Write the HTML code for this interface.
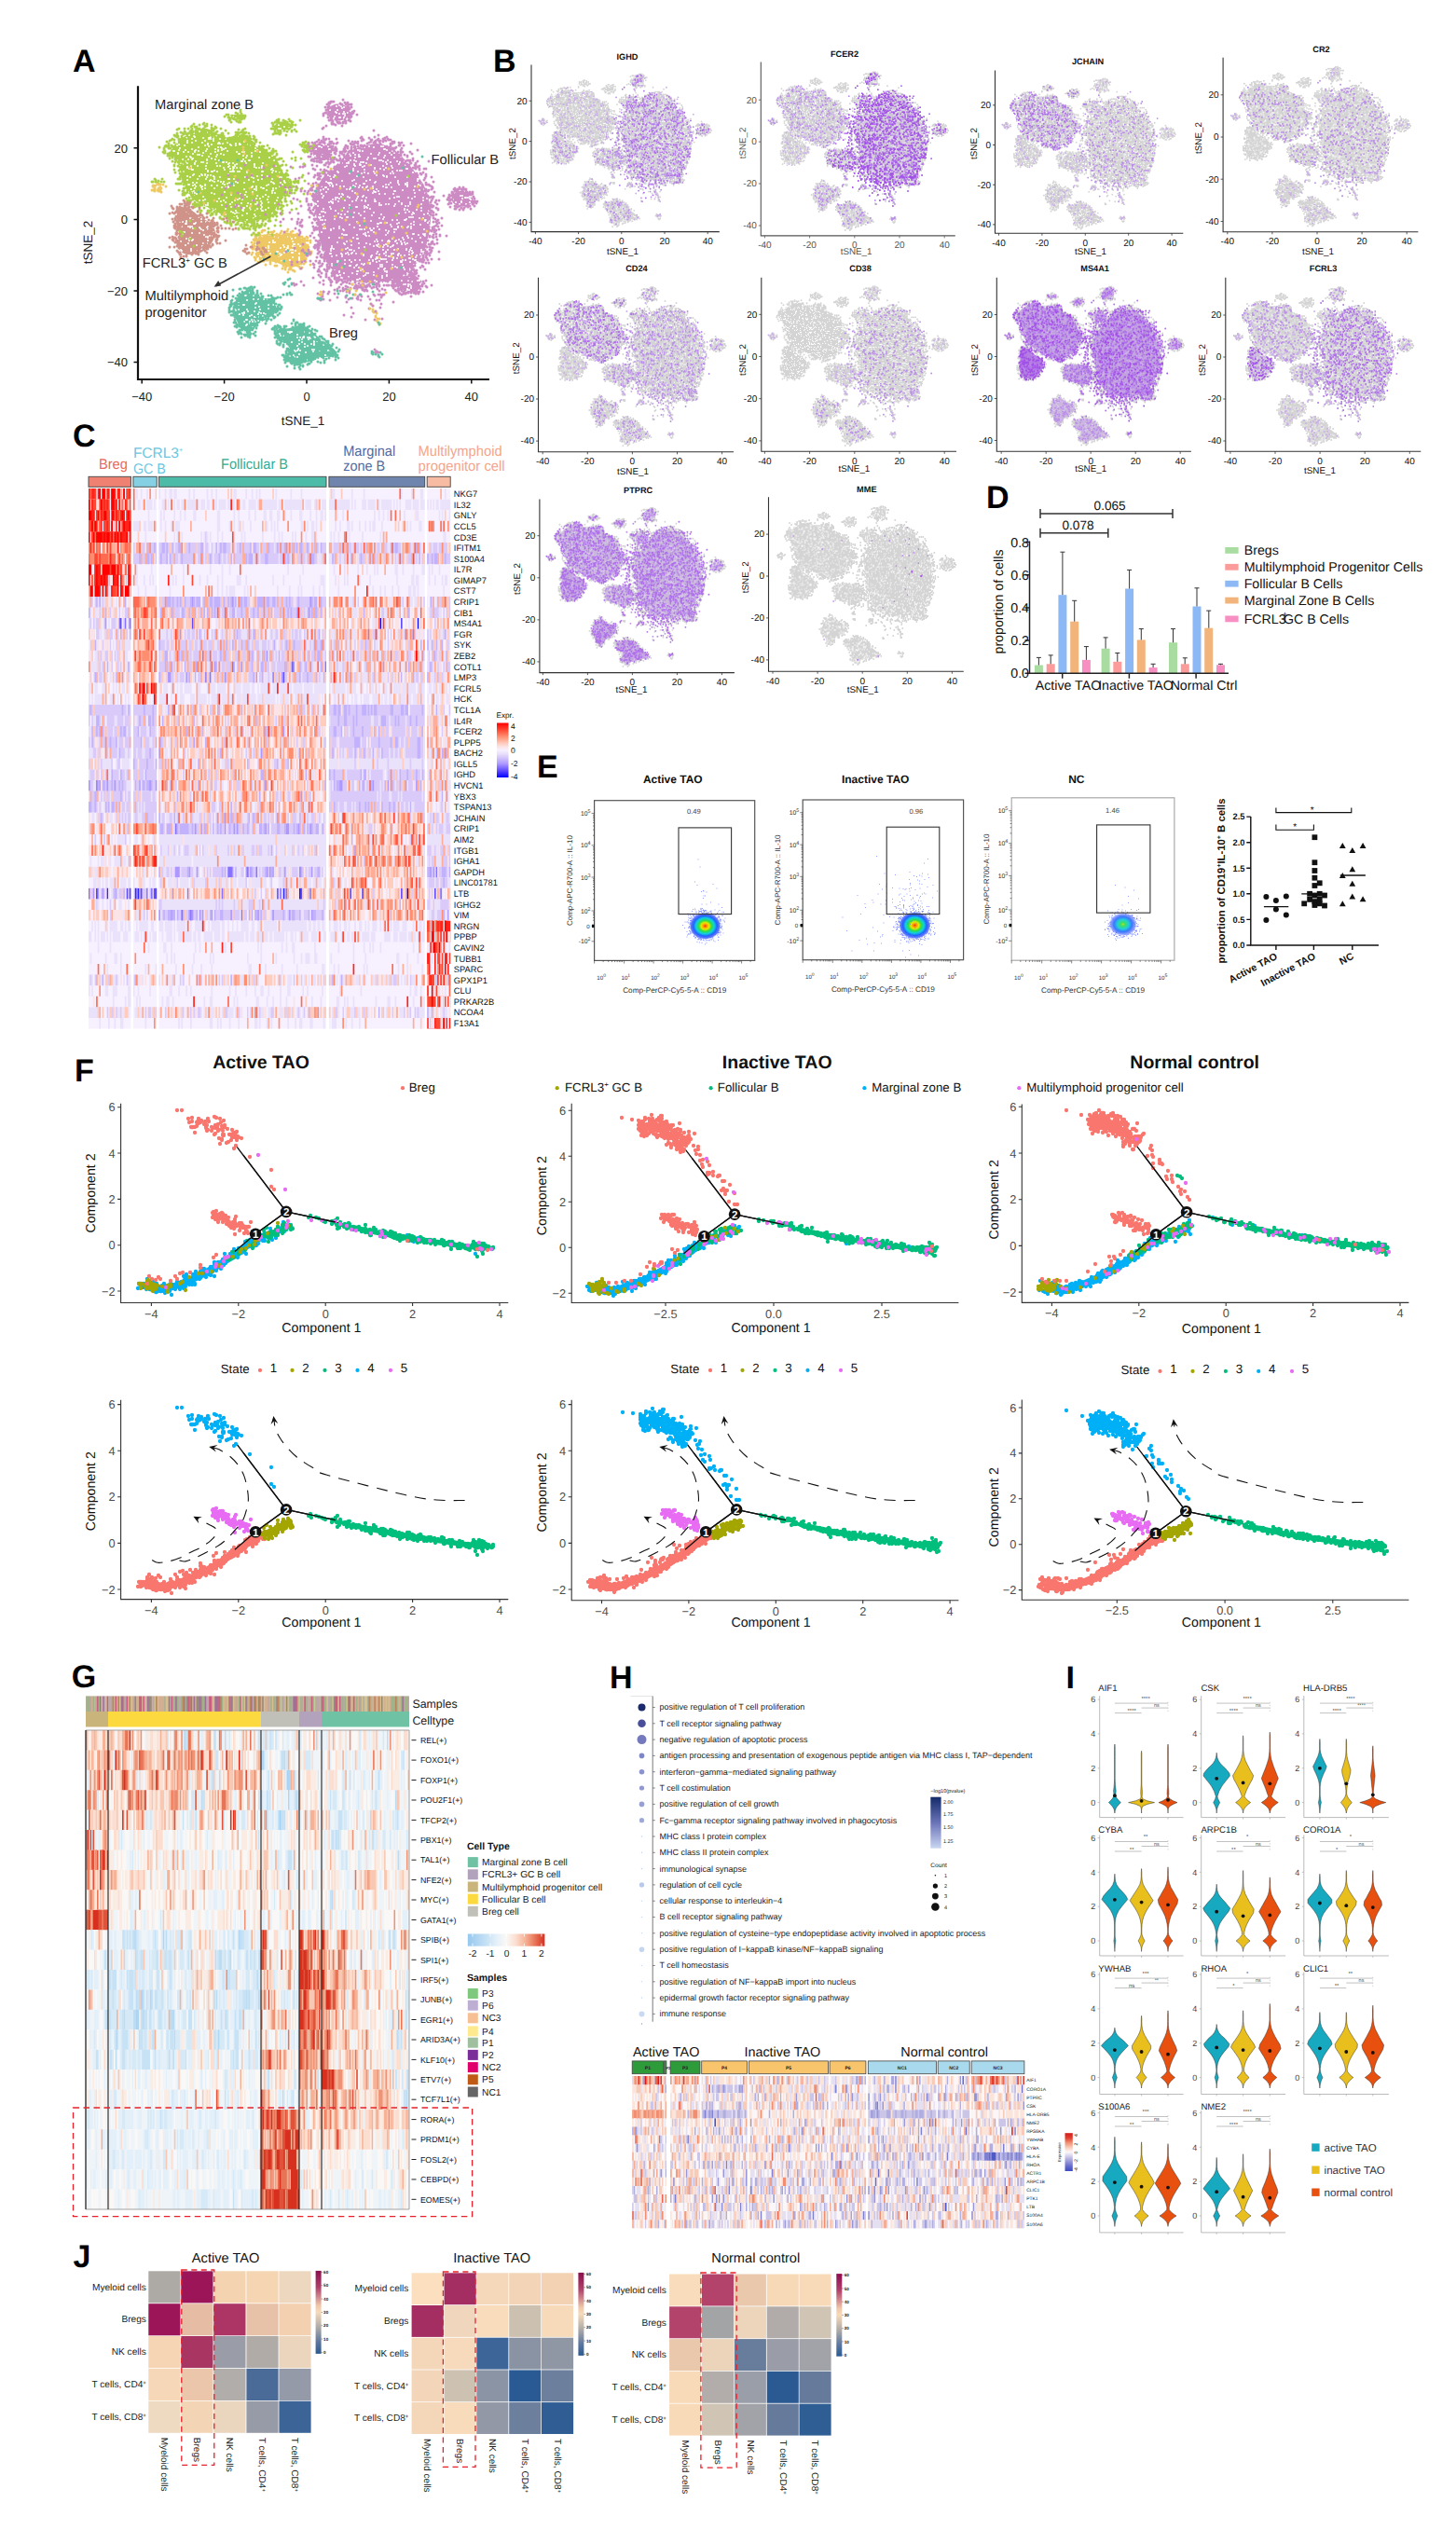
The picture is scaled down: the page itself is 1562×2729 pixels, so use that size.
<!DOCTYPE html>
<html><head><meta charset="utf-8"><title>Figure</title>
<style>html,body{margin:0;padding:0;background:#fff}svg{display:block;font-family:'Liberation Sans',sans-serif;text-rendering:geometricPrecision}</style>
</head><body>
<svg width="1562" height="2729" viewBox="0 0 1562 2729">
<rect width="1562" height="2729" fill="#fff"/>
<g id="panelA">
<path d="M379.8 160Q386.2 157.1 396.4 154.9Q406.6 152.7 415.1 156.6Q423.6 160.5 430.4 167.3Q437.2 174.1 443.1 181.7Q449.1 189.4 453.7 197Q458.3 204.7 460.6 217.4Q463 230.2 461.3 243.8Q459.6 257.3 455.5 267.5Q451.5 277.7 443.5 286.2Q435.5 294.7 421.9 300.2Q408.3 305.6 394.7 303.9Q381.1 302.2 370.9 298.8Q360.7 295.4 354.8 287.4Q348.8 279.4 345.9 268.4Q343.1 257.3 341.2 243.8Q339.3 230.2 337.6 220.8Q335.9 211.5 340.3 201.3Q344.8 191.1 352.7 184.3Q360.7 177.5 367 170.2Q373.3 162.9 379.8 160Z" fill="#cd8bc3"/>
<path d="M374.8 121.9Q375.1 120.5 374.8 119.1Q374.5 117.7 373.6 116.4Q372.8 115.1 371.4 114.1Q370.1 113.1 368.4 112.4Q366.7 111.8 364.9 111.5Q363 111.3 361.2 111.5Q359.3 111.8 357.6 112.4Q356 113.1 354.6 114.1Q353.3 115.1 352.5 116.4Q351.6 117.7 351.3 119.1Q351 120.5 351.3 121.9Q351.6 123.3 352.5 124.6Q353.3 125.9 354.6 126.9Q356 127.9 357.6 128.6Q359.3 129.2 361.2 129.5Q363 129.7 364.9 129.5Q366.7 129.2 368.4 128.6Q370.1 127.9 371.4 126.9Q372.8 125.9 373.6 124.6Q374.5 123.3 374.8 121.9Z" fill="#cd8bc3"/>
<path d="M356.1 164.1Q356.4 162.6 356.1 161.1Q355.9 159.6 355.1 158.2Q354.4 156.9 353.2 155.8Q352 154.7 350.6 154Q349.1 153.3 347.4 153.1Q345.8 152.8 344.2 153.1Q342.5 153.3 341 154Q339.6 154.7 338.4 155.8Q337.2 156.9 336.5 158.2Q335.7 159.6 335.4 161.1Q335.2 162.6 335.4 164.1Q335.7 165.7 336.5 167Q337.2 168.4 338.4 169.5Q339.6 170.6 341 171.3Q342.5 172 344.2 172.2Q345.8 172.4 347.4 172.2Q349.1 172 350.6 171.3Q352 170.6 353.2 169.5Q354.4 168.4 355.1 167Q355.9 165.7 356.1 164.1Z" fill="#cd8bc3"/>
<path d="M507.5 214.5Q507.7 213.2 507.5 211.9Q507.2 210.5 506.3 209.3Q505.5 208.1 504.2 207.2Q502.9 206.2 501.3 205.6Q499.7 205 497.9 204.8Q496.1 204.6 494.3 204.8Q492.5 205 490.8 205.6Q489.2 206.2 487.9 207.2Q486.6 208.1 485.8 209.3Q485 210.5 484.7 211.9Q484.4 213.2 484.7 214.5Q485 215.8 485.8 217Q486.6 218.2 487.9 219.2Q489.2 220.1 490.8 220.7Q492.5 221.3 494.3 221.6Q496.1 221.8 497.9 221.6Q499.7 221.3 501.3 220.7Q502.9 220.1 504.2 219.2Q505.5 218.2 506.3 217Q507.2 215.8 507.5 214.5Z" fill="#cd8bc3"/>
<path d="M452.6 305.8Q452.9 304.3 452.6 302.9Q452.3 301.5 451.3 300.2Q450.4 298.9 448.9 297.9Q447.4 296.9 445.5 296.3Q443.7 295.6 441.6 295.4Q439.5 295.1 437.4 295.4Q435.3 295.6 433.5 296.3Q431.6 296.9 430.1 297.9Q428.6 298.9 427.7 300.2Q426.7 301.5 426.4 302.9Q426.1 304.3 426.4 305.8Q426.7 307.2 427.7 308.5Q428.6 309.7 430.1 310.8Q431.6 311.8 433.5 312.4Q435.3 313.1 437.4 313.3Q439.5 313.5 441.6 313.3Q443.7 313.1 445.5 312.4Q447.4 311.8 448.9 310.8Q450.4 309.7 451.3 308.5Q452.3 307.2 452.6 305.8Z" fill="#cd8bc3"/>
<path d="M184.8 167.9Q180.3 163.4 186.1 156.4Q191.8 149.4 198.2 146.2Q204.6 143 211 139.8Q217.4 136.6 223.8 138.5Q230.1 140.4 234 144.3Q237.8 148.1 242.9 147.4Q248 146.8 254.4 144.9Q260.8 143 264.6 145.5Q268.5 148.1 270.4 152.6Q272.3 157 276.8 158.3Q281.2 159.6 287.6 162.8Q294 166 297.2 171.7Q300.4 177.5 302.3 182.6Q304.2 187.7 308.7 192.8Q313.2 197.9 310 203Q306.8 208.1 303.6 212.6Q300.4 217.1 297.2 222.2Q294 227.3 287.6 231.1Q281.2 235 274.8 237.5Q268.5 240.1 262.1 238.8Q255.7 237.5 249.3 235.6Q242.9 233.7 236.5 229.2Q230.1 224.7 223.8 222.8Q217.4 220.9 211 216.4Q204.6 212 200.1 203.7Q195.6 195.4 195 189Q194.4 182.6 191.8 177.5Q189.3 172.4 184.8 167.9Z" fill="#a9d046"/>
<path d="M259.7 126.3Q259.9 125.9 259.7 125.4Q259.5 124.9 258.9 124.5Q258.4 124.1 257.5 123.7Q256.7 123.4 255.6 123.2Q254.5 122.9 253.3 122.9Q252.1 122.8 250.9 122.9Q249.7 122.9 248.6 123.2Q247.5 123.4 246.7 123.7Q245.8 124.1 245.2 124.5Q244.7 124.9 244.5 125.4Q244.3 125.9 244.5 126.3Q244.7 126.8 245.2 127.2Q245.8 127.7 246.7 128Q247.5 128.3 248.6 128.6Q249.7 128.8 250.9 128.9Q252.1 128.9 253.3 128.9Q254.5 128.8 255.6 128.6Q256.7 128.3 257.5 128Q258.4 127.7 258.9 127.2Q259.5 126.8 259.7 126.3Z" fill="#a9d046"/>
<path d="M312.8 136.7Q313 135.8 312.8 135Q312.5 134.1 311.9 133.3Q311.2 132.6 310.2 132Q309.2 131.4 307.9 131Q306.6 130.6 305.2 130.4Q303.8 130.3 302.4 130.4Q301 130.6 299.7 131Q298.4 131.4 297.4 132Q296.4 132.6 295.7 133.3Q295.1 134.1 294.8 135Q294.6 135.8 294.8 136.7Q295.1 137.5 295.7 138.3Q296.4 139.1 297.4 139.7Q298.4 140.3 299.7 140.7Q301 141.1 302.4 141.2Q303.8 141.3 305.2 141.2Q306.6 141.1 307.9 140.7Q309.2 140.3 310.2 139.7Q311.2 139.1 311.9 138.3Q312.5 137.5 312.8 136.7Z" fill="#a9d046"/>
<path d="M333.1 158.1Q333.2 157.7 333.1 157.2Q333 156.7 332.7 156.3Q332.4 155.9 332 155.5Q331.5 155.2 330.9 155Q330.3 154.7 329.7 154.7Q329 154.6 328.3 154.7Q327.7 154.7 327.1 155Q326.5 155.2 326 155.5Q325.6 155.9 325.3 156.3Q325 156.7 324.9 157.2Q324.8 157.7 324.9 158.1Q325 158.6 325.3 159Q325.6 159.5 326 159.8Q326.5 160.1 327.1 160.3Q327.7 160.6 328.3 160.6Q329 160.7 329.7 160.6Q330.3 160.6 330.9 160.3Q331.5 160.1 332 159.8Q332.4 159.5 332.7 159Q333 158.6 333.1 158.1Z" fill="#a9d046"/>
<path d="M191.4 226.3Q192.2 224.1 196.1 222.4Q199.9 220.8 204.3 224.6Q208.7 228.5 213.7 231.8Q218.6 235.1 223.5 237.8Q228.5 240.6 230.1 245.5Q231.8 250.4 230.1 254.8Q228.5 259.2 225.2 263.1Q221.9 266.9 217.5 269.7Q213.1 272.4 208.2 273Q203.2 273.5 198.8 272.4Q194.4 271.3 191.7 266.4Q188.9 261.4 187.8 257.6Q186.7 253.7 188.4 249.3Q190 245 189.5 239.5Q188.9 234 189.8 231.2Q190.6 228.5 191.4 226.3Z" fill="#d09389"/>
<path d="M275.3 259.2Q275.9 253.5 280.4 252.2Q284.9 250.9 291.2 250.9Q297.6 250.9 304 250.3Q310.4 249.6 316.8 250.9Q323.2 252.2 326.4 257.3Q329.6 262.4 328.9 268.8Q328.3 275.2 325.7 279.7Q323.2 284.1 316.8 286.1Q310.4 288 304 284.8Q297.6 281.6 291.2 280.3Q284.9 279 280.4 277.8Q275.9 276.5 275.3 270.7Q274.6 265 275.3 259.2Z" fill="#eec862"/>
<path d="M249.6 332.3Q249.6 328.4 253.4 321.4Q257.2 314.4 263.6 311.8Q270 309.3 272.6 313.1Q275.1 316.9 279.6 318.8Q284.1 320.8 288.5 320.1Q293 319.5 294.9 324Q296.8 328.4 295.6 332.9Q294.3 337.4 289.2 340.6Q284.1 343.8 279.6 345.7Q275.1 347.6 272.6 353.3Q270 359.1 264.9 357.8Q259.8 356.5 257.2 350.8Q254.7 345 252.1 340.6Q249.6 336.1 249.6 332.3Z" fill="#62c2a3"/>
<path d="M297.4 359.2Q296.7 351.5 302.5 352.2Q308.2 352.8 312.1 351.5Q315.9 350.3 321 349.6Q326.1 349 329.9 351.5Q333.8 354.1 338.2 358.6Q342.7 363 347.2 366.2Q351.7 369.4 356.8 373.3Q361.9 377.1 360 380.3Q358 383.5 352.9 382.8Q347.8 382.2 342.1 384.8Q336.3 387.3 331.2 388Q326.1 388.6 322.3 390.8Q318.4 393.1 314.6 390.2Q310.8 387.3 308.2 385.4Q305.7 383.5 308.9 379Q312.1 374.5 310.1 372Q308.2 369.4 303.1 368.1Q298 366.9 297.4 359.2Z" fill="#62c2a3"/>
<path d="M364 113h0m5 2h0m-2 1h0m-1-2h0m-4 4h0m-1-4h0m-7 4h0m-107 7h0m3 0h0m102-2h0m7 2h0m1-5h0m1 1h0m3 1h0m4 0h0m1-2h0m1 2h0m0 2h0m3-3h0m-4 6h0m0-1h0m-4 0h0m-1 0h0m-6 1h0m-99 0h0m-6 0h0m-4 1h0m50 5h0m0 1h0m2-2h0m4 4h0m5 1h0m-2 3h0m-1 0h0m-4 0h0m-2-2h0m-2 0h0m-39 5h0m-31-2h0m-5 0h0m-1 1h0m-9-1h0m-6 2h0m-8 5h0m3-3h0m3 4h0m2-3h0m1 1h0m9 1h0m6 0h0m0 1h0m1-1h0m1-4h0m0 3h0m0 2h0m3 0h0m1-2h0m2-1h0m4 3h0m6 0h0m14-3h0m1-1h0m94 10h0m-1 0h0m-3 0h0m-2-1h0m-79 1h0m-3-4h0m-1 1h0m-4 3h0m-1 0h0m0-1h0m-4 0h0m-6 1h0m-3-2h0m-5 1h0m-3 0h0m-1-1h0m-1 1h0m-5-3h0m-2 4h0m-4 0h0m0-1h0m-3-3h0m-3 2h0m-7-2h0m-4 2h0m-5 0h0m0-2h0m-9 4h0m-2-2h0m-6 6h0m6-3h0m2 5h0m1-2h0m5-3h0m1 5h0m7-1h0m4 1h0m3-3h0m7-2h0m2 4h0m2-3h0m7 3h0m3-2h0m0 3h0m3-3h0m1 1h0m0 2h0m2-1h0m2-1h0m6-3h0m5 0h0m15 0h0m6 3h0m2 2h0m2-2h0m48-2h0m1 3h0m9 0h0m1 0h0m2 0h0m3-3h0m1 0h0m2 1h0m3-2h0m4 1h0m1 3h0m2 0h0m29 1h0m2-1h0m2-2h0m3 0h0m5-1h0m5 1h0m8-1h0m2 0h0m1 3h0m1 0h0m2 1h0m1-3h0m7 6h0m-2-2h0m-1 4h0m-2-2h0m-5 3h0m-6-3h0m-1 2h0m-8-1h0m-9-3h0m-3 0h0m-1 4h0m-4 0h0m-2-2h0m-3 3h0m-1-2h0m-20 0h0m-9 1h0m-8 1h0m-3-4h0m-43 4h0m-13-4h0m-5-1h0m-4 5h0m0-3h0m-5 3h0m-3-4h0m-1 4h0m-1-4h0m-3 2h0m-1 0h0m-2-2h0m-10-1h0m-4 4h0m-3-1h0m-3-3h0m-1 4h0m-2-3h0m-5 2h0m-5-3h0m-3 2h0m-1 3h0m-3-1h0m-1-4h0m-1 4h0m-3-3h0m0-1h0m-2 3h0m-5-2h0m-5 0h0m-6 2h0m0-1h0m-4-2h0m-1 5h0m0-5h0m0 7h0m4 3h0m6-1h0m3 2h0m1-5h0m2 3h0m2-3h0m1 1h0m1 2h0m1-1h0m3 3h0m12-2h0m0 1h0m2-4h0m3 2h0m4 1h0m1-3h0m3 4h0m24 1h0m1 0h0m1-2h0m2 2h0m1-4h0m3 3h0m1 0h0m2-4h0m8 1h0m11 0h0m5 3h0m45-3h0m6-1h0m25 3h0m6 1h0m4 0h0m1-3h0m1 4h0m3-5h0m1 0h0m8 3h0m1-2h0m6 1h0m2 0h0m4 2h0m2 0h0m2 1h0m1-4h0m4 3h0m7-3h0m3 4h0m4-5h0m4 5h0m4 4h0m-2-2h0m-1 2h0m-6-3h0m-1 2h0m-8 2h0m-1-4h0m-4 2h0m-1-2h0m-3 4h0m-13-1h0m-5-2h0m-2 3h0m-1-4h0m-1 5h0m0-5h0m-2 3h0m0-3h0m-1 3h0m0-1h0m-5 2h0m-1-1h0m0-1h0m-6-1h0m0-1h0m-2 4h0m0-3h0m-2 4h0m-3-4h0m-3 0h0m0-1h0m-68 4h0m-2 0h0m-12-3h0m-1 4h0m0-1h0m-8 1h0m0-2h0m0-1h0m-9-1h0m-10 1h0m-2 2h0m0-1h0m-2 2h0m0-4h0m-4 3h0m0-3h0m-1 4h0m0-3h0m-2-2h0m-3 0h0m-1 0h0m-3 4h0m-3 0h0m-1-3h0m-10 0h0m-1 3h0m-3-4h0m-2 0h0m-4 4h0m-3-2h0m0-1h0m-4 4h0m0-1h0m-4 1h0m0-4h0m-2-1h0m-3 2h0m-2-1h0m-1 3h0m4 6h0m4-4h0m2 1h0m2 0h0m1 1h0m1 0h0m14-1h0m2 2h0m0 1h0m4 0h0m1 0h0m2-1h0m3 1h0m7-4h0m1 2h0m6-1h0m0 3h0m2 0h0m1-3h0m0 2h0m1-3h0m0 4h0m3-4h0m1 4h0m2 0h0m1-4h0m1 1h0m6 3h0m0 1h0m10-5h0m3 0h0m3 0h0m0 4h0m1 0h0m9-2h0m1-1h0m0 4h0m1-2h0m3 1h0m4 1h0m57-3h0m5 2h0m1 1h0m16-4h0m0 2h0m5 1h0m7-2h0m0 3h0m10-1h0m1-4h0m0 1h0m2 3h0m4-3h0m4 1h0m2-2h0m7 0h0m0 4h0m5-1h0m3 0h0m2 0h0m5-2h0m1 0h0m6 4h0m-6 5h0m-13 0h0m-2-4h0m-3 0h0m-4 4h0m0-1h0m-3 0h0m-1-1h0m-7 0h0m-2-2h0m-7 0h0m-5 4h0m-2-4h0m-5 3h0m-8-3h0m-15 3h0m-1-1h0m-1 2h0m-4-1h0m-2-1h0m-50 2h0m-2 0h0m-13-1h0m-6-1h0m-5 1h0m-4 2h0m-2-1h0m-7 0h0m-18-3h0m-9 3h0m-6 0h0m-1-1h0m-3-1h0m-3 0h0m-1 2h0m-2-2h0m0-1h0m-3 1h0m-1-1h0m-2 2h0m-6-2h0m-1 1h0m-3 2h0m-3-1h0m-3 2h0m3 2h0m6 3h0m4 0h0m1-4h0m9 0h0m4 2h0m1-1h0m2 1h0m2-2h0m0 3h0m4-1h0m3 1h0m2 2h0m1-2h0m4 2h0m1-5h0m1 0h0m0 4h0m4 1h0m1-5h0m2 3h0m2 1h0m7 0h0m5-3h0m5 2h0m5-2h0m4-1h0m10 3h0m1-3h0m1 4h0m1 1h0m7-1h0m4-2h0m0 1h0m1 1h0m2 1h0m42-2h0m2 1h0m1 1h0m1-1h0m1-4h0m0 4h0m1 1h0m11-3h0m11 0h0m2-1h0m2 4h0m8 0h0m1 0h0m2-3h0m4-1h0m5 3h0m1-1h0m16 1h0m8-2h0m0 2h0m8 1h0m2-1h0m11-4h0m0 2h0m1-2h0m3 5h0m3 6h0m-4-4h0m-2-1h0m-4 2h0m-8 0h0m0-1h0m0-1h0m-2 0h0m-7 0h0m-8 3h0m-3-3h0m-2 3h0m-1 0h0m0-3h0m-3 2h0m-7 3h0m-4-1h0m0-2h0m-6 0h0m-1 1h0m-2 2h0m-2-2h0m-3-2h0m-1 2h0m-4-1h0m-2-1h0m-3 3h0m0-1h0m-1 2h0m-3 0h0m-3-3h0m-4 0h0m-4-2h0m-4 2h0m0-1h0m-3 0h0m-2 4h0m-2-2h0m-1 0h0m-2 2h0m-2-3h0m-37 3h0m-2-1h0m-3-4h0m-3 2h0m-4 2h0m-3 0h0m-5-4h0m-2 1h0m-3 3h0m-1 0h0m-2-1h0m-5 1h0m0-2h0m-2 3h0m-2-3h0m-1 1h0m-8 2h0m-11-4h0m-6 2h0m0-1h0m-3 1h0m-1-3h0m-3 3h0m-5-2h0m-3 3h0m-3-3h0m-7 3h0m0-3h0m0-1h0m-3 5h0m0-3h0m-1 1h0m-1-2h0m-5 1h0m-1 2h0m0-4h0m-2 1h0m-2 4h0m-2-5h0m-1 0h0m-4 1h0m4 7h0m1 3h0m3-3h0m0 1h0m2-2h0m1 2h0m2 1h0m16-1h0m3 1h0m11-2h0m7 3h0m10-1h0m5 1h0m1-3h0m7 0h0m4-2h0m10 5h0m1-5h0m6 1h0m0 2h0m1-3h0m2 3h0m13-3h0m32 4h0m1-3h0m2 0h0m1-1h0m1 4h0m5-2h0m14 2h0m3 0h0m1 1h0m10-4h0m3 2h0m2 1h0m12-4h0m5 3h0m1-2h0m1 1h0m1 0h0m3-1h0m1 3h0m6 0h0m9 0h0m1-3h0m1 0h0m8-1h0m12 0h0m1 3h0m5-3h0m6 3h0m43-2h0m7 6h0m-1 3h0m-1-1h0m0-2h0m-2 1h0m-2 0h0m-1 0h0m-3 1h0m0-3h0m-2 0h0m-8 4h0m-28-1h0m-4 2h0m0-3h0m-9-1h0m-3 2h0m-4-1h0m-10-1h0m-2 0h0m-3 1h0m-5 1h0m-16 1h0m-9-2h0m-1 3h0m-2-5h0m-1 1h0m-1 4h0m-4-4h0m-1 2h0m-1 2h0m-7-3h0m-2-1h0m-3 4h0m-2-2h0m-2-2h0m-2 2h0m-2-1h0m-2 2h0m0-2h0m-3 2h0m-10-4h0m-1 2h0m-7 0h0m-35-2h0m-6 2h0m-1 3h0m-9-4h0m-1 3h0m-5-3h0m-3 2h0m-3-3h0m-1 3h0m-4 2h0m-6-4h0m-5 3h0m0-1h0m-3 0h0m-2 1h0m-3 1h0m-9-3h0m-3 3h0m-5-2h0m-5 2h0m-10-1h0m-2 1h0m0-4h0m-4 4h0m-6-5h0m10 10h0m3 0h0m2-2h0m0 2h0m10-4h0m4 0h0m1 4h0m4-3h0m5 2h0m2-2h0m4 3h0m3 1h0m3-3h0m6 3h0m1-3h0m3 1h0m5 0h0m2-2h0m0 2h0m4-3h0m0 4h0m1-2h0m7-1h0m7 1h0m43 0h0m1 1h0m2-3h0m0 5h0m12-4h0m2-1h0m1 1h0m1 0h0m0 1h0m6-2h0m12 4h0m3-4h0m13 5h0m1-5h0m3 4h0m7-4h0m1 0h0m4 2h0m0 2h0m2 0h0m5-1h0m3 0h0m6 2h0m1-2h0m4-3h0m3 2h0m0 1h0m4 2h0m3 0h0m2-4h0m0 2h0m12 0h0m8 1h0m29-3h0m4 2h0m2-3h0m0 1h0m5 2h0m4-2h0m-44 9h0m-2-4h0m-6 4h0m0-3h0m-5 2h0m-8 2h0m-2-2h0m-3 0h0m0-1h0m-37 0h0m-3-1h0m-1-1h0m-2 5h0m0-4h0m-8-1h0m-1 0h0m-7 1h0m-2 4h0m-4-4h0m-2 3h0m-7 0h0m-5-2h0m-1-2h0m-7 5h0m0-3h0m-2 3h0m-48-4h0m-9 0h0m-3 2h0m-3 1h0m-1 0h0m0-4h0m-1 2h0m-4 3h0m0-3h0m-2 2h0m-5-1h0m-1-2h0m-6 0h0m-1 3h0m0-2h0m0-1h0m-1 2h0m-7 1h0m-5 1h0m0-5h0m-6 2h0m-11 0h0m-3 0h0m-28 3h0m-2-3h0m-1 0h0m6 6h0m2 0h0m0 3h0m2-4h0m6 4h0m29-3h0m8-2h0m1 5h0m1-4h0m2-1h0m0 4h0m2-3h0m4 2h0m5-2h0m8 1h0m1 2h0m5 0h0m7-2h0m56 3h0m1-3h0m1 3h0m3-1h0m2-4h0m10 4h0m4-3h0m2 4h0m1-3h0m4 0h0m2 3h0m1 0h0m6 0h0m1-5h0m5 1h0m2 2h0m12 0h0m2-3h0m8 2h0m3 3h0m16-4h0m7-1h0m4 5h0m2 0h0m1-3h0m1-2h0m0 5h0m1-4h0m11 1h0m4-1h0m2 2h0m1-3h0m-2 9h0m-1 2h0m-2-3h0m-1 1h0m0-1h0m-2-2h0m-4 0h0m-6 4h0m-8-3h0m-1 1h0m-1 0h0m-6 3h0m-2-3h0m-5 0h0m-6 3h0m-4-4h0m-2 4h0m-1 0h0m-1-5h0m-9 3h0m-7-3h0m-7 5h0m-1-1h0m-16-4h0m-8 1h0m-10 1h0m-3 0h0m-2 0h0m-1-2h0m-68 3h0m-3-3h0m-7 2h0m-2 3h0m0-1h0m-3-2h0m-1 0h0m-4-2h0m-11 0h0m-23 4h0m-5 0h0m0-3h0m-6 4h0m-3-4h0m-3-1h0m-4 4h0m0-1h0m-4 1h0m0-3h0m-3 3h0m-2 0h0m0 2h0m4 3h0m4-3h0m1 0h0m2 3h0m2 0h0m0 1h0m2-1h0m1 2h0m1-5h0m1 0h0m5 4h0m1 1h0m7-1h0m1-1h0m3 0h0m3 1h0m112-2h0m5-1h0m1 4h0m1-5h0m0 3h0m1 2h0m9 0h0m6-2h0m0 2h0m11-4h0m5 3h0m6-2h0m11 3h0m4 0h0m4-5h0m0 3h0m1-3h0m13 1h0m1 2h0m6-3h0m1 3h0m0 1h0m4-1h0m6 1h0m1-1h0m3-3h0m0 3h0m0 2h0m3-4h0m7 0h0m10 1h0m-2 5h0m-3 4h0m-1-5h0m-1 5h0m-10 0h0m-1 0h0m-18-5h0m-2 3h0m0-3h0m-6 2h0m-1 2h0m-2-3h0m-7-1h0m-6 3h0m-2-2h0m-1 0h0m-3 2h0m-3 1h0m-1-4h0m-1 5h0m-2-5h0m-2 0h0m-17 1h0m-1-1h0m-1 5h0m-12-4h0m0-1h0m-10 3h0m-43 2h0m-1 0h0m-72-2h0m-6-3h0m-5 1h0m-2-1h0m-2 4h0m-8 0h0m-8-1h0m-2 2h0m0-2h0m-3-1h0m-2 1h0m-3 4h0m2 1h0m1-2h0m0 4h0m9 0h0m3 0h0m1-1h0m3 2h0m12-5h0m2 2h0m2 0h0m0 1h0m1 0h0m1-2h0m3 0h0m53 1h0m7-1h0m3 0h0m2 2h0m1-1h0m5 1h0m7 1h0m3-2h0m2 0h0m2 2h0m4-1h0m6 0h0m30 0h0m11 0h0m5-3h0m2 0h0m1 0h0m7 3h0m4-3h0m0 4h0m1 0h0m8-4h0m1 1h0m3 0h0m8 4h0m10-5h0m7 4h0m7 1h0m4-2h0m1 2h0m4-4h0m1 2h0m4 1h0m7-4h0m2 3h0m4-3h0m1 1h0m3 4h0m-6 3h0m-7-1h0m-9 2h0m-2 1h0m-1-2h0m-3 2h0m0-1h0m-1-2h0m-4 2h0m-1-3h0m-1 1h0m-2 4h0m-4-4h0m-1 2h0m0-3h0m-1 1h0m-1 3h0m-1 0h0m-2 1h0m-2-5h0m-4 4h0m-1-3h0m-1 4h0m-2-4h0m-5 3h0m-4-1h0m-8 0h0m-8 2h0m0-4h0m-5 0h0m-2 3h0m-1-1h0m-7-1h0m-42 2h0m-4 0h0m-1 0h0m-1-3h0m-10 4h0m-9-3h0m-2 0h0m0-2h0m-4 2h0m-12-1h0m-54 2h0m0-3h0m-5 3h0m-7 2h0m-5-5h0m-3 0h0m-1 3h0m-3 2h0m-5-4h0m0 9h0m1 1h0m10-2h0m0 2h0m7 0h0m3-2h0m1 0h0m1-3h0m60 3h0m0 2h0m2-2h0m4-1h0m2 0h0m3-2h0m0 1h0m0 1h0m0 3h0m13-3h0m4-1h0m2 3h0m1-2h0m1-2h0m0 2h0m1 3h0m2-1h0m2-4h0m0 4h0m2-3h0m1 4h0m5-5h0m2 5h0m24 0h0m7-2h0m0 2h0m1-5h0m0 2h0m2 1h0m13 0h0m2-1h0m2 2h0m2 0h0m3 1h0m5-3h0m6-1h0m10-1h0m4 0h0m2 1h0m4 0h0m0 3h0m5-4h0m0 4h0m3-3h0m2-1h0m2 4h0m4-1h0m9 0h0m0 1h0m4 0h0m1-2h0m1 3h0m10-1h0m2 2h0m-2 0h0m-1 3h0m-4 1h0m-4-3h0m-1 1h0m-3 1h0m0-3h0m-5 4h0m-4 0h0m-2-2h0m-1 2h0m0-1h0m-5-1h0m-2 1h0m0-1h0m-1 3h0m-2 0h0m-3-1h0m0-3h0m0-1h0m-2 2h0m-5 1h0m-2-3h0m-1 2h0m-5 2h0m-1 1h0m-8-1h0m0-1h0m-8-1h0m-4-1h0m-1 1h0m-3 1h0m-1-2h0m-2 1h0m-4 3h0m0-2h0m-1-1h0m-5 2h0m-5 1h0m-1-3h0m-1 0h0m-7-1h0m-21 0h0m-4 2h0m-1-1h0m-7-1h0m-1 0h0m-4-1h0m-4 1h0m-3 2h0m-1 1h0m-1-2h0m-2-2h0m-1 0h0m-7 2h0m-4 3h0m-4-2h0m0-1h0m-2 3h0m-1-1h0m-3 1h0m-67-2h0m73 5h0m15-2h0m2 0h0m3 4h0m5 0h0m4-1h0m3-3h0m7 0h0m0 1h0m0 1h0m0 1h0m4 2h0m37-1h0m0 1h0m2-1h0m6-1h0m5 0h0m2 2h0m4-2h0m5 0h0m10 0h0m2-3h0m2 3h0m0 1h0m3-2h0m1-2h0m0 1h0m0 4h0m1-5h0m0 1h0m2 3h0m1-3h0m1 1h0m1 0h0m2 0h0m2 0h0m1 3h0m6-2h0m1-3h0m0 1h0m4 0h0m4 3h0m0 1h0m1 0h0m1-2h0m3 0h0m4-2h0m1 0h0m0 4h0m3-3h0m2 1h0m1-3h0m0 3h0m1 2h0m-3 4h0m0-1h0m-1 2h0m-10 1h0m-1-3h0m-6 3h0m-2-1h0m-3 1h0m0-3h0m-11 2h0m0-2h0m-2 2h0m0-2h0m-11-1h0m0-1h0m-6 1h0m-1 1h0m-2-1h0m-3 4h0m-2-3h0m-1 1h0m-2 2h0m-4-2h0m-1 0h0m-5-2h0m-14 2h0m0-2h0m-2 3h0m-41 1h0m-5-5h0m50 9h0m1-1h0m5 1h0m0 1h0m5 1h0m9 0h0m5-2h0m1 0h0m3-1h0m2-1h0m4 4h0m2 0h0m6-1h0m5-4h0m6 1h0m1-1h0m0 3h0m2 0h0m0 1h0m19-3h0m2 4h0m4-5h0m0 1h0m-1 9h0m-24-2h0m0-1h0m-5 3h0m0-2h0m-9-1h0m-9 0h0m-2 1h0m-4 3h0m-3-5h0m-9 3h0m-9-2h0m-1 1h0m-2 0h0m21 4h0m1 0h0m11 4h0m7-3h0m0 3h0m2-2h0m3 2h0m2-1h0m3 0h0m9-3h0m10 1h0m2 4h0m2 0h0m3-4h0m0 4h0m2 0h0m2-3h0m6-1h0m2-1h0m0 1h0m1 4h0m1-1h0m-11 5h0m0-2h0m-2 4h0m-1-4h0m0-1h0m-1 5h0m0-1h0m-8-2h0m-168 7h0m2 2h0m1 0h0m4-3h0m4 3h0m1-2h0m159-3h0m4 1h0m-142 10h0m-7 0h0m0-1h0m-4-1h0m-6 0h0m-5 0h0m-7 1h0m-9 3h0m0 2h0m5 0h0m1 0h0m12-1h0m1-1h0m3 4h0m10-2h0m5 0h0m3 0h0m-8 4h0m-9 1h0m-1 3h0m-4-5h0m-1 4h0m-7 0h0m-1-2h0m-3 3h0m-6-3h0m-3 1h0m-1-1h0m0 7h0m4-2h0m1 0h0m3-1h0m1 2h0m1-2h0m6 3h0m2-1h0m3 2h0m1 1h0m3-4h0m1 3h0m2-4h0m2 3h0m0 1h0m0 1h0m1-5h0m0 5h0m2-4h0m1 4h0m-6 4h0m-3-1h0m-3 1h0m-1-2h0m-2 2h0m-1-2h0m-2 4h0m0-2h0m-3-2h0m-1 0h0m-2 2h0m2 4h0m1-1h0m6 2h0m63 6h0m-2 1h0m-5-1h0m-8 3h0m-6-3h0m-1 0h0m-1 1h0m0-1h0m-2 0h0m-9 2h0m-2-3h0m0-1h0m-28 2h0m-7 0h0m-1-1h0m39 5h0m1 4h0m1 1h0m1-5h0m15 2h0m2 3h0m1-3h0m2 2h0m1-2h0m1-1h0m0 1h0m4 0h0m1 2h0m1-2h0m1 1h0m4-2h0m1 1h0m0 1h0m7 2h0m9 6h0m-7-1h0m-7-3h0m-3 3h0m0-1h0m0-2h0m0-1h0m-3 3h0m-4 2h0m-3-2h0m-3-2h0m-3 2h0m-2 2h0m-6-4h0m-7 2h0m-3-1h0m-2-2h0m12 6h0m3 4h0m1 1h0m2-1h0m1-2h0m0 1h0m2 1h0m5-4h0m8 3h0m1 2h0m1-2h0m6 2h0m2 0h0m7-1h0m2 1h0m5 3h0m-10 1h0m-8 1h0m0-1h0m-13-3h0m-7 2h0m-2 3h0m-3 0h0m0-5h0m-1 3h0m-4 1h0m-2-2h0m-1 1h0m6 4h0m13 3h0m3-2h0m4-2h0m6 1h0m3-1h0" stroke="#fff" stroke-width="2" stroke-linecap="round" fill="none"/>
<path d="M368 107h0m9 5h0m-1 0h0m-2 0h0m-1-1h0m0-1h0m-2 2h0m-1-2h0m-3 2h0m-2-1h0m-7-2h0m-2 0h0m-1 0h0m-1 2h0m-1 0h0m0-1h0m-2 2h0m-2 3h0m1 3h0m1 0h0m1-3h0m0 1h0m0 1h0m1-3h0m20 0h0m0 2h0m1-1h0m0 2h0m1 0h0m2-2h0m3 4h0m3 4h0m-4-2h0m-1 1h0m0-2h0m-1 5h0m0-3h0m-1 2h0m-1-3h0m-1 4h0m0-2h0m-22 0h0m-2-2h0m-1 0h0m-2 3h0m0-2h0m5 4h0m1 3h0m2-2h0m0 1h0m0 1h0m1 0h0m1 1h0m4-1h0m1 2h0m2 0h0m4 0h0m2-3h0m0 2h0m1 0h0m3-4h0m0 3h0m1 0h0m1-3h0m0 4h0m-5 2h0m-3 0h0m-1 3h0m-2-3h0m-2 0h0m-3 2h0m-2-1h0m-2 0h0m0-1h0m-9 17h0m3 0h0m37-1h0m1-1h0m1 2h0m7-1h0m10 1h0m5 0h0m2-1h0m10 5h0m0-1h0m-1 1h0m-1 1h0m0-2h0m-2 3h0m0-1h0m-2-4h0m-3 1h0m-2-1h0m-1 2h0m0-1h0m-3 3h0m0-3h0m-1 1h0m-2-2h0m-2 3h0m0-2h0m-1 1h0m-1 1h0m-2-3h0m-1 2h0m0-2h0m-2 3h0m-2 1h0m-4-4h0m-2 1h0m-4 3h0m0-2h0m-1 1h0m-1 0h0m-1-1h0m-1 2h0m-1 1h0m-1-3h0m-1 3h0m-1-1h0m-18 0h0m-2-2h0m-1 2h0m-1-1h0m-1 2h0m-1 0h0m-3-5h0m-2 2h0m-2 0h0m-1 1h0m-1 0h0m-1-3h0m-2 2h0m-2 3h0m0-2h0m-1 2h0m-2-2h0m-4 6h0m0 2h0m1-4h0m0 3h0m0 1h0m1-4h0m1 0h0m1 0h0m0 2h0m1-2h0m0 2h0m0 1h0m1-1h0m1-3h0m18 2h0m0 2h0m1-3h0m1 3h0m1 1h0m1-2h0m1 1h0m8 0h0m0 1h0m1-3h0m0 2h0m1-4h0m1 1h0m1 0h0m0 1h0m0 1h0m4-1h0m0 1h0m0 2h0m3-3h0m1-1h0m0 2h0m3-2h0m2 2h0m1-3h0m1 0h0m0 1h0m2 0h0m1-1h0m24 1h0m1 1h0m2 0h0m1-1h0m2 2h0m0 1h0m1-1h0m1 0h0m1 0h0m1-1h0m3-2h0m1 0h0m1 5h0m1-2h0m2-3h0m7 7h0m-3 4h0m-3-1h0m-2-3h0m-2 4h0m0-1h0m0-1h0m0-2h0m-1 3h0m-2-3h0m-4-1h0m-48 1h0m0-1h0m-1 1h0m-1 2h0m-2-3h0m-1 1h0m0-1h0m-1 5h0m0-1h0m0-4h0m-2 3h0m0-2h0m-2 1h0m0-1h0m-1 4h0m-3-5h0m-1 3h0m-1-1h0m-4 2h0m-20-4h0m-1 3h0m0-3h0m-1 0h0m-4 0h0m2 6h0m2 0h0m1 4h0m1 0h0m1-1h0m2-1h0m1 0h0m1 0h0m0 3h0m2 0h0m1-1h0m1 0h0m8-1h0m2-3h0m1 2h0m0 1h0m1 1h0m0 1h0m1 0h0m1-2h0m1-2h0m2 2h0m1 1h0m2 0h0m1-2h0m0 1h0m6-1h0m64 3h0m2-5h0m0 4h0m1 0h0m2 0h0m3-2h0m0 2h0m5 1h0m2 5h0m-2 1h0m-2-1h0m0-2h0m0-1h0m-1 2h0m-4-2h0m-1-1h0m-1 3h0m-1 0h0m-2-1h0m-70-1h0m-4 4h0m-3 0h0m-1-5h0m-3 0h0m-1 1h0m-1 1h0m0-1h0m-1 4h0m0-5h0m-2 1h0m-1 2h0m-1 0h0m-3-3h0m-2 0h0m1 8h0m2 3h0m1-1h0m1-2h0m0 3h0m1-2h0m1 0h0m2 1h0m3-1h0m1 1h0m3-2h0m84-2h0m1 0h0m2 1h0m4 0h0m0 1h0m4 3h0m1-4h0m2 8h0m0-2h0m-1 4h0m-4-4h0m-1-1h0m-3 2h0m-1-2h0m-93 1h0m-5 4h0m0-2h0m0-2h0m-1-1h0m-2 0h0m-2 3h0m-1-3h0m-1 5h0m0-3h0m-1 0h0m0-1h0m0-1h0m-3 2h0m-1 2h0m-1 7h0m3-1h0m2-4h0m2 0h0m3 1h0m1-1h0m104 4h0m4-3h0m2 3h0m43 7h0m-1 0h0m-2 0h0m0-2h0m-2 2h0m-2-2h0m-1 2h0m-1 0h0m-3-1h0m-1 1h0m-23-1h0m0-1h0m-1 2h0m0-3h0m-2-1h0m-1-1h0m-2 0h0m-1 5h0m0-5h0m-1 5h0m-3-5h0m-108 0h0m-1 1h0m-1-1h0m-1 0h0m-1 1h0m0-1h0m-1 4h0m-4-2h0m-1 1h0m-1 1h0m-1 1h0m-3 4h0m0 1h0m1-3h0m3-1h0m1 0h0m1 4h0m2-3h0m0 4h0m1-4h0m0 4h0m1-2h0m2-2h0m114 0h0m1-1h0m0 4h0m2-3h0m1-1h0m6 2h0m16 3h0m3-3h0m0 1h0m1 0h0m0 1h0m0 1h0m2-5h0m0 1h0m1-1h0m1 2h0m1-2h0m0 2h0m5-2h0m4 1h0m1 1h0m3 0h0m1 2h0m2-2h0m0 2h0m2 5h0m-1-2h0m-23 3h0m-1 0h0m0-4h0m-1 5h0m-1 0h0m0-2h0m0-2h0m0-1h0m-1 3h0m0-1h0m-1 2h0m-12 1h0m-3-4h0m-1 2h0m-1 2h0m0-4h0m-2 1h0m-2-1h0m0-1h0m-120 3h0m0-1h0m-2 3h0m0-3h0m0-2h0m-1 4h0m0-3h0m-1-1h0m-6 4h0m0-1h0m0 3h0m2 3h0m0 1h0m3-1h0m0 1h0m4-4h0m120 2h0m2 2h0m0 1h0m1-1h0m0 1h0m1-4h0m1 3h0m2 1h0m2-4h0m2 2h0m12 0h0m1-1h0m2 0h0m4 3h0m1 0h0m4 0h0m7 0h0m2-1h0m2 1h0m3-5h0m0 2h0m0 1h0m1-3h0m0 2h0m1-2h0m0 5h0m1-5h0m1 2h0m1-2h0m-7 8h0m-3-2h0m-4 1h0m-1 2h0m-2-2h0m-2 2h0m-2-3h0m-2 2h0m-1 0h0m-5-2h0m-13 3h0m0-1h0m-2-1h0m-4 4h0m0-5h0m-1 4h0m-1-4h0m-1 3h0m0-2h0m-2-1h0m-1 0h0m-119 5h0m-1-5h0m-1 1h0m-1 2h0m-3 2h0m0-1h0m-1-3h0m-1 2h0m1 8h0m1-5h0m1 0h0m1 1h0m2 2h0m1-2h0m123 4h0m1-5h0m0 2h0m2 1h0m1-3h0m0 3h0m3-1h0m2 6h0m-1 1h0m-1 1h0m-1-3h0m-2 3h0m0-4h0m-6 2h0m-119 3h0m-1-4h0m-1 1h0m0-1h0m-1 0h0m-2 4h0m1 4h0m1 2h0m2-1h0m2-3h0m0 4h0m3-5h0m0 5h0m1-2h0m114-1h0m1 1h0m4 1h0m2-1h0m2-1h0m1-2h0m2 6h0m-3 5h0m0-4h0m-1 1h0m-1 1h0m0-1h0m0-2h0m-2 0h0m-1 2h0m-2-1h0m-2 2h0m0-1h0m0-2h0m-116 1h0m-3-1h0m-2 0h0m-1 1h0m0-1h0m-2 4h0m-2 3h0m4 2h0m5-3h0m1 0h0m0 1h0m1 1h0m0 1h0m1-1h0m112 1h0m4-2h0m0 1h0m3 0h0m1-2h0m0 3h0m3-1h0m1 7h0m-3 1h0m-2-1h0m0-2h0m-1 1h0m-1 2h0m-2 0h0m-1-4h0m-113 0h0m-3 5h0m0-2h0m0-3h0m-2 4h0m0-3h0m-2 4h0m0-5h0m-1 5h0m-1 2h0m1 1h0m2-2h0m1 2h0m0 2h0m1-3h0m0 1h0m4 1h0m2 1h0m1 0h0m106-3h0m1-1h0m0 4h0m1-4h0m1 1h0m3 0h0m0 3h0m2-2h0m0 3h0m1-3h0m-2 5h0m-2 1h0m-1 0h0m-1 1h0m0-3h0m-1 5h0m0-4h0m0-1h0m-1 2h0m0-1h0m-2 3h0m-104-3h0m-1 1h0m-1 2h0m-3-1h0m-1 2h0m0-1h0m-1-4h0m-1 1h0m-1 1h0m-2 8h0m1-4h0m3 4h0m2-4h0m2 0h0m1 0h0m0 2h0m0 2h0m2-3h0m1 3h0m1 0h0m0 1h0m97-3h0m1 2h0m1-2h0m0 1h0m1 1h0m1-2h0m0 3h0m1-5h0m0 1h0m0 1h0m0 3h0m1-2h0m2-3h0m1 1h0m1 2h0m-2 3h0m-3 4h0m-1-1h0m-2 2h0m-6-2h0m0-3h0m-2 4h0m0-1h0m-1 2h0m-1 0h0m-87-1h0m-2 0h0m-1 0h0m0-2h0m-5-1h0m-1 2h0m-2 1h0m0-4h0m-1 0h0m0 7h0m6 0h0m2 2h0m1-2h0m0 2h0m1-3h0m1 0h0m3 5h0m1-2h0m0 1h0m1 1h0m1-2h0m0 1h0m1 1h0m75 0h0m3-2h0m1 1h0m1 0h0m1-1h0m1-2h0m0 4h0m2-4h0m0 1h0m1 2h0m1-1h0m1-1h0m0 3h0m2 3h0m-3-2h0m-2 2h0m0-1h0m-1 1h0m0-1h0m0-1h0m-2 5h0m0-3h0m0-1h0m0-1h0m-2 5h0m0-4h0m-1 4h0m-1-1h0m-1 0h0m-1-1h0m0-3h0m-2 4h0m-2 0h0m0-1h0m0-1h0m-1 2h0m-1 1h0m0-3h0m0-2h0m-1 5h0m0-1h0m0-4h0m-1 3h0m-1 2h0m0-1h0m-2 0h0m0-1h0m-1 2h0m-1-2h0m-48 2h0m-2-1h0m-1 1h0m-2 0h0m-5-2h0m-1 2h0m0-1h0m-2 0h0m-2 1h0m0-2h0m0-2h0m-2 0h0m-1 1h0m-6-2h0m4 6h0m1 1h0m1 1h0m5-1h0m0 2h0m1-1h0m1-1h0m2-1h0m1 0h0m0 5h0m1-4h0m1 2h0m2-1h0m2 1h0m1-2h0m2 3h0m1-3h0m2 4h0m3-3h0m0 1h0m4 1h0m4 1h0m1 0h0m6 0h0m5-1h0m1 1h0m2 0h0m2-1h0m10-2h0m5-1h0m0 2h0m1-2h0m0 4h0m1-2h0m1-1h0m1-1h0m1 1h0m0 1h0m0 1h0m0 1h0m1-4h0m4 3h0m2-4h0m8 0h0m12 5h0m1-3h0m1 2h0m2-3h0m6 5h0m-5 2h0m-1-1h0m-4 0h0m0-1h0m-2 4h0m-21 0h0m-2 1h0m0-1h0m-1 0h0m0-3h0m-2-1h0m-1 5h0m0-4h0m-1-1h0m-1 3h0m0-2h0m-1 0h0m-1-1h0m-3 0h0m-2 0h0m-2 5h0m-1-5h0m-2 4h0m-3-3h0m0-1h0m-2 4h0m-1-2h0m0-2h0m-3 2h0m-2 1h0m-2-2h0m-3 0h0m0-1h0m-1 5h0m0-3h0m0-1h0m-1 1h0m0-1h0m-1 4h0m-2 0h0m0-2h0m0-1h0m0-1h0m-1 2h0m0-2h0m-1-1h0m-1 2h0m-2 0h0m0-1h0m-1 3h0m-1-1h0m0-1h0m0-2h0m-1 1h0m-1 2h0m-4 0h0m-3-1h0m-2-1h0m20 5h0m3 0h0m13 0h0m18 0h0m2 0h0m1 2h0m1 1h0m2-3h0m0 4h0m2-3h0m0 1h0m0 1h0m2 0h0m1-1h0m2 0h0m3-1h0m0 1h0m3 0h0m1-1h0m1 2h0m1-3h0m1 1h0m1 1h0m0 1h0m1-2h0m4 0h0m-13 5h0" stroke="#cd8bc3" stroke-width="3" stroke-linecap="round" fill="none"/>
<path d="M258 118h0m5 7h0m0-1h0m-1 1h0m-1-1h0m-2 1h0m0-3h0m-1-2h0m-1 4h0m-1 1h0m-1 0h0m0-3h0m-2-1h0m-4 3h0m-4-1h0m-2 0h0m-2 2h0m4 1h0m1 0h0m0 3h0m1-1h0m1 3h0m2-4h0m2 1h0m1 0h0m1 2h0m2-3h0m0 4h0m1-4h0m0 3h0m1 1h0m1-4h0m0 1h0m1-1h0m2 0h0m33 4h0m2-2h0m0 2h0m1 0h0m1-3h0m0 2h0m5-1h0m2 1h0m0 1h0m2 0h0m2-3h0m1 2h0m1 0h0m1 1h0m1 0h0m8-2h0m-5 5h0m-3 0h0m-1 2h0m0-2h0m0-2h0m-11 0h0m-2 0h0m-1 0h0m-3 5h0m-1-1h0m-2-1h0m0-2h0m-1-1h0m-60 5h0m-1-1h0m-4 1h0m0-3h0m-5 1h0m0-2h0m-2 3h0m0-1h0m-1-3h0m-1 1h0m-4 1h0m-3 2h0m-1 1h0m-1-1h0m-1-3h0m-2 2h0m-1 1h0m-15 3h0m0 4h0m2-5h0m2 4h0m2 1h0m2-5h0m0 3h0m1 1h0m3-4h0m0 5h0m2-2h0m0 1h0m1-2h0m0 1h0m0 1h0m1-4h0m0 2h0m0 1h0m0 1h0m1-1h0m0 1h0m3-2h0m2-2h0m2 0h0m4 0h0m1 1h0m5 2h0m0 1h0m2 0h0m0 1h0m1-4h0m0 1h0m0 1h0m1-3h0m0 1h0m1 1h0m1-2h0m2 4h0m1-1h0m4-3h0m1 5h0m1 0h0m3-3h0m3 3h0m8-1h0m2 0h0m1-3h0m0 4h0m2-1h0m2-2h0m0 2h0m1-3h0m1 3h0m1-4h0m0 5h0m1-1h0m3 1h0m24-5h0m1 0h0m2 0h0m1 1h0m0 2h0m0 1h0m0 1h0m2 0h0m1-3h0m1 1h0m0 2h0m2-2h0m0 2h0m4-3h0m3 1h0m2-3h0m3 2h0m0 1h0m3-2h0m2 2h0m-11 4h0m-7-1h0m-7 0h0m-20 3h0m-1 2h0m0-3h0m-3 3h0m-1-2h0m0-1h0m-2 2h0m-1-2h0m-3 3h0m-1-5h0m-4 2h0m-2-2h0m-1 4h0m0-3h0m-1 0h0m-1 2h0m-1 0h0m-4 2h0m-1-1h0m-5 0h0m-1-2h0m-1-2h0m-1 3h0m-1-2h0m-2 0h0m-2 3h0m-1 1h0m-1-2h0m-3-1h0m0-2h0m-1 1h0m0-1h0m-21 1h0m-5-1h0m-1 0h0m-1 5h0m-2 0h0m0-5h0m-2 4h0m0-2h0m-3 3h0m-1-3h0m-1 1h0m0-3h0m-2 2h0m-1-1h0m-2 4h0m-6 3h0m2 2h0m0 1h0m1-4h0m2-1h0m3 3h0m5-3h0m1 1h0m0 1h0m1-2h0m44 2h0m7-1h0m22 1h0m0 3h0m3-3h0m0 1h0m1 0h0m2 1h0m0 1h0m1-5h0m0 1h0m1-1h0m0 2h0m4 1h0m43 2h0m3-2h0m0 1h0m2-1h0m1-1h0m2 3h0m1-2h0m0 1h0m6 2h0m-1 0h0m-2 3h0m-3 1h0m-1 0h0m0-4h0m-3 2h0m0-1h0m0-1h0m-1 5h0m-1 0h0m-1-4h0m0-1h0m-31 4h0m-4-1h0m-2-3h0m-1 5h0m-2 0h0m-1-4h0m-1 3h0m0-3h0m-1 0h0m-1 2h0m-2 0h0m0-2h0m-11-1h0m-82 1h0m-1-1h0m-1 3h0m-2 0h0m0-2h0m-2 0h0m-1-1h0m-1 1h0m-1 3h0m0-1h0m-5-1h0m4 5h0m1 1h0m1-2h0m0 1h0m0 1h0m3 1h0m0 2h0m1-2h0m0 1h0m1-2h0m0 3h0m1-3h0m0 3h0m1-4h0m0 4h0m2 0h0m99-5h0m0 2h0m1 0h0m4 0h0m0 2h0m2-4h0m0 1h0m0 2h0m1-2h0m0 1h0m1-2h0m2 0h0m1 3h0m0 1h0m29-4h0m1 1h0m1-1h0m2 1h0m-26 10h0m-2-3h0m-2 0h0m-1 1h0m-2 0h0m-2-3h0m-2 2h0m-1 0h0m-98 3h0m-1-2h0m-1 2h0m-3-1h0m-1-1h0m-3 2h0m0-4h0m-3 1h0m5 7h0m0 1h0m1-4h0m3 4h0m2 1h0m2-2h0m1 2h0m100-3h0m1-1h0m4 3h0m2-1h0m4 0h0m1 6h0m-6 2h0m0-2h0m-4-1h0m-101 0h0m-4 0h0m-1 1h0m-4 2h0m-1-3h0m6 4h0m0 4h0m1-3h0m0 1h0m0 1h0m1-1h0m0 1h0m1-3h0m0 3h0m0 2h0m1-1h0m0 1h0m1-5h0m1 5h0m102-5h0m2 2h0m1 0h0m2-1h0m0 1h0m0 1h0m0 2h0m1-5h0m1 1h0m0 1h0m1 0h0m9 7h0m-2 1h0m-1-1h0m-3 2h0m-1-3h0m0-1h0m-2-1h0m-1 5h0m-111-3h0m-1 1h0m0-3h0m-2 5h0m-1 0h0m0-5h0m-2 5h0m0-5h0m-2 5h0m8 1h0m0 4h0m1 0h0m2-3h0m108 0h0m2 1h0m1-1h0m0 2h0m1-3h0m1 3h0m1-1h0m1 0h0m3 0h0m0 4h0m-1 0h0m-1 3h0m-3 0h0m0-3h0m-2 1h0m-3 4h0m0-1h0m0-2h0m-1 0h0m-102 2h0m0-1h0m-4-1h0m0-1h0m-1 2h0m-2 2h0m0-2h0m-1-2h0m-1 4h0m0-1h0m0-3h0m-4-1h0m8 9h0m1 2h0m2-3h0m0 3h0m2 0h0m1-4h0m1-1h0m0 4h0m1-3h0m0 1h0m94-1h0m4-1h0m0 3h0m0 2h0m4-5h0m-3 6h0m-1 0h0m-2 5h0m-2-1h0m0-3h0m-1-1h0m-1 4h0m-3-2h0m-71 3h0m-9-1h0m-2 0h0m0-2h0m-2 2h0m-1-1h0m-1 2h0m0-2h0m-1 1h0m-1 0h0m0-3h0m-2 2h0m-3-3h0m-1 2h0m-2-1h0m8 5h0m5 0h0m0 3h0m2 1h0m3-3h0m4 3h0m0 1h0m1-1h0m1-4h0m1 1h0m0 3h0m1-1h0m3-2h0m0 4h0m3 0h0m3 0h0m2 0h0m52 0h0m3-5h0m1 4h0m0 1h0m1 0h0m3-5h0m0 2h0m3 0h0m1-1h0m1 3h0m0 3h0m-1 1h0m0-2h0m-5 4h0m0-4h0m-1 1h0m0-1h0m-1 2h0m-1-1h0m-2 2h0m-2 1h0m0-2h0m-1 1h0m-1-2h0m-1 4h0m-1-2h0m-2 1h0m-2 0h0m-1 1h0m0-1h0m-2 1h0m-30 0h0m-3 0h0m0-1h0m-1 1h0m-4-1h0m-2-2h0m-1 0h0m-2 3h0m-4-3h0m0-1h0m-4 1h0m0-1h0m-1 0h0m-1 2h0m-2-3h0m-1 0h0m-8 0h0m13 8h0m8-2h0m2 1h0m1 0h0m2 3h0m2 1h0m1-5h0m0 5h0m2-4h0m1 1h0m0 2h0m0 1h0m4-5h0m0 4h0m4 1h0m1-2h0m2-2h0m2 1h0m1 1h0m4 1h0m2-1h0m2 0h0m1 2h0m1 0h0m2 0h0m3-4h0m0 1h0m0 1h0m4-3h0m1 0h0m1 1h0m2 0h0m1 0h0m3 2h0m1-3h0m1 3h0m6-1h0m-11 4h0m-1 2h0m-3-1h0m-1 2h0m0-1h0m-1 1h0m-1-1h0m-2 0h0m0-1h0m-1 2h0m-1 1h0m-1 1h0m0-1h0m0-3h0m-1 4h0m0-3h0m0-2h0m-1 2h0m-1 0h0m-1 1h0m-2 2h0m-2-4h0m0-1h0m-1 1h0m-1 4h0m-1-2h0m0-2h0m-1 4h0m-1-1h0m-1-3h0m-1 1h0m-3-2h0m-2 1h0m-5 1h0m0-1h0m0-1h0m-1 0h0m21 6h0" stroke="#a9d046" stroke-width="3" stroke-linecap="round" fill="none"/>
<path d="M195 219h0m3-1h0m0 3h0m1-2h0m0 2h0m1-1h0m1-3h0m0 1h0m0 2h0m2-1h0m11 4h0m-2 4h0m-5-4h0m0-1h0m-1 0h0m-2 3h0m-1-3h0m-1 5h0m0-4h0m-1 1h0m-1 2h0m-1 0h0m0-4h0m-1 3h0m0-2h0m-1 4h0m-1-3h0m-1-1h0m-1 2h0m-1 1h0m0-4h0m-1 4h0m0-2h0m-1 3h0m-1-2h0m0-2h0m0-1h0m-5 1h0m-3 6h0m5 0h0m1-1h0m1 4h0m2-4h0m0 1h0m1-1h0m0 2h0m3 1h0m1-2h0m8 1h0m1 0h0m1-2h0m2 1h0m0 3h0m1-1h0m3 1h0m2-1h0m1-1h0m0 1h0m2 0h0m1 2h0m4-4h0m0 4h0m11 6h0m-3 0h0m-2-2h0m-1 1h0m0-1h0m-1 2h0m-2-3h0m-5-2h0m-6 4h0m-1-2h0m-1-2h0m-4 0h0m-11 1h0m-2 2h0m0-3h0m-1 0h0m-1 2h0m-1 2h0m0-2h0m0-2h0m-1 4h0m-2-2h0m0-2h0m-2 4h0m-1-3h0m2 7h0m0 2h0m1-4h0m0 2h0m0 3h0m1-2h0m2-3h0m1 4h0m2-2h0m22-2h0m2 0h0m0 2h0m7 0h0m0 2h0m1-4h0m0 3h0m1-3h0m0 1h0m2-1h0m0 2h0m0 1h0m1-1h0m2-1h0m1 0h0m0 4h0m1-1h0m0 1h0m0 4h0m0-1h0m-1 0h0m-3 2h0m-1 0h0m-2-1h0m0-2h0m-3 0h0m-29 3h0m-1-4h0m-1 0h0m-3 5h0m0-1h0m0-3h0m-1 4h0m0-1h0m-7 5h0m3-1h0m0 3h0m1-1h0m0 1h0m1-2h0m1 0h0m4 0h0m1-1h0m1 1h0m31 0h0m4-3h0m0 1h0m1 1h0m2-2h0m0 1h0m0 4h0m1-4h0m0 1h0m0 1h0m0 2h0m1-3h0m1-1h0m1 8h0m-3 0h0m-1-2h0m-4 4h0m-4-2h0m-4 0h0m-28-1h0m-1 3h0m-1-5h0m-2 2h0m-2-2h0m-4 7h0m5 0h0m3-1h0m0 5h0m1-5h0m1 2h0m2-1h0m2 0h0m4 4h0m1 0h0m8-1h0m4 0h0m0 1h0m1-1h0m1-2h0m3-1h0m1 0h0m1 4h0m2-2h0m1-3h0m0 2h0m0 1h0m2-3h0m1 1h0m-4 6h0m-8-1h0m-1 3h0m0-3h0m-1 2h0m0-1h0m-2 1h0m0-2h0m-1 1h0m-3 2h0m-5-2h0m-1 4h0m0-1h0m-1-4h0m-2 5h0m-3-2h0m-1 0h0m0-2h0m-1 0h0m-1-1h0m3 6h0" stroke="#d09389" stroke-width="3" stroke-linecap="round" fill="none"/>
<path d="M273 251h0m4-1h0m4-2h0m0 1h0m1-2h0m2 0h0m4 3h0m3-1h0m1 1h0m1-1h0m1-1h0m3 3h0m4-1h0m1-2h0m4 1h0m2-1h0m1-2h0m0 5h0m3-2h0m2-1h0m5 3h0m11 4h0m-1-1h0m-2 2h0m-1 0h0m-1 1h0m-1-3h0m-2 0h0m-1 2h0m0-1h0m-2 1h0m0-1h0m0-3h0m-2 0h0m-2 1h0m-3-1h0m-1 0h0m-1 3h0m0-1h0m-4 2h0m-2-2h0m0-1h0m-1 0h0m-3 2h0m0-3h0m-7 3h0m0-2h0m-2 1h0m-1 0h0m-2 1h0m0-1h0m-1-2h0m-2 5h0m0-2h0m-1 0h0m-1-1h0m0-1h0m-3 2h0m-1-1h0m0-1h0m0-1h0m-4 5h0m0-2h0m0-2h0m-1 2h0m0-2h0m0-1h0m-2 5h0m-2 3h0m1 3h0m2-5h0m0 3h0m1-3h0m2 1h0m2 3h0m0 1h0m1-5h0m42 0h0m3 0h0m1 5h0m1-3h0m0 2h0m1 0h0m1-4h0m1 5h0m1-5h0m0 5h0m3-5h0m0 2h0m-2 5h0m-1 2h0m0-3h0m-1 5h0m0-4h0m-1 4h0m0-3h0m-1 2h0m0-3h0m0-1h0m-1 1h0m-46 3h0m0-3h0m0-1h0m-2 2h0m-1 0h0m0-1h0m-1 2h0m0-3h0m-3 0h0m-1 3h0m0-2h0m-1 2h0m0-1h0m-4 5h0m3 2h0m1-2h0m4 1h0m0 1h0m1 2h0m2-3h0m2 1h0m1-3h0m1 3h0m41 0h0m0 1h0m1-4h0m1 1h0m0 1h0m0 2h0m1-2h0m0 2h0m4-3h0m0 3h0m2-4h0m1 1h0m0 2h0m1-3h0m0 1h0m-6 10h0m0-3h0m0-1h0m-2 2h0m0-1h0m-1 0h0m-3 3h0m-7 0h0m-7 0h0m0-1h0m-5 1h0m-4-4h0m-2 3h0m0-4h0m-1 5h0m0-3h0m-3 1h0m-3 2h0m0-1h0m0-4h0m-3 3h0m-1 0h0m0-3h0m-3 4h0m-2 0h0m-2 1h0m0-3h0m-2 3h0m-3-2h0m0-2h0m-1-1h0m12 8h0m5-1h0m5 2h0m2 0h0m7 0h0m2 2h0m1-5h0m0 4h0m1-4h0m0 1h0m1 1h0m2 1h0m1 2h0m1-2h0m1 0h0m2-2h0m1-1h0m2 0h0m0 3h0m2 1h0m2-3h0m1 4h0m2-4h0m7 1h0m-11 4h0m-6 3h0m-1-1h0m-1 0h0m-2-2h0m-1 1h0m0-1h0m-1 1h0m-1 3h0m-3-3h0m-3-1h0" stroke="#eec862" stroke-width="3" stroke-linecap="round" fill="none"/>
<path d="M250 311h0m7-1h0m1 0h0m4-1h0m1 0h0m2 1h0m2-1h0m1 1h0m0 1h0m1-3h0m1 0h0m1 2h0m2-2h0m18 9h0m-3 0h0m-8-2h0m-3 2h0m-1-2h0m0-1h0m0-2h0m-4 3h0m-1-3h0m-1 3h0m0-3h0m-1 2h0m0-2h0m-3 5h0m-1-3h0m0-2h0m-1 2h0m-3 2h0m0-1h0m-1 1h0m0-3h0m-1 4h0m-2-2h0m-2 2h0m-7 6h0m1-1h0m1-4h0m3 2h0m2 2h0m1-2h0m1 1h0m1-2h0m0 4h0m1-5h0m1 0h0m15 2h0m2-2h0m2 4h0m0 1h0m1-3h0m1-2h0m0 2h0m0 1h0m1-3h0m5 5h0m1-1h0m3-1h0m1-2h0m0 3h0m2-2h0m0 1h0m0 2h0m2-3h0m2-1h0m3 0h0m1 10h0m-2-2h0m-1 0h0m-1 2h0m-2-3h0m-4 3h0m0-4h0m-1 3h0m0-2h0m0-2h0m-2 0h0m-2 1h0m-6 0h0m0-1h0m-25 2h0m-3 3h0m-1 0h0m0-4h0m-2 1h0m-2 2h0m0-2h0m0-1h0m-1 4h0m0-1h0m0-1h0m-1 3h0m0 1h0m0 2h0m0 2h0m1-1h0m2 0h0m2-4h0m0 3h0m3 2h0m1-5h0m0 4h0m0 1h0m33-1h0m0 1h0m1-1h0m2-3h0m0 2h0m0 2h0m2 0h0m2-4h0m0 2h0m1 2h0m1-4h0m0 3h0m1-2h0m0 1h0m2-2h0m1 1h0m1-2h0m-2 6h0m-2 2h0m-3 2h0m-1 1h0m-1-2h0m0-3h0m-1 2h0m-1-2h0m-2 0h0m-1 2h0m-1-1h0m-2 3h0m0-1h0m-1 0h0m-2 2h0m-3-1h0m-24-1h0m0-3h0m-1 3h0m-2 1h0m0-3h0m-1-1h0m-1 2h0m-1 0h0m-1 0h0m3 8h0m1-3h0m0 2h0m1 1h0m4 1h0m3-2h0m1 2h0m8 0h0m5-5h0m1 1h0m1 3h0m9 1h0m1-4h0m0 1h0m1-2h0m1 0h0m3 1h0m27 3h0m8 1h0m9 6h0m-3-3h0m-2 1h0m-1 1h0m-2 1h0m-1-2h0m0-2h0m0-1h0m-1 2h0m0-1h0m0-1h0m-1 5h0m-1-3h0m0-2h0m-1 1h0m0-1h0m-1 1h0m0-1h0m-2 3h0m-2 2h0m0-4h0m-2 4h0m-1-2h0m-7-1h0m-2 3h0m0-1h0m0-2h0m-3 3h0m-1 0h0m0-2h0m-1 0h0m0-1h0m-1 1h0m0-1h0m-1-1h0m-1 4h0m-1-2h0m-1-1h0m-1 3h0m0-1h0m-1 0h0m-1 1h0m-16-4h0m-1 3h0m0-3h0m-1 0h0m-3 0h0m-3 4h0m-10-3h0m0-2h0m-1 2h0m0-1h0m-1 0h0m-1 0h0m-1 2h0m0-1h0m0-2h0m-2 2h0m3 6h0m1 2h0m1-4h0m0 3h0m1 0h0m1-3h0m0 4h0m3 1h0m1-5h0m0 5h0m2 0h0m1-3h0m0 2h0m1 0h0m2 0h0m3 0h0m2-2h0m21-1h0m0 1h0m0 2h0m1-1h0m0 1h0m0 1h0m1-2h0m1-2h0m5 4h0m16-5h0m2 0h0m3 0h0m4 2h0m1 1h0m1-1h0m4-1h0m0 1h0m2 3h0m1 0h0m1-5h0m0 4h0m2-3h0m8 9h0m-2-1h0m-1-2h0m-2 0h0m-2 2h0m-3 1h0m-3 0h0m0-2h0m0-1h0m-29 2h0m-3 1h0m-2 0h0m0-1h0m-1 2h0m0-1h0m0-1h0m0-1h0m-1 1h0m0-1h0m-1 1h0m0-1h0m0-1h0m-1 0h0m0-1h0m-2 2h0m-21-2h0m-6 2h0m0-2h0m-2 1h0m-3-1h0m-4 2h0m38 4h0m0 2h0m1 1h0m1 0h0m1 1h0m1-2h0m1-2h0m2 4h0m0 1h0m7 0h0m5-1h0m24-2h0m2 2h0m1-2h0m1-1h0m0 2h0m1 1h0m3-2h0m2-2h0m1 1h0m1-1h0m0 1h0m0 2h0m0 2h0m1-1h0m2 1h0m1 0h0m1-2h0m7 6h0m-1 2h0m-2-4h0m-6 3h0m-7-3h0m-3 4h0m-32-5h0m-1 0h0m-1 4h0m-1 1h0m0-2h0m-1 0h0m0-1h0m-1 1h0m0-1h0m-1 3h0m-3-5h0m-1 9h0m1 0h0m1 2h0m1-1h0m1-3h0m0 3h0m0 1h0m1-1h0m1-2h0m0 2h0m3-2h0m1 3h0m2-5h0m1 1h0m13 4h0m8 0h0m2 0h0m1-2h0m1 2h0m1-4h0m0 2h0m1-3h0m0 2h0m0 1h0m1-1h0m2 3h0m5-4h0m2-1h0m2 3h0m1-3h0m1 0h0m0 4h0m1-3h0m0 1h0m1 0h0m1-2h0m0 1h0m0 1h0m0 1h0m0 2h0m1-1h0m1-1h0m1 3h0m-3 2h0m-7-2h0m-3 1h0m-2 4h0m0-2h0m-1-3h0m-3 5h0m-3-1h0m-6-4h0m-1 4h0m-1-4h0m-2 2h0m-4 2h0m-2-4h0m-2 5h0m-1-2h0m-1 2h0m-1-1h0m0-1h0m0-1h0m-1 1h0m-1 1h0m-3 1h0m0-5h0m-1 4h0m0-2h0m-2 3h0m0-2h0m0-1h0m0-1h0m-2 2h0m0-3h0m-1 3h0m0-3h0m-1 2h0m0-1h0m-1 2h0m0-3h0m-1 5h0m-1-3h0m3 7h0m5-3h0m3 1h0m0 1h0m0 3h0m2-5h0m1 1h0m1-1h0m1 4h0m1-2h0m3 0h0m0 1h0m5-2h0m1-1h0m1 0h0m-10 6h0" stroke="#62c2a3" stroke-width="3" stroke-linecap="round" fill="none"/>
<path d="M347 137h0m3-2h0m51 5h0m-55-2h0m1 9h0m6 2h0m8 0h0m41-2h0m4-2h0m9 2h0m1 2h0m25 5h0m-10-1h0m-2 2h0m0-1h0m-1-1h0m-9-3h0m-45 1h0m-12 2h0m-1 1h0m-7-2h0m-6 1h0m-3-2h0m-14 3h0m18 3h0m6 0h0m2 4h0m3-3h0m88 3h0m-6 4h0m-89-1h0m0-1h0m-3 1h0m-2 3h0m0-1h0m-2 1h0m-9-3h0m-2 7h0m1 1h0m1 1h0m3 0h0m1-4h0m119 4h0m-120 5h0m-5-1h0m-8 1h0m0-1h0m-1-1h0m-1 3h0m-3 0h0m-10 0h0m24 2h0m2 1h0m119-1h0m6 9h0m-132-4h0m-10 5h0m-4 1h0m14 5h0m134-2h0m-142 8h0m-5-2h0m-7 0h0m-5 0h0m0 5h0m5 1h0m12-2h0m4 0h0m149 5h0m-5 5h0m-152-1h0m4 7h0m-3 8h0m-9-1h0m-10 1h0m0 9h0m3-3h0m9 0h0m6 3h0m1-3h0m2 4h0m1-1h0m1-2h0m147 3h0m3-5h0m0 8h0m-4 1h0m-146 0h0m0-1h0m-2 0h0m-3-2h0m-2 5h0m-12 4h0m16-2h0m1 2h0m0 1h0m157 3h0m-7 0h0m0-1h0m-3 5h0m-148-5h0m4 10h0m6 7h0m0-1h0m-6 1h0m0-1h0m-1 1h0m-8-3h0m-9 4h0m20 1h0m2 3h0m1 0h0m1-2h0m2-1h0m0 1h0m128 2h0m10-4h0m0 8h0m-8 0h0m-130 2h0m-6 0h0m-3 1h0m-5 0h0m-6 0h0m0 3h0m23-1h0m1 1h0m0 3h0m123-5h0m-4 7h0m-111 4h0m-2-2h0m-2 0h0m-18-3h0m13 10h0m6-3h0m2 2h0m6-1h0m0 1h0m3 1h0m0 1h0m92-2h0m-5 6h0m-85 0h0m-1-3h0m-7 5h0m0-4h0m-4 2h0m-20-1h0m3 4h0m29 0h0m4 5h0m3-1h0m2-2h0m4 1h0m0 1h0m1 1h0m2-1h0m59-2h0m-18 8h0m-1 0h0m-1 1h0m-2-1h0m-2 0h0m-4 1h0m-1-1h0m-15 0h0m-5 0h0m-6-2h0m0-2h0m-3 1h0m-4-1h0m-3 0h0m-6 3h0m-6-2h0m-1 2h0m-5-2h0m7 9h0m8-3h0m9-1h0m0 1h0m3 2h0m4-1h0m5 0h0m1-2h0m0 1h0m0 2h0m3 1h0m1-4h0m7 0h0m2 3h0m7 1h0m3 0h0m2-3h0m13 5h0m-13 2h0m-37-2h0m5 6h0m19 1h0m12-1h0m-29 6h0m-2 4h0m-8-2h0m23 5h0m10 0h0m8-1h0" stroke="#cd8bc3" stroke-width="3" stroke-linecap="round" fill="none"/>
<path d="M270 226h0m5 1h0m1 0h0m20 1h0m-3 4h0m-9-2h0m-6 0h0m-16 0h0m-6 0h0m-3 6h0m6-1h0m3 4h0m6-1h0m1-1h0m4-2h0m4 1h0m5 1h0m3-3h0m4 1h0m12 7h0m-6 0h0m-7 3h0m-7-5h0m-3 4h0m-2-4h0m-2 5h0m-1-1h0m-7-2h0m-1 3h0m-9 0h0m-1-5h0m1 6h0m16 4h0m2-3h0m4 3h0m10-1h0m4 3h0m-15 0h0m-2 0h0m-5 0h0" stroke="#a9d046" stroke-width="3" stroke-linecap="round" fill="none"/>
<path d="M314 163h0m9 7h0m-6 2h0m0-3h0m-4 1h0m13 6h0m-12 4h0m-9 8h0m19 2h0m1-2h0m2 6h0m-7 2h0m0-2h0m-3 0h0m-5 1h0m7 7h0m5 0h0m2 6h0m-15-4h0m-7 5h0m4 11h0m4-4h0m1 2h0m9-2h0m-4 8h0m-5 1h0" stroke="#a9d046" stroke-width="3" stroke-linecap="round" fill="none"/>
<path d="M187 150h0m9 17h0m-12-2h0m15 6h0m8 7h0m-4-1h0m0-3h0m-5 0h0m-2 0h0m5 11h0" stroke="#a9d046" stroke-width="3" stroke-linecap="round" fill="none"/>
<path d="M222 239h0m6-2h0m1-3h0m11 1h0m3-1h0m1 3h0m6 1h0m3 7h0m-7 0h0m-4 0h0m-4 0h0m-1-3h0m-3 2h0m-1-4h0m-5 1h0m-5-1h0m-6 4h0m5 5h0m6-3h0m22 0h0m-8 12h0m-14 4h0" stroke="#d09389" stroke-width="3" stroke-linecap="round" fill="none"/>
<path d="M264 263h0m12-2h0m1-1h0m1 0h0m7 8h0m-2-1h0m0-1h0m-1 0h0m-4 1h0m-1 0h0m-1-2h0m-1 3h0m0-1h0m-5-2h0m-1 0h0m-4 2h0m-2 0h0m-2 2h0m2 1h0m2 2h0m2-1h0m13-1h0m1 2h0m1 1h0m2-3h0m2 0h0" stroke="#d09389" stroke-width="3" stroke-linecap="round" fill="none"/>
<path d="M197 215h0m7 2h0m-6-1h0m-5 3h0m-9 2h0m2 3h0m3 3h0m16 5h0m-3-1h0m-4 1h0m-5 0h0m-8-4h0" stroke="#d09389" stroke-width="3" stroke-linecap="round" fill="none"/>
<path d="M396 177h0m21 4h0m-13 4h0m-49-4h0m-21 18h0m6 0h0m25 3h0m26 1h0m7-1h0m50-2h0m-65 8h0m-50 0h0m116 12h0m-1 2h0m-88 10h0m93 3h0m-40 4h0m-22-2h0m-7 2h0m-13-3h0m-23 7h0m45 1h0m39 0h0m26 4h0m-22 2h0m-33 0h0m-36 5h0m55 0h0m-6 6h0m-40-3h0m-9 10h0m41-4h0m18 4h0m16 7h0m-22 0h0m-32-3h0m19 4h0m24 0h0m-36 6h0m-28 5h0m20 1h0m3 3h0m30-3h0m-16 8h0m-16 6h0" stroke="#eec862" stroke-width="3" stroke-linecap="round" fill="none"/>
<path d="M376 184h0m56-4h0m-47 8h0m-6 13h0m-40 4h0m37 18h0m0 7h0m15 10h0m-26 40h0m-5 4h0m9 2h0m61 1h0" stroke="#62c2a3" stroke-width="3" stroke-linecap="round" fill="none"/>
<path d="M357 169h0m-11 16h0m15 5h0m77-1h0m-70 24h0m-2 12h0m59 6h0m-33 37h0" stroke="#a9d046" stroke-width="3" stroke-linecap="round" fill="none"/>
<path d="M263 151h0m-2 10h0m0-3h0m1 7h0m14-3h0m10 15h0m-82 3h0m62 3h0m32 6h0m-28-2h0m-18 2h0m16 13h0m3 6h0m-23-1h0m-33 0h0m15 8h0m23-2h0m16 8h0m-50-3h0m21 12h0m1-2h0m0 1h0" stroke="#eec862" stroke-width="3" stroke-linecap="round" fill="none"/>
<path d="M263 177h0m31 1h0m-11 2h0m-38 8h0m20 2h0m5-2h0m13 2h0m6-1h0m12 4h0m-46 0h0m-13 9h0m5-3h0m54 0h0m-42 10h0m-4-2h0m-17 2h0m22 3h0m12 3h0m43-2h0m-16 6h0m-22 1h0m-23 0h0m-11 1h0m9 1h0m7 1h0m26 7h0" stroke="#cd8bc3" stroke-width="3" stroke-linecap="round" fill="none"/>
<path d="M237 172h0m18 0h0m-6 25h0m-36 9h0" stroke="#62c2a3" stroke-width="3" stroke-linecap="round" fill="none"/>
<path d="M204 237h0m5 8h0m-16 3h0m2 1h0m1 1h0m8 6h0m-9-3h0m13 11h0" stroke="#a9d046" stroke-width="3" stroke-linecap="round" fill="none"/>
<path d="M309 269h0m20 3h0m-33 0h0m-13 6h0m22 2h0" stroke="#62c2a3" stroke-width="3" stroke-linecap="round" fill="none"/>
<path d="M163 195h0m1 0h0m2-3h0m1 1h0m0 2h0m2 1h0m1-2h0m0 3h0m3-2h0m1-3h0m2 3h0" stroke="#a9d046" stroke-width="3" stroke-linecap="round" fill="none"/>
<path d="M169 197h0m9 3h0m-3-2h0m-2 4h0m-1-1h0m0-3h0m-2 4h0m0-4h0m-3 1h0m-1 4h0m0-1h0m-1-3h0m-1 1h0m0-1h0m-1 5h0m1 0h0m2 1h0m3-1h0m1 1h0m1-1h0m1 0h0m0 1h0m1 1h0" stroke="#eec862" stroke-width="3" stroke-linecap="round" fill="none"/>
<path d="M311 299h0m2 6h0m0-1h0m-4-4h0m-3 3h0m-1 2h0m-1-1h0m6 3h0" stroke="#62c2a3" stroke-width="3" stroke-linecap="round" fill="none"/>
<path d="M315 304h0m3 1h0m-2 1h0" stroke="#cd8bc3" stroke-width="3" stroke-linecap="round" fill="none"/>
<path d="M304 316h0m4-1h0m0 1h0m3-2h0m1 2h0m1 0h0" stroke="#62c2a3" stroke-width="3" stroke-linecap="round" fill="none"/>
<path d="M341 315h0m4 1h0m0 1h0m1-1h0m1-3h0m0 8h0m-1-3h0m-2 4h0m0-2h0m-1 1h0m-2-1h0" stroke="#cd8bc3" stroke-width="3" stroke-linecap="round" fill="none"/>
<path d="M341 320h0m2 0h0m2 1h0" stroke="#62c2a3" stroke-width="3" stroke-linecap="round" fill="none"/>
<path d="M343 316h0m1-3h0m1 3h0" stroke="#eec862" stroke-width="3" stroke-linecap="round" fill="none"/>
<path d="M398 326h0m2 2h0m3 6h0m-2 1h0m-1-1h0m0-2h0m-3-1h0m6 8h0m0 1h0m1-4h0m4 11h0m-1-5h0m-1 4h0m-1-4h0m-1 2h0m3 4h0" stroke="#eec862" stroke-width="3" stroke-linecap="round" fill="none"/>
<path d="M398 326h0m2 2h0m3 6h0" stroke="#cd8bc3" stroke-width="3" stroke-linecap="round" fill="none"/>
<path d="M406 346h0m1 2h0" stroke="#62c2a3" stroke-width="3" stroke-linecap="round" fill="none"/>
<path d="M399 377h0m5 0h0m6 3h0m-2-2h0m-1 5h0m-1-1h0m0-1h0m-1-3h0m-2 2h0m0-2h0m-3 2h0m0-2h0m-1 1h0" stroke="#62c2a3" stroke-width="3" stroke-linecap="round" fill="none"/>
<path d="M402 375h0m2 2h0m2 1h0m-3 0h0" stroke="#cd8bc3" stroke-width="3" stroke-linecap="round" fill="none"/>
<path d="M313 347h0m2-4h0m0 1h0m2 3h0m2-1h0" stroke="#62c2a3" stroke-width="3" stroke-linecap="round" fill="none"/>
<path d="M400 305h0m-27 6h0m-11 1h0m1 3h0m9 2h0m7-1h0m8 0h0m13-3h0m-24 7h0" stroke="#62c2a3" stroke-width="3" stroke-linecap="round" fill="none"/>
<path d="M378 305h0m19-3h0m-8 4h0m-13 4h0m-3 2h0m8 4h0m1-4h0m32 2h0" stroke="#eec862" stroke-width="3" stroke-linecap="round" fill="none"/>
<path d="M453 168h0" stroke="#62c2a3" stroke-width="3" stroke-linecap="round" fill="none"/>
<path d="M148 92.3V407H525" stroke="#111" stroke-width="2.2" fill="none"/>
<path d="M152.2 407v4.5M240.6 407v4.5M329 407v4.5M417.4 407v4.5M505.8 407v4.5M148 388.6h-4.5M148 312h-4.5M148 235.4h-4.5M148 158.8h-4.5" stroke="#111" stroke-width="1.5" fill="none"/>
<text x="152.2" y="430" font-size="13" text-anchor="middle" fill="#222">−40</text>
<text x="240.6" y="430" font-size="13" text-anchor="middle" fill="#222">−20</text>
<text x="329" y="430" font-size="13" text-anchor="middle" fill="#222">0</text>
<text x="417.4" y="430" font-size="13" text-anchor="middle" fill="#222">20</text>
<text x="505.8" y="430" font-size="13" text-anchor="middle" fill="#222">40</text>
<text x="137" y="393.4" font-size="13" text-anchor="end" fill="#222">−40</text>
<text x="137" y="316.8" font-size="13" text-anchor="end" fill="#222">−20</text>
<text x="137" y="240.2" font-size="13" text-anchor="end" fill="#222">0</text>
<text x="137" y="163.6" font-size="13" text-anchor="end" fill="#222">20</text>
<text x="325" y="455.5" font-size="13.5" text-anchor="middle" fill="#222">tSNE_1</text>
<text x="99" y="260" font-size="13.5" text-anchor="middle" fill="#222" transform="rotate(-90 99 260)">tSNE_2</text>
<text x="78" y="77" font-size="34" font-weight="bold">A</text>
<text x="166" y="116.5" font-size="14.7" fill="#222">Marginal zone B</text>
<text x="462.5" y="175.5" font-size="14.7" fill="#222">Follicular B</text>
<text x="152.7" y="286.5" font-size="14.7" fill="#222">FCRL3<tspan font-size="8" dy="-5">+</tspan><tspan dy="5"> GC B</tspan></text>
<text x="155.4" y="322.3" font-size="14.7" fill="#222">Multilymphoid</text>
<text x="155.4" y="340.4" font-size="14.7" fill="#222">progenitor</text>
<text x="353" y="361.5" font-size="14.7" fill="#222">Breg</text>
<path d="M290.4 275L231.5 306.7" stroke="#333" stroke-width="1.6" fill="none"/><path d="M229.6 307.7l7.6 -1.2l-3 -5.6z" fill="#333"/>
</g>
<g id="panelB">
<defs>
<g id="gFO"><path d="M26.9 -46.8Q30.6 -48.6 36.5 -49.9Q42.4 -51.3 47.3 -48.9Q52.2 -46.4 56.2 -42.2Q60.1 -37.9 63.5 -33.2Q67 -28.4 69.6 -23.6Q72.3 -18.8 73.6 -10.9Q75 -2.9 74 5.6Q73 14.1 70.7 20.5Q68.3 26.8 63.7 32.1Q59.1 37.5 51.3 40.8Q43.4 44.2 35.6 43.2Q27.7 42.1 21.8 40Q15.9 37.9 12.5 32.9Q9.1 27.9 7.4 21Q5.7 14.1 4.6 5.6Q3.6 -2.9 2.6 -8.7Q1.6 -14.6 4.1 -21Q6.7 -27.3 11.3 -31.6Q15.9 -35.8 19.6 -40.4Q23.2 -45 26.9 -46.8Z"/></g>
<g id="gFOs"><path d="M25 -66.6Q25.2 -67.5 25 -68.4Q24.8 -69.2 24.4 -70Q23.9 -70.8 23.2 -71.4Q22.4 -72 21.5 -72.4Q20.5 -72.8 19.5 -72.9Q18.5 -73 17.4 -72.9Q16.4 -72.8 15.5 -72.4Q14.5 -72 13.8 -71.4Q13.1 -70.8 12.6 -70Q12.1 -69.2 12 -68.4Q11.8 -67.5 12 -66.6Q12.1 -65.8 12.6 -65Q13.1 -64.2 13.8 -63.6Q14.5 -63 15.5 -62.6Q16.4 -62.2 17.4 -62.1Q18.5 -62 19.5 -62.1Q20.5 -62.2 21.5 -62.6Q22.4 -63 23.2 -63.6Q23.9 -64.2 24.4 -65Q24.8 -65.8 25 -66.6Z"/><path d="M14.9 -41.8Q15 -42.8 14.9 -43.7Q14.7 -44.6 14.3 -45.4Q13.9 -46.2 13.2 -46.9Q12.6 -47.5 11.8 -47.9Q10.9 -48.4 10 -48.5Q9.1 -48.7 8.2 -48.5Q7.3 -48.4 6.5 -47.9Q5.6 -47.5 5 -46.9Q4.3 -46.2 3.9 -45.4Q3.5 -44.6 3.4 -43.7Q3.2 -42.8 3.4 -41.8Q3.5 -40.9 3.9 -40.1Q4.3 -39.3 5 -38.6Q5.6 -38 6.5 -37.6Q7.3 -37.1 8.2 -37Q9.1 -36.8 10 -37Q10.9 -37.1 11.8 -37.6Q12.6 -38 13.2 -38.6Q13.9 -39.3 14.3 -40.1Q14.7 -40.9 14.9 -41.8Z"/><path d="M97.1 -12.3Q97.2 -13 97.1 -13.8Q96.9 -14.6 96.4 -15.4Q96 -16.1 95.3 -16.7Q94.5 -17.2 93.6 -17.6Q92.7 -18 91.7 -18.1Q90.7 -18.2 89.7 -18.1Q88.7 -18 87.8 -17.6Q86.9 -17.2 86.2 -16.7Q85.5 -16.1 85 -15.4Q84.5 -14.6 84.4 -13.8Q84.2 -13 84.4 -12.3Q84.5 -11.5 85 -10.7Q85.5 -10 86.2 -9.4Q86.9 -8.9 87.8 -8.5Q88.7 -8.1 89.7 -8Q90.7 -7.9 91.7 -8Q92.7 -8.1 93.6 -8.5Q94.5 -8.9 95.3 -9.4Q96 -10 96.4 -10.7Q96.9 -11.5 97.1 -12.3Z"/><path d="M67.3 41.4Q67.5 40.5 67.3 39.6Q67.1 38.8 66.6 38Q66.1 37.2 65.2 36.6Q64.4 36 63.4 35.6Q62.3 35.2 61.2 35.1Q60 35 58.8 35.1Q57.7 35.2 56.6 35.6Q55.6 36 54.8 36.6Q53.9 37.2 53.4 38Q52.9 38.8 52.7 39.6Q52.5 40.5 52.7 41.4Q52.9 42.2 53.4 43Q53.9 43.8 54.8 44.4Q55.6 45 56.6 45.4Q57.7 45.8 58.8 45.9Q60 46 61.2 45.9Q62.3 45.8 63.4 45.4Q64.4 45 65.2 44.4Q66.1 43.8 66.6 43Q67.1 42.2 67.3 41.4Z"/></g>
<g id="gMZ"><path d="M-78.7 -39.8Q-81.1 -42.4 -78 -46.6Q-74.8 -50.8 -71.3 -52.7Q-67.8 -54.6 -64.3 -56.5Q-60.8 -58.4 -57.3 -57.2Q-53.8 -56.1 -51.7 -53.8Q-49.6 -51.5 -46.8 -51.9Q-44 -52.3 -40.5 -53.4Q-37 -54.6 -34.9 -53Q-32.8 -51.5 -31.7 -48.9Q-30.7 -46.2 -28.2 -45.5Q-25.7 -44.7 -22.2 -42.8Q-18.7 -40.9 -17 -37.5Q-15.2 -34.1 -14.2 -31Q-13.1 -28 -10.7 -25Q-8.2 -21.9 -10 -18.9Q-11.7 -15.9 -13.5 -13.2Q-15.2 -10.6 -17 -7.5Q-18.7 -4.5 -22.2 -2.2Q-25.7 0.1 -29.3 1.6Q-32.8 3.1 -36.3 2.3Q-39.8 1.6 -43.3 0.4Q-46.8 -0.7 -50.3 -3.4Q-53.8 -6 -57.3 -7.2Q-60.8 -8.3 -64.3 -10.9Q-67.8 -13.6 -70.3 -18.5Q-72.7 -23.5 -73.1 -27.3Q-73.4 -31 -74.8 -34.1Q-76.2 -37.1 -78.7 -39.8Z"/></g>
<g id="gMZs"><path d="M-37.5 -64.1Q-37.4 -64.4 -37.5 -64.6Q-37.6 -64.9 -37.9 -65.2Q-38.3 -65.4 -38.7 -65.6Q-39.2 -65.8 -39.8 -66Q-40.4 -66.1 -41.1 -66.1Q-41.8 -66.2 -42.4 -66.1Q-43.1 -66.1 -43.7 -66Q-44.3 -65.8 -44.8 -65.6Q-45.3 -65.4 -45.6 -65.2Q-45.9 -64.9 -46 -64.6Q-46.1 -64.4 -46 -64.1Q-45.9 -63.8 -45.6 -63.5Q-45.3 -63.3 -44.8 -63.1Q-44.3 -62.9 -43.7 -62.7Q-43.1 -62.6 -42.4 -62.6Q-41.8 -62.5 -41.1 -62.6Q-40.4 -62.6 -39.8 -62.7Q-39.2 -62.9 -38.7 -63.1Q-38.3 -63.3 -37.9 -63.5Q-37.6 -63.8 -37.5 -64.1Z"/><path d="M-8.7 -58Q-8.6 -58.5 -8.7 -59Q-8.8 -59.5 -9.2 -60Q-9.5 -60.5 -10.1 -60.8Q-10.7 -61.2 -11.4 -61.4Q-12.1 -61.7 -12.9 -61.7Q-13.7 -61.8 -14.5 -61.7Q-15.3 -61.7 -16 -61.4Q-16.7 -61.2 -17.3 -60.8Q-17.8 -60.5 -18.2 -60Q-18.5 -59.5 -18.7 -59Q-18.8 -58.5 -18.7 -58Q-18.5 -57.5 -18.2 -57Q-17.8 -56.5 -17.3 -56.2Q-16.7 -55.8 -16 -55.6Q-15.3 -55.3 -14.5 -55.3Q-13.7 -55.2 -12.9 -55.3Q-12.1 -55.3 -11.4 -55.6Q-10.7 -55.8 -10.1 -56.2Q-9.5 -56.5 -9.2 -57Q-8.8 -57.5 -8.7 -58Z"/><path d="M2.3 -45.4Q2.4 -45.7 2.3 -46Q2.2 -46.2 2.1 -46.5Q1.9 -46.8 1.6 -47Q1.4 -47.2 1.1 -47.3Q0.7 -47.4 0.4 -47.5Q0 -47.5 -0.4 -47.5Q-0.7 -47.4 -1.1 -47.3Q-1.4 -47.2 -1.6 -47Q-1.9 -46.8 -2.1 -46.5Q-2.2 -46.2 -2.3 -46Q-2.4 -45.7 -2.3 -45.4Q-2.2 -45.1 -2.1 -44.8Q-1.9 -44.6 -1.6 -44.4Q-1.4 -44.2 -1.1 -44.1Q-0.7 -43.9 -0.4 -43.9Q0 -43.8 0.4 -43.9Q0.7 -43.9 1.1 -44.1Q1.4 -44.2 1.6 -44.4Q1.9 -44.6 2.1 -44.8Q2.2 -45.1 2.3 -45.4Z"/></g>
<g id="gFC"><path d="M-74.7 -6.5Q-74.2 -7.9 -71.9 -9Q-69.6 -10.1 -67 -7.6Q-64.4 -5.1 -61.5 -3Q-58.6 -0.9 -55.6 0.9Q-52.7 2.6 -51.7 5.8Q-50.7 9 -51.7 11.8Q-52.7 14.6 -54.6 17.1Q-56.6 19.6 -59.2 21.3Q-61.8 23.1 -64.8 23.4Q-67.7 23.8 -70.3 23.1Q-72.9 22.4 -74.5 19.2Q-76.2 16 -76.8 13.6Q-77.5 11.1 -76.5 8.3Q-75.5 5.5 -75.8 1.9Q-76.2 -1.6 -75.7 -3.4Q-75.2 -5.1 -74.7 -6.5Z"/></g>
<g id="gMLP"><path d="M-29.3 13.9Q-29 10.5 -26.5 9.8Q-24.1 9 -20.6 9Q-17.1 9 -13.5 8.6Q-10 8.3 -6.5 9Q-3 9.8 -1.3 12.8Q0.5 15.8 0.1 19.6Q-0.2 23.4 -1.6 26.1Q-3 28.7 -6.5 29.9Q-10 31 -13.5 29.1Q-17.1 27.2 -20.6 26.5Q-24.1 25.7 -26.5 24.9Q-29 24.2 -29.3 20.8Q-29.7 17.4 -29.3 13.9Z"/></g>
<g id="gBR"><path d="M-43.3 56.9Q-43.3 54.6 -41.2 50.4Q-39.1 46.3 -35.5 44.8Q-32 43.2 -30.6 45.5Q-29.2 47.8 -26.8 48.9Q-24.3 50.1 -21.9 49.7Q-19.4 49.3 -18.4 52Q-17.3 54.6 -18 57.3Q-18.7 59.9 -21.5 61.8Q-24.3 63.7 -26.8 64.9Q-29.2 66 -30.6 69.4Q-32 72.8 -34.8 72.1Q-37.7 71.3 -39.1 67.9Q-40.5 64.5 -41.9 61.8Q-43.3 59.2 -43.3 56.9Z"/><path d="M-17.3 72.7Q-17.7 68.1 -14.5 68.5Q-11.4 68.9 -9.3 68.1Q-7.2 67.3 -4.4 67Q-1.6 66.6 0.5 68.1Q2.6 69.6 5.1 72.3Q7.5 74.9 10 76.8Q12.5 78.7 15.3 81Q18.1 83.3 17 85.2Q16 87.1 13.2 86.7Q10.4 86.3 7.2 87.8Q4 89.3 1.2 89.7Q-1.6 90.1 -3.7 91.4Q-5.8 92.8 -7.9 91.1Q-10 89.3 -11.4 88.2Q-12.8 87.1 -11 84.4Q-9.3 81.8 -10.3 80.2Q-11.4 78.7 -14.2 78Q-17 77.2 -17.3 72.7Z"/></g>
<g id="tb"><g fill="#d4d4d4"><use href="#gFO"/><use href="#gFOs"/><use href="#gMZ"/><use href="#gMZs"/><use href="#gFC"/><use href="#gMLP"/><use href="#gBR"/></g><path d="M12 -73h0m1 0h0m2 0h0m1 0h0m2 0h0m1-1h0m0 1h0m1-2h0m0 1h0m2-1h0m0 1h0m2 0h0m1 1h0m3 2h0m-1 3h0m0-3h0m-2 0h0m-2-1h0m-11 5h0m-1-1h0m0-1h0m-1 2h0m0-5h0m-49 5h0m-2-1h0m-1 1h0m0-1h0m-1 1h0m-5 6h0m1-5h0m0 2h0m1-1h0m0 1h0m0 1h0m1-3h0m0 2h0m0 1h0m2 0h0m0 1h0m1 0h0m1 1h0m1-3h0m1-2h0m0 3h0m1 1h0m1-4h0m0 2h0m0 1h0m1-1h0m1 0h0m18 2h0m1 1h0m1-2h0m0 2h0m1-2h0m2 1h0m1 0h0m1-1h0m0 2h0m1-2h0m0 2h0m2 0h0m13-2h0m2-1h0m2-2h0m0 3h0m2-3h0m0 1h0m1 0h0m0 2h0m0 1h0m1 0h0m1 0h0m0 1h0m1-2h0m0 1h0m1 0h0m2 0h0m2-1h0m1 2h0m1 0h0m1-3h0m0 1h0m1 1h0m1 0h0m0 1h0m21 3h0m-2 3h0m-3 0h0m-1 0h0m-1 0h0m-2 0h0m-3-5h0m-14 0h0m-4 0h0m-1 1h0m0-1h0m-1 3h0m-22 0h0m0-1h0m-1 2h0m-1 1h0m-1-2h0m0-3h0m-1 5h0m-1 0h0m-3-1h0m-2 1h0m-1 0h0m0-4h0m0-1h0m-1 4h0m0-3h0m-1 1h0m0-1h0m-1 1h0m-1 0h0m-11 3h0m-3 0h0m0-2h0m-1 2h0m-1 0h0m0-1h0m-1 0h0m-1 1h0m-2-1h0m0-1h0m-1 2h0m-1 0h0m-4-5h0m-3 3h0m-4 2h0m0-2h0m-1 0h0m-1 2h0m0-5h0m-3 1h0m-1 2h0m0-1h0m-1-1h0m-2 0h0m0-1h0m-1 5h0m0-1h0m-1 1h0m0-2h0m0-2h0m-1 4h0m0-2h0m0-1h0m-1-1h0m-2 3h0m0-1h0m0-1h0m-1 3h0m-1-1h0m-4 1h0m-2-2h0m-1 7h0m1-2h0m1 2h0m2 1h0m2-3h0m4-2h0m14 1h0m1 1h0m0 1h0m1-1h0m0 1h0m1-3h0m2 0h0m0 1h0m0 1h0m1 0h0m1-2h0m0 3h0m0 1h0m1-2h0m1-2h0m0 3h0m0 1h0m1-1h0m1-3h0m0 2h0m1-1h0m1 2h0m1-2h0m0 2h0m2-3h0m0 1h0m1 2h0m2-3h0m0 3h0m1 1h0m1-2h0m0 1h0m1-2h0m0 1h0m0 2h0m1-4h0m0 2h0m1-1h0m0 1h0m0 1h0m13-3h0m3 1h0m1-1h0m1 1h0m4-1h0m9 5h0m2 0h0m2-2h0m1-1h0m0 2h0m0 1h0m2 0h0m2-1h0m0 1h0m1-1h0m1 1h0m1 0h0m1-3h0m0 2h0m1 1h0m1 0h0m1-5h0m2 2h0m0 1h0m1 2h0m4 0h0m3-2h0m0 1h0m2-1h0m1-1h0m0 3h0m1 0h0m1-3h0m1 0h0m1 3h0m1-3h0m0 1h0m2-3h0m0 3h0m1-3h0m1 5h0m1-1h0m1-2h0m0 1h0m0 1h0m1-3h0m0 3h0m1-4h0m0 1h0m0 1h0m0 1h0m1-1h0m1-2h0m2 2h0m0 1h0m0 1h0m0 1h0m1-3h0m0 2h0m2-2h0m1 1h0m0 1h0m2 0h0m1 1h0m2 0h0m4 2h0m-1 2h0m-2 2h0m0-2h0m0-1h0m-1 3h0m0-3h0m-1 3h0m0-2h0m0-1h0m0-2h0m-1 1h0m-2 1h0m0-2h0m-21 1h0m-2 0h0m0-1h0m-1 1h0m0-1h0m-1 3h0m0-3h0m-1 3h0m0-2h0m-1 4h0m0-1h0m0-1h0m0-2h0m0-1h0m-1 3h0m0-1h0m0-2h0m-1 2h0m-1 3h0m0-1h0m0-4h0m-1 1h0m-1 4h0m-2-1h0m-1 1h0m0-1h0m-1-1h0m-1 0h0m0-1h0m-1 0h0m-8-1h0m0-1h0m-1 2h0m-1 2h0m0-2h0m-1 3h0m0-1h0m-1-1h0m0-2h0m-1 4h0m0-2h0m0-2h0m-1 4h0m-1 0h0m0-2h0m0-1h0m0-1h0m-1 3h0m-14 0h0m-2 1h0m0-1h0m-2 0h0m-3-1h0m-1 2h0m0-3h0m-1 3h0m0-2h0m-1 2h0m0-3h0m-1 3h0m0-4h0m-2 0h0m0-1h0m-1 5h0m0-4h0m0-1h0m-2 0h0m-44 0h0m-1 4h0m0-4h0m-1 3h0m0-1h0m0-2h0m-1 4h0m0-2h0m0-2h0m-1 4h0m0-2h0m0-1h0m0-1h0m-1 4h0m-1 1h0m0 1h0m1 2h0m1 2h0m1-4h0m1 0h0m0 3h0m1-3h0m0 2h0m0 1h0m1 0h0m1 2h0m2-1h0m53-4h0m0 3h0m1-1h0m0 1h0m0 1h0m1-3h0m0 2h0m0 1h0m1-3h0m0 1h0m0 1h0m0 2h0m1-3h0m1-1h0m0 4h0m1-5h0m0 3h0m0 1h0m0 1h0m10-4h0m5-1h0m1 0h0m0 2h0m1-2h0m0 1h0m0 2h0m0 1h0m1 1h0m1-2h0m0 2h0m2-1h0m1-2h0m0 3h0m2-1h0m1-3h0m1 0h0m0 1h0m0 3h0m1-1h0m1-2h0m0 2h0m0 1h0m1-1h0m0 1h0m1-2h0m0 1h0m1-4h0m0 2h0m0 1h0m0 1h0m1-4h0m0 1h0m0 1h0m0 1h0m1-2h0m0 3h0m1-4h0m0 1h0m0 2h0m0 1h0m1-2h0m1-2h0m0 1h0m0 1h0m1-2h0m33 0h0m0 1h0m1 1h0m2 2h0m1-2h0m0 1h0m0 1h0m0 1h0m1-2h0m0 2h0m1-5h0m2 0h0m2 0h0m0 5h0m2-3h0m1 2h0m1 7h0m-1-1h0m-1-1h0m0-1h0m0-1h0m-1 4h0m0-3h0m0-1h0m-1 4h0m0-1h0m0-4h0m-2 3h0m0-1h0m-1 2h0m0-1h0m0-1h0m-1-1h0m-44-1h0m-1 1h0m0-1h0m-1 2h0m0-1h0m-1-1h0m-1 5h0m0-3h0m-1 0h0m0-1h0m-1 4h0m0-1h0m0-3h0m-1 4h0m0-1h0m0-1h0m0-1h0m0-1h0m-2 4h0m0-4h0m-1 4h0m0-4h0m-1 2h0m-1-2h0m-2 2h0m-5 0h0m0-3h0m-6 3h0m0-1h0m-2 0h0m-1 3h0m-1-2h0m0-2h0m-2 4h0m0-2h0m0-2h0m0-1h0m-1 5h0m0-3h0m0-1h0m0-1h0m-1 5h0m0-5h0m-1 2h0m0-2h0m-1 1h0m-55 3h0m0-1h0m0-1h0m0-2h0m-1 3h0m0-1h0m-1 1h0m0-1h0m-1-2h0m-1 5h0m-10 6h0m11-4h0m0 2h0m1-2h0m1-1h0m0 1h0m0 1h0m59 1h0m1 0h0m2-1h0m0 1h0m0 1h0m0 1h0m1-1h0m1-1h0m0 1h0m1-4h0m0 3h0m0 2h0m2-5h0m2 1h0m4 1h0m0 1h0m3-3h0m1 0h0m0 1h0m0 4h0m1-2h0m0 2h0m1-4h0m0 2h0m0 2h0m1-5h0m0 1h0m0 2h0m1-2h0m0 3h0m1-2h0m0 1h0m0 1h0m3-3h0m1-1h0m52 0h0m1 2h0m3 0h0m0 2h0m0 1h0m1-1h0m1-3h0m0 2h0m1 0h0m6 2h0m18 6h0m-3 0h0m-2 0h0m0-1h0m-1-2h0m-3 3h0m-1 0h0m-10-2h0m0-1h0m-1 2h0m0-2h0m0-2h0m-1 2h0m-1 3h0m0-4h0m-1 3h0m0-2h0m-2 2h0m0-2h0m0-2h0m-62 1h0m-1 1h0m0-2h0m-2 5h0m-2-1h0m0-2h0m0-1h0m-1 1h0m0-1h0m0-1h0m-1 2h0m-1 1h0m-4 1h0m-1-1h0m0-3h0m-1 5h0m0-1h0m0-1h0m0-2h0m-1 3h0m0-1h0m0-1h0m0-2h0m-1 5h0m0-1h0m0-4h0m-1 5h0m0-1h0m0-2h0m0-1h0m-1 2h0m0-2h0m0-1h0m-8 5h0m-49 0h0m-1-1h0m0-1h0m-1 2h0m0-4h0m-1 3h0m0-1h0m0-2h0m0-1h0m-1 0h0m-1 1h0m0-1h0m-2 4h0m0-2h0m-8-1h0m-1 1h0m-2 3h0m0-1h0m0-1h0m0-2h0m0-1h0m-1 4h0m0-4h0m-1 3h0m0-3h0m-1 4h0m0-3h0m-1 3h0m0-1h0m0-1h0m0-1h0m-1 1h0m4 4h0m13 0h0m1 0h0m1 2h0m0 1h0m1-1h0m0 1h0m0 1h0m2-4h0m0 3h0m1-2h0m0 2h0m0 2h0m1-1h0m1 1h0m53-4h0m1 0h0m0 1h0m0 1h0m0 2h0m1-3h0m0 2h0m0 1h0m1-1h0m1-2h0m0 2h0m2-1h0m1 0h0m0 2h0m4-2h0m0 2h0m1-5h0m0 2h0m0 2h0m0 1h0m1-2h0m1-1h0m1-2h0m0 2h0m0 2h0m1-4h0m0 5h0m1-4h0m67 1h0m1-1h0m0 2h0m0 1h0m2 0h0m1-3h0m0 3h0m1-4h0m0 3h0m0 1h0m1-1h0m6-2h0m0 4h0m1-5h0m1 1h0m1-1h0m0 1h0m7-1h0m1 0h0m1 0h0m1 2h0m1-2h0m0 1h0m1 0h0m0 3h0m0 1h0m1-1h0m0 1h0m1 1h0m-1 2h0m-1 0h0m-1 1h0m0-1h0m0-1h0m-1 2h0m-1 2h0m-1 0h0m-3-1h0m-3 0h0m-1 1h0m-1-1h0m-1-1h0m0-1h0m0-1h0m-1 1h0m0-1h0m-1 3h0m-3-1h0m0-2h0m-3 0h0m0-1h0m-1 4h0m0-3h0m0-1h0m-1 0h0m-1 2h0m-1 0h0m0-2h0m-1 3h0m-68 0h0m-1 1h0m0-2h0m0-2h0m-3 1h0m-1 0h0m-2 4h0m0-4h0m0-1h0m-1 5h0m0-3h0m-8 1h0m0-2h0m-1 0h0m-1-1h0m-1 5h0m0-2h0m-1 2h0m0-4h0m-2 4h0m-37 0h0m-2-1h0m-1 1h0m-1 0h0m0-2h0m-1 2h0m0-1h0m-1-1h0m0-1h0m-1-1h0m-1 4h0m0-2h0m0-2h0m-1 4h0m0-2h0m0-3h0m-1 1h0m-1 3h0m0-2h0m-1-2h0m-1 5h0m0-2h0m0-2h0m0-1h0m-1 4h0m0-1h0m0-1h0m0-2h0m-1 4h0m0-2h0m-1 2h0m0-2h0m-1 3h0m0-2h0m0-2h0m-1 4h0m0-1h0m0-1h0m0-1h0m-1 3h0m0-1h0m0-1h0m0-1h0m-1 2h0m0-1h0m0-1h0m-1 3h0m-1 0h0m0 1h0m0 3h0m1-3h0m0 1h0m0 1h0m1-1h0m0 1h0m0 1h0m0 1h0m0 1h0m1-3h0m0 1h0m1-2h0m0 3h0m0 1h0m6-4h0m0 1h0m1 0h0m1-1h0m0 2h0m2-3h0m3 0h0m0 1h0m0 1h0m1-2h0m1 0h0m0 1h0m0 1h0m0 2h0m1-3h0m0 1h0m2-1h0m1 3h0m2-3h0m2-1h0m1 5h0m1-3h0m1 1h0m1 0h0m0 2h0m1-1h0m18 1h0m1 0h0m1-2h0m0 1h0m0 1h0m2-2h0m0 2h0m1-1h0m1-3h0m0 3h0m1-3h0m0 1h0m0 2h0m1-4h0m0 1h0m1-1h0m1 2h0m0 1h0m1-1h0m2 0h0m4 1h0m4 2h0m1-4h0m1 4h0m1-4h0m3 1h0m0 1h0m0 2h0m1-5h0m0 4h0m1-3h0m0 4h0m1-3h0m0 1h0m1 1h0m1-2h0m68-2h0m1 2h0m0 3h0m1-4h0m0 3h0m1-3h0m1-1h0m0 1h0m1-1h0m11 0h0m1 0h0m3 0h0m-12 7h0m-3 2h0m0-1h0m0-2h0m-1 5h0m-1-3h0m0-1h0m-1 4h0m0-1h0m-1-3h0m-1 3h0m-1 1h0m-67-2h0m0-3h0m-2 5h0m0-4h0m-4 2h0m-2 0h0m-2 2h0m-1-3h0m-15-1h0m-1 1h0m0-2h0m-1 2h0m-3 1h0m0-3h0m-1 3h0m-1 1h0m-1 0h0m0-1h0m0-2h0m-1 3h0m-1 1h0m0-1h0m0-3h0m-2 4h0m0-2h0m-1 1h0m-1-3h0m-1 1h0m-1 1h0m-3-1h0m0-1h0m0-1h0m-1 2h0m-1 1h0m0-2h0m-1 0h0m0-1h0m-1 3h0m-1-1h0m-1 1h0m-2-2h0m-4 0h0m-1 2h0m-1 1h0m-1 1h0m-1-1h0m0-4h0m-1 2h0m-2-1h0m-13 3h0m0-1h0m0-3h0m-1 3h0m0-1h0m-1 3h0m0-3h0m0-1h0m0-1h0m-2 5h0m-1-3h0m-1 0h0m0-1h0m-1 9h0m2-4h0m0 3h0m1 1h0m2-3h0m0 4h0m1-5h0m0 1h0m0 1h0m18 0h0m2 2h0m1-4h0m0 3h0m0 1h0m0 1h0m1-1h0m1-3h0m0 1h0m0 1h0m0 1h0m1-4h0m0 5h0m1-3h0m13-2h0m5 5h0m1-3h0m1 2h0m0 1h0m1-1h0m1-2h0m2 1h0m2-1h0m1-1h0m0 2h0m0 2h0m1-1h0m1-2h0m2 0h0m0 1h0m0 1h0m0 1h0m1-2h0m0 2h0m2-3h0m3 2h0m0 1h0m1-2h0m0 1h0m2-2h0m0 2h0m1-2h0m0 2h0m1-1h0m0 1h0m1-2h0m1 0h0m0 1h0m0 2h0m1-1h0m0 1h0m1 0h0m1 0h0m1-1h0m1-4h0m0 3h0m0 1h0m3-4h0m0 2h0m0 3h0m1-5h0m1 1h0m0 1h0m0 3h0m1-5h0m66 4h0m0 1h0m1-5h0m0 3h0m1 2h0m1-4h0m1-1h0m0 5h0m-1 2h0m0-1h0m-1 4h0m0-4h0m-1 5h0m-1-2h0m0-3h0m-1 3h0m0-1h0m-1 1h0m-63-2h0m-1-1h0m-1 3h0m0-1h0m0-1h0m-1 4h0m0-3h0m-1 2h0m0-4h0m-2 3h0m-1 1h0m0-1h0m0-2h0m-1 4h0m0-1h0m0-3h0m-1 4h0m0-1h0m0-2h0m-1 3h0m0-4h0m-1-1h0m-1 2h0m0-1h0m-9-1h0m-1 0h0m-2 0h0m-1 0h0m-2 0h0m-5 0h0m-2 1h0m-1 4h0m0-2h0m0-3h0m-1 5h0m0-5h0m-1 5h0m0-3h0m0-1h0m-2 3h0m0-2h0m0-1h0m0-1h0m-1 4h0m0-3h0m-17-1h0m-2 1h0m0-1h0m-1 1h0m0-1h0m-1 5h0m0-2h0m0-1h0m-1 2h0m0-1h0m-1 1h0m0-3h0m-1 4h0m0-1h0m-1-1h0m-1 2h0m-15 0h0m-1-1h0m0-3h0m0-1h0m-1 3h0m-1 0h0m0-1h0m0-2h0m-1 0h0m-1 3h0m0-1h0m0-2h0m-1 2h0m0-2h0m1 6h0m1 1h0m1-1h0m0 1h0m1-1h0m0 3h0m0 2h0m1-5h0m0 1h0m0 2h0m2-2h0m0 2h0m0 2h0m1-2h0m1 2h0m1 0h0m2-1h0m0 1h0m1-2h0m0 2h0m1-2h0m1 1h0m2 0h0m0 1h0m1-2h0m0 1h0m1-3h0m0 4h0m1-5h0m0 3h0m0 2h0m1-3h0m0 1h0m1 0h0m1-3h0m1 3h0m1-1h0m24-2h0m0 3h0m2-2h0m0 2h0m1-3h0m0 3h0m0 2h0m1-4h0m0 2h0m0 2h0m1-1h0m18-4h0m0 4h0m1-2h0m1-2h0m0 2h0m2-2h0m1 1h0m0 3h0m0 1h0m1-5h0m1 1h0m1-1h0m0 1h0m1-1h0m0 1h0m0 1h0m0 2h0m1-3h0m0 1h0m1 0h0m0 1h0m1-3h0m1 3h0m0 2h0m1-4h0m2 4h0m61-5h0m0 2h0m0 1h0m1-3h0m1 1h0m0 1h0m0 1h0m0 1h0m0 1h0m1-5h0m0 4h0m1-2h0m1 0h0m1-2h0m-2 6h0m-1 1h0m-1 4h0m0-2h0m-1 2h0m0-1h0m-1-1h0m0-3h0m-1 4h0m-1 1h0m0-1h0m0-1h0m-1 1h0m-56 0h0m-1-3h0m-1 4h0m0-5h0m-1 5h0m0-3h0m-1 1h0m-1 2h0m0-1h0m0-1h0m0-3h0m-2 2h0m0-2h0m-1 2h0m-1-1h0m0-1h0m-1 0h0m-1 0h0m-1 2h0m0-2h0m-1 2h0m0-1h0m-1 4h0m0-1h0m-1 0h0m0-4h0m-1 2h0m0-1h0m-1 3h0m0-1h0m-1 1h0m-1 0h0m-1 1h0m0-1h0m-1-1h0m0-2h0m-1 4h0m0-1h0m-2-1h0m-1 2h0m0-3h0m-1 2h0m0-1h0m0-1h0m-1 0h0m-1 1h0m0-2h0m-2 4h0m0-2h0m0-1h0m0-1h0m-1 1h0m-1 1h0m0-1h0m0-1h0m-2 1h0m-1 0h0m0-2h0m-2 0h0m-1 0h0m-1 0h0m-1 2h0m0-2h0m-30 0h0m-5 1h0m0-1h0m-2 0h0m-6 1h0m-5-1h0m62 6h0m1 1h0m2-1h0m0 5h0m1-5h0m0 4h0m2-4h0m0 3h0m1-3h0m0 2h0m0 3h0m1-4h0m2 1h0m1-1h0m1 0h0m2 2h0m2-3h0m0 2h0m5-1h0m0 2h0m1 1h0m0 1h0m2-2h0m0 2h0m1-5h0m0 2h0m0 2h0m1-2h0m0 3h0m2-3h0m1 1h0m0 1h0m39 0h0m1 1h0m1-1h0m1-1h0m0 2h0m2-1h0m3-3h0m0 2h0m0 1h0m1-1h0m0 1h0m0 1h0m1-3h0m0 1h0m0 2h0m1-2h0m0 1h0m0 1h0m1-4h0m0 4h0m1-5h0m0 2h0m0 2h0m1-2h0m0 3h0m1 0h0m1-4h0m0 1h0m2-2h0m0 1h0m-2 6h0m-1 2h0m0-3h0m-1 1h0m-2 0h0m-1 1h0m0-2h0m-1 2h0m0-2h0m-1 5h0m0-3h0m0-2h0m-2 0h0m-1 4h0m0-2h0m0-2h0m-1 3h0m0-1h0m-2-2h0m-1 3h0m-1 0h0m0-3h0m-1 5h0m0-3h0m0-1h0m-1 3h0m-1 1h0m0-2h0m0-3h0m-1 5h0m0-1h0m-1-4h0m-1 5h0m-23 0h0m-3-1h0m-3 1h0m0-3h0m-2 3h0m0-4h0m-1 4h0m-1-4h0m-1 3h0m0-1h0m0-2h0m0-1h0m-1 2h0m0-1h0m0-1h0m-1 1h0m0-1h0m-1 5h0m0-4h0m0-1h0m-1 2h0m0-1h0m-1-1h0m-1 0h0m-2 0h0m-14 5h0m-1-1h0m0-1h0m0-1h0m-1 3h0m0-1h0m0-1h0m-1 1h0m-24 1h0m-6 4h0m1 1h0m1-1h0m0 1h0m1 0h0m1 1h0m1-4h0m1-1h0m0 3h0m0 1h0m1-1h0m0 1h0m0 1h0m1-5h0m0 3h0m0 1h0m0 1h0m1-4h0m0 1h0m0 1h0m0 1h0m3-1h0m1 2h0m6 0h0m12-1h0m1 0h0m0 1h0m1-1h0m0 1h0m15 0h0m1-1h0m0 1h0m1-1h0m1 1h0m1-1h0m0 1h0m1-5h0m0 1h0m5 4h0m2-5h0m0 1h0m2 1h0m1-1h0m0 1h0m0 1h0m1-2h0m1-1h0m0 1h0m2 4h0m1-2h0m0 2h0m1-5h0m1 1h0m1 4h0m1-1h0m1-4h0m0 1h0m0 4h0m1-4h0m1-1h0m3 5h0m1-1h0m0 1h0m1-3h0m3 0h0m0 1h0m1-2h0m1 1h0m0 1h0m0 1h0m1-3h0m1 2h0m0 2h0m2-5h0m0 1h0m0 1h0m1 2h0m0 1h0m2-1h0m1-4h0m0 2h0m1-2h0m1 0h0m0 1h0m0 1h0m0 2h0m1-4h0m0 2h0m0 1h0m0 1h0m1-4h0m0 4h0m0 1h0m1-4h0m0 4h0m1-5h0m0 1h0m0 4h0m1 0h0m3-1h0m1-1h0m1 2h0m1-1h0m1-2h0m0 1h0m0 1h0m1-4h0m0 1h0m1-1h0m0 3h0m1-2h0m0 1h0m1-1h0m-12 6h0m-11 0h0m0-1h0m-2 0h0m-2 0h0m-1 4h0m0-2h0m-2-1h0m-1-1h0m-1 0h0m-2 0h0m-1 0h0m-4 3h0m-1-2h0m-7 4h0m-2-3h0m-1-1h0m-5 1h0m-1 0h0m-3 0h0m0-1h0m-1 2h0m0-3h0m-1 3h0m0-3h0m-1 1h0m-1 0h0m-3 4h0m-19 0h0m-1 0h0m0-2h0m-1 0h0m-1 2h0m0-1h0m0-1h0m0-1h0m-1 3h0m0-4h0m-1 1h0m0-1h0m-1 3h0m0-1h0m-2 2h0m0-1h0m0-4h0m-2 2h0m0-1h0m-1 4h0m-1-1h0m0-2h0m0-2h0m-1 2h0m-1 1h0m0-1h0m-1 1h0m0-1h0m0-2h0m-7 2h0m-1-1h0m0-1h0m-1 4h0m0-1h0m0-3h0m-1 3h0m-1 1h0m-1-2h0m0-2h0m-1 3h0m-1 0h0m-2 6h0m2-1h0m0 2h0m2 0h0m0 1h0m1-4h0m1-1h0m0 2h0m19 1h0m1-3h0m0 2h0m0 1h0m0 2h0m1-5h0m0 2h0m0 2h0m1-2h0m0 3h0m1-2h0m0 2h0m1-5h0m1 2h0m39-2h0m0 4h0m1-1h0m5-1h0m4 2h0m2-3h0m2-1h0m0 1h0m0 2h0m1 0h0m0 1h0m1 0h0m3-2h0m0 6h0m-1 0h0m-1 2h0m0-1h0m0-1h0m0-2h0m-1 0h0m-2 2h0m-5 2h0m-6-1h0m-29 2h0m-3 0h0m0-1h0m-1 1h0m-1-1h0m-1 1h0m-1 0h0m-1-1h0m-6-4h0m-3 3h0m-1-2h0m0-1h0m-1 3h0m0-3h0m-1 4h0m-1-3h0m-1 1h0m-1 2h0m0-3h0m-1 4h0m0-2h0m0-2h0m-1 2h0m-1-1h0m-1 3h0m0-1h0m0-2h0m-1 0h0m-3 3h0m-4-1h0m-1 1h0m0-1h0m0-2h0m-2 0h0m0-2h0m-1 4h0m0-3h0m-1 4h0m0-1h0m-1-2h0m0-1h0m0-1h0m-1 1h0m0-1h0m6 7h0m0 2h0m0 1h0m1 0h0m0 1h0m2-3h0m0 1h0m0 1h0m0 1h0m1-2h0m1 2h0m1-4h0m0 1h0m0 1h0m0 1h0m0 1h0m1-3h0m0 1h0m1 0h0m0 1h0m0 1h0m4-5h0m1 0h0m5 4h0m1-1h0m0 2h0m1-3h0m0 2h0m0 1h0m1-3h0m0 1h0m0 1h0m2-2h0m0 3h0m2-2h0m0 1h0m0 1h0m1-4h0m1 0h0m1 1h0m0 1h0m0 2h0m1-4h0m1 1h0m0 2h0m1-3h0m0 1h0m0 1h0m1-3h0m1 0h0m0 1h0m0 1h0m0 2h0m1-4h0m0 1h0m0 2h0m1-2h0m0 3h0m1-2h0m0 1h0m1-2h0m0 1h0m0 1h0m1 0h0m1-3h0m0 1h0m0 1h0m0 1h0m0 2h0m1-1h0m1-2h0m2 1h0m0 1h0m0 1h0m1 0h0m1 0h0m15-5h0m0 1h0m1 0h0m18-1h0m1 0h0m-28 11h0m-3-1h0m0-1h0m-2 2h0m0-1h0m-1 0h0m0-1h0m0-2h0m-1 0h0m-1 2h0m0-2h0m-1 3h0m0-3h0m0-1h0m-1 1h0m-1 0h0m-3-1h0m-8 5h0m-3-1h0m-3-1h0m0-3h0m-1 4h0m0-1h0m0-2h0m0-1h0m-1 5h0m0-1h0m0-2h0m-2 1h0m0-1h0m0-2h0m-2 1h0m-12 0h0m-1 0h0m-1 1h0m-1-2h0m-1 1h0m-1 0h0m-1 2h0m-1-3h0m24 7h0m1 3h0m1-2h0m1 0h0m1-2h0m0 2h0m0 2h0m0 1h0m2-4h0m0 1h0m0 3h0m1-3h0m16-2h0m0 1h0m3 3h0m3 0h0m0 1h0m1-1h0m0 1h0m1 0h0m1-1h0m0 1h0m21 0h0m1-2h0m0 1h0m0 1h0m1-1h0m0 1h0m1 0h0m2-1h0m0 1h0m1 0h0m-1 3h0m0-2h0m-1 3h0m-1-1h0m-21 0h0m-1-2h0m-1 1h0m-1 2h0m0-3h0m-1 2h0m0-1h0m-1 2h0m0-1h0m0-2h0m-1 1h0m-2 4h0m0-3h0m0-2h0m-1 1h0m-1 3h0m0-1h0m-1 1h0m-1 1h0m-1 0h0m0-2h0m0-1h0m0-1h0m-3 4h0m-11-5h0m-2 1h0m-1 3h0m0-3h0m0-1h0m-1 3h0m0-2h0m0-1h0m-1 2h0m-1 3h0m0-4h0m0 5h0m2 0h0m0 1h0m1 4h0m1-5h0m0 1h0m1 2h0m1-2h0m0 1h0m0 1h0m1-1h0m0 1h0m1-2h0m0 4h0m1-5h0m0 3h0m0 1h0m1-3h0m0 2h0m4-1h0m1-1h0m2-1h0m0 1h0m3-1h0" stroke="#d4d4d4" stroke-width="1.9" stroke-linecap="round" fill="none"/><path d="M18 -73h0m4 6h0m-1-1h0m0-2h0m-3 1h0m0-1h0m-1 3h0m-1 0h0m-1-3h0m-1 3h0m0-1h0m0-2h0m-60 6h0m2-1h0m1 1h0m2-1h0m3 1h0m23 3h0m1-1h0m3 1h0m24-5h0m0 1h0m3 0h0m1-1h0m1 1h0m2 0h0m0 2h0m1-1h0m1 1h0m1-1h0m-34 8h0m-2 0h0m0-4h0m-1 0h0m-1 5h0m-2-1h0m0-3h0m-1-1h0m-35 5h0m-2 0h0m-1 0h0m-4-3h0m-1 1h0m-14 8h0m1 0h0m1-3h0m4-1h0m1 2h0m0 1h0m2 0h0m1-1h0m1-1h0m0 2h0m2 1h0m1-3h0m1-1h0m1 1h0m1 3h0m2-4h0m0 2h0m1-3h0m0 2h0m0 1h0m2 2h0m1-3h0m0 2h0m5-2h0m0 1h0m1 1h0m1 0h0m0 1h0m2-3h0m0 2h0m1-2h0m0 1h0m0 2h0m1-2h0m5-2h0m0 1h0m0 1h0m4 2h0m64 0h0m12-1h0m2 1h0m3 6h0m0-4h0m-1 2h0m-2 1h0m0-4h0m-2 2h0m0-1h0m-3 3h0m0-1h0m-1-1h0m0-1h0m-1 1h0m-1 3h0m0-4h0m0-1h0m-3 3h0m0-1h0m-1-1h0m0-1h0m-1 5h0m-1 0h0m0-1h0m-1-2h0m-1-2h0m-1 3h0m0-2h0m-1 4h0m0-3h0m-1 2h0m0-2h0m-14 1h0m-1 0h0m-2 0h0m-1-3h0m-1 0h0m-1 5h0m0-1h0m0-2h0m-1-1h0m-1 4h0m-4-3h0m-2 0h0m-28 0h0m-5 0h0m-2 2h0m-1 1h0m0-2h0m0-2h0m-1-1h0m-1 0h0m-1 5h0m-1-5h0m-1 5h0m0-2h0m-1 1h0m0-3h0m-1 1h0m-2 3h0m-1-4h0m-1-1h0m-3 4h0m0-1h0m-1 1h0m0-2h0m-3 1h0m0-2h0m-1 2h0m-1 1h0m0-4h0m-1 2h0m-1 3h0m-3-5h0m-1 2h0m0-1h0m0-1h0m-1 3h0m-1 1h0m-2-2h0m-2 3h0m-2 0h0m0-1h0m-2-1h0m-1 2h0m0-3h0m-1 3h0m0-1h0m-1-4h0m-3 4h0m0 2h0m1 2h0m2 0h0m1 0h0m1-1h0m0 1h0m1 1h0m0 2h0m1-2h0m1-2h0m0 3h0m1 1h0m1 0h0m1-3h0m0 2h0m3 0h0m0 1h0m1-3h0m2 2h0m1 0h0m1-1h0m1-3h0m0 1h0m0 3h0m3-3h0m1 0h0m0 1h0m0 2h0m3-3h0m0 1h0m1 0h0m0 1h0m1-2h0m0 1h0m1 3h0m3-3h0m0 3h0m1-3h0m0 2h0m1-4h0m0 1h0m1 4h0m1-5h0m0 1h0m1 0h0m2 3h0m1 1h0m1-5h0m0 5h0m3 0h0m1-4h0m2 0h0m2-1h0m0 5h0m2-3h0m0 2h0m3-2h0m1 3h0m1-1h0m0 1h0m1-2h0m2 0h0m1 2h0m23-5h0m0 1h0m0 2h0m1 0h0m2-2h0m0 1h0m1 1h0m1 0h0m1-2h0m0 1h0m3-2h0m4 3h0m1 0h0m3-2h0m1-1h0m1 2h0m0 1h0m1-3h0m0 2h0m2 0h0m1-2h0m3 4h0m1-3h0m1 1h0m0 1h0m1-1h0m0 2h0m2-3h0m1 0h0m0 3h0m1-3h0m0 2h0m0 2h0m5-2h0m1-1h0m1 2h0m1-3h0m0 3h0m1-2h0m0 3h0m1-1h0m1-2h0m1 2h0m1-4h0m1 5h0m2-3h0m1 3h0m4 0h0m5 6h0m-1 0h0m0-1h0m0-1h0m-1 2h0m-1-5h0m-2 2h0m0-2h0m-1 1h0m-1 1h0m-1 0h0m0-1h0m-1 3h0m-2-1h0m-1 0h0m0-2h0m-2 2h0m0-2h0m0-1h0m-1 0h0m-2 3h0m-1-2h0m-1 4h0m0-1h0m-1-3h0m-2 4h0m0-2h0m0-1h0m-1 0h0m-1 0h0m-1-1h0m-2 4h0m0-1h0m0-2h0m-2 1h0m0-3h0m-1 0h0m-2 5h0m0-2h0m-2 2h0m0-4h0m-1 0h0m-1-1h0m-2 2h0m0-2h0m-4 4h0m0-4h0m-2 4h0m0-2h0m0-2h0m-1 5h0m-1-1h0m-1-4h0m-2 5h0m0-2h0m0-1h0m-1 3h0m-2 0h0m-27-1h0m-1 0h0m-1 0h0m-1 0h0m0-4h0m-1 4h0m-1 1h0m-1 0h0m-1-5h0m-1 3h0m-3 2h0m-5-1h0m0-2h0m0-1h0m-1 2h0m0-3h0m-2 5h0m0-1h0m-1-1h0m-1-2h0m0-1h0m-1 1h0m-1 4h0m-2-3h0m-1 3h0m-1-1h0m0-4h0m-1 5h0m0-5h0m-1 3h0m0-1h0m0-2h0m-2 5h0m-1 0h0m0-4h0m0-1h0m-1 5h0m-1-1h0m-1-2h0m-1 3h0m0-2h0m-2 2h0m-1-3h0m0-2h0m-1 4h0m0-3h0m-1 3h0m-1-2h0m-1-1h0m-3-1h0m-1 5h0m0-2h0m0-3h0m-2 4h0m0-1h0m-1 1h0m0-1h0m0-3h0m-2 1h0m0-1h0m-1 3h0m-1 1h0m0-4h0m-2 5h0m-1 0h0m-1-1h0m-1-1h0m1 4h0m1 1h0m1 0h0m1-2h0m0 3h0m0 2h0m4-5h0m2 2h0m2 0h0m1-1h0m1 4h0m2-5h0m0 2h0m0 2h0m1 0h0m3-2h0m1-1h0m1 3h0m1-4h0m1 2h0m1 3h0m1-4h0m0 3h0m1-4h0m0 4h0m0 1h0m1-4h0m0 3h0m1-3h0m1-1h0m1 4h0m1-1h0m0 2h0m4-4h0m2 1h0m0 1h0m1-2h0m0 4h0m2-4h0m0 1h0m2-2h0m0 3h0m1 2h0m1-2h0m0 2h0m1-2h0m1 0h0m4 2h0m1-4h0m0 2h0m1-2h0m1 4h0m1-4h0m1-1h0m1 2h0m3-2h0m0 4h0m1-1h0m23 1h0m2 0h0m1-4h0m0 4h0m1-1h0m1-2h0m1 2h0m0 1h0m2-1h0m2 0h0m0 1h0m1-4h0m1 1h0m1-1h0m1 1h0m2 0h0m0 2h0m1-2h0m1-1h0m0 5h0m2-3h0m0 1h0m4-1h0m0 2h0m2 1h0m6-3h0m1-1h0m2 1h0m2 3h0m1-5h0m0 3h0m0 2h0m3-2h0m3-2h0m1 4h0m1-3h0m0 1h0m2-2h0m5-1h0m0 3h0m3-3h0m0 4h0m1 1h0m4 4h0m-1-1h0m-3 3h0m0-3h0m-1-2h0m-1 0h0m-3 1h0m-1 3h0m-1-1h0m-1-2h0m0-1h0m-2 3h0m-2-3h0m-1 2h0m-1 2h0m-1-2h0m0-2h0m-1 4h0m0-4h0m-3 2h0m0-1h0m-1 1h0m0-1h0m-2 1h0m-2 2h0m0-2h0m0-1h0m0-1h0m-1 5h0m0-5h0m-2 4h0m-5-1h0m0-3h0m-1 3h0m0-2h0m-2 4h0m-1-2h0m-1 2h0m-1 0h0m-1 0h0m-1-1h0m-2 1h0m0-5h0m-1 2h0m-1 1h0m0-3h0m-1 5h0m-4-1h0m-1 1h0m-1-4h0m0-1h0m-1 3h0m0-2h0m-1 4h0m-1-1h0m0-1h0m0-2h0m-2 0h0m0-1h0m-1 3h0m0-3h0m-2 5h0m0-5h0m-2 3h0m0-1h0m-18 3h0m-2-1h0m-1-3h0m-1 4h0m-1 0h0m-1-1h0m0-1h0m-1 1h0m-1 0h0m-3 1h0m0-3h0m-1 3h0m-2-5h0m-1 4h0m0-1h0m-4 1h0m-1-2h0m0-1h0m-2 2h0m0-2h0m-2 3h0m-1 1h0m-1-4h0m-1 1h0m0-2h0m-1 3h0m-1 2h0m-1 0h0m0-3h0m-3 3h0m0-2h0m-3 0h0m-1 2h0m0-4h0m-1-1h0m-1 5h0m0-3h0m-1-1h0m-2 2h0m-3-1h0m0-2h0m-2 0h0m-3 1h0m0-1h0m-1 5h0m-1-1h0m-4-4h0m-1 2h0m0 6h0m1-2h0m0 1h0m0 1h0m2-1h0m1 0h0m0 3h0m2-3h0m1 4h0m2-1h0m0 1h0m2 0h0m1-3h0m1-1h0m1-1h0m0 1h0m0 3h0m4 0h0m2-4h0m0 2h0m1 1h0m0 1h0m0 1h0m1-5h0m1 4h0m0 1h0m1-4h0m0 4h0m1-3h0m0 3h0m1-1h0m1-2h0m0 3h0m1-4h0m1 0h0m1-1h0m0 4h0m1 0h0m1-4h0m0 5h0m1-5h0m2 4h0m2-2h0m1 2h0m2-3h0m1 4h0m2-5h0m1 2h0m0 2h0m3-4h0m2 0h0m0 5h0m1-1h0m2-3h0m0 1h0m0 1h0m0 2h0m1-4h0m0 1h0m1-1h0m3-1h0m15 5h0m2-3h0m1-1h0m1 2h0m2-3h0m0 2h0m1 3h0m4-3h0m1-1h0m1 1h0m2 2h0m0 1h0m1-5h0m0 2h0m1 2h0m0 1h0m1-5h0m3 0h0m1 2h0m2 3h0m1 0h0m1-4h0m0 4h0m3-5h0m0 4h0m2-1h0m1-2h0m2-1h0m0 1h0m1 2h0m2 1h0m1-4h0m2 0h0m0 2h0m2-2h0m1 0h0m2 2h0m0 3h0m3-1h0m1-4h0m0 5h0m1-1h0m2-2h0m2-1h0m3 2h0m3-1h0m0 2h0m1 0h0m2-3h0m0 3h0m1-1h0m2-2h0m1 0h0m0 1h0m1 0h0m1-1h0m0 2h0m13 2h0m1-3h0m0 1h0m0 1h0m1-3h0m0 4h0m3-3h0m0 1h0m1-2h0m0 1h0m1-2h0m1 2h0m0 2h0m1 0h0m3 1h0m-2 1h0m-1 1h0m-3 0h0m-1 2h0m-1-1h0m-3 0h0m-12 0h0m-1 2h0m-1 1h0m0-3h0m-2 1h0m0-1h0m-1 1h0m0-3h0m-1 0h0m-1 5h0m0-1h0m-1 1h0m0-3h0m-1 1h0m-2-1h0m0-1h0m0-1h0m-1 2h0m-1 3h0m0-4h0m0-1h0m-1 5h0m-2-5h0m-1 2h0m-1 3h0m0-3h0m-1 2h0m-1-1h0m-2 0h0m-1-2h0m-1-1h0m-1 4h0m0-2h0m-1 2h0m-3 1h0m-3-1h0m-1-4h0m-1 1h0m-1 3h0m0-4h0m-1 5h0m0-2h0m-2-2h0m-1 3h0m0-4h0m-3 3h0m0-3h0m-1 3h0m0-2h0m-1 2h0m0-2h0m0-1h0m-1 5h0m0-1h0m0-3h0m-1 1h0m-2 0h0m-3 0h0m-2 2h0m0-2h0m-1 0h0m-2 2h0m0-2h0m-1 0h0m0-2h0m-1 2h0m-1 3h0m0-2h0m-1 2h0m-2-3h0m0-1h0m0-1h0m-1 1h0m-1 2h0m-1 0h0m0-3h0m-1 4h0m-1 0h0m-1-2h0m-3-2h0m-20 1h0m-1 4h0m0-1h0m0-1h0m-1 0h0m-1 2h0m-1-2h0m0-1h0m-1 2h0m-1-3h0m-1 3h0m0-2h0m-1 3h0m0-5h0m-2 5h0m0-5h0m-3 4h0m-1 1h0m-1-1h0m-1 1h0m-3-3h0m0-1h0m-1 3h0m-2-2h0m0-1h0m-2 4h0m0-2h0m-2 2h0m0-3h0m-1 2h0m-2 1h0m0-3h0m-2 0h0m-1 2h0m0-3h0m-1 3h0m0-4h0m-1 1h0m-2 1h0m0-1h0m-2 2h0m-1 0h0m-1-3h0m-1 2h0m-1 2h0m-1 0h0m-2-2h0m-1 0h0m-1-2h0m-8 4h0m-1 1h0m-1-1h0m-1 5h0m0 2h0m1 0h0m1-4h0m4-1h0m1 0h0m3 1h0m0 1h0m1 2h0m1 0h0m0 1h0m1-1h0m0 1h0m2-1h0m9-2h0m2 1h0m1 0h0m1 0h0m2-1h0m2 0h0m1 1h0m1 1h0m1-2h0m0 2h0m1-4h0m0 2h0m0 3h0m1-3h0m1 0h0m0 2h0m1 1h0m2-5h0m1 1h0m0 3h0m2-2h0m1-2h0m2 5h0m2-1h0m1 0h0m1-4h0m1 1h0m1 3h0m4-4h0m22 1h0m0 1h0m1 0h0m1-1h0m0 1h0m1 2h0m3-3h0m0 2h0m0 1h0m2-3h0m2 0h0m0 2h0m4-2h0m1 2h0m0 2h0m3-3h0m3 3h0m1-4h0m0 2h0m2-1h0m0 1h0m0 2h0m3-4h0m0 1h0m1-2h0m1 1h0m0 1h0m1-1h0m0 2h0m2 1h0m1-1h0m1-1h0m0 1h0m1-3h0m0 2h0m1-2h0m0 1h0m0 2h0m0 2h0m1-5h0m1 3h0m1-1h0m0 1h0m1-3h0m2 3h0m1 2h0m2 0h0m1-4h0m1-1h0m1 5h0m2-1h0m2-2h0m1 0h0m0 1h0m0 2h0m3-2h0m1-3h0m1 1h0m0 4h0m1-5h0m1 1h0m1 0h0m0 3h0m1 0h0m2-1h0m0 2h0m2-5h0m1 0h0m1 1h0m0 1h0m0 1h0m0 1h0m2-1h0m0 1h0m0 5h0m-3 2h0m0-1h0m-2-4h0m-2 4h0m-1-2h0m-3 3h0m-2-1h0m0-3h0m0-1h0m-1 0h0m-1 4h0m-4 1h0m0-2h0m-1 1h0m0-3h0m-1 1h0m0-1h0m-1 1h0m-1-1h0m-3 0h0m-2 0h0m0-1h0m-1 3h0m0-2h0m0-1h0m-1 5h0m0-1h0m-2 1h0m0-1h0m-1 1h0m-1-2h0m0-2h0m-1 3h0m0-2h0m-1 0h0m-2-2h0m-1 2h0m0-2h0m-5 4h0m-4-2h0m0-1h0m-1 4h0m0-3h0m0-2h0m-1 5h0m-1 0h0m0-3h0m-2 3h0m0-2h0m0-2h0m0-1h0m-1 5h0m0-1h0m-1-2h0m-3 2h0m0-2h0m-1 1h0m0-1h0m-3 1h0m0-1h0m-2-2h0m-1 2h0m-1-2h0m-2 5h0m0-2h0m0-1h0m-40-2h0m-1 2h0m0-1h0m-2-1h0m-1 0h0m-15 3h0m-3 0h0m-1-2h0m-1 2h0m0-1h0m-2 2h0m0-3h0m-1 4h0m-3 0h0m0-3h0m-2 1h0m-1 2h0m0-3h0m0-1h0m0-1h0m-1 1h0m-3 3h0m-1-2h0m-2 0h0m-1 0h0m-1 6h0m1 3h0m1-4h0m0 1h0m1-2h0m0 2h0m0 2h0m1-2h0m2 1h0m1-3h0m1 5h0m1-3h0m1 2h0m1-2h0m1-1h0m0 2h0m0 1h0m2-1h0m3-3h0m0 2h0m0 3h0m1-4h0m1 2h0m1 0h0m0 1h0m1-2h0m0 1h0m0 1h0m3 0h0m26 1h0m3-2h0m0 2h0m1 0h0m1-1h0m0 1h0m2-2h0m5 1h0m2-1h0m0 1h0m1 1h0m3-1h0m2 0h0m0 1h0m1-1h0m11-3h0m0 3h0m3-2h0m0 2h0m2-1h0m3 1h0m2-4h0m2 1h0m1 0h0m0 2h0m1 0h0m0 2h0m1-1h0m1-4h0m1 2h0m0 3h0m1-3h0m3-1h0m0 1h0m3-1h0m0 2h0m0 1h0m1-3h0m3 2h0m1-2h0m1-1h0m1 3h0m2 0h0m2-2h0m0 2h0m2-3h0m0 5h0m1-2h0m0 2h0m1-5h0m0 5h0m1-5h0m0 2h0m2 0h0m0 1h0m0 2h0m1-5h0m1 5h0m1-4h0m1 0h0m0 2h0m1-2h0m1 0h0m0 3h0m1-2h0m1 0h0m1 0h0m1-1h0m0 3h0m2 0h0m0 1h0m1 0h0m3-4h0m0 4h0m1-2h0m3-1h0m1 3h0m1 0h0m1-2h0m1 1h0m2-2h0m-2 5h0m-1 4h0m-1-5h0m-1 1h0m-3 3h0m-3 0h0m0-3h0m0-1h0m-1 2h0m-1 1h0m0-3h0m-2 3h0m0-3h0m-1 4h0m0-3h0m-3 3h0m-1 0h0m-1-3h0m-2 3h0m0-3h0m0-1h0m-1 0h0m-1 5h0m0-1h0m-1-4h0m-1 4h0m-1-3h0m-2 1h0m-1 1h0m0-2h0m-1 3h0m-2 1h0m0-1h0m-3 1h0m-2-3h0m0-2h0m-4 5h0m0-3h0m-1-1h0m-1 2h0m0-3h0m-1 5h0m-1-4h0m-3 2h0m-1 2h0m-1-4h0m-2 3h0m-1-4h0m-2 4h0m-1 1h0m-1-2h0m-1-1h0m-1 3h0m0-1h0m0-4h0m-2 0h0m-1 5h0m0-2h0m-1 2h0m0-4h0m-2 0h0m-1-1h0m-8 0h0m-1 0h0m-5 0h0m-3 1h0m-1 3h0m-1-3h0m-1 4h0m0-4h0m-1 2h0m-2-2h0m0-1h0m-5 5h0m-1-5h0m-1 3h0m0-2h0m0-1h0m-1 3h0m0-1h0m0-1h0m-1 4h0m0-1h0m0-4h0m-2 0h0m-1 3h0m-23-1h0m-3 0h0m-1 3h0m0-2h0m-1 2h0m-1-2h0m-1 1h0m-1 1h0m0-1h0m0-3h0m-1 3h0m-1-2h0m-3 0h0m-2 3h0m0-2h0m-1-1h0m-1-2h0m-2 2h0m-1-1h0m0-1h0m-1 2h0m-2-1h0m0 5h0m4 3h0m2-3h0m0 3h0m0 2h0m1-2h0m1-3h0m1 0h0m0 2h0m1-2h0m1 4h0m1-2h0m0 2h0m2-4h0m1 4h0m1-3h0m30-1h0m0 1h0m0 1h0m3-2h0m3 2h0m0 1h0m0 1h0m4-4h0m0 1h0m1-1h0m0 4h0m1-3h0m0 2h0m1-2h0m0 4h0m3-5h0m0 5h0m2-4h0m0 3h0m2-4h0m0 5h0m1-5h0m1 3h0m1-3h0m1 0h0m0 1h0m2 2h0m1-3h0m0 3h0m10-3h0m0 1h0m2 0h0m0 4h0m1-5h0m1 0h0m0 3h0m1-3h0m0 1h0m0 1h0m1-1h0m1-1h0m1 1h0m0 4h0m1-4h0m0 1h0m0 1h0m1-1h0m1 1h0m0 1h0m1-2h0m1 1h0m1-2h0m1 2h0m0 1h0m1-1h0m0 2h0m1-3h0m0 1h0m2 0h0m2 0h0m6-3h0m0 4h0m4 0h0m0 1h0m1-1h0m1-2h0m1 0h0m1-1h0m1 3h0m1-2h0m2 0h0m1-1h0m1 0h0m1 1h0m1-2h0m0 2h0m2-1h0m0 2h0m0 2h0m1-5h0m0 2h0m0 3h0m2-3h0m1-2h0m1 5h0m1-2h0m2 0h0m1 2h0m2-3h0m0 3h0m1-4h0m0 2h0m1-2h0m2-1h0m1 1h0m0 4h0m0 1h0m-1 3h0m-2 2h0m-1-2h0m0-3h0m-2 5h0m0-4h0m-2 4h0m-1-4h0m-1 4h0m-3 0h0m0-1h0m-2-2h0m0-1h0m-1 1h0m-1 3h0m-1-4h0m0-1h0m-1 5h0m0-2h0m-1-2h0m0-1h0m-1 3h0m-1-3h0m-1 0h0m-1 3h0m-3 0h0m-5 2h0m0-1h0m-2 1h0m-1-3h0m-1 0h0m-1-1h0m-1 0h0m-1 3h0m-1 1h0m-1-1h0m0-2h0m0-1h0m-1 4h0m0-3h0m-1 1h0m0-3h0m-3 0h0m-1 5h0m0-2h0m0-2h0m0-1h0m-1 1h0m-2 3h0m0-3h0m-3 2h0m-1 0h0m-2 0h0m0-2h0m-2 4h0m0-4h0m-1 2h0m-2-3h0m-10 1h0m-1 3h0m0-3h0m-1-1h0m-1 0h0m-1 2h0m-2 0h0m-1-1h0m-3-1h0m-1 4h0m0-2h0m-3 1h0m0-1h0m-1 1h0m-2-2h0m-1 0h0m-1 0h0m-1-1h0m35 7h0m2 3h0m0 1h0m1-2h0m1-1h0m1-1h0m0 4h0m1-4h0m1 0h0m0 1h0m0 3h0m2-2h0m2-2h0m1-1h0m0 1h0m1 4h0m1-5h0m0 1h0m0 4h0m1-4h0m0 2h0m2-3h0m1 1h0m1 0h0m1 3h0m1-3h0m0 2h0m1-1h0m0 1h0m2-2h0m1 3h0m1 0h0m1 0h0m1-4h0m2 0h0m0 3h0m0 2h0m1-4h0m2 4h0m2-4h0m3-1h0m0 3h0m2 1h0m2 1h0m1-4h0m1-1h0m0 3h0m0 1h0m1-4h0m0 1h0m3 4h0m1-3h0m0 1h0m1-3h0m0 2h0m4 9h0m-1-1h0m0-2h0m-2-2h0m-1 1h0m0-1h0m-1 0h0m-2 5h0m0-1h0m-1-1h0m-1-3h0m-1 2h0m0-2h0m-2 4h0m0-1h0m0-2h0m-1 1h0m-1 2h0m0-3h0m-1-1h0m-2 3h0m-1 1h0m-1 0h0m-2-2h0m0-1h0m-1 3h0m0-3h0m-1 3h0m0-3h0m0-1h0m-3 2h0m-5 2h0m-1-4h0m-1 2h0m-1 0h0m-1-1h0m-1 3h0m0-2h0m0-2h0m-1 5h0m0-5h0m-1 4h0m-3-3h0m-2 2h0m0-1h0m-1 2h0m0-2h0m-1 0h0m0-2h0m-1 2h0m-3 0h0m-2 0h0m0-2h0m-54 10h0m3-1h0m3-2h0m68 0h0m2 0h0m2-1h0m1 0h0m0 1h0m12-1h0m1 0h0m2 1h0m2-1h0m0 1h0m2 0h0m1 1h0m1 0h0m1-2h0m0 1h0m-83 10h0m0-1h0m0-1h0m0-1h0m-1 1h0m-1-1h0m-5 0h0m-3-2h0m-1 5h0m0-4h0m-1 4h0m0-5h0m-2 1h0m-1 4h0m0-4h0m-1 3h0m0-3h0m-1 2h0m0-3h0m-2 5h0m0-2h0m0-1h0m-1-2h0m-1 9h0m1 1h0m1 0h0m1-1h0m2-2h0m0 2h0m1-3h0m1 4h0m2-2h0m2 2h0m1 0h0m1-4h0m1 2h0m1-2h0m1 1h0m1-1h0m0 1h0m0 1h0m1 3h0m2-5h0m1 1h0m0 1h0m1-2h0m-1 7h0m-1-1h0m-2 1h0m-1 2h0m-1-2h0m-3 4h0m-6 0h0m-2-4h0m0-1h0m-1 2h0m0-1h0m-1 2h0m0-2h0m-2 1h0m-2-2h0m4 7h0m0 2h0m1 2h0m1-2h0m2 2h0m1-4h0m1 1h0m1-1h0m3-1h0m14 3h0m10-1h0m1 3h0m1 0h0m1-2h0m0 1h0m2-1h0m1 0h0m7 8h0m0-1h0m-5-1h0m-1 2h0m0-1h0m-1 0h0m0-3h0m-1 4h0m0-2h0m0-2h0m-2 1h0m-2-1h0m-1 0h0m0-1h0m-1 4h0m0-2h0m-1 1h0m0-3h0m-2 2h0m-2 2h0m0-4h0m-1 4h0m-3 1h0m0-4h0m-1 4h0m-1-4h0m-1 1h0m-16-2h0m22 6h0m0 1h0m1-1h0m0 2h0m2 1h0m1-2h0m1 0h0m0 1h0m1 0h0m1-2h0m0 1h0m2-1h0m0 3h0m0 2h0m1 0h0m1-4h0m2 0h0m2 4h0m1-4h0m2 2h0m4 2h0m2 0h0m4 2h0m-2-1h0m-1 0h0m-1 3h0m-6-1h0m-1 2h0m-1-2h0m0-1h0m-1 3h0m0-4h0m-1 2h0m-1 2h0m0-1h0m-1 2h0m0-5h0m-1 1h0m-3-1h0m-1 1h0m-2 2h0m-2 2h0m-1-5h0m-1 2h0m-2 1h0m5 3h0m0 1h0m1 1h0m1 0h0m1-1h0m3-1h0" stroke="#fff" stroke-width="1.2" stroke-linecap="round" fill="none"/></g>
<g id="sFO1"><path d="M13 -62h0m37 2h0m-35 4h0m-10 7h0m12 0h0m9 0h0m10-5h0m1 1h0m6-1h0m1 2h0m1 2h0m2 1h0m16 0h0m-1 2h0m-6 2h0m-1-2h0m-1-1h0m-7 0h0m-5 4h0m-4 0h0m-2 1h0m-3-4h0m-1 2h0m-3 2h0m0-2h0m-3-2h0m-7 4h0m-6-5h0m-1 5h0m-10 3h0m4 3h0m1-1h0m1-3h0m2 1h0m4 3h0m2-1h0m5-3h0m1 0h0m0 2h0m1-1h0m5 0h0m9 3h0m1-3h0m2 0h0m3-1h0m1 3h0m4-3h0m4-1h0m4 4h0m1-4h0m4 4h0m9 6h0m-2-4h0m-4 2h0m-1 2h0m0-2h0m-2 2h0m-5 0h0m-3 1h0m-2-1h0m-3-4h0m-2 2h0m-7-2h0m-3 0h0m-2 4h0m-4 1h0m-2-5h0m-3 1h0m0-1h0m-2 2h0m-5-2h0m-3 3h0m-2 0h0m-2-1h0m-1 2h0m-7 0h0m-3-3h0m1 8h0m1 0h0m0 2h0m2-2h0m8-3h0m1 0h0m4 5h0m6 0h0m4-2h0m0 1h0m1-2h0m1 1h0m0 2h0m2-4h0m2 1h0m0 3h0m2-1h0m1-1h0m1 0h0m12-3h0m3 4h0m2-3h0m0 4h0m5-3h0m3 2h0m3-4h0m3 1h0m2 4h0m2-1h0m8-4h0m-16 9h0m-5-3h0m-4 0h0m-1 5h0m-1-1h0m0-1h0m-4-2h0m-5 0h0m-1 4h0m-1-2h0m-5 0h0m-3 1h0m-5-1h0m-2-2h0m-3 4h0m-6 0h0m-2-2h0m-2 2h0m-1-1h0m-5-4h0m-1 1h0m-2-1h0m-4 4h0m-3 1h0m-2-3h0m-14 0h0m12 7h0m1-2h0m6 4h0m3 0h0m3-4h0m3 2h0m4-3h0m13 1h0m1 1h0m1 1h0m1 0h0m4 1h0m2-3h0m1 2h0m2-1h0m1 3h0m2-1h0m1 0h0m3-2h0m2 3h0m2-2h0m1 1h0m10-4h0m1 5h0m2-2h0m3 2h0m1-5h0m1 0h0m7 1h0m0 3h0m0 1h0m3 3h0m-4-1h0m-1 2h0m-6 1h0m0-2h0m-4 2h0m0-3h0m-7 3h0m-1-2h0m-1-2h0m-15 1h0m-1 4h0m-2-1h0m-4 0h0m-1 0h0m-1-4h0m-9 5h0m0-5h0m-1 3h0m-1 1h0m-1-4h0m-3 1h0m-5 2h0m-2-3h0m-1 1h0m-1 0h0m-6 0h0m-4 3h0m0-4h0m-1 0h0m6 9h0m3-3h0m1 1h0m2 2h0m0 1h0m7-1h0m3-1h0m1 1h0m0 2h0m5-3h0m3-1h0m4 1h0m2-1h0m7 3h0m5-3h0m10 4h0m1-3h0m12 2h0m3-3h0m0 3h0m1-4h0m3 4h0m0 1h0m3 0h0m-1 2h0m-2 0h0m-2 1h0m-6-1h0m-5 4h0m-1-3h0m0-1h0m-2 4h0m-5-2h0m-2 1h0m-2-2h0m-1 0h0m-2-2h0m-6 1h0m-1 1h0m-9-2h0m-5 3h0m-4 0h0m-6-1h0m-1-1h0m-1 1h0m-1-1h0m-2 3h0m-2-3h0m0-1h0m-1 1h0m-3 2h0m0-3h0m-3 0h0m-8 1h0m-2 4h0m-12-3h0m16 7h0m1-2h0m1 0h0m5-1h0m2 1h0m4 4h0m1-5h0m4 2h0m0 1h0m2 1h0m4-1h0m1-1h0m7-2h0m2 5h0m1-5h0m3 0h0m1 4h0m3-3h0m2 1h0m3 0h0m5-1h0m4 0h0m0 2h0m2 0h0m3 1h0m1 0h0m6-1h0m3 1h0m4-3h0m1-1h0m3 3h0m2 0h0m-2 7h0m0-1h0m-1 2h0m0-2h0m-6 2h0m-1-2h0m-3-1h0m-1 3h0m-1-5h0m-2 1h0m-3 0h0m-3 1h0m-1 1h0m-1 2h0m-2-5h0m-3 5h0m-6-2h0m-6-3h0m-3 2h0m-2 2h0m-4 0h0m-1 1h0m0-1h0m-2 0h0m0-3h0m0-1h0m-2 1h0m-3 4h0m-2-2h0m0-2h0m-3 0h0m-2 4h0m0-5h0m-1 3h0m-5-3h0m-8 1h0m-2-1h0m-7 0h0m6 6h0m11 2h0m0 2h0m4-4h0m0 4h0m4 1h0m3-1h0m6-4h0m0 2h0m2 1h0m4-3h0m2 0h0m1 4h0m2-3h0m7 3h0m1-2h0m0 3h0m1-3h0m0 1h0m3-3h0m1 2h0m2-1h0m1 2h0m3 1h0m1 1h0m1-1h0m12-4h0m4 0h0m5 0h0m-2 6h0m-1 0h0m-2 5h0m-2 0h0m-2 0h0m-3-1h0m-3-3h0m-2-1h0m-4 4h0m-1-1h0m-1-1h0m0-2h0m-3 4h0m0-1h0m-3 0h0m0-1h0m0-2h0m-1 5h0m-1-5h0m-3 1h0m-7 3h0m-5-4h0m-2 5h0m-2-5h0m-2 1h0m-2 3h0m0-1h0m0-2h0m-3 0h0m0-1h0m-3 5h0m-4-5h0m-1 4h0m0-2h0m-2 3h0m-1 0h0m-6-1h0m-1 0h0m9 7h0m1-2h0m5-3h0m2 2h0m0 2h0m5 1h0m1-4h0m9-1h0m0 1h0m2 3h0m2 0h0m2-4h0m2 1h0m2 1h0m5-1h0m2 3h0m5 1h0m1-2h0m1-3h0m2 2h0m2 2h0m2-4h0m1 3h0m3 7h0m-4-2h0m-6 2h0m-1-4h0m-1 5h0m-2-4h0m-2 0h0m-10 0h0m-1 2h0m-3 1h0m-4 0h0m-2 1h0m-9-1h0m-3 1h0m-1-1h0m-1 0h0m-4 1h0m-1-4h0m-4 3h0m-4-3h0m8 5h0m6 1h0m3 4h0m2-4h0m0 1h0m2-1h0m0 1h0m1 2h0m6 0h0m1-2h0m1-1h0m1 4h0m2-4h0m1 1h0m0 2h0m2 1h0m5-3h0m1 3h0m1-5h0m4 1h0m12 2h0m-26 6h0m0-1h0m-6 0h0m-5 1h0m-3-3h0m-1 5h0m-5 5h0m21-1h0m1 2h0m-1 5h0" stroke-width="1.9" stroke-linecap="round" fill="none"/></g>
<g id="sFO2"><path d="M14 -58h0m39 9h0m-2-2h0m-15 1h0m-2-4h0m-2 1h0m-1 3h0m0-4h0m-37 5h0m20 6h0m2-2h0m8-3h0m0 1h0m4 2h0m0 1h0m1-4h0m7 0h0m3 0h0m0 4h0m1-1h0m3-1h0m2 3h0m5-4h0m2 3h0m3-4h0m7 6h0m-2 5h0m0-3h0m-1 2h0m0-4h0m-4 4h0m0-2h0m-2-1h0m-2 0h0m-2 4h0m-4-5h0m-2 4h0m-3-2h0m-1 1h0m-3 1h0m-2 1h0m-2-4h0m-2 1h0m-3-1h0m-1 1h0m-1 3h0m-6-1h0m-3-3h0m-1 2h0m-2 2h0m-13-5h0m0 10h0m9-2h0m0 2h0m4-2h0m0 2h0m3 0h0m1-1h0m0 1h0m2 0h0m5 0h0m2-3h0m0 2h0m4 0h0m1-2h0m3 4h0m1-3h0m1 0h0m2 3h0m11-3h0m4-2h0m0 5h0m2-4h0m2 1h0m5 3h0m2-4h0m0 4h0m2-3h0m2 1h0m0 2h0m2 3h0m-5 0h0m-1-1h0m-2 2h0m-1-2h0m-2 3h0m-1-4h0m-1 3h0m0-3h0m-3 1h0m-5 2h0m-3-3h0m-1 2h0m-2 1h0m-1-3h0m-1 4h0m-4 0h0m-1 1h0m-3-3h0m-6-1h0m-3 4h0m-2-1h0m-6 1h0m-5-2h0m-4 1h0m-3 1h0m-1-5h0m-5 2h0m-1 0h0m-13 3h0m9 6h0m3-1h0m1-2h0m5 1h0m1-1h0m0 3h0m2 0h0m2-2h0m1-1h0m4-2h0m2 1h0m0 4h0m4-3h0m2 3h0m1-4h0m3 3h0m1 1h0m7-1h0m1 1h0m3 0h0m1 0h0m2-2h0m3-3h0m0 3h0m0 1h0m8-4h0m0 2h0m1 3h0m1-5h0m0 5h0m3-5h0m0 5h0m4-4h0m2 1h0m0 1h0m1-3h0m18 8h0m-3 0h0m-3 2h0m-7-3h0m-1 4h0m-4-4h0m-1 1h0m-2 1h0m-1 2h0m0-3h0m-2 0h0m-3 1h0m-9 1h0m-4-4h0m-1 1h0m0-1h0m-5 4h0m-6 1h0m-1-1h0m-1 1h0m-7-1h0m-1 0h0m-1-2h0m-15 3h0m-1-3h0m-5 1h0m0 5h0m4 1h0m1 1h0m1 1h0m6-2h0m7 1h0m2-4h0m5 0h0m2 1h0m0 3h0m1-4h0m3 5h0m1-2h0m3 2h0m1-1h0m2-4h0m0 3h0m0 1h0m4-4h0m2 5h0m2 0h0m1-2h0m3-3h0m1 1h0m0 2h0m1 0h0m10 1h0m2-4h0m3 2h0m4 2h0m7-1h0m1 2h0m3 6h0m0-2h0m-1-2h0m-2-1h0m-12 1h0m-2 1h0m-1 1h0m-11 0h0m-1-1h0m0-1h0m-1-1h0m-3 0h0m-2 3h0m-3 2h0m0-1h0m-3 1h0m-1-4h0m-4 0h0m-5 0h0m-4 2h0m0-2h0m-1 2h0m-7 1h0m-2 1h0m0-1h0m-1 1h0m-2 0h0m-2-2h0m-5 2h0m0-5h0m-6 0h0m-1 5h0m0-2h0m-1-1h0m-12-1h0m10 6h0m4 2h0m5 2h0m1 0h0m2-5h0m0 4h0m1 0h0m2 1h0m4 0h0m3-1h0m5 1h0m2-2h0m6 0h0m1 1h0m2-3h0m3 0h0m5 1h0m3 0h0m3 3h0m11-5h0m2 4h0m1 0h0m3 0h0m9 1h0m3-4h0m1 0h0m2 7h0m-3 3h0m0-2h0m-3 1h0m-2-4h0m-3 4h0m-1-2h0m-3 0h0m-13 1h0m0-3h0m-1 5h0m0-3h0m-7-1h0m-2 2h0m0-2h0m-4 0h0m-1 3h0m-10-3h0m-1-1h0m-4 1h0m-1 3h0m-1 0h0m-1 1h0m-1-5h0m-1 2h0m-2-1h0m0-1h0m-6 5h0m0-1h0m-1-2h0m-7-1h0m-1 3h0m0-2h0m-16 6h0m14 2h0m1-3h0m4 4h0m3 0h0m2 0h0m4-3h0m0 3h0m3 0h0m2-2h0m3-1h0m6 0h0m2 1h0m1-2h0m4 4h0m2-4h0m5 0h0m6-1h0m0 2h0m1 1h0m0 1h0m4 1h0m1 0h0m2-4h0m2-1h0m4 4h0m1-3h0m0 2h0m2-3h0m0 1h0m4 0h0m3 1h0m5 1h0m2-1h0m1 0h0m1-1h0m-3 10h0m-3-2h0m-4-2h0m-1 4h0m-1-1h0m-3 1h0m0-1h0m0-4h0m-3 2h0m-3 1h0m-8-1h0m-1 3h0m-3-3h0m-1 1h0m-2-1h0m-11 0h0m-4 1h0m-1 2h0m-2-3h0m-6 3h0m-4-5h0m-4 2h0m-1 2h0m-4 0h0m-2 0h0m-1 0h0m-2-4h0m-3 9h0m11-3h0m2 4h0m5-3h0m0 1h0m4 3h0m1-2h0m1 1h0m1-3h0m1 3h0m1-2h0m1 1h0m4-2h0m3 2h0m4 2h0m2-1h0m4-4h0m1 4h0m7-3h0m0 1h0m11 0h0m3-2h0m1 0h0m0 5h0m3-4h0m1 2h0m2 1h0m-10 3h0m-3 2h0m-2-1h0m0-2h0m-2 5h0m-3-5h0m-3 3h0m0-2h0m-1 2h0m-1 0h0m0-3h0m-9 1h0m-1 4h0m-1 0h0m0-1h0m0-3h0m-4-1h0m-5 3h0m-1 1h0m-2 1h0m-1 0h0m-10-2h0m-11 4h0m7 2h0m5 1h0m5 1h0m3-1h0m1 0h0m0 1h0m1-4h0m0 3h0m2-4h0m1 0h0m2 1h0m4 0h0m4 3h0m1-4h0m3 1h0m2 2h0m1-1h0m2 3h0m2-4h0m2 0h0m2-1h0m0 2h0m0 1h0m1 2h0m4-5h0m0 4h0m9 1h0m1-5h0m4 10h0m-23 1h0m-1 0h0m0-3h0m-1-1h0m-5 4h0m-6-3h0m-6-2h0m-2 3h0m-12 4h0m0 1h0m5-2h0m2 3h0m3-1h0m5 2h0m3-3h0m6 3h0m3-2h0m5 4h0m-12 2h0m-10 7h0m11-1h0m-10 5h0" stroke-width="1.9" stroke-linecap="round" fill="none"/></g>
<g id="sFO3"><path d="M1 -58h0m2-2h0m22 4h0m28 6h0m-14-2h0m-2 1h0m-1 2h0m-2-3h0m-2 3h0m0-3h0m-2 1h0m-3 1h0m-1 0h0m-10 0h0m-1 1h0m-6-2h0m5 7h0m3-2h0m5 3h0m2-3h0m0 2h0m5-4h0m2 1h0m2-1h0m2 3h0m4-1h0m1 0h0m13 3h0m6-2h0m2 7h0m-3 1h0m-1-5h0m-1 1h0m-1 3h0m-3 1h0m-1-1h0m-1 1h0m-1-3h0m-10 1h0m0-2h0m0-1h0m-5 5h0m-5-3h0m-3 1h0m0-1h0m-1-1h0m0-1h0m-1 3h0m-1-1h0m-3 0h0m0-1h0m-1 2h0m-1 0h0m-3 1h0m-4-3h0m-3 4h0m-3 4h0m1-2h0m3 2h0m3-2h0m4 3h0m4 1h0m7-2h0m1 2h0m3-4h0m1 2h0m0 2h0m1-3h0m2 1h0m1 0h0m2-1h0m4 3h0m2-2h0m3-1h0m1-2h0m3 0h0m1 0h0m1 4h0m4-3h0m5 1h0m1 2h0m3 1h0m4-1h0m1 6h0m-3 1h0m-5-2h0m-1 0h0m-3 0h0m-2 2h0m-11-5h0m-1 1h0m-2 4h0m-5-1h0m-8-4h0m-1 2h0m-3 0h0m-1 1h0m0-3h0m-6 3h0m-2-1h0m-5 3h0m-8-3h0m-10 2h0m-2 1h0m7 3h0m1 2h0m9-3h0m3 4h0m1-5h0m2 1h0m4 3h0m1 1h0m2-5h0m2 0h0m0 2h0m0 3h0m4 0h0m3-2h0m4 2h0m3-4h0m2 4h0m1 0h0m1-2h0m6-3h0m8 1h0m2 1h0m2 0h0m2-2h0m0 4h0m1 0h0m1 0h0m2-1h0m2-2h0m0 1h0m5 1h0m0 2h0m4-4h0m-3 7h0m-5-2h0m-2 3h0m-5-3h0m-2 5h0m-1-4h0m-2 4h0m-4-3h0m-1 2h0m-2-3h0m-6 2h0m-1 2h0m-2-5h0m-3 3h0m-2 0h0m-2 0h0m-1 2h0m-6 0h0m0-5h0m-4 2h0m-1 2h0m-8-3h0m-6 2h0m-4-3h0m-5 2h0m-2 2h0m-7 5h0m5 0h0m1 0h0m13 1h0m3-3h0m4 4h0m3 0h0m2-1h0m1 1h0m2-4h0m7 0h0m3 0h0m1-1h0m1 4h0m1-2h0m2-1h0m9 2h0m0 1h0m4 0h0m7-3h0m1 2h0m2 2h0m2-3h0m2 1h0m2 0h0m1 1h0m8-2h0m1 3h0m5 3h0m-11-2h0m-4 3h0m-2 0h0m-3 0h0m-6 1h0m0-4h0m-4 0h0m-3 3h0m-1-2h0m-5 2h0m-1-1h0m-1-1h0m-5 4h0m-5-2h0m-3-1h0m-1 2h0m-3-1h0m0-1h0m0-1h0m-1 1h0m-2 2h0m-5 1h0m0-1h0m-1 0h0m-1 0h0m0-4h0m-10 3h0m-1 0h0m-1 0h0m0-2h0m0-1h0m-2 4h0m-4 0h0m-9 0h0m5 3h0m1 3h0m9-3h0m2 0h0m4 3h0m2-4h0m0 2h0m1-1h0m0 1h0m2-2h0m1 5h0m3-1h0m1-4h0m2 5h0m4 0h0m2-1h0m2-1h0m4 2h0m2-1h0m1-4h0m3 0h0m2 1h0m2 2h0m2 0h0m3-3h0m2 3h0m2 0h0m3 1h0m3 0h0m2 0h0m1 0h0m2-3h0m2 3h0m1-2h0m10 1h0m0 5h0m-3 0h0m-1 1h0m0-3h0m-2 2h0m-6 2h0m-2-3h0m-1-1h0m-1 5h0m-3-4h0m-6-1h0m-1 0h0m-3 3h0m-1-1h0m-3 0h0m-3 3h0m-1-3h0m-2 3h0m-3-3h0m-3-2h0m-4 1h0m-1 2h0m-3 0h0m-2-3h0m-1 2h0m0-1h0m-3 1h0m-1-2h0m-3 3h0m-5 1h0m-1 1h0m-4 0h0m-6-4h0m-2 4h0m-2 1h0m4 2h0m10 2h0m2 0h0m0 1h0m2-4h0m1 3h0m3-2h0m2 3h0m8-2h0m2-3h0m1 4h0m1-3h0m6 4h0m2-5h0m1 1h0m2-1h0m2 5h0m3-5h0m2 1h0m3-1h0m5 3h0m3-1h0m2 1h0m3 0h0m1 2h0m2-3h0m2-2h0m1 5h0m4 0h0m1-5h0m0 4h0m2-2h0m0 3h0m-6 1h0m-1 3h0m-1 0h0m-2 2h0m-3-1h0m-3-2h0m-3 1h0m-7-3h0m-3 1h0m-2 3h0m-1 0h0m-8 0h0m-5-1h0m0-3h0m-1 0h0m-4 1h0m-2-1h0m-14 3h0m-1 1h0m-1-1h0m-7-3h0m-3 5h0m-13-5h0m12 9h0m0 2h0m11-2h0m1 2h0m1-2h0m1 1h0m3-2h0m0 1h0m2-2h0m1 3h0m4 0h0m0 1h0m1-4h0m1 1h0m10-1h0m0 4h0m2-5h0m7 1h0m5 1h0m1-1h0m1 4h0m4-2h0m2-3h0m3 1h0m7 1h0m0 3h0m1-5h0m2 5h0m1-3h0m1 4h0m-3 4h0m0-2h0m0-1h0m-5 1h0m-4 1h0m-18 1h0m-3-2h0m-5 2h0m-5-2h0m-3 1h0m0-2h0m-1 0h0m-3 3h0m-5 1h0m-1-2h0m0-1h0m-6 2h0m-3-2h0m-1 2h0m-6-4h0m9 11h0m6-1h0m5-3h0m0 2h0m4 1h0m1 1h0m1-4h0m0 4h0m1-4h0m3 2h0m1-2h0m3 2h0m6 0h0m0 1h0m1-4h0m1 0h0m0 2h0m1 0h0m10-2h0m4 2h0m1 0h0m1 0h0m2 0h0m3 0h0m2 1h0m1-3h0m7 0h0m-21 8h0m-3 2h0m-1-2h0m-3-1h0m-2 3h0m-1-3h0m-3 3h0m0-1h0m0-2h0m-10 1h0m-2-1h0m-2 2h0m-1-1h0m0-2h0m-7 5h0m-12-5h0m-6 7h0m25-1h0m0 2h0m4 2h0m4-4h0m1 5h0m1-5h0m2 0h0m7 3h0m7-2h0m-12 7h0m-12 1h0m-6-2h0m8 8h0m8-3h0" stroke-width="1.9" stroke-linecap="round" fill="none"/></g>
<g id="sFO4"><path d="M41 -55h0m18 6h0m-6 0h0m-4 0h0m-3 0h0m-5 0h0m-6-2h0m-2 1h0m-4-1h0m-21-1h0m-4 5h0m8 3h0m6-3h0m3 2h0m2 0h0m3-3h0m0 1h0m1-1h0m1 5h0m4-1h0m2 0h0m1-3h0m2-1h0m0 2h0m4 2h0m1-4h0m2 3h0m3 2h0m2 0h0m2-5h0m5 0h0m14 11h0m-16 0h0m-1-2h0m-3-1h0m-2-1h0m-1 2h0m-6 0h0m-3-1h0m0-1h0m-5 2h0m0-3h0m-4 0h0m-2 2h0m-8 2h0m-24 3h0m8-1h0m2 5h0m9-3h0m1-1h0m1 2h0m3-2h0m3 0h0m0 2h0m2 0h0m4-2h0m3 1h0m2 3h0m1-1h0m6 0h0m2 0h0m3-3h0m7 3h0m5-4h0m1 4h0m1-1h0m4-3h0m11 9h0m-2 1h0m-2-2h0m-2-1h0m0-1h0m-3 3h0m0-1h0m-1-2h0m-3 3h0m-4-1h0m-3 1h0m-3 0h0m-4 2h0m-1-1h0m-15-2h0m-3 3h0m-6-2h0m-1 1h0m0-1h0m-3 0h0m-2 1h0m-5 0h0m-4 0h0m0-1h0m-1 0h0m-6 1h0m-2-1h0m-4-2h0m-4 4h0m-4 6h0m9 0h0m4 0h0m4-5h0m2 1h0m2-1h0m5 0h0m1 0h0m4 5h0m1-1h0m0 1h0m1-5h0m1 1h0m1 2h0m1-3h0m0 5h0m2-4h0m3-1h0m1 1h0m1 1h0m1 0h0m3 0h0m1 3h0m3-4h0m1 4h0m2-3h0m1-2h0m2 4h0m1-2h0m5 3h0m5-2h0m3-2h0m0 2h0m3-2h0m2 0h0m3 4h0m2-3h0m1-1h0m0 3h0m2-4h0m4 2h0m0 3h0m-2 4h0m-6-2h0m0-1h0m-7 2h0m-3 3h0m-1-3h0m-3-1h0m-7 1h0m-1 1h0m-1 2h0m0-2h0m-8 1h0m-4-4h0m-3 2h0m-4-2h0m-5 3h0m-1 0h0m-1 2h0m-1-2h0m0-1h0m0-1h0m-1 2h0m-2-1h0m-2-1h0m-4 3h0m-6 1h0m-2-3h0m-4 0h0m-3-1h0m-6 7h0m6 1h0m1-1h0m4-1h0m3-1h0m0 2h0m2 2h0m1-1h0m1 0h0m0 1h0m3-3h0m3 4h0m1 0h0m1-5h0m15 5h0m1 0h0m2-4h0m1 2h0m6 0h0m1 0h0m4-1h0m4-2h0m6 4h0m1-2h0m2-1h0m5 4h0m1-3h0m0 3h0m3-2h0m4 2h0m2 0h0m2-5h0m2 0h0m-3 10h0m-1-2h0m0-2h0m-3 0h0m-4 4h0m-1-1h0m-2 1h0m-5-4h0m-2 1h0m-10 4h0m0-5h0m-1 2h0m-1 3h0m-7-2h0m0-2h0m-3 3h0m-1-2h0m-2 2h0m-4 0h0m-2-1h0m-1-2h0m-1 2h0m0-3h0m-1 2h0m-2 1h0m-1-1h0m-1 1h0m-3 1h0m-1-1h0m-1-2h0m-1 0h0m-4 4h0m-11-1h0m0-3h0m3 7h0m13 3h0m2-3h0m4 0h0m1-1h0m0 1h0m3 0h0m0 1h0m1 1h0m2 0h0m3-3h0m2 0h0m3-1h0m4 4h0m10-3h0m3 1h0m5 2h0m15-3h0m3 3h0m1-3h0m2 0h0m2 1h0m2-2h0m-1 7h0m-1 0h0m-2 1h0m-6-1h0m-3 4h0m-1-3h0m-1 0h0m-3 3h0m-1-2h0m0-2h0m-10 1h0m-1 0h0m-2 0h0m-4 3h0m0-2h0m0-2h0m-4 2h0m-2-2h0m-9 0h0m-4 1h0m-2 0h0m-1 3h0m-2-3h0m-6 2h0m0-4h0m-2 0h0m-13 2h0m-1 3h0m-3-3h0m0 4h0m5 4h0m8 1h0m2 0h0m4-4h0m4 4h0m1-4h0m0 2h0m3-3h0m6 5h0m1-3h0m4-2h0m0 1h0m0 1h0m2-2h0m1 4h0m2-1h0m5-3h0m3 3h0m4-1h0m3 3h0m2-2h0m2 1h0m1-1h0m4 1h0m1 0h0m0 1h0m1-5h0m2 3h0m1 2h0m6-4h0m0 3h0m1-2h0m0 3h0m3-4h0m1 0h0m6 5h0m-12 3h0m-4-2h0m-1-1h0m-1 1h0m-4 0h0m-1 1h0m-9-2h0m-6 4h0m0-2h0m-3-1h0m-1 4h0m-3-1h0m-5-2h0m-2-2h0m-1 1h0m-2 3h0m-2-2h0m0-1h0m-1 4h0m-3 0h0m-4-3h0m-1 0h0m-5 0h0m-4-2h0m-1 1h0m-1 2h0m-1-2h0m-4 4h0m0-1h0m0-3h0m-5 7h0m6-2h0m2 0h0m1 4h0m1-1h0m2-2h0m0 1h0m1 0h0m4 1h0m2 1h0m1-2h0m0 1h0m13-3h0m0 5h0m4 0h0m1-2h0m8-1h0m0 1h0m6-3h0m5 1h0m1 0h0m2 2h0m6 0h0m2-1h0m1-1h0m3 10h0m0-3h0m-3-2h0m-3 5h0m-1-1h0m-2-3h0m-1 3h0m-6-2h0m-7-2h0m-3 5h0m0-1h0m-2 0h0m-1 1h0m0-5h0m-4 0h0m-2 5h0m-2-3h0m-2-1h0m-1 4h0m-4 0h0m-1-5h0m-8 0h0m-4 0h0m-3 3h0m-1-3h0m-2 4h0m-4 0h0m-9-2h0m15 5h0m2 3h0m6-2h0m3 2h0m6-1h0m4-3h0m0 3h0m2-1h0m3 2h0m1-1h0m2 2h0m3-1h0m3 1h0m4-3h0m3 1h0m1-1h0m1-1h0m3 2h0m7-2h0m0 2h0m1-1h0m0 2h0m0 1h0m2-4h0m0 2h0m1-3h0m3 2h0m2 7h0m-13 0h0m-1-1h0m-1-2h0m-3 2h0m-2 1h0m-2-1h0m-5 1h0m-8-1h0m-1 0h0m-1-2h0m-1 4h0m-3-2h0m-1 3h0m-2-2h0m-1-3h0m-3 1h0m-3 0h0m-6 1h0m-7 7h0m23-2h0m5 1h0m5 3h0m3-4h0m16 4h0m-24 3h0m-2 6h0m9 1h0m1 6h0" stroke-width="1.9" stroke-linecap="round" fill="none"/></g>
<g id="sFOs1"><path d="M17 -73h0m9 3h0m-2-2h0m-1 1h0m-3 3h0m0-2h0m-4 3h0m-3-1h0m-1 3h0m2 0h0m0 1h0m7 2h0m-10 13h0m-3 0h0m-1 4h0m1-3h0m0 4h0m2-3h0m5 9h0m0-2h0m-2 0h0m-5 3h0m-3 0h0m85 18h0m2 5h0m-1-4h0m-1 0h0m-3 0h0m-4 5h0m9 2h0m0 2h0m3-3h0m2 1h0m-32 46h0m-2-1h0m-7 1h0m-5 4h0m1-1h0m1 3h0m5 0h0m1-4h0m5 1h0m1 0h0m-6 7h0m-4-3h0m-1 3h0" stroke-width="1.9" stroke-linecap="round" fill="none"/></g>
<g id="sFOs2"><path d="M21 -74h0m1 4h0m-2 3h0m-2-5h0m-1 0h0m-2 3h0m-3 5h0m3 1h0m0 1h0m3-4h0m1 4h0m4 0h0m-8 19h0m-1 0h0m-1-3h0m0-1h0m-3 3h0m-4 1h0m0-1h0m-1 4h0m2 0h0m0 3h0m8-3h0m77 21h0m-3 0h0m3 6h0m2 0h0m-1 5h0m-2-4h0m-1 3h0m-2 1h0m-2-1h0m-2-3h0m-22 47h0m5 2h0m-2 2h0m-1 0h0m-1-3h0m-6 2h0m-1-1h0m2 10h0m1-1h0m2-1h0m0 1h0m3-3h0" stroke-width="1.9" stroke-linecap="round" fill="none"/></g>
<g id="sFOs3"><path d="M18 -73h0m4 0h0m0 6h0m-1-2h0m-3 1h0m0-1h0m-1-3h0m-2 4h0m0-1h0m-2 6h0m3-2h0m2-1h0m-9 17h0m-1 5h0m8-2h0m0 3h0m-4 4h0m-1 2h0m-1-2h0m-1-2h0m-3 2h0m0-3h0m-4 2h0m83 26h0m3-1h0m2-3h0m1 5h0m1-3h0m5 2h0m0 1h0m-2 3h0m-5-2h0m-2 0h0m-4 3h0m-33 47h0m2 0h0m6 0h0m1-1h0m2 2h0m2-2h0m0 1h0m1-1h0m0 8h0m0-2h0m0-1h0m-2 4h0m-2 0h0" stroke-width="1.9" stroke-linecap="round" fill="none"/></g>
<g id="sFOs4"><path d="M21 -73h0m4 3h0m-1 2h0m-3-3h0m-4-1h0m-5 3h0m-1 2h0m3 1h0m2 3h0m2-2h0m1 3h0m2 1h0m-10 11h0m-8 4h0m6 2h0m1-1h0m1-3h0m4 2h0m-1 6h0m0-1h0m-2 4h0m-5-5h0m82 23h0m7 6h0m-1-4h0m-1 3h0m-4-4h0m-5 1h0m-1 4h0m0 1h0m5 3h0m1-2h0m3 3h0m-30 42h0m-8 1h0m-3 4h0m9-3h0m5 1h0m2 0h0m1 2h0m-4 7h0m0-4h0m-2 0h0m-4 4h0m-1 0h0m-3-2h0" stroke-width="1.9" stroke-linecap="round" fill="none"/></g>
<g id="sMZ1"><path d="M-67 -55h0m1-1h0m4-3h0m2-1h0m4 3h0m2 1h0m20 1h0m3 5h0m-5 0h0m-2-3h0m-1 3h0m-3-4h0m-2 1h0m-1 4h0m-7 0h0m-1-2h0m-4-1h0m-1 2h0m0-1h0m-1-3h0m-3 0h0m-4 0h0m-4 5h0m0-1h0m-1-2h0m-1 3h0m-7 0h0m-4 4h0m1-2h0m3-1h0m1 3h0m19-1h0m0 3h0m1-4h0m1 2h0m0 2h0m4-1h0m1-4h0m0 1h0m0 1h0m2-2h0m1 0h0m1 5h0m2-3h0m2 3h0m2-5h0m1 1h0m6 3h0m4-3h0m0 4h0m2-3h0m1-1h0m1 0h0m1 3h0m6 4h0m-1-2h0m-1 3h0m-1-1h0m-7 0h0m-1 0h0m-3 1h0m0-1h0m-2 3h0m0-1h0m-3 1h0m-3-2h0m-3-1h0m-1 3h0m-14 0h0m-1-3h0m0-2h0m-3 1h0m-1 0h0m-3-1h0m-3 0h0m-1 5h0m-2-4h0m-3 0h0m-3 2h0m-2-2h0m6 8h0m0 2h0m5-2h0m2-2h0m6 4h0m3-5h0m1 3h0m12 2h0m3-3h0m4 3h0m5-1h0m1-1h0m3-2h0m3 2h0m1 2h0m2-4h0m6 1h0m3 2h0m2-3h0m4 8h0m-4 0h0m-1 0h0m-1-3h0m-1 0h0m-5 4h0m-1 1h0m-4-4h0m-2-1h0m-1 2h0m-4 2h0m-2-3h0m-3-1h0m-15 4h0m-2 0h0m-1-4h0m-3 5h0m-3-2h0m-1-2h0m-2 2h0m-1-3h0m-2 4h0m1 2h0m1 4h0m1-1h0m5 0h0m0 1h0m2 1h0m3 0h0m2-2h0m13 1h0m2 1h0m1-4h0m2 3h0m2 1h0m3-3h0m0 3h0m4-5h0m10 3h0m2-2h0m0 3h0m1-4h0m1 2h0m3 2h0m4-1h0m-10 5h0m-2 0h0m-1 0h0m-4 3h0m0-3h0m-2 2h0m0-3h0m-1 4h0m-1-2h0m-1-1h0m-8 1h0m-2-3h0m-2 5h0m0-1h0m-1 1h0m0-1h0m-5 1h0m-1-4h0m-1 0h0m-1 2h0m-1-2h0m-2 0h0m-3 2h0m-3-3h0m-1 5h0m-2-3h0m-1 1h0m-2 0h0m-3 2h0m0-5h0m-1 2h0m-1-2h0m6 11h0m7-3h0m7 2h0m7-4h0m6 2h0m2-1h0m2 2h0m8 2h0m2-4h0m1 1h0m1 0h0m3 1h0m0 2h0m1-4h0m1 6h0m-1 2h0m-2 1h0m-6-2h0m-7 2h0m-5-2h0m-2-1h0m-1 4h0m-2-2h0m-3 1h0m-1 1h0m0-5h0m-2 4h0m-1-3h0m-6 0h0m-6-1h0m23 6h0m4 0h0m0 5h0m3-1h0m1-3h0m0 3h0m2-4h0m5 1h0m-11 5h0" stroke-width="1.9" stroke-linecap="round" fill="none"/></g>
<g id="sMZ2"><path d="M-73 -55h0m3-1h0m1 0h0m3-1h0m3 0h0m1-1h0m1 0h0m3-1h0m0 2h0m1-2h0m18 4h0m3 0h0m2 0h0m2 5h0m-3-3h0m-2 4h0m0-5h0m-1 1h0m-6 4h0m-1-2h0m-1-3h0m-1 2h0m-4 0h0m0-1h0m-1 1h0m-3-1h0m-5-1h0m-22 9h0m3-2h0m13 4h0m1 0h0m3-2h0m5-3h0m8 2h0m0 1h0m0 1h0m2-2h0m1 3h0m1-5h0m1 1h0m4-1h0m1 4h0m7 0h0m1-1h0m2 1h0m9 4h0m-1 0h0m-17-2h0m-2 5h0m-5-3h0m-2 0h0m-3 2h0m-1-1h0m-1 0h0m-2-2h0m-4 1h0m0-1h0m-1 0h0m-3 3h0m-5-3h0m-4 2h0m-2 2h0m-1-2h0m-2 1h0m-2 1h0m2 4h0m3-2h0m1 2h0m1 2h0m2-1h0m2-1h0m4-3h0m3 4h0m3 0h0m11 0h0m6-3h0m5 4h0m8-3h0m0 3h0m1 0h0m3-1h0m1-4h0m3 3h0m8 5h0m-1 1h0m0-3h0m-4 5h0m0-5h0m-6 2h0m0-1h0m-2-1h0m-1 0h0m-3 3h0m-1 1h0m-5 0h0m-3 0h0m-6-1h0m-1 0h0m-4 2h0m-1-4h0m-6 4h0m0-1h0m-3 1h0m-1-5h0m-2 4h0m-4-4h0m-1 5h0m0-4h0m-2 0h0m-5 3h0m-1-3h0m-1 3h0m16 5h0m0 1h0m8 1h0m6-5h0m2 2h0m3 0h0m5-2h0m2 4h0m4-4h0m2 0h0m0 4h0m4-3h0m9 2h0m1 1h0m1-2h0m2-1h0m1 3h0m0 1h0m2 0h0m-7 1h0m-3 0h0m-1 4h0m-2-1h0m-4 0h0m-2 2h0m-4 0h0m0-1h0m-2-3h0m-6 1h0m-1 0h0m-3 0h0m-2 2h0m-1-4h0m-1 4h0m-3 0h0m-2 0h0m-3-1h0m-5 0h0m0-1h0m-1 3h0m0-5h0m-6 1h0m-2 2h0m-2 2h0m9 2h0m0 4h0m4 0h0m3-3h0m2 1h0m6 0h0m1-1h0m1-2h0m1 4h0m1 1h0m6-5h0m0 5h0m11-1h0m10-3h0m-2 9h0m-5-4h0m-1 2h0m-1 1h0m0-2h0m-1 2h0m-4-1h0m-1 2h0m-1 0h0m-2-3h0m-3 0h0m-2 1h0m-2 1h0m-1 2h0m-1-2h0m-2 0h0m-1-1h0m-2 3h0m0-5h0m-1 0h0m-2 4h0m0-1h0m-1 0h0m-1 1h0m0-3h0m-1 1h0m-3-2h0m-5 0h0m19 7h0m2 3h0m3 0h0m1-1h0m1-3h0m0 2h0m6-1h0m1-1h0m2 1h0m1 0h0m-6 5h0" stroke-width="1.9" stroke-linecap="round" fill="none"/></g>
<g id="sMZ3"><path d="M-59 -57h0m3 1h0m24 2h0m-3 0h0m-1 4h0m0-3h0m-1 4h0m-3-2h0m-22 0h0m0-2h0m-1 3h0m-2-1h0m-2 1h0m-7-3h0m-8 9h0m1-2h0m1-1h0m3 2h0m4 0h0m6 1h0m0 1h0m2-3h0m2 1h0m0 1h0m4-1h0m0 1h0m0 1h0m1-4h0m2 2h0m4 2h0m2-4h0m1 1h0m4 2h0m2-4h0m1 2h0m2-1h0m5-1h0m4 2h0m6 1h0m2 2h0m1 0h0m5 4h0m-2-3h0m-5 4h0m-1 1h0m0-5h0m-8 5h0m-3 0h0m-3 0h0m-4-5h0m-2 5h0m0-2h0m-6 0h0m0-1h0m-2-1h0m-4 3h0m0-2h0m-4-1h0m-1 3h0m-1 0h0m-4-4h0m-1 2h0m-1 2h0m-4 0h0m-2-1h0m-5 0h0m-3-3h0m4 6h0m1 1h0m3-1h0m0 2h0m1 2h0m3-3h0m5-1h0m0 1h0m5-1h0m1 3h0m1-2h0m1-1h0m0 1h0m6 0h0m2 3h0m2-4h0m1 1h0m2 0h0m1 0h0m2 0h0m1-1h0m0 1h0m3 1h0m5 0h0m0 3h0m2-3h0m2 3h0m6-2h0m1-3h0m2 2h0m3-1h0m4 9h0m-1-1h0m-7-1h0m-1-2h0m-1 4h0m0-1h0m-3-1h0m-4 0h0m0-2h0m-1 5h0m-1-3h0m-5-1h0m-10 1h0m0-1h0m-6 2h0m0-1h0m-1 1h0m-3-2h0m-1-1h0m-3 1h0m-1 1h0m-3 2h0m-3 0h0m-5-4h0m-1 2h0m0 4h0m2 1h0m4-1h0m1 0h0m1 2h0m1 0h0m3 0h0m3 1h0m7-1h0m1 3h0m3-1h0m2-4h0m0 3h0m4 1h0m5 0h0m3-2h0m0 3h0m4-4h0m1 1h0m3 0h0m0 1h0m6 1h0m1-1h0m7 2h0m1-5h0m0 2h0m1 7h0m-1-2h0m-1 4h0m-12-2h0m-1-2h0m-4 4h0m-3 0h0m0-5h0m-5 4h0m-3 1h0m-2-2h0m-6 2h0m-12-3h0m-4 3h0m-1 0h0m-3-4h0m-2 2h0m1 3h0m5 2h0m0 2h0m6 1h0m1-4h0m5 0h0m3 0h0m1 3h0m9-4h0m3 0h0m7 3h0m1-2h0m8 4h0m1-4h0m0 3h0m0 1h0m3-1h0m0 5h0m-3 2h0m-1-2h0m-4 2h0m-5-5h0m-4 1h0m-1 3h0m-2-3h0m-2 4h0m0-4h0m-4 1h0m-1 2h0m-3 1h0m-2-3h0m-4 0h0m-1 0h0m-6-2h0m12 6h0m3 1h0m1-1h0m1 2h0m3-2h0m3 2h0m1 3h0m1-3h0m0 1h0m1-2h0m4 3h0m1-1h0m5-3h0" stroke-width="1.9" stroke-linecap="round" fill="none"/></g>
<g id="sMZ4"><path d="M-71 -56h0m2-1h0m7-2h0m1 4h0m1-4h0m2 4h0m1-1h0m2-1h0m19 2h0m2 0h0m3 6h0m0-1h0m-1-1h0m-6 1h0m-3-3h0m-1 0h0m-2 3h0m0-3h0m-3 2h0m0-2h0m-5 0h0m-4 4h0m-1-1h0m0-4h0m-3 3h0m-7 2h0m-2-1h0m-9-2h0m-2 2h0m-3 5h0m2-2h0m4 1h0m5-1h0m0 2h0m1 0h0m8-2h0m1 4h0m3-3h0m13-1h0m1 3h0m5-1h0m2-3h0m1 1h0m1-1h0m6 5h0m1-1h0m4 0h0m1 0h0m1 0h0m1-1h0m0 1h0m6 5h0m-6-3h0m-11 5h0m-3-2h0m0-1h0m-1-2h0m-4 5h0m-1-1h0m-5-2h0m-1 2h0m-1-4h0m-3 5h0m-2-3h0m-2 1h0m-3-3h0m-3 1h0m-2 0h0m-3 3h0m0-3h0m-1 0h0m-8 3h0m-1-4h0m-2 3h0m-1-1h0m-2-2h0m7 7h0m0 2h0m12 1h0m1 0h0m2-3h0m0 2h0m1-2h0m0 4h0m3-4h0m3 0h0m2 2h0m0 2h0m1-5h0m3 2h0m3-1h0m2 1h0m0 3h0m3-3h0m2 3h0m1-3h0m4 2h0m3-1h0m3 0h0m4-3h0m0 1h0m2 3h0m1-4h0m7 5h0m-1 6h0m-4-2h0m-2-2h0m-1 2h0m-1-2h0m-1 3h0m-3-3h0m-15-1h0m-4 4h0m-6 0h0m-2-2h0m-2 0h0m-2-1h0m-2 1h0m-2 0h0m-3-1h0m-2-1h0m-1 0h0m-7 1h0m-1 1h0m-2-1h0m6 7h0m5 0h0m0 3h0m3-5h0m1 2h0m0 2h0m0 1h0m2-2h0m0 1h0m2-2h0m3 0h0m1 1h0m1 2h0m2 0h0m2-3h0m0 2h0m6-2h0m1 2h0m1-2h0m3 1h0m1-1h0m15 1h0m2 0h0m4-2h0m5-1h0m2 5h0m2-2h0m0 2h0m-3 3h0m-4 0h0m-4 3h0m-3-2h0m-3-3h0m-4 1h0m-4 3h0m-2-2h0m-1 1h0m-2-2h0m-4 1h0m-1 1h0m-3 0h0m-2-2h0m-4 0h0m-1 1h0m-6 3h0m-6-1h0m0-3h0m-6 1h0m-3 0h0m8 7h0m11 1h0m2-1h0m2 2h0m1-4h0m2 1h0m1-1h0m8 3h0m0 1h0m8-4h0m1 2h0m6 1h0m4 1h0m3-3h0m1 3h0m-2 2h0m-2 1h0m0-1h0m-10 2h0m-3 2h0m-4-5h0m-11 4h0m-2 1h0m-1-4h0m-10 0h0m11 6h0m9 0h0m1 2h0m2-1h0m0 2h0m1-1h0m3 0h0m1-1h0m0 2h0m0 1h0m1-1h0m1-4h0" stroke-width="1.9" stroke-linecap="round" fill="none"/></g>
<g id="sMZs1"><path d="M-46 -66h0m8 2h0m25 2h0m5 3h0m-6 0h0m-1 4h0m0-4h0m-3 3h0m16 10h0m2 0h0" stroke-width="1.9" stroke-linecap="round" fill="none"/></g>
<g id="sMZs2"><path d="M-43 -62h0m1-2h0m4-2h0m24 5h0m5 0h0m-2 4h0m-1 1h0m-5-3h0m-2 0h0m17 13h0m1-1h0" stroke-width="1.9" stroke-linecap="round" fill="none"/></g>
<g id="sMZs3"><path d="M-46 -65h0m1 1h0m5-1h0m29 5h0m-1 3h0m-1-1h0m-1-1h0m-1-1h0m-1 2h0m17 13h0m1 0h0" stroke-width="1.9" stroke-linecap="round" fill="none"/></g>
<g id="sMZs4"><path d="M-42 -62h0m2-3h0m1-1h0m22 5h0m8 1h0m-2 2h0m-2 3h0m0-3h0m-6 0h0m18 12h0m2 0h0" stroke-width="1.9" stroke-linecap="round" fill="none"/></g>
<g id="sFC1"><path d="M-74 -10h0m0 1h0m2 1h0m1 1h0m4 0h0m3 1h0m-8 3h0m-1 2h0m-1-5h0m-1 4h0m0-3h0m-1 4h0m4 6h0m1-4h0m0 3h0m4-2h0m0 1h0m5 1h0m5 0h0m7 5h0m-4-1h0m-13 0h0m-1 2h0m-2-4h0m-3 2h0m-3 3h0m0-5h0m2 11h0m1-1h0m4-1h0m2-2h0m1 1h0m1 2h0m1-2h0m0 1h0m1 1h0m6-1h0m1 2h0m5-5h0m-4 7h0m-2 2h0m-13 0h0m-1 2h0m-3-1h0m12 3h0" stroke-width="1.9" stroke-linecap="round" fill="none"/></g>
<g id="sFC2"><path d="M-73 -10h0m5 0h0m0 3h0m5 3h0m-3-2h0m-6 4h0m-1-2h0m-4 4h0m3 0h0m2 1h0m0 1h0m1 1h0m2-3h0m6 0h0m1 5h0m1 0h0m8 0h0m3 6h0m0-3h0m0-2h0m-7 4h0m-1-2h0m0-1h0m-4 4h0m-4 0h0m-1-4h0m-2 0h0m-1-1h0m-4 5h0m0-4h0m-2 3h0m3 7h0m4-5h0m1 0h0m2 0h0m4 5h0m1-1h0m1-1h0m2-2h0m4-1h0m2 0h0m-6 6h0m-2 4h0m0-4h0m-11 1h0m1 5h0m3 1h0" stroke-width="1.9" stroke-linecap="round" fill="none"/></g>
<g id="sFC3"><path d="M-74 -10h0m1 3h0m1 0h0m6-1h0m4 5h0m-3-2h0m-1-1h0m-6 3h0m-4 3h0m2 5h0m5-3h0m3 2h0m8 0h0m2-3h0m0 3h0m3-2h0m0 1h0m1 6h0m-1-2h0m-5 4h0m-4-2h0m0-1h0m-6-2h0m-1 1h0m-2 4h0m0-4h0m-1 2h0m-3 0h0m-2-2h0m3 6h0m1 1h0m4 1h0m4 2h0m2-3h0m1-2h0m5 0h0m4 3h0m1 1h0m1-4h0m-8 9h0m-2-2h0m-1 1h0m-1 0h0m-2 0h0m-3-1h0m-7 2h0m0-1h0m10 4h0" stroke-width="1.9" stroke-linecap="round" fill="none"/></g>
<g id="sFC4"><path d="M-71 -9h0m2 4h0m-1 1h0m-4 2h0m0-1h0m-1 0h0m0-3h0m1 7h0m1 0h0m8 2h0m3-2h0m1 2h0m2 2h0m2-5h0m2 2h0m3 0h0m0 2h0m0 1h0m-3 6h0m-2-2h0m-3 1h0m-3-1h0m-4-3h0m-2 5h0m-2-3h0m-1-2h0m-1 1h0m0 10h0m6 0h0m6-1h0m1-4h0m5 0h0m0 1h0m-1 8h0m-2-3h0m-2 4h0m-1 1h0m-3-3h0m-5 1h0m-2-1h0m-4 0h0m5 5h0m1-1h0m0 1h0m7-1h0" stroke-width="1.9" stroke-linecap="round" fill="none"/></g>
<g id="sMLP1"><path d="M-27 9h0m5 0h0m21 2h0m2 6h0m0-1h0m-1-3h0m-2 2h0m-1 2h0m-1-2h0m-3 1h0m-2-3h0m-1 3h0m-3 1h0m-3-3h0m-4-1h0m-7 2h0m-2 8h0m7-2h0m1-2h0m0 1h0m0 3h0m4-2h0m0 1h0m7-4h0m0 1h0m4 3h0m5-3h0m2 5h0m-3 0h0m-2 5h0m-3-1h0m-1 0h0m-1-3h0m0-1h0m-4 3h0m-1-1h0m-1 0h0m-1 1h0m-1-2h0m-5 0h0m12 6h0" stroke-width="1.9" stroke-linecap="round" fill="none"/></g>
<g id="sMLP2"><path d="M-23 10h0m2 1h0m1-2h0m0 2h0m5 0h0m2 0h0m3-4h0m0 3h0m8 5h0m-1 2h0m-1-3h0m-2 0h0m0-2h0m-1 3h0m-3-1h0m-3-1h0m-3 4h0m-10-5h0m-3 2h0m-1 3h0m3 3h0m1-1h0m0 4h0m2-3h0m3 3h0m2 0h0m3-5h0m0 4h0m0 1h0m1-1h0m2-4h0m11 4h0m2-3h0m-1 6h0m-5-1h0m-4 5h0m0-1h0m0-2h0m-5-1h0m-5 1h0m11 6h0" stroke-width="1.9" stroke-linecap="round" fill="none"/></g>
<g id="sMLP3"><path d="M-25 10h0m12-1h0m1 2h0m4-1h0m2 1h0m6 5h0m-5-4h0m-6 4h0m-4-3h0m-2 1h0m-1 2h0m-3-3h0m-1 2h0m-3 0h0m-3-3h0m-1 8h0m2-1h0m2 2h0m5-2h0m3 3h0m2-3h0m1 3h0m1-3h0m7 3h0m1 0h0m5 0h0m-2 5h0m-3 2h0m0-3h0m-2 0h0m-2-1h0m-3 1h0m-1 3h0m-4-1h0m0-2h0m-4 0h0m-1-1h0m-1 2h0m0-2h0m0-1h0" stroke-width="1.9" stroke-linecap="round" fill="none"/></g>
<g id="sMLP4"><path d="M-21 11h0m7-2h0m6-1h0m7 7h0m0-1h0m-3 3h0m0-2h0m-7 0h0m-1 2h0m-3-4h0m-3-1h0m-1 5h0m0-1h0m-2 0h0m-4 0h0m1 4h0m4-1h0m0 2h0m0 2h0m1-4h0m0 4h0m5-2h0m3-1h0m1 1h0m1-3h0m0 5h0m5 0h0m1 0h0m4-5h0m-5 8h0m-1 2h0m0-3h0m-1-1h0m-6 5h0m0-5h0m-6 3h0m0-1h0m-12-2h0m18 6h0m2 1h0m2 0h0" stroke-width="1.9" stroke-linecap="round" fill="none"/></g>
<g id="sBR1"><path d="M-42 52h0m3-2h0m3-2h0m2 0h0m4 5h0m2-2h0m2 0h0m2 2h0m3-1h0m1-1h0m3 6h0m-6 2h0m0-2h0m0-3h0m-4 5h0m-3-3h0m-5 0h0m-3-1h0m-4 3h0m0-3h0m4 6h0m0 3h0m1-4h0m1 2h0m2 0h0m0 2h0m4-1h0m1-2h0m0 3h0m3-3h0m30 9h0m-3-2h0m-1 2h0m0-1h0m-1 2h0m-1 0h0m-2 0h0m0-3h0m-6 0h0m-1 3h0m0-3h0m-3 0h0m-2 3h0m-1-3h0m-1-1h0m-16 1h0m-1 0h0m-2-1h0m20 8h0m2-3h0m7 2h0m11 3h0m3-4h0m2 3h0m1 0h0m8 6h0m-7-3h0m-3-1h0m-1 1h0m-2 4h0m-2-1h0m-7 1h0m-6-5h0m-1 0h0m-1 0h0m1 10h0m5-3h0m1 3h0m3-2h0m6-1h0m3 2h0m1-3h0m7 3h0" stroke-width="1.9" stroke-linecap="round" fill="none"/></g>
<g id="sBR2"><path d="M-37 45h0m4-3h0m3 5h0m12 2h0m-2 4h0m-8-5h0m-2 0h0m-2 1h0m-5 4h0m-3-4h0m0-1h0m-1 11h0m4-4h0m0 3h0m1 0h0m2-3h0m2 1h0m7-1h0m1 3h0m5-1h0m1-2h0m-5 7h0m-5 3h0m-2-3h0m-3 0h0m-2 3h0m0-4h0m-2-1h0m-4 0h0m3 9h0m1-2h0m2 4h0m3-3h0m2-1h0m13 1h0m2 3h0m5-1h0m3-1h0m2-2h0m1 3h0m0 1h0m1-1h0m1-1h0m0 2h0m1-3h0m9 9h0m-6-2h0m-5-2h0m-6 0h0m-1 2h0m-6 2h0m0-1h0m-18-4h0m-1 1h0m23 5h0m3 2h0m1-1h0m0 4h0m2-2h0m5-2h0m6 1h0m2 3h0m1-3h0m2 3h0m8 2h0m-10 0h0m-1 2h0m-4-3h0m-6 2h0m-1-2h0m-3 4h0m0-3h0m-4 3h0m-1 0h0m0-1h0m1 3h0m5 2h0" stroke-width="1.9" stroke-linecap="round" fill="none"/></g>
<g id="sBR3"><path d="M-40 46h0m0 1h0m3 0h0m3-3h0m14 5h0m-7 1h0m-2 0h0m-11-1h0m-3 8h0m6 1h0m5-4h0m0 1h0m2 4h0m4-5h0m1 0h0m1 2h0m4-2h0m3 5h0m-7 5h0m-1-2h0m-3 0h0m0-2h0m-1 1h0m-9 2h0m-5-3h0m4 6h0m0 2h0m1-1h0m1 2h0m1 0h0m1-2h0m1 0h0m0 1h0m26-1h0m18 10h0m-2-1h0m-5-2h0m-3 0h0m-2 3h0m-1 0h0m0-5h0m-7 4h0m-2-1h0m-2 2h0m-4-2h0m-15-1h0m23 4h0m3 0h0m0 3h0m3 2h0m3-4h0m2 2h0m1-1h0m1 1h0m1-3h0m4 4h0m2-4h0m1 0h0m0 2h0m3 0h0m2 3h0m-6 2h0m-3 2h0m0-1h0m-2 1h0m-6-3h0m-1 0h0m-1 4h0m-2-4h0m-3 4h0m-1 1h0m0-5h0m-4 3h0m8 5h0" stroke-width="1.9" stroke-linecap="round" fill="none"/></g>
<g id="sBR4"><path d="M-34 43h0m1 3h0m0 1h0m15 5h0m0-2h0m-3 2h0m-2-1h0m-4 0h0m-3-3h0m-1 2h0m-3 2h0m-3 0h0m0-3h0m-2-1h0m-5 6h0m4 3h0m0 1h0m5 0h0m2-2h0m1 1h0m11-3h0m1 5h0m-9 4h0m-1 0h0m-4-3h0m-1 5h0m0-1h0m-1-1h0m0-3h0m-2 3h0m-2-2h0m-1 0h0m2 8h0m4 1h0m4-1h0m21 2h0m1-2h0m6 0h0m3 1h0m3-1h0m8 8h0m-2 0h0m-7-3h0m-1-2h0m-2 3h0m-2 2h0m-2-3h0m-4 1h0m0-3h0m-5 5h0m-1-1h0m-1 1h0m8 6h0m2-4h0m1-1h0m1 3h0m1 0h0m1 1h0m3-1h0m1 0h0m2-1h0m2-2h0m2 1h0m6 4h0m1-1h0m1-2h0m-7 8h0m-1-3h0m-1 1h0m-1 1h0m-2-1h0m0-2h0m-4 0h0m-2 5h0m-3 2h0m7-1h0" stroke-width="1.9" stroke-linecap="round" fill="none"/></g>
<g id="sX"><path d="M-88 -25h0m5 4h0m-2 1h0m-1 0h0m-1-1h0m0-2h0m-1-1h0m-1 5h0m0-1h0m-1-2h0m-2-1h0m81 60h0m1 0h0m0 2h0m1 1h0m1 0h0m17 7h0m-21-1h0m-1 1h0m0 1h0m19 2h0m1-2h0m0 1h0m3-1h0m1 2h0m1-2h0m27 11h0m-1-3h0m0-2h0m-47 11h0m4-1h0m45-4h0m1 2h0m1 3h0m1 2h0m-3 15h0m0 1h0m1 0h0m1-1h0m1-1h0m0 1h0m-3 2h0" stroke-width="1.9" stroke-linecap="round" fill="none"/></g>
</defs>
<text x="529" y="77" font-size="34" font-weight="bold">B</text>
<g transform="translate(666.8 151.6) scale(0.963 0.964)"><use href="#tb"/><use href="#sFO1" stroke="#cbb0e8"/><use href="#sFO2" stroke="#bb8fe9"/><use href="#sFO3" stroke="#ae6fe9"/><use href="#sFOs1" stroke="#cbb0e8"/><use href="#sFOs2" stroke="#bb8fe9"/><use href="#sFOs3" stroke="#ae6fe9"/><use href="#sMZ1" stroke="#cbb0e8"/><use href="#sFC1" stroke="#cbb0e8"/><use href="#sFC2" stroke="#bb8fe9"/><use href="#sMLP1" stroke="#cbb0e8"/><use href="#sMLP2" stroke="#bb8fe9"/><use href="#sBR1" stroke="#cbb0e8"/><use href="#sBR2" stroke="#bb8fe9"/><use href="#sX" stroke="#cbb0e8"/></g>
<path d="M570 69.5V248.6H771.8" stroke="#333" stroke-width="1.1" fill="none"/>
<path d="M574.4 248.6v2.5M620.6 248.6v2.5M666.8 248.6v2.5M713 248.6v2.5M759.2 248.6v2.5M570 238.4h-2.5M570 195h-2.5M570 151.6h-2.5M570 108.2h-2.5" stroke="#333" stroke-width="0.8" fill="none"/>
<text x="574.4" y="262.1" font-size="10" text-anchor="middle" fill="#111">-40</text>
<text x="620.6" y="262.1" font-size="10" text-anchor="middle" fill="#111">-20</text>
<text x="666.8" y="262.1" font-size="10" text-anchor="middle" fill="#111">0</text>
<text x="713" y="262.1" font-size="10" text-anchor="middle" fill="#111">20</text>
<text x="759.2" y="262.1" font-size="10" text-anchor="middle" fill="#111">40</text>
<text x="565.5" y="241.7" font-size="10" text-anchor="end" fill="#111">-40</text>
<text x="565.5" y="198.3" font-size="10" text-anchor="end" fill="#111">-20</text>
<text x="565.5" y="154.9" font-size="10" text-anchor="end" fill="#111">0</text>
<text x="565.5" y="111.5" font-size="10" text-anchor="end" fill="#111">20</text>
<text x="673" y="63.8" font-size="9.2" text-anchor="middle" font-weight="bold" fill="#111">IGHD</text>
<text x="668" y="273" font-size="9.8" text-anchor="middle" fill="#111">tSNE_1</text>
<text x="553.2" y="154" font-size="9.8" text-anchor="middle" fill="#111" transform="rotate(-90 553.2 154)">tSNE_2</text>
<g transform="translate(916.8 152.1) scale(1.004 0.999)"><use href="#tb"/><use href="#gFO" fill="#ae6fe9" fill-opacity="0.12"/><use href="#sFO2" stroke="#bb8fe9"/><use href="#sFO1" stroke="#ae6fe9"/><use href="#sFO3" stroke="#a24fe8"/><use href="#sFO4" stroke="#a24fe8"/><use href="#sFOs2" stroke="#bb8fe9"/><use href="#sFOs1" stroke="#ae6fe9"/><use href="#sFOs3" stroke="#a24fe8"/><use href="#sMZ2" stroke="#cbb0e8"/><use href="#sMZ1" stroke="#bb8fe9"/><use href="#sFC2" stroke="#cbb0e8"/><use href="#sMLP2" stroke="#bb8fe9"/><use href="#sMLP1" stroke="#ae6fe9"/><use href="#sMLP3" stroke="#a24fe8"/><use href="#sBR2" stroke="#cbb0e8"/><use href="#sBR1" stroke="#bb8fe9"/><use href="#sX" stroke="#bb8fe9"/></g>
<path d="M816.3 66.4V252.9H1024.8" stroke="#555" stroke-width="1.1" fill="none"/>
<path d="M820.4 252.9v2.5M868.6 252.9v2.5M916.8 252.9v2.5M965 252.9v2.5M1013.2 252.9v2.5M816.3 242h-2.5M816.3 197h-2.5M816.3 152.1h-2.5M816.3 107.2h-2.5" stroke="#555" stroke-width="0.8" fill="none"/>
<text x="820.4" y="266.4" font-size="10" text-anchor="middle" fill="#555">-40</text>
<text x="868.6" y="266.4" font-size="10" text-anchor="middle" fill="#555">-20</text>
<text x="916.8" y="266.4" font-size="10" text-anchor="middle" fill="#555">0</text>
<text x="965" y="266.4" font-size="10" text-anchor="middle" fill="#555">20</text>
<text x="1013.2" y="266.4" font-size="10" text-anchor="middle" fill="#555">40</text>
<text x="811.8" y="245.3" font-size="10" text-anchor="end" fill="#555">-40</text>
<text x="811.8" y="200.3" font-size="10" text-anchor="end" fill="#555">-20</text>
<text x="811.8" y="155.4" font-size="10" text-anchor="end" fill="#555">0</text>
<text x="811.8" y="110.5" font-size="10" text-anchor="end" fill="#555">20</text>
<text x="906" y="61" font-size="9.2" text-anchor="middle" font-weight="bold" fill="#111">FCER2</text>
<text x="918.6" y="272.7" font-size="9.8" text-anchor="middle" fill="#555">tSNE_1</text>
<text x="800.4" y="153.4" font-size="9.8" text-anchor="middle" fill="#555" transform="rotate(-90 800.4 153.4)">tSNE_2</text>
<g transform="translate(1164.3 155.5) scale(0.967 0.949)"><use href="#tb"/><use href="#sFO1" stroke="#bb8fe9"/><use href="#sFOs1" stroke="#cbb0e8"/><use href="#sMZ1" stroke="#cbb0e8"/><use href="#sMZ4" stroke="#bb8fe9"/><use href="#sMZ3" stroke="#ae6fe9"/><use href="#sMZs1" stroke="#bb8fe9"/><use href="#sMZs4" stroke="#ae6fe9"/><use href="#sFC1" stroke="#cbb0e8"/><use href="#sMLP1" stroke="#cbb0e8"/><use href="#sBR1" stroke="#cbb0e8"/><use href="#sX" stroke="#cbb0e8"/></g>
<path d="M1067.5 75.4V250.2H1269.3" stroke="#333" stroke-width="1.1" fill="none"/>
<path d="M1071.5 250.2v2.5M1117.9 250.2v2.5M1164.3 250.2v2.5M1210.7 250.2v2.5M1257.1 250.2v2.5M1067.5 240.9h-2.5M1067.5 198.2h-2.5M1067.5 155.5h-2.5M1067.5 112.8h-2.5" stroke="#333" stroke-width="0.8" fill="none"/>
<text x="1071.5" y="263.7" font-size="10" text-anchor="middle" fill="#111">-40</text>
<text x="1117.9" y="263.7" font-size="10" text-anchor="middle" fill="#111">-20</text>
<text x="1164.3" y="263.7" font-size="10" text-anchor="middle" fill="#111">0</text>
<text x="1210.7" y="263.7" font-size="10" text-anchor="middle" fill="#111">20</text>
<text x="1257.1" y="263.7" font-size="10" text-anchor="middle" fill="#111">40</text>
<text x="1063" y="244.2" font-size="10" text-anchor="end" fill="#111">-40</text>
<text x="1063" y="201.5" font-size="10" text-anchor="end" fill="#111">-20</text>
<text x="1063" y="158.8" font-size="10" text-anchor="end" fill="#111">0</text>
<text x="1063" y="116.1" font-size="10" text-anchor="end" fill="#111">20</text>
<text x="1167" y="68.6" font-size="9.2" text-anchor="middle" font-weight="bold" fill="#111">JCHAIN</text>
<text x="1170" y="273" font-size="9.8" text-anchor="middle" fill="#111">tSNE_1</text>
<text x="1048.4" y="154" font-size="9.8" text-anchor="middle" fill="#111" transform="rotate(-90 1048.4 154)">tSNE_2</text>
<g transform="translate(1413 147) scale(1.002 1.005)"><use href="#tb"/><use href="#sFO3" stroke="#bb8fe9"/><use href="#sFOs3" stroke="#cbb0e8"/><use href="#sMZ3" stroke="#bb8fe9"/><use href="#sMLP3" stroke="#bb8fe9"/><use href="#sBR3" stroke="#cbb0e8"/><use href="#sX" stroke="#cbb0e8"/></g>
<path d="M1312.1 61.8V248.8H1521.4" stroke="#333" stroke-width="1.1" fill="none"/>
<path d="M1316.8 248.8v2.5M1364.9 248.8v2.5M1413 248.8v2.5M1461.1 248.8v2.5M1509.2 248.8v2.5M1312.1 237.5h-2.5M1312.1 192.2h-2.5M1312.1 147h-2.5M1312.1 101.8h-2.5" stroke="#333" stroke-width="0.8" fill="none"/>
<text x="1316.8" y="262.3" font-size="10" text-anchor="middle" fill="#111">-40</text>
<text x="1364.9" y="262.3" font-size="10" text-anchor="middle" fill="#111">-20</text>
<text x="1413" y="262.3" font-size="10" text-anchor="middle" fill="#111">0</text>
<text x="1461.1" y="262.3" font-size="10" text-anchor="middle" fill="#111">20</text>
<text x="1509.2" y="262.3" font-size="10" text-anchor="middle" fill="#111">40</text>
<text x="1307.6" y="240.8" font-size="10" text-anchor="end" fill="#111">-40</text>
<text x="1307.6" y="195.5" font-size="10" text-anchor="end" fill="#111">-20</text>
<text x="1307.6" y="150.3" font-size="10" text-anchor="end" fill="#111">0</text>
<text x="1307.6" y="105.1" font-size="10" text-anchor="end" fill="#111">20</text>
<text x="1417.5" y="55.9" font-size="9.2" text-anchor="middle" font-weight="bold" fill="#111">CR2</text>
<text x="1414" y="272.9" font-size="9.8" text-anchor="middle" fill="#111">tSNE_1</text>
<text x="1289.4" y="148" font-size="9.8" text-anchor="middle" fill="#111" transform="rotate(-90 1289.4 148)">tSNE_2</text>
<g transform="translate(678.4 383) scale(1.003 1.001)"><use href="#tb"/><use href="#sFO2" stroke="#cbb0e8"/><use href="#sFO4" stroke="#bb8fe9"/><use href="#sFOs2" stroke="#cbb0e8"/><use href="#sFOs4" stroke="#bb8fe9"/><use href="#sMZ2" stroke="#cbb0e8"/><use href="#sMZ4" stroke="#bb8fe9"/><use href="#sMZ1" stroke="#ae6fe9"/><use href="#sMZs2" stroke="#bb8fe9"/><use href="#sMZs4" stroke="#ae6fe9"/><use href="#sFC2" stroke="#cbb0e8"/><use href="#sMLP2" stroke="#cbb0e8"/><use href="#sMLP4" stroke="#bb8fe9"/><use href="#sBR2" stroke="#cbb0e8"/><use href="#sBR4" stroke="#bb8fe9"/><use href="#sX" stroke="#cbb0e8"/></g>
<path d="M577.5 297.7V484.8H787" stroke="#333" stroke-width="1.1" fill="none"/>
<path d="M582.2 484.8v2.5M630.3 484.8v2.5M678.4 484.8v2.5M726.5 484.8v2.5M774.6 484.8v2.5M577.5 473.1h-2.5M577.5 428h-2.5M577.5 383h-2.5M577.5 338h-2.5" stroke="#333" stroke-width="0.8" fill="none"/>
<text x="582.2" y="498.3" font-size="10" text-anchor="middle" fill="#111">-40</text>
<text x="630.3" y="498.3" font-size="10" text-anchor="middle" fill="#111">-20</text>
<text x="678.4" y="498.3" font-size="10" text-anchor="middle" fill="#111">0</text>
<text x="726.5" y="498.3" font-size="10" text-anchor="middle" fill="#111">20</text>
<text x="774.6" y="498.3" font-size="10" text-anchor="middle" fill="#111">40</text>
<text x="573" y="476.4" font-size="10" text-anchor="end" fill="#111">-40</text>
<text x="573" y="431.3" font-size="10" text-anchor="end" fill="#111">-20</text>
<text x="573" y="386.3" font-size="10" text-anchor="end" fill="#111">0</text>
<text x="573" y="341.3" font-size="10" text-anchor="end" fill="#111">20</text>
<text x="682.9" y="291.4" font-size="9.2" text-anchor="middle" font-weight="bold" fill="#111">CD24</text>
<text x="679" y="509.3" font-size="9.8" text-anchor="middle" fill="#111">tSNE_1</text>
<text x="557.4" y="384.3" font-size="9.8" text-anchor="middle" fill="#111" transform="rotate(-90 557.4 384.3)">tSNE_2</text>
<g transform="translate(916.8 382.5) scale(1.004 1.004)"><use href="#tb"/><use href="#sFO4" stroke="#bb8fe9"/><use href="#sFOs4" stroke="#cbb0e8"/><use href="#sMLP4" stroke="#cbb0e8"/><use href="#sBR4" stroke="#bb8fe9"/><use href="#sX" stroke="#cbb0e8"/></g>
<path d="M816.8 297.7V484.3H1026" stroke="#333" stroke-width="1.1" fill="none"/>
<path d="M820.4 484.3v2.5M868.6 484.3v2.5M916.8 484.3v2.5M965 484.3v2.5M1013.2 484.3v2.5M816.8 472.9h-2.5M816.8 427.7h-2.5M816.8 382.5h-2.5M816.8 337.3h-2.5" stroke="#333" stroke-width="0.8" fill="none"/>
<text x="820.4" y="497.8" font-size="10" text-anchor="middle" fill="#111">-40</text>
<text x="868.6" y="497.8" font-size="10" text-anchor="middle" fill="#111">-20</text>
<text x="916.8" y="497.8" font-size="10" text-anchor="middle" fill="#111">0</text>
<text x="965" y="497.8" font-size="10" text-anchor="middle" fill="#111">20</text>
<text x="1013.2" y="497.8" font-size="10" text-anchor="middle" fill="#111">40</text>
<text x="812.3" y="476.2" font-size="10" text-anchor="end" fill="#111">-40</text>
<text x="812.3" y="431" font-size="10" text-anchor="end" fill="#111">-20</text>
<text x="812.3" y="385.8" font-size="10" text-anchor="end" fill="#111">0</text>
<text x="812.3" y="340.6" font-size="10" text-anchor="end" fill="#111">20</text>
<text x="923" y="291.4" font-size="9.2" text-anchor="middle" font-weight="bold" fill="#111">CD38</text>
<text x="916.4" y="505.7" font-size="9.8" text-anchor="middle" fill="#111">tSNE_1</text>
<text x="799.7" y="386" font-size="9.8" text-anchor="middle" fill="#111" transform="rotate(-90 799.7 386)">tSNE_2</text>
<g transform="translate(1170.2 382.5) scale(1.000 1.000)"><use href="#tb"/><use href="#gFO" fill="#ae6fe9" fill-opacity="0.5"/><use href="#gFOs" fill="#ae6fe9" fill-opacity="0.4"/><use href="#gMZ" fill="#ae6fe9" fill-opacity="0.5"/><use href="#gMZs" fill="#ae6fe9" fill-opacity="0.4"/><use href="#gFC" fill="#a24fe8" fill-opacity="0.65"/><use href="#gMLP" fill="#ae6fe9" fill-opacity="0.45"/><use href="#gBR" fill="#bb8fe9" fill-opacity="0.4"/><use href="#sFO2" stroke="#bb8fe9"/><use href="#sFO1" stroke="#ae6fe9"/><use href="#sFO3" stroke="#ae6fe9"/><use href="#sFO4" stroke="#a24fe8"/><use href="#sFOs2" stroke="#bb8fe9"/><use href="#sFOs1" stroke="#ae6fe9"/><use href="#sFOs3" stroke="#ae6fe9"/><use href="#sMZ2" stroke="#bb8fe9"/><use href="#sMZ1" stroke="#ae6fe9"/><use href="#sMZ3" stroke="#ae6fe9"/><use href="#sMZ4" stroke="#a24fe8"/><use href="#sMZs2" stroke="#bb8fe9"/><use href="#sMZs1" stroke="#ae6fe9"/><use href="#sMZs3" stroke="#ae6fe9"/><use href="#sFC2" stroke="#ae6fe9"/><use href="#sFC1" stroke="#a24fe8"/><use href="#sFC3" stroke="#a24fe8"/><use href="#sFC4" stroke="#a24fe8"/><use href="#sMLP2" stroke="#bb8fe9"/><use href="#sMLP1" stroke="#ae6fe9"/><use href="#sMLP3" stroke="#ae6fe9"/><use href="#sBR2" stroke="#cbb0e8"/><use href="#sBR1" stroke="#bb8fe9"/><use href="#sBR3" stroke="#bb8fe9"/><use href="#sX" stroke="#ae6fe9"/></g>
<path d="M1069.3 297.7V484.3H1277.9" stroke="#333" stroke-width="1.1" fill="none"/>
<path d="M1074.2 484.3v2.5M1122.2 484.3v2.5M1170.2 484.3v2.5M1218.2 484.3v2.5M1266.2 484.3v2.5M1069.3 472.5h-2.5M1069.3 427.5h-2.5M1069.3 382.5h-2.5M1069.3 337.5h-2.5" stroke="#333" stroke-width="0.8" fill="none"/>
<text x="1074.2" y="497.8" font-size="10" text-anchor="middle" fill="#111">-40</text>
<text x="1122.2" y="497.8" font-size="10" text-anchor="middle" fill="#111">-20</text>
<text x="1170.2" y="497.8" font-size="10" text-anchor="middle" fill="#111">0</text>
<text x="1218.2" y="497.8" font-size="10" text-anchor="middle" fill="#111">20</text>
<text x="1266.2" y="497.8" font-size="10" text-anchor="middle" fill="#111">40</text>
<text x="1064.8" y="475.8" font-size="10" text-anchor="end" fill="#111">-40</text>
<text x="1064.8" y="430.8" font-size="10" text-anchor="end" fill="#111">-20</text>
<text x="1064.8" y="385.8" font-size="10" text-anchor="end" fill="#111">0</text>
<text x="1064.8" y="340.8" font-size="10" text-anchor="end" fill="#111">20</text>
<text x="1174.6" y="291.4" font-size="9.2" text-anchor="middle" font-weight="bold" fill="#111">MS4A1</text>
<text x="1170.2" y="505.7" font-size="9.8" text-anchor="middle" fill="#111">tSNE_1</text>
<text x="1048.6" y="386" font-size="9.8" text-anchor="middle" fill="#111" transform="rotate(-90 1048.6 386)">tSNE_2</text>
<g transform="translate(1416.1 383) scale(1.003 1.000)"><use href="#tb"/><use href="#gFC" fill="#ae6fe9" fill-opacity="0.2"/><use href="#sFO2" stroke="#cbb0e8"/><use href="#sFO4" stroke="#bb8fe9"/><use href="#sFO3" stroke="#ae6fe9"/><use href="#sFOs2" stroke="#cbb0e8"/><use href="#sFOs4" stroke="#bb8fe9"/><use href="#sMZ2" stroke="#cbb0e8"/><use href="#sMZ4" stroke="#bb8fe9"/><use href="#sFC2" stroke="#bb8fe9"/><use href="#sFC4" stroke="#ae6fe9"/><use href="#sFC3" stroke="#a24fe8"/><use href="#sMLP2" stroke="#cbb0e8"/><use href="#sMLP4" stroke="#bb8fe9"/><use href="#sBR2" stroke="#cbb0e8"/><use href="#sX" stroke="#cbb0e8"/></g>
<path d="M1314.8 297.7V484.3H1524.3" stroke="#333" stroke-width="1.1" fill="none"/>
<path d="M1319.9 484.3v2.5M1368 484.3v2.5M1416.1 484.3v2.5M1464.2 484.3v2.5M1512.3 484.3v2.5M1314.8 473h-2.5M1314.8 428h-2.5M1314.8 383h-2.5M1314.8 338h-2.5" stroke="#333" stroke-width="0.8" fill="none"/>
<text x="1319.9" y="497.8" font-size="10" text-anchor="middle" fill="#111">-40</text>
<text x="1368" y="497.8" font-size="10" text-anchor="middle" fill="#111">-20</text>
<text x="1416.1" y="497.8" font-size="10" text-anchor="middle" fill="#111">0</text>
<text x="1464.2" y="497.8" font-size="10" text-anchor="middle" fill="#111">20</text>
<text x="1512.3" y="497.8" font-size="10" text-anchor="middle" fill="#111">40</text>
<text x="1310.3" y="476.3" font-size="10" text-anchor="end" fill="#111">-40</text>
<text x="1310.3" y="431.3" font-size="10" text-anchor="end" fill="#111">-20</text>
<text x="1310.3" y="386.3" font-size="10" text-anchor="end" fill="#111">0</text>
<text x="1310.3" y="341.3" font-size="10" text-anchor="end" fill="#111">20</text>
<text x="1419.6" y="291.4" font-size="9.2" text-anchor="middle" font-weight="bold" fill="#111">FCRL3</text>
<text x="1416" y="508.4" font-size="9.8" text-anchor="middle" fill="#111">tSNE_1</text>
<text x="1293.2" y="386" font-size="9.8" text-anchor="middle" fill="#111" transform="rotate(-90 1293.2 386)">tSNE_2</text>
<g transform="translate(678.4 619.8) scale(1.000 1.001)"><use href="#tb"/><use href="#gFO" fill="#bb8fe9" fill-opacity="0.4"/><use href="#gFOs" fill="#bb8fe9" fill-opacity="0.35"/><use href="#gMZ" fill="#bb8fe9" fill-opacity="0.4"/><use href="#gMZs" fill="#bb8fe9" fill-opacity="0.35"/><use href="#gFC" fill="#ae6fe9" fill-opacity="0.45"/><use href="#gMLP" fill="#bb8fe9" fill-opacity="0.35"/><use href="#gBR" fill="#ae6fe9" fill-opacity="0.45"/><use href="#sFO2" stroke="#bb8fe9"/><use href="#sFO3" stroke="#bb8fe9"/><use href="#sFO4" stroke="#ae6fe9"/><use href="#sFO1" stroke="#ae6fe9"/><use href="#sFOs2" stroke="#bb8fe9"/><use href="#sFOs3" stroke="#bb8fe9"/><use href="#sFOs4" stroke="#ae6fe9"/><use href="#sMZ2" stroke="#bb8fe9"/><use href="#sMZ3" stroke="#bb8fe9"/><use href="#sMZ4" stroke="#ae6fe9"/><use href="#sMZ1" stroke="#ae6fe9"/><use href="#sMZs2" stroke="#bb8fe9"/><use href="#sMZs3" stroke="#ae6fe9"/><use href="#sMZs4" stroke="#ae6fe9"/><use href="#sFC2" stroke="#bb8fe9"/><use href="#sFC3" stroke="#ae6fe9"/><use href="#sFC4" stroke="#ae6fe9"/><use href="#sFC1" stroke="#ae6fe9"/><use href="#sMLP2" stroke="#bb8fe9"/><use href="#sMLP3" stroke="#bb8fe9"/><use href="#sMLP4" stroke="#ae6fe9"/><use href="#sBR2" stroke="#bb8fe9"/><use href="#sBR3" stroke="#ae6fe9"/><use href="#sBR4" stroke="#ae6fe9"/><use href="#sBR1" stroke="#ae6fe9"/><use href="#sX" stroke="#ae6fe9"/></g>
<path d="M578.9 535.4V721.6H787.9" stroke="#333" stroke-width="1.1" fill="none"/>
<path d="M582.4 721.6v2.5M630.4 721.6v2.5M678.4 721.6v2.5M726.4 721.6v2.5M774.4 721.6v2.5M578.9 709.9h-2.5M578.9 664.9h-2.5M578.9 619.8h-2.5M578.9 574.7h-2.5" stroke="#333" stroke-width="0.8" fill="none"/>
<text x="582.4" y="735.1" font-size="10" text-anchor="middle" fill="#111">-40</text>
<text x="630.4" y="735.1" font-size="10" text-anchor="middle" fill="#111">-20</text>
<text x="678.4" y="735.1" font-size="10" text-anchor="middle" fill="#111">0</text>
<text x="726.4" y="735.1" font-size="10" text-anchor="middle" fill="#111">20</text>
<text x="774.4" y="735.1" font-size="10" text-anchor="middle" fill="#111">40</text>
<text x="574.4" y="713.2" font-size="10" text-anchor="end" fill="#111">-40</text>
<text x="574.4" y="668.2" font-size="10" text-anchor="end" fill="#111">-20</text>
<text x="574.4" y="623.1" font-size="10" text-anchor="end" fill="#111">0</text>
<text x="574.4" y="578" font-size="10" text-anchor="end" fill="#111">20</text>
<text x="684.6" y="529.1" font-size="9.2" text-anchor="middle" font-weight="bold" fill="#111">PTPRC</text>
<text x="677.5" y="743.4" font-size="9.8" text-anchor="middle" fill="#111">tSNE_1</text>
<text x="557.7" y="621" font-size="9.8" text-anchor="middle" fill="#111" transform="rotate(-90 557.7 621)">tSNE_2</text>
<g transform="translate(925.2 618) scale(1.002 0.999)"><use href="#tb"/><path d="M48 -52h0m-10 7h0m-14 2h0m-98 0h0m52 5h0m32 0h0m19 0h0m17 0h0m4-2h0m0 6h0m-93 5h0m98 4h0m5-4h0m10 7h0m-20 0h0m-7 0h0m17 8h0m-14 5h0m-10-2h0m14 9h0m3-2h0m11 3h0m-2 1h0m-16 14h0m2 6h0m-79 7h0m65 0h0m-12 7h0m-63 34h0m58 18h0m-22 4h0" stroke="#ae6fe9" stroke-width="1.6" stroke-linecap="round" fill="none"/><path d="M53 -5h0m10 5h0" stroke="#a24fe8" stroke-width="1.8" stroke-linecap="round" fill="none"/></g>
<path d="M824.5 533.2V720.2H1033.8" stroke="#333" stroke-width="1.1" fill="none"/>
<path d="M829 720.2v2.5M877.1 720.2v2.5M925.2 720.2v2.5M973.3 720.2v2.5M1021.4 720.2v2.5M824.5 707.9h-2.5M824.5 662.9h-2.5M824.5 618h-2.5M824.5 573.1h-2.5" stroke="#333" stroke-width="0.8" fill="none"/>
<text x="829" y="733.7" font-size="10" text-anchor="middle" fill="#111">-40</text>
<text x="877.1" y="733.7" font-size="10" text-anchor="middle" fill="#111">-20</text>
<text x="925.2" y="733.7" font-size="10" text-anchor="middle" fill="#111">0</text>
<text x="973.3" y="733.7" font-size="10" text-anchor="middle" fill="#111">20</text>
<text x="1021.4" y="733.7" font-size="10" text-anchor="middle" fill="#111">40</text>
<text x="820" y="711.2" font-size="10" text-anchor="end" fill="#111">-40</text>
<text x="820" y="666.2" font-size="10" text-anchor="end" fill="#111">-20</text>
<text x="820" y="621.3" font-size="10" text-anchor="end" fill="#111">0</text>
<text x="820" y="576.4" font-size="10" text-anchor="end" fill="#111">20</text>
<text x="929.8" y="527.9" font-size="9.2" text-anchor="middle" font-weight="bold" fill="#111">MME</text>
<text x="925.7" y="743.4" font-size="9.8" text-anchor="middle" fill="#111">tSNE_1</text>
<text x="803.2" y="619.3" font-size="9.8" text-anchor="middle" fill="#111" transform="rotate(-90 803.2 619.3)">tSNE_2</text>
</g>
<g id="panelC">
<g transform="translate(95.8 524) scale(1.6214 11.5900)" stroke-width="1.04" fill="none"><path d="M-.5 0h28v1h-28z" fill="#ff2319"/><path d="M-.5 1h28v1h-28z" fill="#ff4632"/><path d="M-.5 2h28v1h-28z" fill="#ff0000"/><path d="M-.5 3h28v1h-28z" fill="#ff2319"/><path d="M-.5 4h28v1h-28z" fill="#ff0000"/><path d="M-.5 5h28v1h-28z" fill="#ff8e70"/><path d="M-.5 6h28v1h-28z" fill="#ff6a51"/><path d="M-.5 7h28v3h-28z" fill="#ff0000"/><path d="M-.5 10h28v2h-28z" fill="#eae1fb"/><path d="M-.5 12h28v2h-28z" fill="#d9cafa"/><path d="M-.5 14h28v4h-28z" fill="#eae1fb"/><path d="M-.5 18h28v1h-28z" fill="#f6f0ff"/><path d="M-.5 19h28v1h-28z" fill="#eae1fb"/><path d="M-.5 20h28v5h-28z" fill="#d9cafa"/><path d="M-.5 25h28v1h-28z" fill="#eae1fb"/><path d="M-.5 26h28v4h-28z" fill="#d9cafa"/><path d="M-.5 30h28v1h-28z" fill="#eae1fb"/><path d="M-.5 31h28v2h-28z" fill="#f6f0ff"/><path d="M-.5 33h28v1h-28z" fill="#fce4e6"/><path d="M-.5 34h28v1h-28z" fill="#eae1fb"/><path d="M-.5 35h28v1h-28z" fill="#fce4e6"/><path d="M-.5 36h28v1h-28z" fill="#eae1fb"/><path d="M-.5 37h28v1h-28z" fill="#d9cafa"/><path d="M-.5 38h28v1h-28z" fill="#f6f0ff"/><path d="M-.5 39h28v1h-28z" fill="#fce4e6"/><path d="M-.5 40h28v2h-28z" fill="#eae1fb"/><path d="M-.5 42h28v3h-28z" fill="#f6f0ff"/><path d="M-.5 45h28v1h-28z" fill="#eae1fb"/><path d="M-.5 46h28v2h-28z" fill="#f6f0ff"/><path d="M-.5 48h28v1h-28z" fill="#eae1fb"/><path d="M-.5 49h28v1h-28z" fill="#f6f0ff"/><path d="M5 37v1M12 37v1" stroke="#3026ff"/><path d="M21 12v1M25 37v1M27 37v1" stroke="#5f4bff"/><path d="M20 12v1M24 12v1M27 12v1M5 27v1M0 37v1" stroke="#8672ff"/><path d="M11 12v1M0 27v1M7 27v1M12 27v1M17 27v1M3 37v1M6 37v1M9 37v1" stroke="#ac98ff"/><path d="M5 10v1M7 10v1M24 10v1M0 11v1M21 13v1M27 13v1M4 14v1M12 16v1M26 16v1M4 17v1M18 17v1M1 20v1M22 20v1M26 20v1M5 21v1M6 21v1M2 22v1M5 22v1M7 22v1M9 22v1M21 22v1M23 22v1M24 22v1M2 23v1M14 23v1M18 23v1M20 24v1M15 26v1M21 26v1M6 27v1M9 27v1M10 27v1M15 27v1M20 27v1M22 27v1M4 28v1M21 28v1M0 29v1M1 29v1M4 29v1M11 29v1M13 29v1M15 29v1M16 29v1M8 30v1M17 37v1M18 37v1M23 37v1M9 45v1" stroke="#c2b1fc"/><path d="M2 10v1M4 10v1M9 10v1M7 11v1M10 11v1M14 11v1M20 11v1M24 11v1M25 11v1M1 14v1M9 14v1M14 14v1M18 14v1M20 14v1M6 15v1M8 15v1M11 15v1M12 15v1M15 15v1M17 15v1M19 15v1M7 16v1M9 16v1M15 16v1M19 16v1M21 16v1M7 17v1M8 17v1M16 17v1M26 17v1M0 25v1M8 25v1M15 25v1M19 25v1M20 25v1M7 30v1M9 30v1M18 30v1M20 30v1M22 30v1M24 30v1M26 30v1M27 30v1M25 31v1M4 32v1M10 32v1M24 32v1M26 34v1M5 38v1M14 38v1M14 39v1M1 45v1M4 45v1M13 45v1M18 45v1M25 45v1M12 48v1M15 48v1M18 48v1M21 48v1" stroke="#d9cafa"/><path d="M5 0v1M9 3v1M17 3v1M13 8v1M13 9v1M14 9v1M0 12v1M4 12v1M13 12v1M18 12v1M7 13v1M8 13v1M10 13v1M17 13v1M0 18v1M1 18v1M4 18v1M5 18v1M9 18v1M10 18v1M16 18v1M18 18v1M22 18v1M23 18v1M26 18v1M25 20v1M3 21v1M4 21v1M8 21v1M17 21v1M18 21v1M23 21v1M0 22v1M1 22v1M16 22v1M25 22v1M1 23v1M6 23v1M19 23v1M0 24v1M1 24v1M2 24v1M5 24v1M13 24v1M19 24v1M24 24v1M25 24v1M27 24v1M0 26v1M10 26v1M13 26v1M14 26v1M20 26v1M24 26v1M3 27v1M4 27v1M25 27v1M26 27v1M27 27v1M0 28v1M9 28v1M14 28v1M25 28v1M8 29v1M10 29v1M14 29v1M21 29v1M24 29v1M0 31v1M22 31v1M7 32v1M15 32v1M19 32v1M20 32v1M21 32v1M22 32v1M23 32v1M27 32v1M2 35v1M4 35v1M5 35v1M7 37v1M13 37v1M15 37v1M19 37v1M24 37v1M4 38v1M6 38v1M9 38v1M12 38v1M16 38v1M20 38v1M21 38v1M26 38v1M23 39v1M6 42v1M14 42v1M1 43v1M11 43v1M17 43v1M18 43v1M21 43v1M12 44v1M21 44v1M0 46v1M2 46v1M11 46v1M12 46v1M16 46v1M17 46v1M18 46v1M26 46v1M27 46v1M16 47v1M24 47v1M26 47v1M27 47v1M7 49v1M13 49v1M17 49v1M21 49v1M22 49v1" stroke="#eae1fb"/><path d="M24 0v1M14 1v1M23 1v1M14 2v1M24 2v1M16 3v1M26 4v1M8 5v1M11 5v1M24 6v1M2 7v1M3 7v1M25 8v1M8 9v1M10 9v1M20 9v1M3 10v1M17 10v1M19 10v1M22 10v1M25 10v1M2 11v1M19 11v1M21 11v1M2 12v1M9 12v1M12 12v1M14 12v1M22 12v1M25 12v1M1 13v1M4 13v1M9 13v1M16 13v1M26 13v1M0 14v1M7 14v1M15 14v1M17 14v1M3 15v1M16 15v1M26 15v1M27 15v1M11 16v1M16 16v1M17 16v1M0 17v1M2 17v1M13 17v1M24 17v1M1 19v1M3 19v1M12 19v1M13 19v1M18 19v1M20 19v1M22 19v1M23 19v1M25 19v1M27 19v1M1 21v1M11 21v1M9 24v1M3 25v1M16 25v1M17 25v1M21 25v1M27 25v1M7 26v1M9 29v1M1 30v1M4 30v1M10 30v1M16 30v1M6 33v1M15 33v1M18 33v1M22 33v1M23 33v1M24 33v1M0 34v1M2 34v1M3 34v1M4 34v1M5 34v1M7 34v1M12 34v1M15 34v1M16 34v1M25 34v1M15 35v1M26 35v1M0 36v1M1 36v1M2 36v1M8 36v1M10 36v1M13 36v1M20 36v1M25 36v1M14 37v1M2 39v1M7 39v1M13 39v1M0 40v1M1 40v1M3 40v1M5 40v1M7 40v1M8 40v1M9 40v1M10 40v1M13 40v1M19 40v1M20 40v1M23 40v1M25 40v1M2 41v1M3 41v1M5 41v1M7 41v1M11 41v1M13 41v1M15 41v1M21 41v1M22 41v1M26 41v1M27 41v1M3 45v1M10 45v1M20 45v1M22 45v1M24 45v1M8 48v1M10 48v1M11 48v1M27 48v1" stroke="#f6f0ff"/><path d="M8 0v1M14 0v1M22 0v1M5 1v1M6 1v1M19 1v1M21 1v1M26 1v1M4 2v1M14 3v1M19 3v1M21 3v1M1 4v1M20 5v1M18 6v1M22 7v1M23 7v1M25 7v1M1 8v1M14 8v1M15 8v1M20 8v1M24 8v1M3 9v1M23 9v1M27 9v1M13 10v1M16 10v1M26 10v1M27 10v1M6 11v1M15 11v1M23 11v1M8 12v1M19 12v1M2 13v1M3 13v1M20 13v1M6 14v1M8 14v1M10 14v1M11 14v1M13 14v1M0 15v1M9 15v1M13 15v1M21 15v1M14 16v1M22 16v1M24 16v1M15 17v1M17 17v1M27 17v1M4 23v1M5 23v1M23 23v1M8 24v1M10 24v1M4 26v1M8 27v1M7 28v1M23 28v1M6 29v1M0 30v1M13 30v1M17 30v1M5 31v1M6 31v1M17 32v1M10 34v1M13 34v1M5 36v1M4 37v1M11 37v1M24 38v1M21 45v1M27 45v1M3 47v1M17 48v1M22 48v1" stroke="#fce4e6"/><path d="M11 0v1M18 0v1M21 0v1M1 1v1M6 3v1M4 5v1M18 5v1M8 7v1M3 8v1M23 8v1M0 10v1M11 10v1M12 10v1M15 10v1M3 11v1M13 11v1M17 11v1M18 11v1M7 12v1M0 13v1M11 13v1M13 13v1M22 13v1M24 13v1M2 14v1M3 14v1M19 14v1M22 14v1M23 14v1M2 15v1M7 15v1M14 15v1M20 15v1M6 16v1M18 16v1M1 17v1M11 17v1M25 17v1M13 18v1M20 18v1M25 18v1M3 20v1M27 21v1M3 22v1M10 22v1M12 22v1M19 22v1M6 24v1M1 25v1M2 25v1M4 25v1M6 25v1M6 26v1M9 26v1M11 28v1M15 28v1M27 29v1M6 30v1M12 30v1M19 30v1M9 31v1M15 31v1M16 31v1M18 31v1M24 31v1M27 31v1M3 33v1M5 33v1M7 33v1M8 33v1M14 33v1M16 33v1M25 33v1M0 35v1M1 35v1M6 35v1M8 35v1M9 35v1M11 35v1M12 35v1M22 35v1M25 35v1M1 37v1M22 37v1M0 39v1M3 39v1M5 39v1M6 39v1M9 39v1M11 39v1M24 39v1M25 39v1M11 40v1M7 45v1M11 45v1M12 45v1M15 45v1M6 48v1M9 48v1M14 48v1M16 48v1M24 48v1M25 48v1" stroke="#ffccbe"/><path d="M13 5v1M15 5v1M16 5v1M17 5v1M22 5v1M21 6v1M23 6v1M0 9v1M1 10v1M20 10v1M23 10v1M9 11v1M11 11v1M26 11v1M18 13v1M23 13v1M23 15v1M10 16v1M23 16v1M5 17v1M10 17v1M19 17v1M2 18v1M11 18v1M9 19v1M11 19v1M21 19v1M9 21v1M8 23v1M27 23v1M14 24v1M26 26v1M1 28v1M5 28v1M18 29v1M20 29v1M1 31v1M7 31v1M10 31v1M26 31v1M2 32v1M12 32v1M19 33v1M21 33v1M21 34v1M27 34v1M19 35v1M17 36v1M19 36v1M2 38v1M3 38v1M17 38v1M10 39v1M12 39v1M15 39v1M10 44v1M5 45v1M14 45v1M7 48v1" stroke="#ffad97"/><path d="M1 6v1M2 6v1M3 6v1M6 6v1M13 6v1M19 6v1M25 6v1M22 8v1M0 16v1M20 17v1M22 17v1M16 19v1M8 22v1M11 23v1M11 24v1M2 31v1M3 31v1M23 31v1M8 32v1M13 32v1M4 33v1M7 35v1M26 39v1M7 46v1" stroke="#ff8e70"/><path d="M1 0v1M22 1v1M25 1v1M7 2v1M17 2v1M20 2v1M3 3v1M7 3v1M4 4v1M16 4v1M5 5v1M7 5v1M24 5v1M25 5v1M27 5v1M18 7v1M20 7v1M24 7v1M2 8v1M12 9v1M18 9v1M12 26v1M8 31v1M20 31v1M2 33v1M17 33v1M20 33v1M6 44v1M25 44v1M5 47v1" stroke="#ff6a51"/><path d="M4 0v1M25 0v1M26 0v1M5 2v1M9 2v1M12 2v1M13 2v1M19 2v1M27 2v1M0 3v1M1 3v1M10 3v1M11 3v1M13 3v1M22 3v1M2 4v1M14 4v1M20 4v1M3 5v1M12 5v1M14 5v1M4 6v1M5 6v1M7 6v1M20 6v1M14 7v1M21 7v1M27 7v1M12 8v1M16 9v1M17 9v1" stroke="#ff4632"/><path d="M2 1v1M10 1v1M12 1v1M18 1v1M20 1v1M24 1v1M2 2v1M3 2v1M8 2v1M18 2v1M21 2v1M23 2v1M25 2v1M9 4v1M11 4v1M18 4v1M22 4v1M23 4v1M24 4v1M27 4v1M1 5v1M19 5v1M14 6v1M4 7v1M6 7v1M7 7v1M4 8v1M6 8v1M7 8v1M9 8v1M11 8v1M17 8v1M18 8v1M27 8v1M7 9v1M9 9v1M15 9v1M22 9v1M9 33v1" stroke="#ff2319"/><path d="M7 0v1M9 0v1M10 0v1M15 0v1M16 0v1M23 0v1M0 1v1M8 1v1M15 1v1M16 1v1M2 3v1M4 3v1M15 3v1M20 3v1M23 3v1M27 3v1" stroke="#ff0000"/></g>
<rect x="95" y="511.3" width="45.4" height="11" fill="#ee8172" stroke="#444" stroke-width="0.9"/>
<g transform="translate(143.7 524) scale(1.5812 11.5900)" stroke-width="1.04" fill="none"><path d="M-.5 0h16v1h-16z" fill="#f6f0ff"/><path d="M-.5 1h16v1h-16z" fill="#eae1fb"/><path d="M-.5 2h16v1h-16z" fill="#f6f0ff"/><path d="M-.5 3h16v1h-16z" fill="#eae1fb"/><path d="M-.5 4h16v1h-16z" fill="#f6f0ff"/><path d="M-.5 5h16v2h-16z" fill="#d9cafa"/><path d="M-.5 7h16v3h-16z" fill="#f6f0ff"/><path d="M-.5 10h16v2h-16z" fill="#ff8e70"/><path d="M-.5 12h16v1h-16z" fill="#ffccbe"/><path d="M-.5 13h16v1h-16z" fill="#ffad97"/><path d="M-.5 14h16v1h-16z" fill="#ffccbe"/><path d="M-.5 15h16v1h-16z" fill="#ff8e70"/><path d="M-.5 16h16v1h-16z" fill="#ffad97"/><path d="M-.5 17h16v1h-16z" fill="#ffccbe"/><path d="M-.5 18h16v2h-16z" fill="#fce4e6"/><path d="M-.5 20h16v7h-16z" fill="#d9cafa"/><path d="M-.5 27h16v1h-16z" fill="#c2b1fc"/><path d="M-.5 28h16v3h-16z" fill="#d9cafa"/><path d="M-.5 31h16v1h-16z" fill="#ff8e70"/><path d="M-.5 32h16v1h-16z" fill="#f6f0ff"/><path d="M-.5 33h16v1h-16z" fill="#ff4632"/><path d="M-.5 34h16v1h-16z" fill="#ffad97"/><path d="M-.5 35h16v2h-16z" fill="#f6f0ff"/><path d="M-.5 37h16v1h-16z" fill="#d9cafa"/><path d="M-.5 38h16v1h-16z" fill="#ffccbe"/><path d="M-.5 39h16v1h-16z" fill="#f6f0ff"/><path d="M-.5 40h16v2h-16z" fill="#eae1fb"/><path d="M-.5 42h16v3h-16z" fill="#f6f0ff"/><path d="M-.5 45h16v1h-16z" fill="#eae1fb"/><path d="M-.5 46h16v2h-16z" fill="#f6f0ff"/><path d="M-.5 48h16v1h-16z" fill="#eae1fb"/><path d="M-.5 49h16v1h-16z" fill="#f6f0ff"/><path d="M1 37v1M3 37v1" stroke="#3026ff"/><path d="M5 37v1M14 37v1M15 37v1" stroke="#5f4bff"/><path d="M2 37v1M9 37v1M12 37v1" stroke="#8672ff"/><path d="M4 27v1M11 27v1M15 27v1M4 37v1" stroke="#ac98ff"/><path d="M9 5v1M14 5v1M4 6v1M9 6v1M10 6v1M12 6v1M7 20v1M13 20v1M4 21v1M10 21v1M11 21v1M13 21v1M3 22v1M11 22v1M5 23v1M15 23v1M11 24v1M0 25v1M9 25v1M15 25v1M8 26v1M9 30v1M1 45v1" stroke="#c2b1fc"/><path d="M2 27v1M3 27v1M8 27v1M13 27v1M14 27v1M7 39v1M9 39v1M8 48v1M10 48v1M11 48v1M14 48v1" stroke="#d9cafa"/><path d="M2 0v1M5 0v1M9 0v1M10 2v1M8 4v1M1 5v1M14 6v1M2 7v1M12 7v1M1 8v1M2 8v1M7 8v1M11 8v1M13 8v1M3 9v1M8 9v1M15 9v1M5 12v1M3 13v1M15 14v1M5 19v1M13 19v1M2 21v1M4 22v1M9 22v1M10 22v1M15 22v1M6 23v1M11 23v1M12 23v1M2 24v1M6 24v1M7 24v1M14 24v1M15 24v1M14 25v1M7 26v1M5 27v1M5 28v1M12 28v1M15 28v1M3 29v1M5 29v1M7 29v1M0 30v1M3 30v1M4 30v1M5 30v1M14 30v1M1 32v1M2 32v1M5 32v1M13 32v1M15 32v1M15 33v1M7 35v1M0 36v1M6 36v1M7 36v1M11 36v1M13 36v1M14 36v1M0 37v1M2 39v1M3 39v1M5 39v1M6 39v1M10 42v1M8 44v1M15 44v1M0 46v1M3 46v1M11 46v1M2 47v1M4 47v1M8 49v1" stroke="#eae1fb"/><path d="M1 1v1M2 1v1M5 1v1M8 1v1M13 1v1M15 1v1M5 3v1M6 3v1M9 3v1M3 17v1M11 17v1M15 17v1M10 19v1M12 19v1M9 21v1M4 33v1M13 33v1M10 37v1M14 38v1M0 40v1M1 40v1M3 40v1M10 40v1M11 40v1M14 40v1M15 40v1M0 41v1M4 41v1M6 41v1M10 41v1M12 41v1M7 45v1M9 45v1M10 45v1M0 48v1" stroke="#f6f0ff"/><path d="M13 3v1M8 5v1M8 10v1M10 12v1M11 12v1M13 12v1M15 13v1M1 14v1M2 14v1M13 15v1M13 16v1M1 21v1M3 25v1M0 27v1M9 31v1M8 32v1M10 32v1M5 33v1M10 33v1M8 34v1M3 35v1M8 35v1M12 35v1M15 35v1M3 36v1M6 38v1M12 38v1M15 38v1M11 39v1M13 39v1M4 45v1M5 45v1M8 45v1M7 48v1M9 48v1" stroke="#fce4e6"/><path d="M15 0v1M4 3v1M3 4v1M5 5v1M6 10v1M4 11v1M10 11v1M11 11v1M6 13v1M8 13v1M14 13v1M0 15v1M2 15v1M14 15v1M0 16v1M6 16v1M9 16v1M11 18v1M0 19v1M2 19v1M15 21v1M7 23v1M14 23v1M3 26v1M2 28v1M4 28v1M6 31v1M7 31v1M7 32v1M14 32v1M6 33v1M11 33v1M11 34v1M2 35v1M4 35v1M6 35v1M14 35v1M4 36v1M5 36v1M1 39v1M12 45v1M14 45v1M3 48v1M13 48v1M15 48v1" stroke="#ffccbe"/><path d="M2 5v1M3 5v1M10 5v1M5 6v1M8 6v1M13 6v1M5 10v1M7 10v1M15 10v1M2 11v1M13 11v1M6 12v1M7 12v1M8 12v1M9 12v1M0 14v1M3 14v1M11 14v1M3 15v1M5 15v1M11 15v1M0 17v1M4 17v1M6 17v1M7 17v1M13 17v1M10 18v1M7 21v1M1 29v1M8 30v1M4 31v1M5 31v1M10 31v1M6 32v1M2 33v1M12 33v1M14 33v1M9 35v1M0 38v1M4 38v1M7 38v1M12 39v1M10 44v1M13 45v1M6 48v1" stroke="#ffad97"/><path d="M11 0v1M7 1v1M14 3v1M11 5v1M1 7v1M0 8v1M1 12v1M15 12v1M2 13v1M11 13v1M8 14v1M12 14v1M7 16v1M12 16v1M15 16v1M12 17v1M2 18v1M5 18v1M7 33v1M9 34v1M10 34v1M10 38v1M4 39v1M14 39v1M1 43v1M2 45v1M14 49v1" stroke="#ff8e70"/><path d="M0 0v1M0 1v1M4 5v1M0 10v1M1 10v1M2 10v1M3 10v1M10 10v1M1 11v1M9 11v1M15 11v1M3 12v1M12 12v1M1 13v1M12 13v1M9 14v1M13 14v1M4 15v1M15 15v1M3 16v1M4 16v1M14 16v1M1 18v1M4 19v1M8 19v1M15 19v1M8 31v1M13 31v1M1 33v1M3 33v1M7 34v1M9 38v1M7 42v1" stroke="#ff6a51"/><path d="M7 11v1M8 11v1M4 13v1M7 13v1M10 14v1M1 15v1M12 15v1M11 16v1M9 18v1M13 18v1M15 18v1M3 19v1M7 19v1M2 31v1M2 34v1M4 34v1M6 34v1M13 34v1M1 38v1M8 41v1" stroke="#ff4632"/><path d="M6 18v1M14 18v1M1 34v1M14 34v1M15 34v1" stroke="#ff2319"/><path d="M4 18v1M7 18v1M12 18v1M6 19v1M14 19v1" stroke="#ff0000"/></g>
<rect x="142.9" y="511.3" width="25.3" height="11" fill="#86d0e3" stroke="#444" stroke-width="0.9"/>
<g transform="translate(171.2 524) scale(1.6036 11.5900)" stroke-width="1.04" fill="none"><path d="M-.5 0h112v1h-112z" fill="#f6f0ff"/><path d="M-.5 1h112v1h-112z" fill="#eae1fb"/><path d="M-.5 2h112v3h-112z" fill="#f6f0ff"/><path d="M-.5 5h112v2h-112z" fill="#d9cafa"/><path d="M-.5 7h112v3h-112z" fill="#f6f0ff"/><path d="M-.5 10h112v2h-112z" fill="#d9cafa"/><path d="M-.5 12h112v1h-112z" fill="#fce4e6"/><path d="M-.5 13h112v1h-112z" fill="#eae1fb"/><path d="M-.5 14h112v4h-112z" fill="#d9cafa"/><path d="M-.5 18h112v2h-112z" fill="#eae1fb"/><path d="M-.5 20h112v1h-112z" fill="#ffad97"/><path d="M-.5 21h112v1h-112z" fill="#ffccbe"/><path d="M-.5 22h112v1h-112z" fill="#ffad97"/><path d="M-.5 23h112v1h-112z" fill="#fce4e6"/><path d="M-.5 24h112v2h-112z" fill="#ffccbe"/><path d="M-.5 26h112v2h-112z" fill="#ffad97"/><path d="M-.5 28h112v2h-112z" fill="#fce4e6"/><path d="M-.5 30h112v2h-112z" fill="#d9cafa"/><path d="M-.5 32h112v3h-112z" fill="#eae1fb"/><path d="M-.5 35h112v1h-112z" fill="#d9cafa"/><path d="M-.5 36h112v1h-112z" fill="#eae1fb"/><path d="M-.5 37h112v1h-112z" fill="#fce4e6"/><path d="M-.5 38h112v1h-112z" fill="#eae1fb"/><path d="M-.5 39h112v1h-112z" fill="#d9cafa"/><path d="M-.5 40h112v2h-112z" fill="#eae1fb"/><path d="M-.5 42h112v6h-112z" fill="#f6f0ff"/><path d="M-.5 48h112v1h-112z" fill="#eae1fb"/><path d="M-.5 49h112v1h-112z" fill="#f6f0ff"/><path d="M94 37v1" stroke="#0000ff"/><path d="M83 37v1" stroke="#3026ff"/><path d="M22 12v1M89 16v1M83 17v1M79 37v1M95 37v1" stroke="#5f4bff"/><path d="M49 16v1M111 16v1M31 17v1M34 17v1M76 17v1M11 31v1M46 35v1M47 35v1M48 35v1M59 35v1M65 35v1M94 35v1M19 37v1M42 37v1M81 37v1M85 37v1M101 37v1M15 39v1M21 39v1M55 39v1" stroke="#8672ff"/><path d="M22 10v1M49 10v1M101 10v1M100 11v1M72 15v1M8 16v1M25 16v1M37 16v1M55 16v1M90 16v1M6 17v1M7 17v1M18 17v1M44 17v1M65 17v1M82 17v1M83 22v1M23 23v1M0 24v1M68 24v1M71 27v1M24 31v1M28 31v1M44 31v1M50 31v1M52 31v1M71 31v1M85 31v1M86 31v1M93 31v1M101 31v1M11 35v1M12 35v1M13 35v1M20 35v1M25 35v1M49 35v1M58 35v1M61 35v1M72 35v1M74 35v1M76 35v1M84 35v1M102 35v1M84 37v1M0 39v1M8 39v1M20 39v1M22 39v1M27 39v1M29 39v1M35 39v1M48 39v1M66 39v1M76 39v1M87 39v1M102 39v1" stroke="#ac98ff"/><path d="M2 5v1M3 5v1M5 5v1M9 5v1M13 5v1M14 5v1M20 5v1M28 5v1M29 5v1M38 5v1M41 5v1M43 5v1M44 5v1M54 5v1M61 5v1M63 5v1M64 5v1M73 5v1M79 5v1M84 5v1M90 5v1M92 5v1M94 5v1M95 5v1M99 5v1M105 5v1M108 5v1M1 6v1M5 6v1M7 6v1M15 6v1M29 6v1M34 6v1M40 6v1M48 6v1M58 6v1M60 6v1M61 6v1M62 6v1M71 6v1M72 6v1M84 6v1M86 6v1M102 6v1M103 6v1M110 6v1M5 10v1M6 10v1M7 10v1M9 10v1M12 10v1M14 10v1M17 10v1M21 10v1M23 10v1M25 10v1M26 10v1M27 10v1M30 10v1M34 10v1M35 10v1M37 10v1M38 10v1M39 10v1M40 10v1M43 10v1M46 10v1M48 10v1M51 10v1M54 10v1M55 10v1M57 10v1M58 10v1M66 10v1M67 10v1M68 10v1M69 10v1M72 10v1M73 10v1M76 10v1M77 10v1M85 10v1M87 10v1M93 10v1M102 10v1M104 10v1M105 10v1M108 10v1M1 11v1M8 11v1M15 11v1M16 11v1M24 11v1M30 11v1M32 11v1M35 11v1M37 11v1M49 11v1M50 11v1M55 11v1M63 11v1M66 11v1M86 11v1M88 11v1M92 11v1M102 11v1M104 11v1M105 11v1M108 11v1M27 13v1M52 13v1M63 13v1M107 13v1M0 14v1M45 14v1M49 14v1M55 14v1M59 14v1M77 14v1M85 14v1M90 14v1M105 14v1M108 14v1M110 14v1M4 15v1M5 15v1M13 15v1M15 15v1M19 15v1M41 15v1M44 15v1M62 15v1M70 15v1M80 15v1M106 15v1M107 15v1M4 16v1M17 16v1M24 16v1M34 16v1M38 16v1M50 16v1M62 16v1M68 16v1M69 16v1M84 16v1M88 16v1M94 16v1M98 16v1M108 16v1M0 17v1M20 17v1M24 17v1M63 17v1M69 17v1M80 17v1M94 17v1M99 17v1M110 17v1M6 20v1M39 20v1M2 21v1M23 21v1M64 21v1M18 22v1M71 22v1M1 23v1M31 23v1M85 23v1M41 24v1M4 25v1M15 25v1M26 25v1M59 25v1M79 25v1M86 25v1M68 26v1M69 26v1M98 26v1M5 27v1M26 27v1M111 27v1M12 28v1M67 28v1M94 28v1M48 29v1M101 29v1M0 30v1M10 30v1M43 30v1M48 30v1M60 30v1M63 30v1M80 30v1M94 30v1M1 31v1M2 31v1M5 31v1M6 31v1M7 31v1M12 31v1M14 31v1M15 31v1M16 31v1M17 31v1M18 31v1M19 31v1M22 31v1M30 31v1M31 31v1M36 31v1M39 31v1M41 31v1M47 31v1M56 31v1M59 31v1M67 31v1M68 31v1M70 31v1M73 31v1M79 31v1M80 31v1M84 31v1M90 31v1M92 31v1M94 31v1M97 31v1M99 31v1M102 31v1M105 31v1M106 31v1M109 31v1M75 33v1M0 35v1M19 35v1M42 35v1M44 35v1M51 35v1M62 35v1M71 35v1M75 35v1M95 35v1M106 35v1M107 35v1M100 37v1M3 39v1M6 39v1M7 39v1M9 39v1M10 39v1M12 39v1M16 39v1M25 39v1M34 39v1M37 39v1M41 39v1M42 39v1M60 39v1M62 39v1M64 39v1M65 39v1M68 39v1M83 39v1M89 39v1M90 39v1M94 39v1M100 39v1M103 39v1M104 39v1M109 39v1M48 45v1" stroke="#c2b1fc"/><path d="M31 4v1M5 13v1M8 13v1M13 13v1M17 13v1M19 13v1M20 13v1M22 13v1M23 13v1M28 13v1M30 13v1M35 13v1M37 13v1M39 13v1M42 13v1M51 13v1M53 13v1M54 13v1M59 13v1M61 13v1M69 13v1M75 13v1M78 13v1M79 13v1M83 13v1M84 13v1M89 13v1M91 13v1M92 13v1M94 13v1M97 13v1M101 13v1M106 13v1M109 13v1M111 13v1M8 20v1M22 20v1M27 20v1M34 20v1M35 20v1M54 20v1M65 20v1M75 20v1M84 20v1M93 20v1M96 20v1M97 20v1M102 20v1M104 20v1M12 21v1M25 21v1M44 21v1M46 21v1M55 21v1M66 21v1M78 21v1M83 21v1M85 21v1M5 22v1M24 22v1M28 22v1M35 22v1M44 22v1M51 22v1M56 22v1M61 22v1M72 22v1M74 22v1M89 22v1M106 22v1M107 22v1M2 23v1M4 23v1M11 23v1M20 23v1M21 23v1M43 23v1M59 23v1M72 23v1M92 23v1M96 23v1M97 23v1M110 23v1M111 23v1M17 24v1M29 24v1M39 24v1M55 24v1M58 24v1M60 24v1M63 24v1M70 24v1M93 24v1M99 24v1M0 25v1M1 25v1M30 25v1M45 25v1M46 25v1M49 25v1M60 25v1M66 25v1M77 25v1M78 25v1M84 25v1M85 25v1M95 25v1M16 26v1M33 26v1M38 26v1M49 26v1M7 27v1M11 27v1M20 27v1M29 27v1M34 27v1M37 27v1M38 27v1M48 27v1M52 27v1M53 27v1M62 27v1M66 27v1M84 27v1M99 27v1M110 27v1M21 28v1M34 28v1M55 28v1M78 28v1M79 28v1M81 28v1M86 28v1M87 28v1M90 28v1M97 28v1M100 28v1M101 28v1M5 29v1M11 29v1M25 29v1M35 29v1M36 29v1M37 29v1M40 29v1M41 29v1M51 29v1M67 29v1M78 29v1M94 29v1M1 33v1M6 33v1M10 33v1M13 33v1M17 33v1M18 33v1M19 33v1M27 33v1M29 33v1M38 33v1M46 33v1M50 33v1M56 33v1M62 33v1M63 33v1M65 33v1M67 33v1M68 33v1M73 33v1M78 33v1M89 33v1M93 33v1M96 33v1M104 33v1M1 36v1M12 36v1M23 36v1M31 36v1M40 36v1M58 36v1M75 36v1M83 36v1M8 37v1M64 37v1M68 37v1M71 37v1M0 38v1M1 38v1M38 38v1M40 38v1M42 38v1M50 38v1M60 38v1M61 38v1M62 38v1M67 38v1M70 38v1M110 38v1M9 45v1M14 45v1M16 45v1M26 45v1M28 45v1M40 45v1M42 45v1M63 45v1M81 45v1M90 45v1M95 45v1M110 45v1M4 48v1M16 48v1M21 48v1M23 48v1M26 48v1M27 48v1M44 48v1M45 48v1M53 48v1M59 48v1M61 48v1M67 48v1M75 48v1M76 48v1M84 48v1M86 48v1M93 48v1M97 48v1M101 48v1" stroke="#d9cafa"/><path d="M0 0v1M4 0v1M7 0v1M8 0v1M10 0v1M11 0v1M20 0v1M23 0v1M32 0v1M35 0v1M38 0v1M50 0v1M51 0v1M58 0v1M62 0v1M65 0v1M67 0v1M78 0v1M88 0v1M95 0v1M1 2v1M3 2v1M10 2v1M14 2v1M17 2v1M23 2v1M24 2v1M39 2v1M40 2v1M50 2v1M53 2v1M60 2v1M64 2v1M70 2v1M71 2v1M74 2v1M75 2v1M79 2v1M80 2v1M84 2v1M88 2v1M94 2v1M95 2v1M101 2v1M105 2v1M108 2v1M109 2v1M111 2v1M1 3v1M4 3v1M8 3v1M11 3v1M12 3v1M13 3v1M39 3v1M40 3v1M47 3v1M50 3v1M53 3v1M56 3v1M61 3v1M72 3v1M75 3v1M77 3v1M79 3v1M95 3v1M96 3v1M99 3v1M102 3v1M103 3v1M105 3v1M10 4v1M12 4v1M15 4v1M28 4v1M30 4v1M32 4v1M34 4v1M39 4v1M42 4v1M50 4v1M55 4v1M57 4v1M69 4v1M77 4v1M80 4v1M82 4v1M89 4v1M91 4v1M98 4v1M102 4v1M103 4v1M105 4v1M10 5v1M33 5v1M36 5v1M37 5v1M39 5v1M51 5v1M67 5v1M77 5v1M101 5v1M107 5v1M6 6v1M13 6v1M30 6v1M36 6v1M42 6v1M45 6v1M63 6v1M67 6v1M80 6v1M88 6v1M91 6v1M98 6v1M107 6v1M108 6v1M16 7v1M34 7v1M42 7v1M47 7v1M86 7v1M96 7v1M7 8v1M9 8v1M11 8v1M16 8v1M27 8v1M32 8v1M39 8v1M42 8v1M52 8v1M53 8v1M54 8v1M58 8v1M76 8v1M83 8v1M94 8v1M108 8v1M109 8v1M110 8v1M7 9v1M39 9v1M42 9v1M45 9v1M47 9v1M48 9v1M49 9v1M50 9v1M57 9v1M59 9v1M79 9v1M87 9v1M93 9v1M95 9v1M103 9v1M107 9v1M110 9v1M52 10v1M91 10v1M106 10v1M0 11v1M14 11v1M25 11v1M41 11v1M46 11v1M51 11v1M60 11v1M98 11v1M38 12v1M57 12v1M59 12v1M4 14v1M19 14v1M23 14v1M26 14v1M32 14v1M37 14v1M38 14v1M48 14v1M61 14v1M67 14v1M68 14v1M72 14v1M74 14v1M78 14v1M80 14v1M83 14v1M96 14v1M100 14v1M102 14v1M111 14v1M1 15v1M8 15v1M9 15v1M22 15v1M28 15v1M35 15v1M39 15v1M68 15v1M73 15v1M77 15v1M79 15v1M81 15v1M95 15v1M98 15v1M101 15v1M110 15v1M11 16v1M32 16v1M33 16v1M39 16v1M41 16v1M57 16v1M67 16v1M78 16v1M96 16v1M103 16v1M105 16v1M107 16v1M110 16v1M4 17v1M10 17v1M13 17v1M17 17v1M23 17v1M29 17v1M35 17v1M51 17v1M56 17v1M59 17v1M71 17v1M72 17v1M74 17v1M75 17v1M88 17v1M95 17v1M106 17v1M108 17v1M109 17v1M2 20v1M4 20v1M5 20v1M18 20v1M29 20v1M41 20v1M49 20v1M56 20v1M61 20v1M63 20v1M107 20v1M109 20v1M9 21v1M17 21v1M34 21v1M35 21v1M49 21v1M77 21v1M107 21v1M0 22v1M15 22v1M30 22v1M42 22v1M49 22v1M59 22v1M69 22v1M80 22v1M84 22v1M91 22v1M96 22v1M109 22v1M7 23v1M9 23v1M24 23v1M34 23v1M41 23v1M49 23v1M58 23v1M82 23v1M87 23v1M4 24v1M5 24v1M7 24v1M24 24v1M26 24v1M30 24v1M36 24v1M46 24v1M62 24v1M67 24v1M82 24v1M111 24v1M12 25v1M18 25v1M22 25v1M23 25v1M24 25v1M36 25v1M42 25v1M43 25v1M47 25v1M72 25v1M76 25v1M80 25v1M81 25v1M90 25v1M100 25v1M1 26v1M11 26v1M29 26v1M32 26v1M45 26v1M66 26v1M76 26v1M84 26v1M89 26v1M91 26v1M103 26v1M105 26v1M0 27v1M23 27v1M31 27v1M39 27v1M40 27v1M42 27v1M46 27v1M69 27v1M73 27v1M87 27v1M96 27v1M106 27v1M8 28v1M15 28v1M27 28v1M35 28v1M53 28v1M61 28v1M85 28v1M96 28v1M104 28v1M1 29v1M14 29v1M19 29v1M27 29v1M29 29v1M34 29v1M38 29v1M43 29v1M45 29v1M60 29v1M62 29v1M64 29v1M65 29v1M71 29v1M89 29v1M93 29v1M97 29v1M98 29v1M1 30v1M5 30v1M6 30v1M9 30v1M11 30v1M15 30v1M19 30v1M20 30v1M23 30v1M24 30v1M25 30v1M26 30v1M29 30v1M31 30v1M40 30v1M56 30v1M57 30v1M58 30v1M67 30v1M69 30v1M72 30v1M74 30v1M81 30v1M92 30v1M93 30v1M98 30v1M100 30v1M101 30v1M106 30v1M108 30v1M111 30v1M9 31v1M35 31v1M37 31v1M61 31v1M65 31v1M98 31v1M107 31v1M108 31v1M3 35v1M4 35v1M7 35v1M14 35v1M23 35v1M24 35v1M33 35v1M45 35v1M50 35v1M52 35v1M53 35v1M54 35v1M66 35v1M68 35v1M77 35v1M82 35v1M85 35v1M86 35v1M88 35v1M93 35v1M99 35v1M103 35v1M108 35v1M111 35v1M18 37v1M35 37v1M61 37v1M63 37v1M73 37v1M78 37v1M82 37v1M87 37v1M105 37v1M109 37v1M111 37v1M1 39v1M11 39v1M26 39v1M30 39v1M33 39v1M36 39v1M54 39v1M74 39v1M85 39v1M95 39v1M96 39v1M101 39v1M3 42v1M4 42v1M8 42v1M24 42v1M27 42v1M44 42v1M66 42v1M68 42v1M82 42v1M85 42v1M89 42v1M90 42v1M104 42v1M5 43v1M8 43v1M10 43v1M23 43v1M34 43v1M36 43v1M59 43v1M68 43v1M78 43v1M90 43v1M95 43v1M98 43v1M99 43v1M100 43v1M104 43v1M105 43v1M11 44v1M22 44v1M28 44v1M35 44v1M60 44v1M61 44v1M71 44v1M82 44v1M92 44v1M109 44v1M110 44v1M0 45v1M4 45v1M6 45v1M8 45v1M15 45v1M34 45v1M44 45v1M45 45v1M54 45v1M55 45v1M56 45v1M61 45v1M66 45v1M86 45v1M87 45v1M88 45v1M97 45v1M100 45v1M103 45v1M104 45v1M107 45v1M7 46v1M8 46v1M13 46v1M18 46v1M21 46v1M35 46v1M47 46v1M51 46v1M58 46v1M64 46v1M68 46v1M69 46v1M73 46v1M81 46v1M86 46v1M87 46v1M96 46v1M99 46v1M109 46v1M2 47v1M5 47v1M6 47v1M9 47v1M30 47v1M34 47v1M35 47v1M50 47v1M52 47v1M65 47v1M66 47v1M72 47v1M76 47v1M81 47v1M85 47v1M102 47v1M108 47v1M13 49v1M15 49v1M21 49v1M34 49v1M35 49v1M39 49v1M41 49v1M47 49v1M53 49v1M64 49v1M65 49v1M67 49v1M72 49v1M75 49v1M86 49v1M91 49v1M94 49v1M95 49v1M101 49v1M102 49v1M110 49v1" stroke="#eae1fb"/><path d="M0 1v1M1 1v1M5 1v1M7 1v1M9 1v1M11 1v1M14 1v1M18 1v1M27 1v1M31 1v1M34 1v1M39 1v1M45 1v1M51 1v1M55 1v1M58 1v1M59 1v1M65 1v1M79 1v1M83 1v1M97 1v1M102 1v1M103 1v1M108 1v1M34 5v1M28 10v1M110 11v1M10 12v1M17 12v1M35 12v1M36 12v1M37 12v1M55 12v1M61 12v1M62 12v1M65 12v1M75 12v1M79 12v1M82 12v1M94 12v1M103 12v1M108 12v1M109 12v1M29 13v1M34 13v1M40 13v1M73 13v1M80 13v1M96 13v1M100 13v1M108 13v1M79 14v1M48 15v1M64 15v1M16 16v1M51 16v1M74 16v1M91 16v1M25 17v1M66 17v1M2 18v1M6 18v1M7 18v1M11 18v1M13 18v1M16 18v1M22 18v1M23 18v1M24 18v1M28 18v1M29 18v1M30 18v1M31 18v1M38 18v1M45 18v1M48 18v1M49 18v1M55 18v1M61 18v1M64 18v1M65 18v1M67 18v1M75 18v1M80 18v1M89 18v1M96 18v1M103 18v1M6 19v1M7 19v1M9 19v1M13 19v1M17 19v1M18 19v1M19 19v1M20 19v1M24 19v1M32 19v1M34 19v1M41 19v1M51 19v1M65 19v1M78 19v1M80 19v1M87 19v1M90 19v1M108 19v1M110 19v1M3 20v1M11 20v1M12 20v1M17 20v1M20 20v1M26 20v1M31 20v1M33 20v1M38 20v1M42 20v1M51 20v1M58 20v1M71 20v1M72 20v1M74 20v1M81 20v1M98 20v1M101 20v1M108 20v1M1 21v1M7 21v1M14 21v1M19 21v1M27 21v1M41 21v1M43 21v1M53 21v1M62 21v1M68 21v1M71 21v1M98 21v1M101 21v1M104 21v1M23 22v1M31 22v1M33 22v1M40 22v1M53 22v1M57 22v1M60 22v1M85 22v1M87 22v1M103 22v1M111 22v1M5 23v1M13 23v1M19 23v1M29 23v1M36 23v1M55 23v1M62 23v1M67 23v1M69 23v1M75 23v1M89 23v1M99 23v1M107 23v1M109 23v1M3 24v1M6 24v1M9 24v1M13 24v1M14 24v1M15 24v1M18 24v1M20 24v1M38 24v1M47 24v1M50 24v1M57 24v1M78 24v1M80 24v1M84 24v1M90 24v1M97 24v1M105 24v1M10 25v1M11 25v1M17 25v1M25 25v1M28 25v1M32 25v1M41 25v1M58 25v1M64 25v1M65 25v1M69 25v1M87 25v1M91 25v1M93 25v1M101 25v1M107 25v1M109 25v1M0 26v1M15 26v1M19 26v1M21 26v1M40 26v1M47 26v1M52 26v1M56 26v1M58 26v1M60 26v1M85 26v1M90 26v1M92 26v1M106 26v1M110 26v1M12 27v1M21 27v1M28 27v1M43 27v1M44 27v1M45 27v1M59 27v1M74 27v1M78 27v1M80 27v1M98 27v1M108 27v1M1 28v1M22 28v1M38 28v1M39 28v1M44 28v1M48 28v1M50 28v1M72 28v1M73 28v1M75 28v1M102 28v1M108 28v1M2 29v1M24 29v1M39 29v1M63 29v1M79 29v1M81 29v1M82 29v1M105 29v1M4 30v1M14 30v1M37 30v1M77 30v1M87 30v1M109 30v1M74 31v1M0 33v1M12 33v1M15 33v1M26 33v1M28 33v1M77 33v1M85 33v1M91 33v1M98 33v1M106 33v1M22 34v1M27 35v1M28 35v1M57 35v1M110 35v1M5 36v1M13 36v1M20 36v1M47 36v1M52 36v1M59 36v1M72 36v1M73 36v1M76 36v1M77 36v1M78 36v1M79 36v1M91 36v1M102 36v1M109 36v1M0 37v1M6 37v1M17 37v1M21 37v1M22 37v1M24 37v1M29 37v1M39 37v1M47 37v1M51 37v1M54 37v1M55 37v1M67 37v1M69 37v1M70 37v1M74 37v1M91 37v1M59 39v1M63 39v1M111 39v1M3 40v1M9 40v1M11 40v1M18 40v1M20 40v1M22 40v1M23 40v1M31 40v1M32 40v1M34 40v1M41 40v1M44 40v1M45 40v1M47 40v1M48 40v1M50 40v1M51 40v1M53 40v1M54 40v1M60 40v1M61 40v1M64 40v1M65 40v1M69 40v1M79 40v1M81 40v1M99 40v1M102 40v1M105 40v1M108 40v1M111 40v1M0 41v1M1 41v1M3 41v1M4 41v1M9 41v1M11 41v1M12 41v1M22 41v1M25 41v1M28 41v1M29 41v1M36 41v1M41 41v1M44 41v1M45 41v1M57 41v1M60 41v1M64 41v1M73 41v1M76 41v1M84 41v1M86 41v1M87 41v1M90 41v1M92 41v1M93 41v1M100 41v1M101 41v1M106 41v1M109 41v1M2 48v1M3 48v1M17 48v1M29 48v1M39 48v1M41 48v1M50 48v1M56 48v1M57 48v1M58 48v1M60 48v1M63 48v1M72 48v1M79 48v1M91 48v1M95 48v1M98 48v1M109 48v1" stroke="#f6f0ff"/><path d="M16 5v1M30 5v1M48 5v1M62 5v1M25 6v1M49 6v1M106 6v1M61 10v1M62 10v1M90 10v1M6 11v1M31 11v1M76 11v1M9 13v1M16 13v1M70 13v1M7 14v1M10 14v1M52 14v1M75 14v1M99 14v1M6 15v1M14 16v1M30 16v1M64 16v1M104 16v1M3 17v1M22 17v1M36 17v1M49 17v1M55 17v1M70 17v1M86 17v1M55 19v1M107 19v1M15 20v1M30 20v1M50 20v1M66 20v1M77 20v1M78 20v1M79 20v1M80 20v1M83 20v1M85 20v1M87 20v1M105 20v1M4 21v1M24 21v1M26 21v1M28 21v1M32 21v1M37 21v1M45 21v1M47 21v1M54 21v1M56 21v1M58 21v1M79 21v1M87 21v1M90 21v1M91 21v1M94 21v1M96 21v1M13 22v1M21 22v1M32 22v1M43 22v1M48 22v1M58 22v1M63 22v1M65 22v1M90 22v1M95 22v1M99 22v1M100 22v1M108 22v1M110 22v1M11 24v1M25 24v1M34 24v1M43 24v1M44 24v1M48 24v1M54 24v1M56 24v1M59 24v1M75 24v1M77 24v1M79 24v1M85 24v1M92 24v1M104 24v1M109 24v1M7 25v1M9 25v1M19 25v1M34 25v1M38 25v1M56 25v1M61 25v1M62 25v1M63 25v1M74 25v1M75 25v1M89 25v1M96 25v1M103 25v1M106 25v1M7 26v1M13 26v1M14 26v1M17 26v1M22 26v1M27 26v1M36 26v1M54 26v1M59 26v1M64 26v1M67 26v1M72 26v1M79 26v1M86 26v1M88 26v1M97 26v1M99 26v1M102 26v1M104 26v1M109 26v1M1 27v1M6 27v1M25 27v1M30 27v1M33 27v1M36 27v1M49 27v1M55 27v1M63 27v1M65 27v1M68 27v1M77 27v1M82 27v1M85 27v1M90 27v1M91 27v1M100 27v1M104 27v1M35 30v1M61 30v1M85 30v1M105 30v1M4 31v1M33 31v1M45 31v1M66 31v1M111 31v1M16 32v1M7 33v1M33 33v1M80 33v1M97 33v1M9 35v1M29 35v1M31 35v1M35 35v1M78 35v1M79 35v1M87 35v1M97 35v1M9 36v1M61 36v1M72 39v1M73 39v1M70 41v1M7 45v1M30 45v1M49 45v1M76 45v1M79 45v1M84 45v1M93 45v1M94 45v1M90 47v1M7 48v1M13 48v1M18 48v1M22 48v1M25 48v1M37 48v1M55 48v1M66 48v1M70 48v1M71 48v1M77 48v1M80 48v1M83 48v1M90 48v1" stroke="#fce4e6"/><path d="M46 0v1M48 0v1M76 0v1M105 1v1M31 2v1M54 3v1M71 3v1M108 3v1M4 4v1M7 5v1M17 5v1M25 5v1M93 5v1M97 5v1M32 6v1M47 6v1M92 6v1M109 6v1M64 9v1M1 10v1M16 10v1M42 10v1M45 10v1M63 10v1M5 11v1M7 11v1M18 11v1M26 11v1M34 11v1M67 11v1M96 11v1M107 11v1M109 11v1M4 12v1M5 12v1M16 12v1M18 12v1M19 12v1M20 12v1M21 12v1M25 12v1M26 12v1M30 12v1M31 12v1M40 12v1M42 12v1M47 12v1M48 12v1M50 12v1M63 12v1M67 12v1M70 12v1M74 12v1M76 12v1M77 12v1M78 12v1M84 12v1M86 12v1M88 12v1M89 12v1M102 12v1M104 12v1M105 12v1M44 13v1M47 13v1M66 13v1M85 13v1M87 13v1M110 13v1M9 14v1M12 14v1M22 14v1M36 14v1M46 14v1M54 14v1M63 14v1M81 14v1M88 14v1M95 14v1M2 15v1M20 15v1M47 15v1M49 15v1M50 15v1M54 15v1M55 15v1M58 15v1M84 15v1M87 15v1M88 15v1M90 15v1M92 15v1M94 15v1M9 16v1M13 16v1M15 16v1M18 16v1M22 16v1M27 16v1M29 16v1M36 16v1M44 16v1M56 16v1M63 16v1M75 16v1M87 16v1M92 16v1M99 16v1M2 17v1M5 17v1M11 17v1M21 17v1M30 17v1M32 17v1M38 17v1M40 17v1M48 17v1M53 17v1M54 17v1M57 17v1M58 17v1M64 17v1M77 17v1M79 17v1M81 17v1M89 17v1M103 17v1M111 17v1M1 18v1M50 18v1M69 19v1M83 19v1M0 20v1M1 20v1M7 20v1M13 20v1M25 20v1M28 20v1M43 20v1M59 20v1M60 20v1M62 20v1M70 20v1M76 20v1M82 20v1M88 20v1M89 20v1M91 20v1M4 22v1M7 22v1M9 22v1M12 22v1M34 22v1M38 22v1M46 22v1M50 22v1M64 22v1M67 22v1M68 22v1M76 22v1M79 22v1M81 22v1M88 22v1M93 22v1M3 23v1M10 23v1M22 23v1M28 23v1M37 23v1M39 23v1M47 23v1M56 23v1M61 23v1M65 23v1M77 23v1M79 23v1M88 23v1M90 23v1M95 23v1M98 23v1M103 23v1M104 23v1M4 26v1M24 26v1M25 26v1M26 26v1M34 26v1M37 26v1M39 26v1M44 26v1M48 26v1M57 26v1M62 26v1M65 26v1M75 26v1M80 26v1M93 26v1M10 27v1M18 27v1M19 27v1M24 27v1M50 27v1M51 27v1M54 27v1M60 27v1M81 27v1M86 27v1M88 27v1M93 27v1M94 27v1M95 27v1M105 27v1M109 27v1M3 28v1M9 28v1M10 28v1M17 28v1M18 28v1M20 28v1M36 28v1M40 28v1M46 28v1M49 28v1M60 28v1M64 28v1M71 28v1M77 28v1M82 28v1M89 28v1M99 28v1M110 28v1M12 29v1M13 29v1M30 29v1M31 29v1M44 29v1M50 29v1M53 29v1M59 29v1M66 29v1M72 29v1M73 29v1M91 29v1M92 29v1M107 29v1M109 29v1M17 30v1M28 30v1M32 30v1M55 30v1M75 30v1M88 30v1M95 30v1M104 30v1M27 31v1M29 31v1M55 31v1M95 31v1M78 32v1M24 33v1M37 33v1M48 33v1M55 33v1M66 33v1M84 33v1M90 33v1M100 33v1M102 33v1M3 34v1M1 35v1M2 36v1M22 36v1M38 36v1M41 36v1M45 36v1M48 36v1M84 36v1M94 36v1M111 36v1M2 37v1M7 37v1M11 37v1M20 37v1M28 37v1M30 37v1M36 37v1M38 37v1M45 37v1M46 37v1M49 37v1M56 37v1M57 37v1M62 37v1M72 37v1M76 37v1M90 37v1M96 37v1M99 37v1M102 37v1M108 37v1M53 38v1M106 38v1M17 39v1M31 39v1M49 39v1M56 39v1M61 39v1M69 39v1M30 40v1M46 41v1M66 41v1M2 45v1M20 45v1M43 45v1M46 45v1M62 45v1M64 45v1M72 45v1M73 45v1M74 45v1M75 45v1M77 45v1M83 45v1M98 45v1M106 45v1M108 45v1M111 45v1M98 47v1M8 48v1M12 48v1M15 48v1M31 48v1M38 48v1M40 48v1M43 48v1M85 48v1M87 48v1M89 48v1M102 48v1M103 48v1M108 48v1M110 48v1M111 48v1" stroke="#ffccbe"/><path d="M4 1v1M67 1v1M68 1v1M96 1v1M107 1v1M21 3v1M69 3v1M104 4v1M56 5v1M68 5v1M72 5v1M89 5v1M102 5v1M104 5v1M10 6v1M50 6v1M56 6v1M57 6v1M90 6v1M100 6v1M8 7v1M31 9v1M61 9v1M31 10v1M32 10v1M64 10v1M79 10v1M82 10v1M9 11v1M20 11v1M22 11v1M23 11v1M28 11v1M33 11v1M40 11v1M58 11v1M59 11v1M73 11v1M75 11v1M81 11v1M103 11v1M111 11v1M9 12v1M13 12v1M14 12v1M15 12v1M29 12v1M32 12v1M45 12v1M49 12v1M51 12v1M58 12v1M68 12v1M85 12v1M93 12v1M95 12v1M97 12v1M98 12v1M111 12v1M10 13v1M25 13v1M45 13v1M50 13v1M64 13v1M68 13v1M81 13v1M82 13v1M18 14v1M43 14v1M51 14v1M58 14v1M87 14v1M11 15v1M16 15v1M18 15v1M31 15v1M43 15v1M59 15v1M66 15v1M69 15v1M74 15v1M75 15v1M100 15v1M104 15v1M108 15v1M5 16v1M7 16v1M19 16v1M31 16v1M48 16v1M53 16v1M58 16v1M59 16v1M66 16v1M71 16v1M85 16v1M93 16v1M109 16v1M28 17v1M39 17v1M42 17v1M46 17v1M47 17v1M52 17v1M87 17v1M90 17v1M91 17v1M105 17v1M25 18v1M46 18v1M25 19v1M39 19v1M46 19v1M88 19v1M93 19v1M95 19v1M111 19v1M5 21v1M6 21v1M10 21v1M13 21v1M16 21v1M22 21v1M33 21v1M36 21v1M40 21v1M42 21v1M48 21v1M50 21v1M51 21v1M52 21v1M63 21v1M65 21v1M67 21v1M70 21v1M73 21v1M80 21v1M97 21v1M99 21v1M100 21v1M103 21v1M8 23v1M12 23v1M15 23v1M17 23v1M18 23v1M26 23v1M42 23v1M44 23v1M48 23v1M64 23v1M66 23v1M68 23v1M71 23v1M73 23v1M81 23v1M83 23v1M86 23v1M102 23v1M1 24v1M8 24v1M10 24v1M12 24v1M16 24v1M31 24v1M45 24v1M61 24v1M65 24v1M69 24v1M71 24v1M74 24v1M76 24v1M83 24v1M86 24v1M98 24v1M100 24v1M102 24v1M103 24v1M110 24v1M2 25v1M6 25v1M13 25v1M14 25v1M20 25v1M27 25v1M29 25v1M35 25v1M57 25v1M70 25v1M73 25v1M82 25v1M83 25v1M99 25v1M104 25v1M108 25v1M0 28v1M2 28v1M7 28v1M16 28v1M26 28v1M28 28v1M41 28v1M42 28v1M47 28v1M51 28v1M59 28v1M62 28v1M63 28v1M65 28v1M74 28v1M76 28v1M91 28v1M98 28v1M111 28v1M0 29v1M4 29v1M6 29v1M10 29v1M18 29v1M20 29v1M22 29v1M32 29v1M61 29v1M70 29v1M75 29v1M80 29v1M83 29v1M84 29v1M95 29v1M106 29v1M108 29v1M21 30v1M42 30v1M49 30v1M53 30v1M54 30v1M65 30v1M68 30v1M82 30v1M8 31v1M32 31v1M63 31v1M96 31v1M25 33v1M105 33v1M57 34v1M78 34v1M32 36v1M68 36v1M88 36v1M97 36v1M98 36v1M105 36v1M4 37v1M13 37v1M14 37v1M16 37v1M23 37v1M25 37v1M31 37v1M32 37v1M33 37v1M43 37v1M48 37v1M52 37v1M59 37v1M75 37v1M86 37v1M104 37v1M110 37v1M55 38v1M63 38v1M73 38v1M68 40v1M80 40v1M69 41v1M95 41v1M35 42v1M76 43v1M2 44v1M10 45v1M31 45v1M33 45v1M35 45v1M36 45v1M50 45v1M52 45v1M53 45v1M60 45v1M65 45v1M71 45v1M80 45v1M92 45v1M102 45v1M1 48v1M6 48v1M19 48v1M52 48v1M78 48v1M100 48v1M105 48v1M59 49v1M73 49v1" stroke="#ffad97"/><path d="M17 1v1M25 1v1M36 1v1M53 1v1M82 1v1M83 2v1M9 3v1M48 3v1M86 3v1M97 3v1M13 4v1M95 4v1M15 5v1M49 5v1M81 5v1M85 5v1M87 5v1M23 6v1M28 6v1M89 6v1M95 6v1M16 9v1M35 9v1M4 10v1M53 10v1M70 10v1M107 10v1M2 11v1M3 11v1M45 11v1M70 11v1M83 11v1M1 12v1M6 12v1M12 12v1M23 12v1M44 12v1M46 12v1M53 12v1M56 12v1M69 12v1M72 12v1M83 12v1M96 12v1M12 13v1M14 13v1M38 13v1M60 13v1M71 13v1M99 13v1M104 13v1M13 14v1M28 14v1M41 14v1M104 14v1M109 14v1M27 15v1M53 15v1M60 15v1M86 15v1M89 15v1M97 15v1M12 16v1M23 16v1M26 16v1M40 16v1M101 16v1M9 18v1M33 18v1M14 20v1M19 20v1M24 20v1M44 20v1M45 20v1M46 20v1M53 20v1M64 20v1M67 20v1M0 21v1M38 21v1M39 21v1M59 21v1M82 21v1M86 21v1M1 22v1M3 22v1M11 22v1M14 22v1M20 22v1M22 22v1M26 22v1M47 22v1M52 22v1M62 22v1M70 22v1M77 22v1M78 22v1M82 22v1M94 22v1M97 22v1M104 22v1M105 22v1M0 23v1M14 23v1M25 23v1M32 23v1M33 23v1M53 23v1M57 23v1M60 23v1M70 23v1M78 23v1M84 23v1M101 23v1M108 23v1M2 24v1M35 24v1M37 24v1M42 24v1M72 24v1M81 24v1M87 24v1M88 24v1M89 24v1M94 24v1M96 24v1M16 25v1M48 25v1M67 25v1M68 25v1M88 25v1M102 25v1M110 25v1M5 26v1M8 26v1M20 26v1M23 26v1M28 26v1M41 26v1M51 26v1M53 26v1M61 26v1M73 26v1M74 26v1M77 26v1M94 26v1M4 27v1M16 27v1M17 27v1M27 27v1M57 27v1M61 27v1M64 27v1M67 27v1M14 28v1M25 28v1M32 28v1M37 28v1M56 28v1M57 28v1M70 28v1M83 28v1M92 28v1M95 28v1M103 28v1M15 29v1M16 29v1M23 29v1M33 29v1M42 29v1M46 29v1M57 29v1M58 29v1M68 29v1M69 29v1M76 29v1M87 29v1M88 29v1M90 29v1M96 29v1M18 30v1M39 30v1M44 30v1M46 30v1M52 30v1M66 30v1M79 30v1M83 30v1M84 30v1M53 33v1M39 34v1M3 36v1M85 36v1M9 37v1M37 37v1M40 37v1M103 37v1M69 38v1M31 42v1M16 44v1M5 45v1M25 45v1M27 45v1M38 45v1M51 45v1M57 45v1M58 45v1M11 48v1M33 48v1M62 48v1M64 48v1M104 48v1M106 48v1M80 49v1" stroke="#ff8e70"/><path d="M8 1v1M52 1v1M65 6v1M101 6v1M111 6v1M19 7v1M54 7v1M33 9v1M39 11v1M44 11v1M2 12v1M33 12v1M60 12v1M0 13v1M32 13v1M102 13v1M11 14v1M97 14v1M12 15v1M29 15v1M34 15v1M28 16v1M35 16v1M106 16v1M11 19v1M49 19v1M9 20v1M73 20v1M110 20v1M29 21v1M60 21v1M93 21v1M95 21v1M105 21v1M39 22v1M55 22v1M86 22v1M52 23v1M33 24v1M8 25v1M21 25v1M37 25v1M94 25v1M98 25v1M9 26v1M18 26v1M95 26v1M101 26v1M107 26v1M8 27v1M22 27v1M56 27v1M102 27v1M23 28v1M29 28v1M31 28v1M58 28v1M93 28v1M54 29v1M74 29v1M100 29v1M102 29v1M13 30v1M97 30v1M92 36v1M82 38v1M19 40v1M16 41v1M107 41v1M67 44v1M46 47v1M95 47v1M65 48v1" stroke="#ff6a51"/><path d="M49 4v1M83 6v1M22 8v1M11 13v1M73 18v1M86 18v1M59 19v1M99 19v1M10 20v1M73 22v1M45 23v1M2 27v1M75 27v1M21 29v1M48 42v1" stroke="#ff4632"/><path d="M48 1v1M6 8v1M93 11v1M79 18v1M5 19v1M40 19v1M29 40v1M42 42v1M23 47v1" stroke="#ff2319"/></g>
<rect x="170.4" y="511.3" width="179.6" height="11" fill="#4cbba8" stroke="#444" stroke-width="0.9"/>
<g transform="translate(353.7 524) scale(1.6063 11.5900)" stroke-width="1.04" fill="none"><path d="M-.5 0h64v1h-64z" fill="#f6f0ff"/><path d="M-.5 1h64v1h-64z" fill="#eae1fb"/><path d="M-.5 2h64v3h-64z" fill="#f6f0ff"/><path d="M-.5 5h64v2h-64z" fill="#d9cafa"/><path d="M-.5 7h64v3h-64z" fill="#f6f0ff"/><path d="M-.5 10h64v1h-64z" fill="#eae1fb"/><path d="M-.5 11h64v2h-64z" fill="#f6f0ff"/><path d="M-.5 13h64v2h-64z" fill="#eae1fb"/><path d="M-.5 15h64v1h-64z" fill="#d9cafa"/><path d="M-.5 16h64v4h-64z" fill="#eae1fb"/><path d="M-.5 20h64v5h-64z" fill="#d9cafa"/><path d="M-.5 25h64v1h-64z" fill="#eae1fb"/><path d="M-.5 26h64v4h-64z" fill="#d9cafa"/><path d="M-.5 30h64v2h-64z" fill="#ffccbe"/><path d="M-.5 32h64v1h-64z" fill="#fce4e6"/><path d="M-.5 33h64v1h-64z" fill="#ffccbe"/><path d="M-.5 34h64v1h-64z" fill="#ff8e70"/><path d="M-.5 35h64v1h-64z" fill="#ffccbe"/><path d="M-.5 36h64v1h-64z" fill="#fce4e6"/><path d="M-.5 37h64v1h-64z" fill="#ffccbe"/><path d="M-.5 38h64v1h-64z" fill="#ffad97"/><path d="M-.5 39h64v1h-64z" fill="#fce4e6"/><path d="M-.5 40h64v1h-64z" fill="#f6f0ff"/><path d="M-.5 41h64v1h-64z" fill="#eae1fb"/><path d="M-.5 42h64v3h-64z" fill="#f6f0ff"/><path d="M-.5 45h64v1h-64z" fill="#eae1fb"/><path d="M-.5 46h64v2h-64z" fill="#f6f0ff"/><path d="M-.5 48h64v1h-64z" fill="#eae1fb"/><path d="M-.5 49h64v1h-64z" fill="#f6f0ff"/><path d="M34 12v1M59 12v1M52 37v1" stroke="#0000ff"/><path d="M22 37v1" stroke="#3026ff"/><path d="M48 12v1M14 37v1M48 37v1" stroke="#5f4bff"/><path d="M7 27v1M8 27v1M29 27v1M39 27v1M51 27v1M58 27v1M17 33v1" stroke="#ac98ff"/><path d="M41 5v1M44 5v1M45 5v1M58 5v1M60 5v1M2 6v1M21 6v1M30 6v1M60 6v1M23 11v1M53 11v1M55 13v1M5 14v1M24 14v1M61 14v1M53 16v1M48 17v1M56 17v1M3 20v1M4 20v1M6 20v1M7 20v1M10 20v1M11 20v1M13 20v1M18 20v1M22 20v1M23 20v1M24 20v1M26 20v1M28 20v1M30 20v1M31 20v1M41 20v1M42 20v1M48 20v1M49 20v1M51 20v1M52 20v1M62 20v1M6 21v1M10 21v1M11 21v1M16 21v1M18 21v1M35 21v1M36 21v1M37 21v1M44 21v1M46 21v1M54 21v1M58 21v1M3 22v1M4 22v1M8 22v1M16 22v1M22 22v1M33 22v1M62 22v1M17 23v1M18 23v1M19 23v1M20 23v1M33 23v1M41 23v1M44 23v1M45 23v1M59 23v1M60 23v1M2 24v1M17 24v1M23 24v1M29 24v1M35 24v1M59 24v1M60 24v1M0 26v1M3 26v1M21 26v1M23 26v1M24 26v1M47 26v1M52 26v1M58 26v1M62 26v1M3 27v1M5 27v1M6 27v1M20 27v1M22 27v1M23 27v1M28 27v1M37 27v1M42 27v1M47 27v1M61 27v1M3 29v1M20 29v1M24 29v1M26 29v1M35 29v1M40 29v1M43 29v1M54 29v1M15 32v1M11 38v1M47 38v1M2 45v1M8 45v1M33 48v1" stroke="#c2b1fc"/><path d="M16 10v1M19 10v1M49 10v1M63 10v1M6 11v1M35 11v1M36 11v1M5 12v1M10 13v1M11 13v1M25 13v1M29 13v1M30 13v1M32 13v1M39 13v1M41 13v1M47 13v1M50 13v1M57 13v1M3 14v1M17 14v1M21 14v1M22 14v1M25 14v1M26 14v1M30 14v1M39 14v1M53 14v1M0 16v1M5 16v1M9 16v1M11 16v1M21 16v1M24 16v1M35 16v1M59 16v1M62 16v1M9 17v1M13 17v1M17 17v1M29 17v1M39 17v1M42 17v1M58 17v1M59 17v1M61 17v1M62 17v1M61 18v1M17 25v1M32 25v1M39 25v1M54 25v1M62 25v1M6 30v1M54 30v1M63 30v1M6 31v1M27 31v1M28 31v1M30 31v1M42 31v1M21 32v1M54 32v1M57 32v1M52 33v1M23 34v1M3 36v1M51 36v1M6 37v1M29 37v1M55 37v1M4 38v1M30 38v1M40 39v1M0 45v1M32 45v1M41 45v1M43 45v1M44 45v1M46 45v1M54 45v1M4 48v1M5 48v1M9 48v1M17 48v1M23 48v1M25 48v1M36 48v1M42 48v1M50 48v1M54 48v1M57 48v1M59 48v1" stroke="#d9cafa"/><path d="M2 0v1M3 0v1M15 0v1M23 0v1M48 0v1M55 0v1M61 0v1M62 0v1M5 2v1M9 2v1M30 2v1M33 2v1M36 2v1M39 2v1M50 2v1M58 2v1M59 2v1M4 3v1M7 3v1M12 3v1M13 3v1M15 3v1M20 3v1M24 3v1M27 3v1M29 3v1M30 3v1M35 3v1M52 3v1M54 3v1M60 3v1M61 3v1M1 4v1M3 4v1M6 4v1M13 4v1M22 4v1M34 4v1M37 4v1M2 5v1M15 5v1M20 5v1M22 5v1M29 5v1M31 5v1M34 5v1M39 5v1M40 5v1M48 5v1M55 5v1M61 5v1M62 5v1M0 6v1M1 6v1M6 6v1M8 6v1M9 6v1M13 6v1M19 6v1M25 6v1M40 6v1M41 6v1M45 6v1M50 6v1M51 6v1M57 6v1M59 6v1M3 7v1M10 7v1M19 7v1M25 7v1M30 7v1M32 7v1M44 7v1M45 7v1M49 7v1M56 7v1M62 7v1M63 7v1M4 8v1M10 8v1M12 8v1M20 8v1M27 8v1M45 8v1M55 8v1M56 8v1M58 8v1M59 8v1M6 9v1M29 9v1M34 9v1M37 9v1M42 9v1M46 9v1M53 9v1M54 9v1M56 9v1M57 9v1M59 9v1M3 11v1M15 11v1M16 11v1M17 11v1M18 11v1M37 11v1M38 11v1M45 11v1M46 11v1M49 11v1M59 11v1M29 12v1M30 12v1M32 12v1M35 12v1M38 12v1M53 12v1M60 12v1M6 15v1M11 15v1M13 15v1M20 15v1M22 15v1M28 15v1M33 15v1M34 15v1M38 15v1M42 15v1M47 15v1M50 15v1M55 15v1M60 15v1M61 15v1M0 21v1M28 21v1M29 21v1M33 21v1M40 21v1M51 21v1M13 22v1M29 22v1M32 22v1M51 22v1M59 22v1M5 23v1M21 23v1M47 23v1M50 23v1M63 23v1M8 24v1M10 24v1M11 24v1M16 24v1M25 24v1M28 24v1M30 24v1M31 24v1M34 24v1M40 24v1M43 24v1M46 24v1M50 24v1M63 24v1M11 26v1M22 26v1M27 26v1M36 26v1M38 26v1M46 26v1M61 26v1M0 27v1M2 27v1M14 27v1M18 27v1M21 27v1M24 27v1M34 27v1M36 27v1M40 27v1M44 27v1M52 27v1M57 27v1M0 28v1M32 28v1M34 28v1M40 28v1M41 28v1M46 28v1M48 28v1M62 28v1M6 29v1M10 29v1M11 29v1M15 29v1M17 29v1M45 29v1M47 29v1M50 29v1M53 29v1M55 29v1M56 29v1M8 30v1M17 30v1M31 30v1M42 30v1M44 30v1M0 31v1M10 31v1M14 31v1M21 31v1M24 31v1M25 31v1M4 32v1M27 32v1M28 32v1M49 32v1M51 32v1M59 32v1M61 32v1M2 33v1M13 33v1M14 33v1M27 33v1M28 33v1M32 33v1M37 33v1M45 33v1M63 33v1M18 34v1M43 34v1M52 34v1M58 34v1M59 34v1M2 35v1M17 35v1M21 35v1M31 35v1M4 36v1M8 36v1M11 36v1M25 36v1M59 36v1M3 37v1M59 37v1M0 38v1M5 38v1M12 38v1M24 38v1M33 38v1M52 38v1M1 39v1M2 39v1M33 39v1M0 40v1M3 40v1M4 40v1M5 40v1M7 40v1M10 40v1M11 40v1M13 40v1M17 40v1M20 40v1M21 40v1M24 40v1M26 40v1M29 40v1M30 40v1M31 40v1M34 40v1M36 40v1M41 40v1M43 40v1M44 40v1M45 40v1M46 40v1M49 40v1M50 40v1M51 40v1M56 40v1M60 40v1M61 40v1M63 40v1M6 42v1M16 42v1M23 42v1M27 42v1M29 42v1M34 42v1M56 42v1M61 42v1M1 43v1M16 43v1M24 43v1M45 43v1M46 43v1M52 43v1M59 43v1M3 44v1M6 44v1M23 44v1M25 44v1M46 44v1M52 44v1M62 44v1M7 46v1M21 46v1M54 46v1M57 46v1M58 46v1M61 46v1M5 47v1M6 47v1M10 47v1M12 47v1M16 47v1M31 47v1M39 47v1M40 47v1M44 47v1M56 47v1M63 47v1M2 49v1M3 49v1M4 49v1M11 49v1M15 49v1M20 49v1" stroke="#eae1fb"/><path d="M14 1v1M16 1v1M18 1v1M19 1v1M20 1v1M21 1v1M25 1v1M31 1v1M34 1v1M42 1v1M44 1v1M46 1v1M48 1v1M49 1v1M50 1v1M55 1v1M60 1v1M1 10v1M9 10v1M18 10v1M20 10v1M21 10v1M25 10v1M32 10v1M33 10v1M36 10v1M50 10v1M56 10v1M62 10v1M6 13v1M20 13v1M33 13v1M38 13v1M40 13v1M42 13v1M9 14v1M15 14v1M18 14v1M29 14v1M33 14v1M36 14v1M38 14v1M50 14v1M57 14v1M60 14v1M4 15v1M8 15v1M56 15v1M16 16v1M17 16v1M22 16v1M32 16v1M39 16v1M10 17v1M45 17v1M49 17v1M52 17v1M1 18v1M11 18v1M18 18v1M19 18v1M20 18v1M23 18v1M24 18v1M26 18v1M30 18v1M32 18v1M34 18v1M35 18v1M39 18v1M42 18v1M58 18v1M1 19v1M2 19v1M5 19v1M7 19v1M11 19v1M13 19v1M14 19v1M16 19v1M19 19v1M20 19v1M22 19v1M27 19v1M28 19v1M34 19v1M36 19v1M39 19v1M42 19v1M45 19v1M55 19v1M53 20v1M9 22v1M25 23v1M4 24v1M37 26v1M17 27v1M7 30v1M26 30v1M28 30v1M45 30v1M9 31v1M31 31v1M39 31v1M43 31v1M1 32v1M2 32v1M16 32v1M17 32v1M37 32v1M50 32v1M52 32v1M10 33v1M12 33v1M34 33v1M42 33v1M43 33v1M47 33v1M49 33v1M5 34v1M7 34v1M9 34v1M20 34v1M22 34v1M29 34v1M55 34v1M57 34v1M0 35v1M3 35v1M4 35v1M6 35v1M8 35v1M10 35v1M11 35v1M14 35v1M23 35v1M35 35v1M53 35v1M55 35v1M59 35v1M9 36v1M12 36v1M26 36v1M27 36v1M28 36v1M31 36v1M36 36v1M38 36v1M43 36v1M46 36v1M49 36v1M56 36v1M8 37v1M21 37v1M27 37v1M31 37v1M36 37v1M37 37v1M39 37v1M61 37v1M1 38v1M18 38v1M28 38v1M31 38v1M43 38v1M48 38v1M50 38v1M55 38v1M58 38v1M8 39v1M11 39v1M13 39v1M15 39v1M18 39v1M24 39v1M25 39v1M28 39v1M59 39v1M0 41v1M6 41v1M7 41v1M10 41v1M11 41v1M14 41v1M18 41v1M21 41v1M27 41v1M31 41v1M32 41v1M33 41v1M34 41v1M35 41v1M36 41v1M41 41v1M42 41v1M46 41v1M52 41v1M58 41v1M61 41v1M4 45v1M6 45v1M21 45v1M25 45v1M26 45v1M27 45v1M47 45v1M49 45v1M53 45v1M59 45v1M60 45v1M61 45v1M1 48v1M7 48v1M8 48v1M10 48v1M21 48v1M27 48v1M29 48v1M31 48v1M32 48v1M34 48v1M37 48v1M41 48v1M46 48v1M51 48v1M55 48v1M56 48v1" stroke="#f6f0ff"/><path d="M57 2v1M18 6v1M35 6v1M43 6v1M61 6v1M6 8v1M10 10v1M39 10v1M41 10v1M8 11v1M11 11v1M19 11v1M29 11v1M40 11v1M51 11v1M55 11v1M62 11v1M1 12v1M6 12v1M8 12v1M17 12v1M25 12v1M39 12v1M44 12v1M45 12v1M46 12v1M51 12v1M55 12v1M58 12v1M62 12v1M18 13v1M36 13v1M45 13v1M53 13v1M59 13v1M61 13v1M62 13v1M10 14v1M16 14v1M40 14v1M43 14v1M46 14v1M17 15v1M40 15v1M51 15v1M2 16v1M15 16v1M29 16v1M49 16v1M55 16v1M20 17v1M38 17v1M40 17v1M47 17v1M54 17v1M60 17v1M13 18v1M48 18v1M10 19v1M51 19v1M8 20v1M40 22v1M41 22v1M54 22v1M63 22v1M6 23v1M27 23v1M6 24v1M19 24v1M49 24v1M6 25v1M19 25v1M25 26v1M12 27v1M56 27v1M62 27v1M34 29v1M0 30v1M1 30v1M5 30v1M13 30v1M23 30v1M24 30v1M27 30v1M32 30v1M36 30v1M41 30v1M47 30v1M51 30v1M55 30v1M58 30v1M23 31v1M29 31v1M32 31v1M33 31v1M40 31v1M44 31v1M45 31v1M47 31v1M59 31v1M61 31v1M62 31v1M6 33v1M15 33v1M21 33v1M31 33v1M41 33v1M44 33v1M58 33v1M62 33v1M0 34v1M4 34v1M6 34v1M8 34v1M12 34v1M14 34v1M38 34v1M42 34v1M61 34v1M63 34v1M5 35v1M12 35v1M13 35v1M16 35v1M33 35v1M37 35v1M40 35v1M47 35v1M48 35v1M49 35v1M57 35v1M60 35v1M61 35v1M63 35v1M11 37v1M15 37v1M17 37v1M32 37v1M34 37v1M38 37v1M41 37v1M42 37v1M43 37v1M47 37v1M50 37v1M9 38v1M14 38v1M15 38v1M23 38v1M37 38v1M46 38v1M60 38v1M54 44v1M17 45v1M33 45v1M34 45v1M36 45v1M6 48v1M26 48v1M28 48v1M43 48v1M44 48v1" stroke="#fce4e6"/><path d="M1 0v1M8 0v1M44 3v1M46 3v1M49 3v1M50 5v1M56 5v1M5 6v1M11 6v1M17 6v1M24 6v1M31 6v1M33 6v1M36 6v1M52 6v1M63 6v1M12 7v1M22 7v1M6 10v1M26 10v1M30 10v1M37 10v1M59 10v1M0 11v1M2 11v1M4 11v1M20 11v1M21 11v1M22 11v1M24 11v1M25 11v1M27 11v1M30 11v1M63 11v1M4 12v1M9 12v1M15 12v1M16 12v1M19 12v1M20 12v1M24 12v1M31 12v1M37 12v1M42 12v1M57 12v1M61 12v1M0 13v1M4 13v1M8 13v1M12 13v1M21 13v1M27 13v1M28 13v1M46 13v1M0 14v1M19 14v1M23 14v1M28 14v1M42 14v1M44 14v1M45 14v1M48 14v1M51 14v1M52 14v1M59 14v1M15 15v1M21 15v1M23 15v1M43 15v1M46 15v1M1 16v1M10 16v1M19 16v1M38 16v1M57 16v1M15 17v1M18 17v1M21 17v1M27 17v1M41 17v1M44 17v1M51 17v1M53 17v1M63 17v1M3 18v1M27 18v1M31 18v1M60 18v1M44 19v1M47 19v1M59 19v1M11 22v1M28 22v1M34 22v1M37 22v1M52 22v1M60 22v1M1 23v1M43 23v1M53 23v1M1 24v1M5 24v1M12 24v1M22 24v1M26 24v1M32 24v1M48 24v1M49 25v1M44 26v1M55 26v1M19 27v1M38 27v1M46 27v1M49 27v1M63 27v1M2 29v1M3 32v1M10 32v1M23 32v1M24 32v1M39 32v1M40 32v1M46 32v1M2 34v1M3 34v1M15 34v1M26 34v1M32 34v1M34 34v1M48 34v1M60 34v1M19 36v1M37 36v1M39 36v1M40 36v1M41 36v1M42 36v1M50 36v1M53 36v1M57 36v1M61 36v1M2 38v1M3 38v1M20 38v1M22 38v1M25 38v1M38 38v1M45 38v1M56 38v1M61 38v1M62 38v1M5 39v1M12 39v1M17 39v1M20 39v1M27 39v1M34 39v1M38 39v1M56 39v1M58 39v1M55 41v1M1 45v1M12 45v1M13 45v1M15 45v1M20 45v1M28 45v1M31 45v1M35 45v1M38 45v1M40 45v1M45 45v1M52 45v1M0 48v1M3 48v1M12 48v1M13 48v1M18 48v1M22 48v1M24 48v1M30 48v1M35 48v1M39 48v1M40 48v1M52 48v1M61 49v1" stroke="#ffccbe"/><path d="M32 1v1M4 2v1M47 2v1M36 4v1M38 4v1M0 5v1M1 5v1M7 5v1M11 5v1M25 5v1M26 5v1M35 5v1M36 5v1M49 5v1M53 5v1M4 6v1M39 6v1M42 6v1M49 6v1M55 6v1M37 7v1M0 10v1M38 10v1M44 10v1M53 10v1M61 10v1M7 11v1M9 11v1M12 11v1M13 11v1M43 11v1M47 11v1M50 11v1M52 11v1M57 11v1M58 11v1M2 12v1M3 12v1M7 12v1M10 12v1M12 12v1M23 12v1M26 12v1M40 12v1M19 13v1M22 13v1M34 13v1M35 13v1M37 13v1M48 13v1M52 13v1M1 14v1M4 14v1M6 14v1M8 14v1M11 14v1M14 14v1M27 14v1M35 14v1M47 14v1M54 14v1M55 14v1M0 15v1M9 15v1M27 15v1M29 15v1M30 15v1M35 15v1M36 15v1M39 15v1M52 15v1M57 15v1M59 15v1M14 16v1M25 16v1M26 16v1M27 16v1M30 16v1M33 16v1M40 16v1M43 16v1M44 16v1M54 16v1M58 16v1M60 16v1M1 17v1M12 17v1M26 17v1M30 17v1M33 17v1M34 17v1M46 17v1M55 17v1M14 18v1M21 18v1M36 18v1M52 18v1M0 19v1M6 19v1M9 19v1M33 19v1M43 19v1M61 19v1M30 22v1M29 25v1M9 26v1M50 27v1M59 27v1M28 29v1M30 29v1M46 29v1M20 30v1M25 30v1M30 30v1M35 30v1M40 30v1M48 30v1M60 30v1M62 30v1M17 31v1M22 31v1M37 31v1M46 31v1M49 31v1M50 31v1M57 31v1M58 31v1M12 32v1M18 32v1M19 32v1M22 32v1M25 32v1M43 32v1M62 32v1M7 33v1M16 33v1M18 33v1M22 33v1M23 33v1M24 33v1M35 33v1M40 33v1M61 33v1M11 34v1M19 34v1M21 34v1M30 34v1M33 34v1M39 34v1M45 34v1M49 34v1M56 34v1M1 35v1M15 35v1M24 35v1M25 35v1M28 35v1M29 35v1M30 35v1M39 35v1M43 35v1M45 35v1M50 35v1M56 35v1M1 36v1M2 36v1M7 36v1M20 36v1M29 36v1M30 36v1M48 36v1M1 37v1M18 37v1M19 37v1M23 37v1M33 37v1M46 37v1M51 37v1M57 37v1M60 37v1M62 37v1M0 39v1M7 39v1M16 39v1M30 39v1M31 39v1M36 39v1M41 39v1M43 39v1M45 39v1M48 39v1M51 39v1M61 39v1M4 41v1M49 44v1M11 45v1M14 45v1M23 45v1M62 45v1M45 48v1M24 49v1M56 49v1" stroke="#ffad97"/><path d="M56 0v1M12 2v1M50 3v1M10 4v1M12 5v1M27 5v1M28 5v1M30 5v1M51 5v1M52 5v1M59 5v1M15 6v1M27 6v1M29 6v1M34 6v1M38 6v1M7 7v1M17 9v1M3 10v1M4 10v1M5 10v1M7 10v1M11 10v1M12 10v1M17 10v1M23 10v1M27 10v1M28 10v1M35 10v1M43 10v1M46 10v1M47 10v1M14 11v1M31 11v1M33 11v1M39 11v1M42 11v1M21 12v1M56 12v1M5 13v1M7 13v1M9 13v1M14 13v1M23 13v1M24 13v1M43 13v1M54 13v1M34 14v1M63 14v1M2 15v1M5 15v1M24 15v1M32 15v1M48 15v1M49 15v1M62 15v1M3 16v1M12 16v1M20 16v1M36 16v1M47 16v1M51 16v1M56 16v1M61 16v1M4 17v1M7 17v1M11 17v1M14 17v1M41 18v1M52 19v1M41 26v1M13 27v1M41 27v1M16 30v1M22 30v1M46 30v1M49 30v1M50 30v1M52 30v1M59 30v1M2 31v1M4 31v1M5 31v1M12 31v1M15 31v1M19 31v1M35 31v1M36 31v1M41 31v1M48 31v1M53 31v1M11 32v1M20 32v1M31 32v1M34 32v1M41 32v1M56 32v1M58 32v1M4 33v1M20 33v1M26 33v1M29 33v1M30 33v1M46 33v1M26 35v1M32 35v1M34 35v1M52 35v1M54 35v1M16 36v1M18 36v1M23 36v1M33 36v1M52 36v1M54 36v1M25 37v1M53 37v1M8 38v1M19 38v1M21 38v1M29 38v1M35 38v1M39 38v1M41 38v1M44 38v1M51 38v1M63 38v1M4 39v1M9 39v1M14 39v1M19 39v1M29 39v1M46 39v1M47 39v1M54 39v1M55 39v1M57 39v1M60 39v1M19 41v1M60 42v1M3 45v1M58 45v1M63 45v1M8 46v1M9 49v1" stroke="#ff8e70"/><path d="M47 0v1M4 1v1M41 2v1M44 2v1M9 5v1M17 5v1M23 5v1M42 5v1M57 5v1M63 5v1M12 6v1M47 6v1M19 8v1M8 10v1M24 10v1M29 10v1M31 10v1M34 10v1M52 10v1M41 11v1M61 11v1M33 12v1M63 12v1M26 13v1M51 13v1M56 13v1M7 15v1M16 15v1M41 15v1M34 16v1M27 27v1M3 30v1M34 30v1M37 30v1M53 30v1M61 30v1M7 31v1M11 31v1M51 31v1M63 31v1M9 32v1M26 32v1M35 32v1M36 32v1M44 32v1M48 32v1M0 33v1M3 33v1M9 33v1M33 33v1M50 33v1M56 33v1M57 33v1M59 33v1M10 34v1M13 34v1M17 34v1M27 34v1M36 34v1M6 36v1M21 36v1M22 36v1M34 36v1M60 36v1M12 37v1M26 37v1M58 37v1M10 38v1M13 38v1M17 38v1M32 38v1M54 38v1M3 39v1M10 39v1M52 39v1M62 39v1M37 40v1M58 40v1M42 44v1M61 47v1" stroke="#ff6a51"/><path d="M11 4v1M56 6v1M45 10v1M36 12v1M31 13v1M58 14v1M9 30v1M10 30v1M43 30v1M1 31v1M56 31v1M29 32v1M45 32v1M55 32v1M60 32v1M63 32v1M60 33v1M16 34v1M31 34v1M46 34v1M51 34v1M53 34v1M15 36v1M24 36v1M55 36v1M58 36v1M10 37v1M26 38v1M59 38v1M39 39v1M39 40v1M9 41v1M17 41v1M60 41v1" stroke="#ff4632"/><path d="M25 9v1M3 17v1M16 44v1M52 47v1" stroke="#ff2319"/><path d="M58 15v1" stroke="#ff0000"/></g>
<rect x="352.9" y="511.3" width="102.8" height="11" fill="#7085ae" stroke="#444" stroke-width="0.9"/>
<g transform="translate(459 524) scale(1.5625 11.5900)" stroke-width="1.04" fill="none"><path d="M-.5 0h16v1h-16z" fill="#f6f0ff"/><path d="M-.5 1h16v1h-16z" fill="#eae1fb"/><path d="M-.5 2h16v3h-16z" fill="#f6f0ff"/><path d="M-.5 5h16v2h-16z" fill="#d9cafa"/><path d="M-.5 7h16v3h-16z" fill="#f6f0ff"/><path d="M-.5 10h16v2h-16z" fill="#d9cafa"/><path d="M-.5 12h16v1h-16z" fill="#fce4e6"/><path d="M-.5 13h16v3h-16z" fill="#eae1fb"/><path d="M-.5 16h16v1h-16z" fill="#d9cafa"/><path d="M-.5 17h16v3h-16z" fill="#eae1fb"/><path d="M-.5 20h16v1h-16z" fill="#f6f0ff"/><path d="M-.5 21h16v1h-16z" fill="#eae1fb"/><path d="M-.5 22h16v1h-16z" fill="#f6f0ff"/><path d="M-.5 23h16v1h-16z" fill="#eae1fb"/><path d="M-.5 24h16v1h-16z" fill="#ffad97"/><path d="M-.5 25h16v1h-16z" fill="#eae1fb"/><path d="M-.5 26h16v1h-16z" fill="#fce4e6"/><path d="M-.5 27h16v1h-16z" fill="#ff8e70"/><path d="M-.5 28h16v1h-16z" fill="#eae1fb"/><path d="M-.5 29h16v1h-16z" fill="#f6f0ff"/><path d="M-.5 30h16v1h-16z" fill="#eae1fb"/><path d="M-.5 31h16v1h-16z" fill="#d9cafa"/><path d="M-.5 32h16v1h-16z" fill="#eae1fb"/><path d="M-.5 33h16v2h-16z" fill="#d9cafa"/><path d="M-.5 35h16v1h-16z" fill="#c2b1fc"/><path d="M-.5 36h16v1h-16z" fill="#d9cafa"/><path d="M-.5 37h16v1h-16z" fill="#fce4e6"/><path d="M-.5 38h16v1h-16z" fill="#d9cafa"/><path d="M-.5 39h16v1h-16z" fill="#eae1fb"/><path d="M-.5 40h16v2h-16z" fill="#ff2319"/><path d="M-.5 42h16v3h-16z" fill="#f6f0ff"/><path d="M-.5 45h16v1h-16z" fill="#ff2319"/><path d="M-.5 46h16v1h-16z" fill="#f6f0ff"/><path d="M-.5 47h16v1h-16z" fill="#ff4632"/><path d="M-.5 48h16v1h-16z" fill="#eae1fb"/><path d="M-.5 49h16v1h-16z" fill="#ff2319"/><path d="M5 37v1M9 37v1" stroke="#5f4bff"/><path d="M6 35v1" stroke="#8672ff"/><path d="M12 24v1M2 35v1M4 35v1M14 39v1" stroke="#ac98ff"/><path d="M0 6v1M3 6v1M5 6v1M6 6v1M12 6v1M2 10v1M12 13v1M0 14v1M3 14v1M6 14v1M10 14v1M5 15v1M13 15v1M2 16v1M0 17v1M7 17v1M6 20v1M10 24v1M10 28v1M4 30v1M11 36v1M11 39v1M0 48v1M3 48v1" stroke="#c2b1fc"/><path d="M5 12v1M0 13v1M2 13v1M11 13v1M4 14v1M14 14v1M1 15v1M3 15v1M6 15v1M9 15v1M5 17v1M10 17v1M11 20v1M15 20v1M7 21v1M10 22v1M6 24v1M1 26v1M8 26v1M3 27v1M8 27v1M9 27v1M9 29v1M10 29v1M2 30v1M6 30v1M7 30v1M13 30v1M14 30v1M3 35v1M5 35v1M8 35v1M9 35v1M13 35v1M1 37v1M3 37v1M8 37v1M3 39v1M4 39v1M7 39v1M8 39v1M9 39v1M6 45v1M14 45v1M11 48v1" stroke="#d9cafa"/><path d="M12 0v1M8 2v1M10 2v1M15 2v1M10 3v1M15 3v1M11 4v1M12 4v1M3 5v1M7 5v1M8 6v1M1 7v1M3 7v1M8 7v1M1 8v1M5 8v1M10 8v1M12 8v1M13 8v1M11 9v1M6 10v1M1 11v1M8 11v1M9 11v1M3 12v1M10 12v1M0 16v1M4 16v1M8 16v1M12 16v1M1 20v1M7 20v1M8 20v1M3 22v1M1 24v1M2 24v1M9 24v1M10 26v1M14 26v1M5 27v1M11 27v1M15 27v1M3 29v1M6 29v1M14 29v1M2 31v1M4 31v1M7 31v1M11 31v1M12 31v1M4 33v1M6 33v1M7 33v1M13 33v1M0 34v1M2 34v1M6 34v1M7 34v1M8 34v1M9 34v1M14 35v1M0 36v1M5 36v1M14 36v1M15 36v1M4 37v1M10 37v1M2 38v1M5 38v1M6 38v1M7 38v1M8 38v1M2 40v1M10 41v1M1 42v1M12 42v1M15 42v1M3 43v1M9 43v1M2 44v1M4 46v1M8 46v1M12 46v1M1 49v1M3 49v1M4 49v1" stroke="#eae1fb"/><path d="M1 1v1M3 1v1M5 1v1M8 1v1M0 5v1M0 10v1M1 10v1M5 10v1M0 11v1M10 11v1M12 11v1M4 12v1M8 12v1M15 12v1M3 13v1M11 14v1M12 14v1M2 15v1M10 16v1M0 18v1M3 18v1M7 18v1M14 18v1M1 19v1M2 19v1M5 19v1M8 19v1M12 19v1M11 21v1M14 21v1M4 23v1M10 23v1M5 24v1M15 24v1M4 25v1M5 25v1M13 25v1M3 26v1M12 26v1M15 26v1M0 27v1M14 27v1M5 28v1M11 28v1M15 28v1M9 30v1M11 37v1M13 37v1M0 39v1M15 39v1M2 41v1M5 41v1M6 47v1M9 47v1M10 47v1M13 47v1M5 48v1M8 48v1M14 48v1M9 49v1M12 49v1M14 49v1" stroke="#f6f0ff"/><path d="M14 5v1M15 15v1M6 16v1M9 16v1M12 17v1M12 18v1M11 19v1M15 19v1M0 20v1M2 20v1M8 21v1M11 22v1M12 22v1M5 23v1M11 23v1M1 25v1M8 25v1M1 27v1M4 27v1M0 28v1M3 28v1M1 29v1M8 29v1M5 31v1M3 33v1M8 33v1M14 34v1M7 35v1M8 36v1M3 38v1M15 38v1M11 40v1M12 41v1M14 41v1M15 41v1M0 42v1M0 45v1M5 45v1M8 45v1M1 46v1M5 46v1M7 46v1M10 46v1M11 47v1M15 47v1M9 48v1M15 48v1M2 49v1M10 49v1" stroke="#fce4e6"/><path d="M12 2v1M1 5v1M15 5v1M9 6v1M13 10v1M14 10v1M14 11v1M2 12v1M9 12v1M13 12v1M4 13v1M5 13v1M8 13v1M14 13v1M5 14v1M13 14v1M8 15v1M14 15v1M6 17v1M8 17v1M9 17v1M15 17v1M6 18v1M11 18v1M10 19v1M4 20v1M9 20v1M10 20v1M0 21v1M2 21v1M10 21v1M2 22v1M7 22v1M7 23v1M9 23v1M0 24v1M3 25v1M11 25v1M15 25v1M6 26v1M11 26v1M6 27v1M7 27v1M7 28v1M2 29v1M5 30v1M14 33v1M15 37v1M5 40v1M8 41v1M10 45v1M12 45v1M13 45v1M4 48v1M6 48v1" stroke="#ffccbe"/><path d="M9 0v1M7 6v1M10 6v1M4 10v1M7 10v1M10 10v1M11 10v1M4 11v1M7 12v1M11 12v1M6 13v1M9 14v1M4 15v1M5 16v1M13 16v1M1 17v1M3 19v1M3 20v1M4 21v1M5 21v1M6 21v1M0 22v1M4 22v1M5 22v1M13 22v1M2 23v1M3 23v1M14 23v1M15 23v1M9 25v1M5 26v1M13 26v1M13 27v1M1 28v1M0 29v1M12 29v1M10 30v1M1 31v1M10 32v1M11 33v1M5 34v1M10 34v1M7 37v1M14 37v1M6 41v1" stroke="#ffad97"/><path d="M2 3v1M4 3v1M14 3v1M10 5v1M14 12v1M10 15v1M14 17v1M10 18v1M4 19v1M12 21v1M13 21v1M6 22v1M0 23v1M6 23v1M4 24v1M7 24v1M8 24v1M2 26v1M9 26v1M13 28v1M10 39v1M1 41v1M9 42v1M7 44v1" stroke="#ff8e70"/><path d="M1 3v1M3 3v1M9 3v1M11 3v1M12 10v1M6 25v1M2 28v1M6 28v1M1 40v1M0 41v1M7 41v1M7 42v1M0 44v1M9 44v1M15 45v1M15 46v1M7 47v1" stroke="#ff6a51"/><path d="M0 40v1M3 40v1M6 40v1M8 40v1M6 42v1M11 42v1M7 43v1M8 43v1M10 43v1M15 43v1M10 44v1M1 45v1M3 45v1M4 45v1M6 46v1M6 49v1M7 49v1M8 49v1" stroke="#ff4632"/><path d="M2 42v1M1 43v1M5 43v1M12 43v1M13 43v1M1 44v1M5 44v1M8 44v1M14 44v1M0 46v1M8 47v1" stroke="#ff2319"/><path d="M12 40v1M3 41v1M13 41v1M4 42v1M5 42v1M8 42v1M0 43v1M12 44v1M3 46v1M3 47v1M11 49v1" stroke="#ff0000"/></g>
<rect x="458.2" y="511.3" width="25" height="11" fill="#f7bba3" stroke="#444" stroke-width="0.9"/>
<text x="486.8" y="533.1" font-size="9.3" fill="#111">NKG7</text>
<text x="486.8" y="544.7" font-size="9.3" fill="#111">IL32</text>
<text x="486.8" y="556.3" font-size="9.3" fill="#111">GNLY</text>
<text x="486.8" y="567.9" font-size="9.3" fill="#111">CCL5</text>
<text x="486.8" y="579.5" font-size="9.3" fill="#111">CD3E</text>
<text x="486.8" y="591" font-size="9.3" fill="#111">IFITM1</text>
<text x="486.8" y="602.6" font-size="9.3" fill="#111">S100A4</text>
<text x="486.8" y="614.2" font-size="9.3" fill="#111">IL7R</text>
<text x="486.8" y="625.8" font-size="9.3" fill="#111">GIMAP7</text>
<text x="486.8" y="637.4" font-size="9.3" fill="#111">CST7</text>
<text x="486.8" y="649" font-size="9.3" fill="#111">CRIP1</text>
<text x="486.8" y="660.6" font-size="9.3" fill="#111">CIB1</text>
<text x="486.8" y="672.2" font-size="9.3" fill="#111">MS4A1</text>
<text x="486.8" y="683.8" font-size="9.3" fill="#111">FGR</text>
<text x="486.8" y="695.4" font-size="9.3" fill="#111">SYK</text>
<text x="486.8" y="706.9" font-size="9.3" fill="#111">ZEB2</text>
<text x="486.8" y="718.5" font-size="9.3" fill="#111">COTL1</text>
<text x="486.8" y="730.1" font-size="9.3" fill="#111">LMP3</text>
<text x="486.8" y="741.7" font-size="9.3" fill="#111">FCRL5</text>
<text x="486.8" y="753.3" font-size="9.3" fill="#111">HCK</text>
<text x="486.8" y="764.9" font-size="9.3" fill="#111">TCL1A</text>
<text x="486.8" y="776.5" font-size="9.3" fill="#111">IL4R</text>
<text x="486.8" y="788.1" font-size="9.3" fill="#111">FCER2</text>
<text x="486.8" y="799.7" font-size="9.3" fill="#111">PLPP5</text>
<text x="486.8" y="811.3" font-size="9.3" fill="#111">BACH2</text>
<text x="486.8" y="822.8" font-size="9.3" fill="#111">IGLL5</text>
<text x="486.8" y="834.4" font-size="9.3" fill="#111">IGHD</text>
<text x="486.8" y="846" font-size="9.3" fill="#111">HVCN1</text>
<text x="486.8" y="857.6" font-size="9.3" fill="#111">YBX3</text>
<text x="486.8" y="869.2" font-size="9.3" fill="#111">TSPAN13</text>
<text x="486.8" y="880.8" font-size="9.3" fill="#111">JCHAIN</text>
<text x="486.8" y="892.4" font-size="9.3" fill="#111">CRIP1</text>
<text x="486.8" y="904" font-size="9.3" fill="#111">AIM2</text>
<text x="486.8" y="915.6" font-size="9.3" fill="#111">ITGB1</text>
<text x="486.8" y="927.2" font-size="9.3" fill="#111">IGHA1</text>
<text x="486.8" y="938.7" font-size="9.3" fill="#111">GAPDH</text>
<text x="486.8" y="950.3" font-size="9.3" fill="#111">LINC01781</text>
<text x="486.8" y="961.9" font-size="9.3" fill="#111">LTB</text>
<text x="486.8" y="973.5" font-size="9.3" fill="#111">IGHG2</text>
<text x="486.8" y="985.1" font-size="9.3" fill="#111">VIM</text>
<text x="486.8" y="996.7" font-size="9.3" fill="#111">NRGN</text>
<text x="486.8" y="1008.3" font-size="9.3" fill="#111">PPBP</text>
<text x="486.8" y="1019.9" font-size="9.3" fill="#111">CAVIN2</text>
<text x="486.8" y="1031.5" font-size="9.3" fill="#111">TUBB1</text>
<text x="486.8" y="1043.1" font-size="9.3" fill="#111">SPARC</text>
<text x="486.8" y="1054.6" font-size="9.3" fill="#111">GPX1P1</text>
<text x="486.8" y="1066.2" font-size="9.3" fill="#111">CLU</text>
<text x="486.8" y="1077.8" font-size="9.3" fill="#111">PRKAR2B</text>
<text x="486.8" y="1089.4" font-size="9.3" fill="#111">NCOA4</text>
<text x="486.8" y="1101" font-size="9.3" fill="#111">F13A1</text>
<text x="121.4" y="503" font-size="15.5" text-anchor="middle" fill="#e8695b" textLength="31" lengthAdjust="spacingAndGlyphs">Breg</text>
<text x="142.9" y="491.4" font-size="15.5" fill="#6cc6e1">FCRL3<tspan font-size="7" dy="-6">+</tspan></text>
<text x="142.9" y="507.8" font-size="15.5" fill="#6cc6e1" textLength="35" lengthAdjust="spacingAndGlyphs">GC B</text>
<text x="273" y="503" font-size="15.5" text-anchor="middle" fill="#2eae97" textLength="72" lengthAdjust="spacingAndGlyphs">Follicular B</text>
<text x="368.2" y="488.6" font-size="15.5" fill="#4f6ba4" textLength="56" lengthAdjust="spacingAndGlyphs">Marginal</text>
<text x="368.2" y="505.4" font-size="15.5" fill="#4f6ba4" textLength="45" lengthAdjust="spacingAndGlyphs">zone B</text>
<text x="448.6" y="488.6" font-size="15.5" fill="#f4a58b" textLength="90" lengthAdjust="spacingAndGlyphs">Multilymphoid</text>
<text x="448.6" y="505.4" font-size="15.5" fill="#f4a58b" textLength="93" lengthAdjust="spacingAndGlyphs">progenitor cell</text>
<text x="78" y="479" font-size="34" font-weight="bold">C</text>
<defs><linearGradient id="lgC" x1="0" y1="0" x2="0" y2="1"><stop offset="0%" stop-color="#ff0000"/><stop offset="12.5%" stop-color="#ff4632"/><stop offset="25%" stop-color="#ff8e70"/><stop offset="37.5%" stop-color="#ffccbe"/><stop offset="43.8%" stop-color="#fce4e6"/><stop offset="50%" stop-color="#f6f0ff"/><stop offset="56.2%" stop-color="#eae1fb"/><stop offset="62.5%" stop-color="#d9cafa"/><stop offset="75%" stop-color="#ac98ff"/><stop offset="87.5%" stop-color="#5f4bff"/><stop offset="100%" stop-color="#0000ff"/></linearGradient></defs>
<rect x="533" y="775.5" width="12.5" height="58.5" fill="url(#lgC)"/>
<text x="532.5" y="770" font-size="8.2" fill="#111">Expr.</text>
<text x="548" y="781.5" font-size="8.5" fill="#111">4</text>
<text x="548" y="795" font-size="8.5" fill="#111">2</text>
<text x="548" y="808" font-size="8.5" fill="#111">0</text>
<text x="548" y="822" font-size="8.5" fill="#111">-2</text>
<text x="548" y="835.5" font-size="8.5" fill="#111">-4</text>
</g>
<g id="panelD">
<rect x="1109.9" y="713.5" width="9" height="8.8" fill="#a9dca1"/>
<rect x="1122.7" y="712.3" width="9" height="10" fill="#fb9c9b"/>
<rect x="1135.4" y="638.2" width="9" height="84.1" fill="#8cb9f6"/>
<rect x="1148.2" y="666.7" width="9" height="55.6" fill="#f3b47c"/>
<rect x="1160.9" y="707.9" width="9" height="14.4" fill="#f88fc2"/>
<rect x="1181.6" y="695.7" width="9" height="26.6" fill="#a9dca1"/>
<rect x="1194.3" y="709.8" width="9" height="12.5" fill="#fb9c9b"/>
<rect x="1207.1" y="631.5" width="9" height="90.8" fill="#8cb9f6"/>
<rect x="1219.8" y="686.4" width="9" height="35.9" fill="#f3b47c"/>
<rect x="1232.6" y="716.1" width="9" height="6.2" fill="#f88fc2"/>
<rect x="1254" y="689.2" width="9" height="33.1" fill="#a9dca1"/>
<rect x="1266.8" y="712.3" width="9" height="10" fill="#fb9c9b"/>
<rect x="1279.5" y="650.5" width="9" height="71.8" fill="#8cb9f6"/>
<rect x="1292.2" y="673.7" width="9" height="48.6" fill="#f3b47c"/>
<rect x="1305" y="713.3" width="9" height="9" fill="#f88fc2"/>
<path d="M1114.4 713.5V705.4M1111.9 705.4h5M1127.2 712.3V702.9M1124.7 702.9h5M1139.9 638.2V592.2M1137.4 592.2h5M1152.7 666.7V644.3M1150.2 644.3h5M1165.4 707.9V693.6M1162.9 693.6h5M1186.1 695.7V683.9M1183.6 683.9h5M1198.8 709.8V700.5M1196.3 700.5h5M1211.6 631.5V611.4M1209.1 611.4h5M1224.3 686.4V674.6M1221.8 674.6h5M1237.1 716.1V712.3M1234.6 712.3h5M1258.5 689.2V674.6M1256 674.6h5M1271.2 712.3V705.8M1268.8 705.8h5M1284 650.5V630.8M1281.5 630.8h5M1296.8 673.7V655.1M1294.2 655.1h5M1309.5 713.3V712.3M1307 712.3h5" stroke="#333" stroke-width="1" fill="none"/>
<path d="M1104.5 580.5V722.3H1318" stroke="#222" stroke-width="1.5" fill="none"/>
<path d="M1104.5 722.3h-5M1104.5 687.1h-5M1104.5 651.9h-5M1104.5 616.7h-5M1104.5 581.5h-5M1139.7 722.3v5.5M1211.4 722.3v5.5M1283.1 722.3v5.5" stroke="#222" stroke-width="1.5" fill="none"/>
<text x="1104" y="727.3" font-size="14.2" text-anchor="end" fill="#111">0.0</text>
<text x="1104" y="692.1" font-size="14.2" text-anchor="end" fill="#111">0.2</text>
<text x="1104" y="656.9" font-size="14.2" text-anchor="end" fill="#111">0.4</text>
<text x="1104" y="621.7" font-size="14.2" text-anchor="end" fill="#111">0.6</text>
<text x="1104" y="586.5" font-size="14.2" text-anchor="end" fill="#111">0.8</text>
<text x="1146" y="740" font-size="14.2" text-anchor="middle" fill="#111">Active TAO</text>
<text x="1218.5" y="740" font-size="14.2" text-anchor="middle" fill="#111">Inactive TAO</text>
<text x="1291.5" y="740" font-size="14.2" text-anchor="middle" fill="#111">Normal Ctrl</text>
<text x="1076" y="645.5" font-size="14.2" text-anchor="middle" fill="#111" transform="rotate(-90 1076 645.5)">proportion of cells</text>
<path d="M1116 551H1258M1116 546v10M1258 546v10M1116 571.7H1188.8M1116 566.7v10M1188.8 566.7v10" stroke="#333" stroke-width="1.5" fill="none"/>
<text x="1190.6" y="546.8" font-size="13.6" text-anchor="middle" fill="#111">0.065</text>
<text x="1156.5" y="567.6" font-size="13.6" text-anchor="middle" fill="#111">0.078</text>
<text x="1058" y="545" font-size="34" font-weight="bold">D</text>
<rect x="1314.3" y="587" width="14.3" height="6.8" fill="#a9dca1"/>
<rect x="1314.3" y="604.9" width="14.3" height="6.8" fill="#fb9c9b"/>
<rect x="1314.3" y="622.8" width="14.3" height="6.8" fill="#8cb9f6"/>
<rect x="1314.3" y="640.7" width="14.3" height="6.8" fill="#f3b47c"/>
<rect x="1314.3" y="660.5" width="14.3" height="6.8" fill="#f88fc2"/>
<text x="1334.7" y="595.4" font-size="14.2" fill="#111">Bregs</text>
<text x="1334.7" y="613.3" font-size="14.2" fill="#111">Multilymphoid Progenitor Cells</text>
<text x="1334.7" y="631.2" font-size="14.2" fill="#111">Follicular B Cells</text>
<text x="1334.7" y="649.1" font-size="14.2" fill="#111">Marginal Zone B Cells</text>
<text x="1334.7" y="668.9" font-size="14.2" fill="#111">FCRL3<tspan font-size="9" dy="-7" dx="-4">+</tspan><tspan dy="7" dx="-4">GC B Cells</tspan></text>
</g>
<g id="panelE">
<text x="576" y="834" font-size="34" font-weight="bold">E</text>
<defs><radialGradient id="rgActiveTAO"><stop offset="0" stop-color="#ff3010" stop-opacity="1"/><stop offset="0.12" stop-color="#ff9a00" stop-opacity="1"/><stop offset="0.25" stop-color="#e8e800" stop-opacity="1"/><stop offset="0.4" stop-color="#30e040" stop-opacity="1"/><stop offset="0.58" stop-color="#10d0e0" stop-opacity="1"/><stop offset="0.75" stop-color="#2060ff" stop-opacity="1"/><stop offset="0.9" stop-color="#3050ff" stop-opacity="0.75"/><stop offset="1" stop-color="#4060ff" stop-opacity="0"/></radialGradient></defs>
<ellipse cx="756.5" cy="993.3" rx="17" ry="14.5" fill="url(#rgActiveTAO)"/>
<path d="M749 922h0m2 8h0m-5.5 16h0m23.5 7h0m-4-4.5h0m-17 1h0m4.5 7h0m2-1h0m.5 .5h0m3 1h0m-1.5 4h0m-1.5 0h0m-.5 2.5h0m-1.5 6.5h0m5 0h0m4.5-2h0m8.5 2h0m3.5 3.5h0m-2.5 3h0m-5-.5h0m-4 1h0m-5 0h0m-1-.5h0m-.5 0h0m-.5 1h0m-.5 0h0m0-.5h0m-1-.5h0m0-.5h0m-.5 1h0m-.5-2.5h0m-1 2.5h0m0-2h0m-.5 2.5h0m0-2.5h0m-.5 2.5h0m0-2.5h0m-1 2.5h0m-1-.5h0m-3.5-1h0m-.5-1h0m-2 .5h0m-1 2h0m-4.5 2.5h0m.5 2h0m1-1.5h0m1 1.5h0m1.5 1.5h0m1-2h0m1 1h0m.5-1h0m0 .5h0m0 1h0m.5 .5h0m1.5-1h0m.5-4.5h0m0 .5h0m0 1.5h0m0 1.5h0m.5-1h0m.5 2h0m.5 0h0m1-2.5h0m.5-1.5h0m0 .5h0m0 3h0m2-.5h0m.5-3h0m0 3h0m.5-1.5h0m.5-.5h0m0 .5h0m1 0h0m0 .5h0m.5-2h0m.5 .5h0m2-1h0m0 1.5h0m1 0h0m0 3h0m1-3.5h0m0 1.5h0m.5-2h0m0 1.5h0m.5 2.5h0m1-4.5h0m.5 4h0m.5-4h0m0 2h0m.5-2h0m.5 1.5h0m0 1h0m0 .5h0m1.5 .5h0m.5-1h0m0 2.5h0m1-.5h0m.5-.5h0m1-.5h0m1.5-2h0m1-1.5h0m.5 2.5h0m0 2h0m.5 1h0m3.5-5h0m0 3.5h0m0 .5h0m1.5-4h0m1.5 6.5h0m-.5 4h0m-.5-1h0m-1-1h0m-3 1.5h0m0-1h0m0-.5h0m0-.5h0m0-.5h0m-1 1h0m0-2h0m-.5-1h0m-1 4.5h0m0-4.5h0m-.5 0h0m-.5 1h0m-.5 .5h0m-1.5 .5h0m0-1.5h0m-20 0h0m-1.5 1h0m-1.5 1.5h0m-1.5-1.5h0m-1-1h0m-.5 3h0m0-1.5h0m-.5 3h0m0-1.5h0m-.5 0h0m0-2.5h0m-.5 .5h0m-1-1h0m-.5 2.5h0m-.5 2h0m-1 0h0m-2 0h0m-2.5 3.5h0m2 3h0m4-5.5h0m0 5h0m.5 .5h0m.5-2h0m0 1h0m.5-4.5h0m0 1.5h0m.5-1.5h0m0 1h0m.5 4.5h0m.5-.5h0m.5-2h0m1-3h0m.5 0h0m26 5.5h0m1.5-5.5h0m0 1h0m.5 2.5h0m.5-.5h0m.5-2.5h0m.5 4h0m.5 1h0m.5-4.5h0m0 2h0m0 1.5h0m0 1h0m.5-2h0m1.5 7.5h0m-1-4h0m-1.5 3h0m-1 0h0m-.5 1h0m0-2.5h0m-.5 2h0m-.5-1.5h0m-.5 1.5h0m0-.5h0m-.5 .5h0m-1 .5h0m0-1h0m0-3h0m-1 4.5h0m-23.5-.5h0m-.5-.5h0m0-1h0m-.5-.5h0m-1-.5h0m0-2.5h0m-.5 5h0m0-1h0m-1 1h0m-.5 0h0m0-1.5h0m-.5-1h0m-.5 0h0m-2.5 1h0m0 5.5h0m.5-2h0m1-1h0m.5 0h0m1 0h0m4.5 2h0m0 .5h0m.5-.5h0m.5 2h0m1-.5h0m0 .5h0m1-2h0m1 1.5h0m.5 2h0m.5-.5h0m.5-.5h0m.5 .5h0m.5-2h0m0 2h0m.5-2.5h0m0 1.5h0m.5-1h0m0 2h0m.5 .5h0m2-.5h0m.5-1h0m1.5 1h0m.5-2h0m.5 2h0m.5-1.5h0m.5 1h0m.5 0h0m.5-1.5h0m0 .5h0m.5-.5h0m1.5 .5h0m1-2h0m0 2h0m.5 0h0m0 1.5h0m1-2.5h0m.5 1.5h0m.5-1h0m0 2h0m1.5-4.5h0m1 0h0m2 .5h0m1-1h0m0 3h0m.5 .5h0m2-2.5h0m-2.5 5.5h0m-3.5 1.5h0m-1.5-1h0m-2-1h0m-1.5 0h0m-1 1h0m-.5-.5h0m-2 0h0m-.5 3h0m0-2.5h0m-1.5 4h0m-.5-4h0m-1.5-.5h0m-1.5 3h0m-1-3h0m0-.5h0m-1.5 3h0m-1.5-3h0m-1 2.5h0" stroke="#5a6cff" stroke-width="1" stroke-linecap="round" fill="none" stroke-opacity="0.8"/>
<rect x="637.6" y="858.7" width="172.1" height="171.7" fill="none" stroke="#555" stroke-width="1.2"/>
<rect x="728" y="887.9" width="56.6" height="92.7" fill="none" stroke="#333" stroke-width="1.1"/>
<text x="744.4" y="873.4" font-size="7.6" text-anchor="middle" fill="#444">0.49</text>
<text x="721.8" y="840" font-size="12" text-anchor="middle" font-weight="bold" fill="#111">Active TAO</text>
<text x="633.6" y="874.9" font-size="6.8" text-anchor="end" fill="#333">10<tspan font-size="5.4" dy="-3">5</tspan></text>
<text x="633.6" y="909.3" font-size="6.8" text-anchor="end" fill="#333">10<tspan font-size="5.4" dy="-3">4</tspan></text>
<text x="633.6" y="943.5" font-size="6.8" text-anchor="end" fill="#333">10<tspan font-size="5.4" dy="-3">3</tspan></text>
<text x="633.6" y="979.5" font-size="6.8" text-anchor="end" fill="#333">10<tspan font-size="5.4" dy="-3">2</tspan></text>
<text x="633.6" y="1012.3" font-size="6.8" text-anchor="end" fill="#333">-10<tspan font-size="5.4" dy="-3">2</tspan></text>
<text x="632.6" y="995.6" font-size="6.2" text-anchor="end" fill="#333">0</text>
<text x="645.2" y="1050.7" font-size="6.2" text-anchor="middle" fill="#333">10<tspan font-size="5" dy="-3">0</tspan></text>
<text x="671.3" y="1050.7" font-size="6.2" text-anchor="middle" fill="#333">10<tspan font-size="5" dy="-3">1</tspan></text>
<text x="703" y="1050.7" font-size="6.2" text-anchor="middle" fill="#333">10<tspan font-size="5" dy="-3">2</tspan></text>
<text x="734.5" y="1050.7" font-size="6.2" text-anchor="middle" fill="#333">10<tspan font-size="5" dy="-3">3</tspan></text>
<text x="765.4" y="1050.7" font-size="6.2" text-anchor="middle" fill="#333">10<tspan font-size="5" dy="-3">4</tspan></text>
<text x="797.4" y="1050.7" font-size="6.2" text-anchor="middle" fill="#333">10<tspan font-size="5" dy="-3">5</tspan></text>
<path d="M637.6 872.4h-3M637.6 906.8h-3M637.6 941h-3M637.6 977h-3M637.6 993.3h-3M637.6 1009.8h-3M637.6 896.2h-1.6M637.6 890.1h-1.6M637.6 886h-1.6M637.6 882.6h-1.6M637.6 879.9h-1.6M637.6 877.5h-1.6M637.6 875.8h-1.6M637.6 874.1h-1.6M637.6 930.6h-1.6M637.6 924.5h-1.6M637.6 920.4h-1.6M637.6 917h-1.6M637.6 914.3h-1.6M637.6 911.9h-1.6M637.6 910.2h-1.6M637.6 908.5h-1.6M637.6 964.8h-1.6M637.6 958.7h-1.6M637.6 954.6h-1.6M637.6 951.2h-1.6M637.6 948.5h-1.6M637.6 946.1h-1.6M637.6 944.4h-1.6M637.6 942.7h-1.6M637.6 987.2h-1.6M637.6 984.5h-1.6M637.6 982.1h-1.6M637.6 980.4h-1.6M637.6 978.7h-1.6M637.6 1030.4v3.2M647.1 1030.4v1.7M652.7 1030.4v1.7M656.5 1030.4v1.7M659.6 1030.4v1.7M662.2 1030.4v1.7M664.4 1030.4v1.7M666 1030.4v1.7M667.5 1030.4v1.7M669.6 1030.4v3.2M679.1 1030.4v1.7M684.7 1030.4v1.7M688.5 1030.4v1.7M691.7 1030.4v1.7M694.2 1030.4v1.7M696.4 1030.4v1.7M698 1030.4v1.7M699.5 1030.4v1.7M701.1 1030.4v3.2M710.6 1030.4v1.7M716.2 1030.4v1.7M720 1030.4v1.7M723.2 1030.4v1.7M725.7 1030.4v1.7M727.9 1030.4v1.7M729.5 1030.4v1.7M731 1030.4v1.7M732.6 1030.4v3.2M742.1 1030.4v1.7M747.7 1030.4v1.7M751.5 1030.4v1.7M754.7 1030.4v1.7M757.2 1030.4v1.7M759.4 1030.4v1.7M761 1030.4v1.7M762.5 1030.4v1.7M764.1 1030.4v3.2M773.6 1030.4v1.7M779.2 1030.4v1.7M783 1030.4v1.7M786.2 1030.4v1.7M788.7 1030.4v1.7M790.9 1030.4v1.7M792.5 1030.4v1.7M794 1030.4v1.7M795.6 1030.4v3.2M805.1 1030.4v1.7" stroke="#333" stroke-width="0.6" fill="none"/>
<rect x="635" y="991.7" width="2.6" height="3.4" fill="#111"/>
<text x="613.6" y="944.6" font-size="8" text-anchor="middle" fill="#333" transform="rotate(-90 613.6 944.6)">Comp-APC-R700-A :: IL-10</text>
<text x="723.7" y="1064.9" font-size="8.2" text-anchor="middle" fill="#333">Comp-PerCP-Cy5-5-A :: CD19</text>
<defs><radialGradient id="rgInactiveTAO"><stop offset="0" stop-color="#ff3010" stop-opacity="1"/><stop offset="0.12" stop-color="#ff9a00" stop-opacity="1"/><stop offset="0.25" stop-color="#e8e800" stop-opacity="1"/><stop offset="0.4" stop-color="#30e040" stop-opacity="1"/><stop offset="0.58" stop-color="#10d0e0" stop-opacity="1"/><stop offset="0.75" stop-color="#2060ff" stop-opacity="1"/><stop offset="0.9" stop-color="#3050ff" stop-opacity="0.75"/><stop offset="1" stop-color="#4060ff" stop-opacity="0"/></radialGradient></defs>
<ellipse cx="981.4" cy="992.6" rx="17" ry="14.5" fill="url(#rgInactiveTAO)"/>
<path d="M940.5 918.5h0m55 3h0m-4 4.5h0m-15.5 9.5h0m20.5 6h0m-1-3.5h0m-6-1h0m-.5 3h0m-2.5-1h0m-3 1.5h0m-3-1h0m-20-1h0m-11.5-1.5h0m26.5 6.5h0m1 4h0m8-3.5h0m2 1h0m5.5-1.5h0m9 6h0m-6 2h0m-6-3h0m-2 4.5h0m-.5-5h0m-9 4.5h0m-1-3.5h0m-1 4.5h0m-3.5 0h0m-3 0h0m-4-.5h0m-7.5-.5h0m-6-4h0m-.5 2.5h0m-7.5-2.5h0m-1.5 10.5h0m4.5-5h0m5 4h0m14.5 1h0m5-4.5h0m2 4.5h0m3-3h0m6-1.5h0m7.5 4.5h0m2-1h0m1.5 1h0m12.5-3h0m-5 7h0m-13-1.5h0m-1 1.5h0m-2.5-2.5h0m0-.5h0m-4.5 4h0m0-1h0m-2 2h0m-1-4.5h0m-6.5 1h0m-1.5 4h0m-1-2h0m-3-3.5h0m-7 4.5h0m-21.5 1h0m-16-5h0m8 9h0m9-1.5h0m8 2h0m5 0h0m.5-4h0m7 2h0m6 3.5h0m2-4h0m0 3h0m4 0h0m0 1h0m1-5.5h0m6.5 5.5h0m3-1h0m1-3.5h0m0 2.5h0m1.5-1h0m2 2h0m0 1h0m1-5.5h0m2.5 .5h0m1 2.5h0m7.5 7.5h0m0-4h0m-2 0h0m-4 5h0m0-2h0m-1 2h0m0-4.5h0m-.5 4.5h0m-1.5-2.5h0m0-3h0m-1.5 1.5h0m-.5 4h0m0-2h0m-2.5 1.5h0m-.5 0h0m-2-1.5h0m0-.5h0m-.5-1h0m-.5 2.5h0m-.5-2h0m0-2h0m0-.5h0m-2 5.5h0m-.5-2.5h0m-1-2.5h0m-2.5 4h0m-1-1h0m-2.5-1.5h0m0-1h0m0-1h0m-2 4.5h0m-1-1.5h0m-1 1.5h0m-1-2h0m-2.5-.5h0m-.5 0h0m-.5-1.5h0m-1 0h0m-31.5 1h0m-5 7h0m24.5 1h0m6.5 2h0m9.5-4h0m2 1.5h0m.5 2.5h0m2-5h0m.5 .5h0m.5 0h0m0 .5h0m0 2.5h0m.5 .5h0m.5 1h0m1-1.5h0m.5-3.5h0m.5 1h0m.5-.5h0m0 3h0m.5-1.5h0m.5 0h0m1 0h0m.5 0h0m1.5-2h0m.5-.5h0m0 .5h0m1 2h0m.5 0h0m1.5-.5h0m.5-1.5h0m0 1.5h0m.5-2h0m0 1h0m.5 1.5h0m1.5-1.5h0m.5 2.5h0m.5 1h0m.5-4h0m1-.5h0m.5 2h0m.5-1h0m0 1h0m0 2.5h0m.5-1.5h0m1-.5h0m0 1.5h0m.5-1.5h0m0 1h0m.5-3h0m0 2.5h0m.5-.5h0m2 0h0m.5 1h0m0 1.5h0m.5-1h0m.5 0h0m1 1h0m1-4.5h0m.5 1.5h0m.5-1h0m1 .5h0m0 2.5h0m.5-2h0m3-1.5h0m1 6.5h0m-3 4h0m-1-1h0m0-1h0m0-1.5h0m-.5-1h0m-.5 3h0m0-1.5h0m-.5 1.5h0m0-1.5h0m0-2h0m-1 5.5h0m-.5-4h0m-.5 .5h0m0-1h0m-1 0h0m-1-1h0m-3.5 3.5h0m-11 1h0m-4 1h0m0-3.5h0m-2.5 1.5h0m-.5 0h0m-.5-2.5h0m-1.5-.5h0m-.5 0h0m-.5 3.5h0m0-.5h0m0-.5h0m0-3h0m-1 3h0m-.5-1.5h0m0-1.5h0m-.5 5h0m0-3h0m0-1h0m-.5 4h0m-.5 .5h0m0-4h0m0-1h0m-.5 4h0m0-1.5h0m0-2.5h0m0-.5h0m-.5 5.5h0m0-1h0m0-.5h0m-.5-2.5h0m-2 3h0m-.5 .5h0m-2-5h0m-55 0h0m32.5 11h0m11.5-5h0m10.5 4.5h0m.5-.5h0m1 1h0m1-3h0m.5 3h0m.5-4.5h0m.5 1h0m0 2.5h0m.5-2.5h0m0 3h0m.5-2h0m0 2h0m1 0h0m1-4.5h0m0 2.5h0m0 .5h0m1 1h0m7-3h0m3 .5h0m5.5 4h0m1-5.5h0m11.5 .5h0m0 .5h0m1 1.5h0m0 .5h0m0 1.5h0m1.5-3.5h0m.5 0h0m0 2h0m0 .5h0m1-3h0m1 4h0m.5-3.5h0m.5-.5h0m1 0h0m1 5h0m1 5.5h0m-1 0h0m-1-1.5h0m-3-1.5h0m-.5 1h0m0-1.5h0m0-1h0m-.5 4.5h0m-1 .5h0m-1-1.5h0m-.5 .5h0m0-1.5h0m0-2.5h0m-.5 2.5h0m-.5 2.5h0m0-2.5h0m-4.5 2.5h0m-5.5-1.5h0m-10.5 1.5h0m-2.5 0h0m0-.5h0m-.5-1.5h0m-.5-2.5h0m-.5 4h0m-.5-3h0m-1 0h0m-.5 3.5h0m0-4.5h0m0-1h0m-1 1.5h0m-.5 2.5h0m-.5-1h0m-.5-.5h0m-2.5-1.5h0m0-.5h0m0-.5h0m-1 1.5h0m-3.5 1h0m-16.5 .5h0m-33-.5h0m21 8.5h0m15-2h0m2-1h0m.5-1.5h0m17-.5h0m2 .5h0m.5-.5h0m1 1h0m.5-1h0m0 3.5h0m.5-3h0m0 1h0m.5 0h0m0 2h0m1-2h0m0 2h0m.5 .5h0m0 1.5h0m1.5-4h0m0 1.5h0m0 1.5h0m.5-1.5h0m1.5 1h0m.5 0h0m.5-1h0m0 .5h0m.5 2h0m.5-2h0m0 .5h0m0 1h0m.5-3h0m1 3h0m.5-2h0m.5-1.5h0m0 2.5h0m1 1.5h0m.5-.5h0m2.5-.5h0m.5 .5h0m.5-4.5h0m0 5h0m.5-1.5h0m0 1h0m.5-1h0m.5 1.5h0m.5-4h0m0 4h0m.5-2.5h0m0 .5h0m.5 .5h0m1 1h0m.5-4h0m.5 0h0m0 2h0m0 2.5h0m.5-3h0m.5 .5h0m.5 2.5h0m.5-4.5h0m.5 .5h0m.5 2h0m.5-1h0m.5 2h0m.5-2.5h0m1-2h0m1 5h0m1.5-5h0m0 5h0m2-4h0m.5-1h0m3.5 .5h0m-10.5 6h0m0-.5h0m-3 5.5h0m-1.5-5.5h0m-1 4.5h0m0-3h0m-5-.5h0m0-1h0m-1 .5h0m-1.5 1h0m-2 .5h0m-1-1h0m-1 2.5h0m-.5-1.5h0m-1.5 0h0m-.5 0h0m-6-1.5h0m-.5 3.5h0m-6-1.5h0m0-2h0m-14.5 3.5h0m-7.5-.5h0m-7.5 1.5h0m-8.5-4.5h0m53.5 11h0m10 5.5h0m-8.5-1h0m-8.5-4h0m-31 0h0m-23.5 0h0m57.5 7h0" stroke="#5a6cff" stroke-width="1" stroke-linecap="round" fill="none" stroke-opacity="0.8"/>
<rect x="861.2" y="858" width="172.4" height="171.7" fill="none" stroke="#555" stroke-width="1.2"/>
<rect x="951.2" y="887.2" width="56.6" height="93.4" fill="none" stroke="#333" stroke-width="1.1"/>
<text x="982.8" y="873" font-size="7.6" text-anchor="middle" fill="#444">0.96</text>
<text x="939.2" y="840" font-size="12" text-anchor="middle" font-weight="bold" fill="#111">Inactive TAO</text>
<text x="857.2" y="874.2" font-size="6.8" text-anchor="end" fill="#333">10<tspan font-size="5.4" dy="-3">5</tspan></text>
<text x="857.2" y="908.6" font-size="6.8" text-anchor="end" fill="#333">10<tspan font-size="5.4" dy="-3">4</tspan></text>
<text x="857.2" y="942.8" font-size="6.8" text-anchor="end" fill="#333">10<tspan font-size="5.4" dy="-3">3</tspan></text>
<text x="857.2" y="978.8" font-size="6.8" text-anchor="end" fill="#333">10<tspan font-size="5.4" dy="-3">2</tspan></text>
<text x="857.2" y="1011.6" font-size="6.8" text-anchor="end" fill="#333">-10<tspan font-size="5.4" dy="-3">2</tspan></text>
<text x="856.2" y="994.9" font-size="6.2" text-anchor="end" fill="#333">0</text>
<text x="868.8" y="1050" font-size="6.2" text-anchor="middle" fill="#333">10<tspan font-size="5" dy="-3">0</tspan></text>
<text x="895" y="1050" font-size="6.2" text-anchor="middle" fill="#333">10<tspan font-size="5" dy="-3">1</tspan></text>
<text x="926.7" y="1050" font-size="6.2" text-anchor="middle" fill="#333">10<tspan font-size="5" dy="-3">2</tspan></text>
<text x="958.3" y="1050" font-size="6.2" text-anchor="middle" fill="#333">10<tspan font-size="5" dy="-3">3</tspan></text>
<text x="989.2" y="1050" font-size="6.2" text-anchor="middle" fill="#333">10<tspan font-size="5" dy="-3">4</tspan></text>
<text x="1021.3" y="1050" font-size="6.2" text-anchor="middle" fill="#333">10<tspan font-size="5" dy="-3">5</tspan></text>
<path d="M861.2 871.7h-3M861.2 906.1h-3M861.2 940.3h-3M861.2 976.3h-3M861.2 992.6h-3M861.2 1009.1h-3M861.2 895.5h-1.6M861.2 889.4h-1.6M861.2 885.3h-1.6M861.2 881.9h-1.6M861.2 879.2h-1.6M861.2 876.8h-1.6M861.2 875.1h-1.6M861.2 873.4h-1.6M861.2 929.9h-1.6M861.2 923.8h-1.6M861.2 919.7h-1.6M861.2 916.3h-1.6M861.2 913.6h-1.6M861.2 911.2h-1.6M861.2 909.5h-1.6M861.2 907.8h-1.6M861.2 964.1h-1.6M861.2 958h-1.6M861.2 953.9h-1.6M861.2 950.5h-1.6M861.2 947.8h-1.6M861.2 945.4h-1.6M861.2 943.7h-1.6M861.2 942h-1.6M861.2 986.5h-1.6M861.2 983.8h-1.6M861.2 981.4h-1.6M861.2 979.7h-1.6M861.2 978h-1.6M861.2 1029.7v3.2M870.7 1029.7v1.7M876.3 1029.7v1.7M880.1 1029.7v1.7M883.3 1029.7v1.7M885.8 1029.7v1.7M888 1029.7v1.7M889.6 1029.7v1.7M891.2 1029.7v1.7M893.3 1029.7v3.2M902.7 1029.7v1.7M908.4 1029.7v1.7M912.2 1029.7v1.7M915.3 1029.7v1.7M917.9 1029.7v1.7M920.1 1029.7v1.7M921.7 1029.7v1.7M923.2 1029.7v1.7M924.8 1029.7v3.2M934.3 1029.7v1.7M940 1029.7v1.7M943.7 1029.7v1.7M946.9 1029.7v1.7M949.4 1029.7v1.7M951.6 1029.7v1.7M953.2 1029.7v1.7M954.8 1029.7v1.7M956.4 1029.7v3.2M965.8 1029.7v1.7M971.5 1029.7v1.7M975.3 1029.7v1.7M978.5 1029.7v1.7M981 1029.7v1.7M983.2 1029.7v1.7M984.8 1029.7v1.7M986.3 1029.7v1.7M987.9 1029.7v3.2M997.4 1029.7v1.7M1003.1 1029.7v1.7M1006.9 1029.7v1.7M1010 1029.7v1.7M1012.5 1029.7v1.7M1014.7 1029.7v1.7M1016.3 1029.7v1.7M1017.9 1029.7v1.7M1019.5 1029.7v3.2M1028.9 1029.7v1.7" stroke="#333" stroke-width="0.6" fill="none"/>
<rect x="858.6" y="991" width="2.6" height="3.4" fill="#111"/>
<text x="837.2" y="943.9" font-size="8" text-anchor="middle" fill="#333" transform="rotate(-90 837.2 943.9)">Comp-APC-R700-A :: IL-10</text>
<text x="947.4" y="1064.2" font-size="8.2" text-anchor="middle" fill="#333">Comp-PerCP-Cy5-5-A :: CD19</text>
<defs><radialGradient id="rgNC"><stop offset="0" stop-color="#b0e030" stop-opacity="1"/><stop offset="0.15" stop-color="#40e060" stop-opacity="1"/><stop offset="0.4" stop-color="#20d0d8" stop-opacity="1"/><stop offset="0.65" stop-color="#3070ff" stop-opacity="0.95"/><stop offset="0.85" stop-color="#4060ff" stop-opacity="0.6"/><stop offset="1" stop-color="#4060ff" stop-opacity="0"/></radialGradient></defs>
<ellipse cx="1204.7" cy="991.5" rx="15" ry="12.5" fill="url(#rgNC)"/>
<path d="M1196.5 949.5h0m10.5 2.5h0m9.5 3h0m-6 6.5h0m11 2.5h0m-11 4.5h0m-6.5 2.5h0m-15.5 6h0m10.5 .5h0m1-2h0m4 .5h0m3.5 1h0m6-1.5h0m6 1h0m2-1h0m-1.5 7.5h0m-5 0h0m0-1.5h0m-.5 1.5h0m0-1h0m-.5-.5h0m-1 1h0m-1 .5h0m0-1h0m-.5-2.5h0m-1 2h0m-.5-2h0m-.5-1h0m-1.5 2h0m-.5 0h0m-2-1.5h0m-1.5-.5h0m-.5-.5h0m-2.5 4.5h0m-.5-3h0m-.5 0h0m-.5-.5h0m-1 .5h0m-.5-.5h0m-1.5 2h0m0-2h0m-1 1.5h0m-2 1.5h0m0-3h0m-.5 3h0m-1-3h0m-2 3h0m-4.5 7h0m2.5-1.5h0m2.5-3.5h0m.5 5.5h0m1-.5h0m.5-5h0m.5 1h0m1 0h0m.5 1.5h0m21-2h0m.5 0h0m.5 0h0m.5 .5h0m.5 0h0m1 4h0m.5-2.5h0m.5-1.5h0m0 .5h0m.5 0h0m1 1.5h0m2 .5h0m.5-2.5h0m-2.5 8.5h0m0-2h0m-.5 2h0m-.5 .5h0m-.5-3.5h0m-.5 3h0m-1.5 0h0m0-2h0m-.5-1.5h0m-1 0h0m-24 4h0m-.5-2.5h0m-.5 2.5h0m0-.5h0m0-3.5h0m-.5 3h0m-1 1h0m0-3h0m-.5 2.5h0m0-2.5h0m-1 4.5h0m-2.5 1.5h0m0 .5h0m3-1h0m.5 0h0m.5 0h0m.5 2h0m0 1h0m1-2.5h0m2 4h0m1-3h0m.5 1.5h0m3 .5h0m0 .5h0m.5-.5h0m14 .5h0m1 1h0m2-3.5h0m0 2h0m1 1.5h0m.5-4h0m.5-1.5h0m.5 4.5h0m.5-2.5h0m0 1h0m.5-.5h0m.5 .5h0m.5-1h0m0 1h0m1 2.5h0m2-2.5h0m.5-2h0m1-.5h0m1.5 5h0m-5 1h0m-2 1h0m-.5-1h0m-2 0h0m-1.5 .5h0m0-1h0m-.5 2.5h0m-1-2.5h0m-2 0h0m-.5 4.5h0m-.5-4h0m0-.5h0m-1 2h0m-.5-1h0m-1.5-.5h0m-.5 2h0m-1-.5h0m-.5 1.5h0m0-1h0m-1 1h0m-1.5-.5h0m-.5-1.5h0m-.5 0h0m-1 2.5h0m0-2.5h0m-2 2.5h0m0-1.5h0m-1 0h0m-.5-2h0m-.5 4.5h0m0-5h0m-1 1.5h0m0-.5h0m-1 0h0m-2-1h0m-3 2.5h0m-1-2h0m9 6h0" stroke="#5a6cff" stroke-width="1" stroke-linecap="round" fill="none" stroke-opacity="0.8"/>
<rect x="1085.2" y="855.8" width="174.7" height="174.4" fill="none" stroke="#aaa" stroke-width="1.2"/>
<rect x="1176.6" y="884.9" width="57.3" height="94.3" fill="none" stroke="#333" stroke-width="1.1"/>
<text x="1193.5" y="871.6" font-size="7.6" text-anchor="middle" fill="#444">1.46</text>
<text x="1154.8" y="840" font-size="12" text-anchor="middle" font-weight="bold" fill="#111">NC</text>
<text x="1081.2" y="872.2" font-size="6.8" text-anchor="end" fill="#333">10<tspan font-size="5.4" dy="-3">5</tspan></text>
<text x="1081.2" y="907.2" font-size="6.8" text-anchor="end" fill="#333">10<tspan font-size="5.4" dy="-3">4</tspan></text>
<text x="1081.2" y="941.9" font-size="6.8" text-anchor="end" fill="#333">10<tspan font-size="5.4" dy="-3">3</tspan></text>
<text x="1081.2" y="978.5" font-size="6.8" text-anchor="end" fill="#333">10<tspan font-size="5.4" dy="-3">2</tspan></text>
<text x="1081.2" y="1011.8" font-size="6.8" text-anchor="end" fill="#333">-10<tspan font-size="5.4" dy="-3">2</tspan></text>
<text x="1080.2" y="994.8" font-size="6.2" text-anchor="end" fill="#333">0</text>
<text x="1092.9" y="1050.5" font-size="6.2" text-anchor="middle" fill="#333">10<tspan font-size="5" dy="-3">0</tspan></text>
<text x="1119.4" y="1050.5" font-size="6.2" text-anchor="middle" fill="#333">10<tspan font-size="5" dy="-3">1</tspan></text>
<text x="1151.6" y="1050.5" font-size="6.2" text-anchor="middle" fill="#333">10<tspan font-size="5" dy="-3">2</tspan></text>
<text x="1183.6" y="1050.5" font-size="6.2" text-anchor="middle" fill="#333">10<tspan font-size="5" dy="-3">3</tspan></text>
<text x="1214.9" y="1050.5" font-size="6.2" text-anchor="middle" fill="#333">10<tspan font-size="5" dy="-3">4</tspan></text>
<text x="1247.4" y="1050.5" font-size="6.2" text-anchor="middle" fill="#333">10<tspan font-size="5" dy="-3">5</tspan></text>
<path d="M1085.2 869.7h-3M1085.2 904.7h-3M1085.2 939.4h-3M1085.2 976h-3M1085.2 992.5h-3M1085.2 1009.3h-3M1085.2 893.9h-1.6M1085.2 887.7h-1.6M1085.2 883.5h-1.6M1085.2 880.1h-1.6M1085.2 877.3h-1.6M1085.2 874.9h-1.6M1085.2 873.2h-1.6M1085.2 871.4h-1.6M1085.2 928.8h-1.6M1085.2 922.6h-1.6M1085.2 918.5h-1.6M1085.2 915h-1.6M1085.2 912.3h-1.6M1085.2 909.8h-1.6M1085.2 908.1h-1.6M1085.2 906.4h-1.6M1085.2 963.6h-1.6M1085.2 957.4h-1.6M1085.2 953.2h-1.6M1085.2 949.8h-1.6M1085.2 947h-1.6M1085.2 944.6h-1.6M1085.2 942.8h-1.6M1085.2 941.1h-1.6M1085.2 986.3h-1.6M1085.2 983.6h-1.6M1085.2 981.1h-1.6M1085.2 979.4h-1.6M1085.2 977.7h-1.6M1085.2 1030.2v3.2M1094.8 1030.2v1.7M1100.5 1030.2v1.7M1104.4 1030.2v1.7M1107.6 1030.2v1.7M1110.1 1030.2v1.7M1112.4 1030.2v1.7M1114 1030.2v1.7M1115.6 1030.2v1.7M1117.7 1030.2v3.2M1127.3 1030.2v1.7M1133 1030.2v1.7M1136.9 1030.2v1.7M1140.1 1030.2v1.7M1142.6 1030.2v1.7M1144.9 1030.2v1.7M1146.5 1030.2v1.7M1148.1 1030.2v1.7M1149.7 1030.2v3.2M1159.3 1030.2v1.7M1165 1030.2v1.7M1168.8 1030.2v1.7M1172 1030.2v1.7M1174.6 1030.2v1.7M1176.8 1030.2v1.7M1178.4 1030.2v1.7M1180 1030.2v1.7M1181.6 1030.2v3.2M1191.2 1030.2v1.7M1197 1030.2v1.7M1200.8 1030.2v1.7M1204 1030.2v1.7M1206.6 1030.2v1.7M1208.8 1030.2v1.7M1210.4 1030.2v1.7M1212 1030.2v1.7M1213.6 1030.2v3.2M1223.2 1030.2v1.7M1229 1030.2v1.7M1232.8 1030.2v1.7M1236 1030.2v1.7M1238.6 1030.2v1.7M1240.8 1030.2v1.7M1242.4 1030.2v1.7M1244 1030.2v1.7M1245.6 1030.2v3.2M1255.2 1030.2v1.7" stroke="#333" stroke-width="0.6" fill="none"/>
<rect x="1082.6" y="990.9" width="2.6" height="3.4" fill="#111"/>
<text x="1061.2" y="943" font-size="8" text-anchor="middle" fill="#333" transform="rotate(-90 1061.2 943)">Comp-APC-R700-A :: IL-10</text>
<text x="1172.6" y="1064.7" font-size="8.2" text-anchor="middle" fill="#333">Comp-PerCP-Cy5-5-A :: CD19</text>
<path d="M1341.8 876V1014H1479" stroke="#111" stroke-width="1.4" fill="none"/>
<path d="M1341.8 1014h-4.5M1341.8 986.4h-4.5M1341.8 958.8h-4.5M1341.8 931.3h-4.5M1341.8 903.7h-4.5M1341.8 876.1h-4.5M1368.9 1014v5M1409.4 1014v5M1450.8 1014v5" stroke="#111" stroke-width="1.4" fill="none"/>
<text x="1335.5" y="1017.3" font-size="9.3" text-anchor="end" font-weight="bold" fill="#111">0.0</text>
<text x="1335.5" y="989.7" font-size="9.3" text-anchor="end" font-weight="bold" fill="#111">0.5</text>
<text x="1335.5" y="962.1" font-size="9.3" text-anchor="end" font-weight="bold" fill="#111">1.0</text>
<text x="1335.5" y="934.6" font-size="9.3" text-anchor="end" font-weight="bold" fill="#111">1.5</text>
<text x="1335.5" y="907" font-size="9.3" text-anchor="end" font-weight="bold" fill="#111">2.0</text>
<text x="1335.5" y="879.4" font-size="9.3" text-anchor="end" font-weight="bold" fill="#111">2.5</text>
<text x="1314" y="945" font-size="11.3" text-anchor="middle" font-weight="bold" fill="#111" transform="rotate(-90 1314 945)">proportion of CD19<tspan font-size="7" dy="-4">+</tspan><tspan dy="4">IL-10</tspan><tspan font-size="7" dy="-4">+</tspan><tspan dy="4"> B cells</tspan></text>
<circle cx="1358.4" cy="962.1" r="3" fill="#111"/>
<circle cx="1368.9" cy="966" r="3" fill="#111"/>
<circle cx="1379.8" cy="961.6" r="3" fill="#111"/>
<circle cx="1368.9" cy="975.4" r="3" fill="#111"/>
<circle cx="1379.8" cy="981.5" r="3" fill="#111"/>
<circle cx="1358.4" cy="987" r="3" fill="#111"/>
<rect x="1407.5" y="895.3" width="5.8" height="5.8" fill="#111"/>
<rect x="1407.5" y="922.3" width="5.8" height="5.8" fill="#111"/>
<rect x="1407.5" y="931.1" width="5.8" height="5.8" fill="#111"/>
<rect x="1407.5" y="938.8" width="5.8" height="5.8" fill="#111"/>
<rect x="1412.8" y="944.4" width="5.8" height="5.8" fill="#111"/>
<rect x="1407.5" y="947.1" width="5.8" height="5.8" fill="#111"/>
<rect x="1402.2" y="955.9" width="5.8" height="5.8" fill="#111"/>
<rect x="1407.5" y="957.6" width="5.8" height="5.8" fill="#111"/>
<rect x="1412.8" y="955.9" width="5.8" height="5.8" fill="#111"/>
<rect x="1418.1" y="957.6" width="5.8" height="5.8" fill="#111"/>
<rect x="1396.3" y="966.4" width="5.8" height="5.8" fill="#111"/>
<rect x="1402.2" y="962" width="5.8" height="5.8" fill="#111"/>
<rect x="1407.5" y="964.2" width="5.8" height="5.8" fill="#111"/>
<rect x="1412.8" y="962" width="5.8" height="5.8" fill="#111"/>
<rect x="1407.5" y="968.1" width="5.8" height="5.8" fill="#111"/>
<rect x="1418.1" y="968.6" width="5.8" height="5.8" fill="#111"/>
<rect x="1412.8" y="966.4" width="5.8" height="5.8" fill="#111"/>
<path d="M1440.3 903.9l3.4 6h-6.8z" fill="#111"/>
<path d="M1450.8 908.9l3.4 6h-6.8z" fill="#111"/>
<path d="M1462.1 903.9l3.4 6h-6.8z" fill="#111"/>
<path d="M1450.8 929.3l3.4 6h-6.8z" fill="#111"/>
<path d="M1440.3 935.9l3.4 6h-6.8z" fill="#111"/>
<path d="M1450.8 944.8l3.4 6h-6.8z" fill="#111"/>
<path d="M1450.8 958.5l3.4 6h-6.8z" fill="#111"/>
<path d="M1462.1 961.3l3.4 6h-6.8z" fill="#111"/>
<path d="M1440.3 966.3l3.4 6h-6.8z" fill="#111"/>
<path d="M1355.9 972.6H1382.3M1396.3 958.8H1423.4M1437.8 939H1464.9" stroke="#111" stroke-width="1.3" fill="none"/>
<path d="M1368.9 866.5V871.6H1449.8V866.5M1368.9 884.5V890.2H1409.4V884.5" stroke="#111" stroke-width="1.1" fill="none"/>
<text x="1407.6" y="872" font-size="10" text-anchor="middle" fill="#111">*</text>
<text x="1389.3" y="890" font-size="10" text-anchor="middle" fill="#111">*</text>
<text x="1371" y="1028" font-size="10.7" font-weight="bold" text-anchor="end" fill="#111" transform="rotate(-28 1371 1028)">Active TAO</text>
<text x="1412" y="1028" font-size="10.7" font-weight="bold" text-anchor="end" fill="#111" transform="rotate(-28 1412 1028)">Inactive TAO</text>
<text x="1453" y="1028" font-size="10.7" font-weight="bold" text-anchor="end" fill="#111" transform="rotate(-28 1453 1028)">NC</text>
</g>
<g id="panelF">
<text x="80" y="1160" font-size="34" font-weight="bold">F</text>
<path d="M253.5 1229.4L307.1 1299.9L274.1 1323.7L268.3 1333.8L255.2 1343.3L238.7 1354.5L222.2 1364.3L205.7 1372.5L189.2 1379.1L174.4 1383M307.1 1299.9L359.9 1311L379.4 1317L420.7 1325.3L461.7 1331.5L497.7 1336.7L522 1337.7" stroke="#111" stroke-width="1.3" fill="none"/>
<path d="M161.2 1381.5C163.4 1381.8 169.7 1383.4 174.4 1383C179.1 1382.6 184 1380.8 189.2 1379.1C194.4 1377.3 200.2 1375 205.7 1372.5C211.2 1370.1 216.7 1367.3 222.2 1364.3C227.7 1361.3 233.2 1358 238.7 1354.5C244.2 1351 250.2 1346.8 255.2 1343.3C260.1 1339.9 263.8 1336.7 268.3 1333.8C272.9 1330.9 280 1327.4 282.4 1326.1" stroke="#00b0f6" stroke-width="7.5" stroke-linecap="round" stroke-linejoin="round" fill="none"/>
<path d="M379.4 1317C386.3 1318.3 406.9 1322.9 420.7 1325.3C434.4 1327.8 448.9 1329.6 461.7 1331.5C474.6 1333.4 487.7 1335.7 497.7 1336.7C507.7 1337.7 517.9 1337.5 522 1337.7" stroke="#00bf7d" stroke-width="5.5" stroke-linecap="round" stroke-linejoin="round" fill="none"/>
<path d="M304 1311h0m53 1h0m-45 4h0m-1-2h0m-3 2h0m-1 3h0m-1-3h0m-4 1h0m-4 1h0m0-1h0m0-1h0m-8 2h0m-15 7h0m9-2h0m3 0h0m2-1h0m1 3h0m2 0h0m6-3h0m2-1h0m2-1h0m3 0h0m0 1h0m83 0h0m26 3h0m23 1h0m12 3h0m-2 1h0m-8 2h0m-143-3h0m-4 2h0m-1-2h0m-3 0h0m-4 3h0m-2 0h0m0-3h0m0-1h0m-4 1h0m-1 1h0m-1 0h0m0-3h0m-1 5h0m-2-2h0m-1 1h0m0-1h0m-3 1h0m-1 0h0m-5 2h0m1 5h0m1-1h0m1-3h0m0 2h0m1 0h0m0 1h0m0 1h0m1-4h0m0 1h0m0 1h0m0 2h0m1-4h0m1-1h0m3 1h0m1 0h0m1 3h0m2-2h0m167-2h0m-181 6h0m-1 2h0m-1 3h0m-1-4h0m-2 3h0m0-1h0m0-1h0m-1 1h0m0-2h0m-1 4h0m0-3h0m0-1h0m-5 1h0m-2 3h0m-8 2h0m4 3h0m1 0h0m1-3h0m0 2h0m1-2h0m0 2h0m1-2h0m0 1h0m0 1h0m0 2h0m1-5h0m1 3h0m1-1h0m0 2h0m1-1h0m1-3h0m1 5h0m1-4h0m0 1h0m1-2h0m0 1h0m2-1h0m5 1h0m246 0h0m-261 5h0m-6 3h0m0-1h0m0-1h0m-1 4h0m0-2h0m0-1h0m0-1h0m0-1h0m-1 4h0m-2 0h0m0-2h0m0-1h0m-3 4h0m-2 0h0m0-1h0m-4 1h0m0-1h0m-14 7h0m1 0h0m2 0h0m7-2h0m4 0h0m0 1h0m0 1h0m1-2h0m1 1h0m1-4h0m1 1h0m1-1h0m2 2h0m0 2h0m0 1h0m1-4h0m0 1h0m1-1h0m1 0h0m-8 6h0m-2-1h0m-2 2h0m-1 1h0m-1 2h0m-1-2h0m0-1h0m-1 3h0m0-3h0m0-2h0m-1 1h0m-2 0h0m-1 3h0m-1 0h0m0-1h0m-1 1h0m-1-3h0m-2 1h0m-1 2h0m-1 1h0m-1 0h0m-2-1h0m0-2h0m-3 3h0m-7 0h0m-42 5h0m39-3h0m1 4h0m1-3h0m1 2h0m0 1h0m1-3h0m1 0h0m0 3h0m1-2h0m1 2h0m1 0h0m2-2h0m1-2h0m0 4h0m1-3h0m0 1h0m3-2h0m0 1h0m1-1h0m1-1h0m0 3h0m0 1h0m1-1h0m5-2h0m1 1h0m5-2h0m4 1h0m-21 9h0m0-1h0m-3 1h0m0-2h0m-2 0h0m-1 2h0m0-2h0m0-1h0m-1 0h0m0-1h0m-1 2h0m0-1h0m-1 2h0m0-2h0m-2 0h0m0-1h0m-1 2h0m-1 2h0m0-2h0m-1 2h0m0-3h0m-1 2h0m0-1h0m-1 1h0m-1-1h0m-2-1h0m-1 4h0m-3 0h0m-1-1h0m-1 0h0m-1-1h0m-1 1h0m-1 1h0m-1 0h0m-4-2h0m-2 2h0m-6-2h0m-2 1h0m0-2h0m-1 3h0m-2-1h0m0-4h0m-1 5h0m-2 0h0m0-3h0m-1 2h0m0-1h0m-1-1h0m-1 2h0m-1-1h0m-2 0h0m-3 0h0m-1 1h0m-1-1h0m-1 5h0m3-2h0m1 0h0m1 1h0m2 0h0m2 0h0m0 2h0m1-3h0m1 1h0m1 0h0m1 1h0m2-2h0m1 0h0m0 1h0m2-1h0m0 5h0m2-4h0m0 4h0m1-4h0m0 2h0m0 2h0m1-5h0m0 3h0m1 0h0m1-1h0m0 1h0m0 1h0m0 1h0m1-5h0m0 2h0m0 3h0m2-5h0m0 2h0m0 2h0m1-3h0m0 1h0m0 1h0m0 2h0m1-5h0m0 1h0m1 0h0m0 2h0m1-2h0m0 3h0m1-1h0m0 1h0m1-3h0m0 2h0m0 1h0m1-1h0m0 2h0m1-4h0m0 1h0m1-1h0m0 1h0m1-2h0m0 1h0m3-1h0m0 1h0m0 2h0m1-3h0m4 3h0m1-2h0m1-1h0m2 0h0m0 2h0m2-2h0m-15 9h0m-7-2h0m-9-1h0m-1 0h0" stroke="#00b0f6" stroke-width="4.3" stroke-linecap="round" fill="none"/>
<path d="M331 1306h0m2-2h0m6 2h0m3 1h0m20 0h0m13 6h0m-1-1h0m-4 1h0m-5-1h0m0-1h0m-5-2h0m-2 2h0m-1 0h0m0-1h0m-1 3h0m0-3h0m-7 1h0m-1-1h0m-1 0h0m-42 2h0m-19 5h0m10 2h0m1 0h0m1-3h0m4 3h0m1-5h0m0 3h0m0 1h0m1 1h0m1-4h0m0 1h0m2 3h0m1-2h0m2-1h0m1 1h0m1-3h0m0 1h0m0 4h0m1-2h0m1 1h0m47-4h0m1 4h0m1-4h0m1 3h0m2-3h0m2 0h0m1 1h0m0 1h0m3-2h0m0 2h0m0 2h0m2-3h0m0 2h0m2-1h0m2 2h0m1-2h0m0 3h0m3-2h0m3-1h0m0 2h0m1 0h0m0 1h0m2 0h0m1 0h0m1 0h0m2-5h0m0 4h0m5 1h0m4-2h0m0 2h0m2 0h0m36 6h0m-10 0h0m-1 0h0m-4 0h0m0-1h0m0-1h0m-2 2h0m-1-3h0m-1 2h0m-1-3h0m-3 2h0m-2-1h0m-1 1h0m0-2h0m-1 1h0m-1 3h0m0-1h0m0-3h0m0-1h0m-1 3h0m0-1h0m-1 0h0m-1 1h0m0-2h0m-1 2h0m-1-1h0m-3-2h0m-1 2h0m0-1h0m-3 0h0m-1 4h0m-1 0h0m0-3h0m-2 0h0m-3 0h0m-1-2h0m-3 1h0m-85 2h0m0-1h0m0-1h0m0-1h0m-1 0h0m-4 5h0m0-2h0m0-3h0m-2 1h0m-1 4h0m-1-4h0m-2 2h0m-1 2h0m0-4h0m-1 1h0m-6 2h0m-1-4h0m-18 11h0m8-3h0m3-2h0m5 0h0m3 0h0m3 1h0m1 0h0m1-1h0m1 2h0m1-1h0m117-1h0m3 1h0m8-1h0m2 1h0m2 0h0m0 1h0m2-2h0m1 2h0m0 1h0m1-2h0m1 0h0m1 2h0m0 2h0m1-4h0m1-1h0m0 2h0m1 1h0m1-3h0m1 2h0m4-1h0m0 2h0m0 2h0m2-4h0m1 2h0m1-3h0m0 5h0m1-4h0m1 0h0m2 2h0m0 1h0m3 1h0m1 0h0m1-4h0m0 2h0m1-1h0m2 1h0m3 1h0m0 1h0m1 0h0m2-1h0m2 0h0m3 1h0m1-1h0m8 0h0m2 1h0m48 6h0m-3 0h0m0-1h0m-2-2h0m-1 3h0m0-2h0m-1 2h0m0-3h0m-2 2h0m0-1h0m-1 0h0m-1 2h0m-1-1h0m0-1h0m-1 2h0m0-1h0m0-1h0m-1 1h0m0-2h0m-1 1h0m-1 2h0m0-3h0m0-2h0m-1 3h0m-7 2h0m-1 0h0m-1 0h0m-2-2h0m-2 1h0m-1-2h0m-1 3h0m0-1h0m-1 1h0m-3-2h0m-2 0h0m0-1h0m-1 1h0m0-3h0m-1 5h0m0-4h0m-1 3h0m-1-4h0m-2 2h0m0-1h0m-2 2h0m-1 1h0m-1 0h0m-6-4h0m-3 3h0m0-1h0m-5 0h0m-4-1h0m-3 0h0m-4-1h0m-3 1h0m-160-1h0m-16 5h0m0-3h0m-2 2h0m-20 7h0m6-2h0m7 0h0m8-2h0m213 1h0m7-1h0m3 0h0m1-1h0m4 1h0m1-1h0m0 1h0m2-1h0m0 2h0m1 0h0m1-2h0m0 2h0m0 1h0m1-3h0m0 1h0m4 0h0m1 1h0m1 0h0m1-2h0m1 0h0m0 1h0m0 1h0m1-2h0m0 2h0m1-2h0m2 0h0m0 2h0m0 1h0m0 1h0m1-1h0m1-3h0m0 2h0m1-1h0m5-1h0m3 2h0m1-2h0m0 1h0m-11 6h0m-6 3h0m-255-4h0m-1 1h0m-5 4h0m-4 0h0m-2 2h0m1 0h0m1 0h0" stroke="#00bf7d" stroke-width="4.3" stroke-linecap="round" fill="none"/>
<path d="M298 1312h0m11 3h0m-22 8h0m-10 7h0m-1-3h0m-2 4h0m-7 5h0m6-1h0m-9 4h0m-5 1h0m-1 3h0m-8 5h0m-9 2h0m-6 8h0m1-1h0m-9 7h0m-10 2h0m-4 0h0m-54 7h0m44-3h0m-7 5h0m-3 2h0m-10 1h0m-3 1h0m-11 0h0m-1 0h0m-1 0h0m-1-1h0m-3-1h0m-1 1h0m0-2h0m-1 3h0m0-3h0m0-1h0m-1 2h0m-1 1h0m0-1h0m0-1h0m-1-1h0m0-1h0m-1 5h0m-1-1h0m-1 0h0m-3-1h0m-1 1h0m-1-1h0m-1 0h0m2 5h0m5-2h0m1 1h0m0 1h0m1 0h0m1 0h0m1-2h0m2 1h0m0 1h0m1-1h0m1 4h0m1-5h0m0 1h0m2-1h0m0 3h0m1-2h0m6-1h0m6 3h0m3-3h0m16 4h0m-19 2h0" stroke="#a3a500" stroke-width="4.3" stroke-linecap="round" fill="none"/>
<path d="M190 1191h0m5 0h0m37 8h0m-2-1h0m-24 1h0m-4 1h0m1 4h0m3-1h0m5 1h0m1-1h0m1-3h0m0 4h0m0 1h0m2-1h0m1-2h0m0 1h0m4 0h0m0 2h0m1-2h0m2-3h0m1 3h0m12-3h0m1 4h0m3-2h0m4 9h0m-3-2h0m0-2h0m-2 3h0m-1 1h0m0-3h0m-4-2h0m-1 3h0m-2 1h0m0-2h0m0-1h0m-3 3h0m-1-1h0m-5-2h0m-1 3h0m0-1h0m0-2h0m-2-1h0m-8 2h0m-2 1h0m-2 0h0m-1 0h0m-1 0h0m4 6h0m13-2h0m1-1h0m4 1h0m3 4h0m1-1h0m3-3h0m1-1h0m4 1h0m0 4h0m1 0h0m6 0h0m1 0h0m2-5h0m1 4h0m0 1h0m2-2h0m1 0h0m1-1h0m5 7h0m-3-1h0m-1-1h0m-1 4h0m0-4h0m-2 1h0m-1-2h0m-2 2h0m-1 3h0m-8-5h0m-1 0h0m-1 5h0m0-1h0m-3-1h0m1 6h0m7-1h0m2-1h0m8 4h0m-2 3h0m17 9h0m23 14h0m0 18h0m3 3h0m-56 25h0m-6-2h0m-1 2h0m-1 0h0m-1-1h0m-1 1h0m0 5h0m1-2h0m2 3h0m1-3h0m0 2h0m1-3h0m0 3h0m3-4h0m0 1h0m0 3h0m2 0h0m0 1h0m1-5h0m0 1h0m0 1h0m2 3h0m1-3h0m1 2h0m1 1h0m1-1h0m8-1h0m16 6h0m-10 1h0m-2 0h0m-4 1h0m-1-2h0m0-3h0m-1 5h0m-1 0h0m0-2h0m-1 1h0m-2 0h0m-1-1h0m-1-1h0m-1 3h0m-1 0h0m0-3h0m0-1h0m-1-1h0m-3 3h0m0-3h0m-4 0h0m-1 3h0m0-2h0m-1-1h0m-2 0h0m15 7h0m2 1h0m0 1h0m2-3h0m1 2h0m0 2h0m1-2h0m2-1h0m3-1h0m1 2h0m0 1h0m2-3h0m1 1h0m0 1h0m0 1h0m2 0h0m1-1h0m0 1h0m2-1h0m1 0h0m-1 7h0m-1-2h0m-1-1h0m-2 3h0m-5-3h0m-5 4h0m185 7h0m86 10h0m-11-1h0m-283 9h0m3-3h0m-17 14h0m0-3h0m-22 9h0m3-1h0m8 0h0m-14 7h0m-2-3h0m-16 3h0m-2-2h0m-3 3h0m-4-1h0m-3-3h0m-2 8h0m25-3h0" stroke="#f8766d" stroke-width="4.3" stroke-linecap="round" fill="none"/>
<path d="M309 1310h0m25-1h0m11 0h0m15 1h0m5 3h0m12 6h0m-5-4h0m-64-1h0m-1 3h0m-9 3h0m84 0h0m16 3h0m11-2h0m1 3h0m51 7h0m-12-1h0m-36-3h0m-5-1h0m-128 1h0m-2 2h0m206 6h0m18 1h0m12-3h0m13 7h0m-10 0h0m-1 0h0m-1-1h0m-274 10h0m2 0h0m2-1h0m-5 5h0m-9 6h0m1-3h0m6 3h0m-16 5h0m-44 17h0" stroke="#e76bf3" stroke-width="4.3" stroke-linecap="round" fill="none"/>
<path d="M277 1239h0m29 37h0" stroke="#e76bf3" stroke-width="4.3" stroke-linecap="round" fill="none"/>
<path d="M261 1239.2L307.1 1299.9L274.1 1323.7L251.9 1342.5M307.1 1299.9L359.9 1311" stroke="#111" stroke-width="1.3" fill="none"/>
<circle cx="274.1" cy="1323.7" r="6.3" fill="#111"/>
<text x="274.1" y="1327.9" font-size="11.5" text-anchor="middle" font-weight="bold" fill="#fff">1</text>
<circle cx="307.1" cy="1299.9" r="6.3" fill="#111"/>
<text x="307.1" y="1304.1" font-size="11.5" text-anchor="middle" font-weight="bold" fill="#fff">2</text>
<path d="M129.6 1183.7V1397.5H545.3" stroke="#333" stroke-width="1.1" fill="none"/>
<text x="162.4" y="1413.5" font-size="12.8" text-anchor="middle" fill="#4d4d4d">−4</text>
<text x="255.8" y="1413.5" font-size="12.8" text-anchor="middle" fill="#4d4d4d">−2</text>
<text x="349.2" y="1413.5" font-size="12.8" text-anchor="middle" fill="#4d4d4d">0</text>
<text x="442.6" y="1413.5" font-size="12.8" text-anchor="middle" fill="#4d4d4d">2</text>
<text x="536" y="1413.5" font-size="12.8" text-anchor="middle" fill="#4d4d4d">4</text>
<text x="123.6" y="1389.5" font-size="12.8" text-anchor="end" fill="#4d4d4d">−2</text>
<text x="123.6" y="1340.2" font-size="12.8" text-anchor="end" fill="#4d4d4d">0</text>
<text x="123.6" y="1290.9" font-size="12.8" text-anchor="end" fill="#4d4d4d">2</text>
<text x="123.6" y="1241.5" font-size="12.8" text-anchor="end" fill="#4d4d4d">4</text>
<text x="123.6" y="1192.2" font-size="12.8" text-anchor="end" fill="#4d4d4d">6</text>
<path d="M162.4 1397.5v3.5M255.8 1397.5v3.5M349.2 1397.5v3.5M442.6 1397.5v3.5M536 1397.5v3.5M129.6 1385h-3.5M129.6 1335.7h-3.5M129.6 1286.4h-3.5M129.6 1237h-3.5M129.6 1187.7h-3.5" stroke="#333" stroke-width="1.1" fill="none"/>
<path d="M734.9 1232.6L788.1 1302.6L755.4 1326.2L749.7 1336.3L736.6 1345.8L720.2 1356.8L703.8 1366.6L687.4 1374.8L671.1 1381.3L656.3 1385.2M788.1 1302.6L840.7 1313.7L860 1319.6L901 1327.9L941.8 1334L977.6 1339.2L1001.7 1340.2" stroke="#111" stroke-width="1.3" fill="none"/>
<path d="M643.2 1383.7C645.4 1384 651.7 1385.6 656.3 1385.2C661 1384.8 665.9 1383 671.1 1381.3C676.2 1379.5 682 1377.2 687.4 1374.8C692.9 1372.3 698.3 1369.6 703.8 1366.6C709.3 1363.6 714.7 1360.3 720.2 1356.8C725.6 1353.4 731.6 1349.2 736.6 1345.8C741.5 1342.4 745.2 1339.2 749.7 1336.3C754.2 1333.5 761.3 1330 763.6 1328.7" stroke="#00b0f6" stroke-width="7.5" stroke-linecap="round" stroke-linejoin="round" fill="none"/>
<path d="M860 1319.6C866.8 1321 887.4 1325.5 901 1327.9C914.6 1330.3 929.1 1332.2 941.8 1334C954.6 1335.9 967.6 1338.2 977.6 1339.2C987.5 1340.2 997.7 1340 1001.7 1340.2" stroke="#00bf7d" stroke-width="5.5" stroke-linecap="round" stroke-linejoin="round" fill="none"/>
<path d="M781 1319h0m3-1h0m2 1h0m1-3h0m0 2h0m1-3h0m4 2h0m0 1h0m0 1h0m1-3h0m-3 7h0m0-2h0m-6 2h0m0-2h0m0-1h0m-2 4h0m-1 1h0m0-2h0m-2-1h0m-1 1h0m-1-3h0m-1 4h0m0-1h0m-1 0h0m-2 2h0m-7 0h0m-15 4h0m4 1h0m1 0h0m1 1h0m1 0h0m2-3h0m0 2h0m1 1h0m1-5h0m0 4h0m0 1h0m1-2h0m0 1h0m0 1h0m1-2h0m1-3h0m0 2h0m1-1h0m1 0h0m4 1h0m1 2h0m3-4h0m0 2h0m9-2h0m124 1h0m67 10h0m-67-3h0m-140-1h0m-7 0h0m-1-1h0m-1 1h0m-1-1h0m-2 2h0m-1 0h0m-1 2h0m0-2h0m-2 2h0m0-2h0m0-1h0m-1 4h0m0-2h0m0-2h0m-1 4h0m0-1h0m0-1h0m-1 1h0m-1-1h0m0-1h0m-2 3h0m-1 0h0m0-4h0m-1 4h0m-1-1h0m-4 1h0m-5 3h0m1 3h0m1-3h0m1-1h0m0 1h0m2 2h0m0 1h0m2-3h0m1 3h0m1-1h0m0 1h0m1-2h0m2 0h0m1-1h0m1 0h0m3-1h0m4 0h0m232 2h0m-245 3h0m-1 0h0m-1 3h0m0-1h0m0-2h0m-3 4h0m0-1h0m-1 1h0m0-2h0m0-2h0m-2 2h0m-2 3h0m0-1h0m0-2h0m-3 0h0m-5 1h0m-9 8h0m1 0h0m1-3h0m3 0h0m2 2h0m2-4h0m0 4h0m1-2h0m0 1h0m0 1h0m1-1h0m0 2h0m1 0h0m1-4h0m1 3h0m2-3h0m0 1h0m1 0h0m1-2h0m0 3h0m3-3h0m-10 7h0m-2 0h0m-2-1h0m-1 2h0m0-1h0m0-1h0m-1 3h0m0-1h0m0-2h0m-3 1h0m0-1h0m-1 5h0m0-1h0m0-1h0m0-1h0m-1-2h0m-2 5h0m-1-1h0m-15 5h0m1 2h0m2-2h0m0 1h0m0 1h0m2-5h0m1 4h0m0 1h0m1-3h0m2 3h0m1-4h0m1 1h0m0 1h0m1-3h0m0 3h0m1-3h0m0 1h0m1 0h0m1 1h0m1-1h0m0 1h0m1 2h0m1-3h0m0 1h0m-9 4h0m-2 4h0m0-4h0m-1 3h0m0-3h0m-1 4h0m0-2h0m-1-2h0m-1 4h0m0-4h0m-1 2h0m0-2h0m-2 2h0m0-1h0m0-1h0m-1 0h0m-1 3h0m-1 1h0m0-1h0m-1 1h0m0-1h0m0-1h0m-2 3h0m0-2h0m0-1h0m-2 3h0m-1-1h0m-1 1h0m-1-1h0m-52 7h0m2 0h0m1 0h0m3-3h0m6 3h0m4 0h0m18-4h0m1 4h0m3-2h0m0 1h0m1-2h0m1 2h0m2-1h0m1 1h0m0 1h0m2-2h0m0 1h0m1-4h0m0 1h0m1 2h0m0 1h0m1-4h0m0 3h0m2-3h0m0 1h0m0 3h0m1 0h0m1-3h0m1-1h0m1 0h0m1 0h0m3 0h0m0 4h0m-10 4h0m-1-2h0m-1 1h0m-1-1h0m-1 5h0m-2-4h0m-1 0h0m0-1h0m-4 4h0m-1-2h0m-1 3h0m-1-3h0m-1-2h0m-2 5h0m0-1h0m0-2h0m-1 3h0m0-1h0m0-1h0m-1-1h0m0-2h0m-1 5h0m0-1h0m-1 1h0m-1-1h0m-1-2h0m0-1h0m-1 4h0m0-3h0m-1 3h0m0-1h0m-1-1h0m0-1h0m-1 2h0m-1 0h0m-1-1h0m0-2h0m-3 4h0m-1-1h0m0-2h0m0-2h0m-1 4h0m-1 0h0m-2 0h0m0-4h0m-1 4h0m-1 0h0m0-1h0m0-3h0m-1 4h0m0-2h0m0-1h0m-1 2h0m0-2h0m-3 3h0m-1-2h0m-1 2h0m-1-2h0m-1 3h0m0-3h0m0-2h0m-1 2h0m-1 2h0m-2-4h0m14 6h0m2 0h0m1 0h0m1 1h0m1 0h0m1 0h0m1-1h0m1 1h0m1-1h0m0 1h0m3-1h0m0 1h0m2 0h0m0 3h0m1-3h0m1 1h0m1-2h0" stroke="#00b0f6" stroke-width="4.3" stroke-linecap="round" fill="none"/>
<path d="M814 1308h0m0 2h0m5-1h0m8 1h0m1 0h0m1 2h0m1-2h0m0 1h0m5 1h0m2 0h0m1 1h0m4-1h0m4 1h0m3-1h0m22 5h0m-5 1h0m-6-3h0m-1 2h0m-1 1h0m0-2h0m-2 3h0m-1-1h0m-3 1h0m-1-3h0m-1 0h0m-1 2h0m0-4h0m-1 1h0m0-1h0m-1 5h0m0-4h0m-1-1h0m-3 0h0m-1 0h0m-2 0h0m-1 1h0m0-1h0m-3 1h0m-46 4h0m-4-1h0m-1 1h0m-1-3h0m-2 1h0m-8 1h0m-2 1h0m-11 5h0m6-3h0m1 0h0m0 3h0m5-2h0m0 1h0m1-2h0m2 1h0m1 1h0m2-1h0m1-2h0m1 2h0m2 1h0m5 0h0m2-3h0m0 3h0m2-2h0m3-1h0m64 0h0m1 0h0m0 1h0m2 0h0m2 0h0m0 2h0m1-3h0m0 1h0m2-1h0m0 3h0m1 0h0m1-2h0m4 1h0m1 1h0m1 1h0m2-2h0m0 3h0m1-2h0m0 1h0m0 1h0m2-2h0m5 0h0m1 2h0m1-3h0m0 1h0m5 2h0m3 0h0m8-1h0m1 1h0m48 6h0m-5 0h0m-8 0h0m-1 0h0m-4-2h0m-2 1h0m-1-1h0m-1 1h0m-4 1h0m-4 0h0m-2-1h0m0-1h0m0-2h0m-3 4h0m-2-3h0m-1-1h0m-1 3h0m0-1h0m-1 2h0m0-5h0m-1 3h0m-3-2h0m-1 2h0m0-1h0m-1 0h0m-1 1h0m-1 1h0m0-3h0m-2 3h0m-1-1h0m-1-1h0m-1-2h0m-2 3h0m-1 0h0m-1-3h0m-1 2h0m-1-2h0m-1 2h0m-1-2h0m-2 2h0m-1-2h0m-1 2h0m-1-2h0m-1 1h0m-1-1h0m-3 0h0m-109 3h0m0-1h0m-1 2h0m0-4h0m-2 0h0m-4 0h0m-2 5h0m-2 0h0m-2-2h0m-1 1h0m-8 2h0m0 4h0m1-1h0m1-3h0m1 1h0m3-1h0m8 0h0m0 1h0m124-1h0m19 0h0m4 2h0m2-2h0m1 1h0m1 0h0m9-1h0m0 1h0m1 0h0m4 2h0m1-2h0m1 1h0m1 0h0m1-2h0m0 1h0m1 0h0m2 2h0m1-3h0m1 1h0m1-1h0m0 1h0m0 4h0m1-5h0m3 1h0m0 4h0m1-2h0m0 2h0m2-5h0m0 4h0m1-3h0m2 1h0m0 1h0m2-2h0m5 0h0m5 2h0m2 1h0m3 0h0m1-2h0m2 1h0m1 0h0m0 1h0m19 1h0m8-4h0m1 4h0m2-2h0m5 3h0m-1 2h0m0-1h0m-1 3h0m0-1h0m0-2h0m-1 1h0m-1 0h0m-1 3h0m0-2h0m-2 2h0m0-1h0m0-1h0m0-3h0m-1 0h0m-1 3h0m-1 0h0m0-1h0m0-1h0m-1 2h0m0-1h0m0-1h0m0-1h0m-1 4h0m-1-1h0m0-3h0m-1 3h0m0-1h0m0-1h0m0-1h0m-1 2h0m0-1h0m-1 1h0m-1 3h0m0-2h0m0-2h0m0-1h0m-1 5h0m0-5h0m-1 2h0m-2-2h0m-1 3h0m-1 0h0m0-1h0m0-1h0m-3 2h0m0-3h0m-1 3h0m-4-1h0m0-1h0m0-1h0m-1 1h0m-3 1h0m-1 2h0m0-3h0m-2 0h0m-2-1h0m-4 0h0m-2 0h0m-1 1h0m-4 0h0m0-1h0m-3 1h0m0-1h0m-5 0h0m-5 0h0m-192 2h0m-5 0h0m0-2h0m-2 5h0m-1-5h0m-12 8h0m5 2h0m258-4h0m4 0h0m4 1h0m2 2h0m1 0h0m-274 4h0m1 5h0" stroke="#00bf7d" stroke-width="4.3" stroke-linecap="round" fill="none"/>
<path d="M778 1317h0m10 1h0m4 3h0m-13 2h0m-16 4h0m1 0h0m4-1h0m3 4h0m-15 4h0m-17 11h0m-12 5h0m-4 2h0m-22 9h0m6 7h0m-61 4h0m-14 5h0m2 1h0m0 1h0m2-1h0m4-1h0m1 0h0m1 0h0m0 2h0m1-4h0m1 3h0m2-4h0m2 2h0m0 1h0m0 2h0m1 0h0m36-2h0m3 2h0m-18 6h0m0-2h0m-9 2h0m-5-3h0m-9 3h0m0-1h0m-1 0h0m-1-2h0m-1-2h0m-1 3h0m0-1h0m0-1h0m0-1h0m-1 5h0m0-2h0m-2 1h0m0-2h0m-1-2h0m-1 0h0m-1 0h0m-1 5h0m0-1h0m0-1h0m-1 0h0m7 4h0m1 1h0m5-2h0m3 1h0m2 1h0m10-2h0" stroke="#a3a500" stroke-width="4.3" stroke-linecap="round" fill="none"/>
<path d="M667 1199h0m25 0h0m7-3h0m8 3h0m2-2h0m1 0h0m19 8h0m-14-2h0m-2 2h0m0-1h0m-2 0h0m-1-4h0m-1 4h0m-2-2h0m-2-1h0m-1 1h0m-2 3h0m-1-1h0m-1 0h0m0-1h0m0-1h0m0-2h0m-1 4h0m0-2h0m-1-1h0m-1 2h0m-1-3h0m-4 1h0m-2 3h0m-1-1h0m-1 2h0m-1-1h0m-1 1h0m0-2h0m-1-1h0m-7-1h0m7 6h0m0 4h0m1-5h0m0 2h0m2-2h0m0 2h0m0 3h0m1-5h0m0 2h0m2-2h0m1 4h0m0 1h0m1-3h0m0 1h0m0 2h0m1-5h0m0 1h0m1 2h0m1-3h0m0 2h0m0 1h0m0 2h0m1-4h0m0 2h0m1-2h0m0 1h0m0 3h0m1-3h0m0 1h0m1-1h0m0 2h0m1-3h0m0 2h0m1-3h0m0 5h0m1-4h0m0 2h0m0 2h0m1-5h0m0 2h0m0 1h0m1-1h0m0 1h0m0 2h0m1-4h0m1 1h0m0 2h0m1-4h0m1 0h0m0 1h0m0 3h0m1-4h0m1 5h0m1-3h0m0 3h0m1-5h0m0 3h0m1 0h0m0 1h0m1-2h0m0 1h0m1-3h0m0 3h0m0 1h0m1-2h0m0 3h0m1 0h0m2-4h0m0 2h0m2-2h0m5 4h0m18 5h0m-6-2h0m-5 1h0m-4-1h0m0-2h0m-1 5h0m-1 0h0m0-1h0m-1 1h0m-1 0h0m0-2h0m-1 0h0m0-1h0m0-1h0m-1-1h0m-1 4h0m0-1h0m0-1h0m-2 1h0m-1-3h0m-1 4h0m-1 1h0m-1 0h0m-1-3h0m-1 2h0m0-2h0m0-1h0m-1 3h0m0-4h0m-1 1h0m0-1h0m-1 2h0m-1 2h0m0-1h0m0-1h0m0-1h0m0-1h0m-1 4h0m-1 1h0m0-4h0m-2 0h0m-2 0h0m-1 4h0m0-5h0m-1 5h0m-1-4h0m-1 3h0m0-1h0m-1-3h0m-1 2h0m-1-1h0m-2 3h0m-1 0h0m-1-1h0m-1-3h0m-1 4h0m-1-3h0m-1 2h0m-1 1h0m0-1h0m0-1h0m-1 0h0m0-1h0m-1 0h0m0-1h0m-1 0h0m2 6h0m3 1h0m3-1h0m10 0h0m1 2h0m2-2h0m3 1h0m2-1h0m0 2h0m1-1h0m0 1h0m0 1h0m1-3h0m2 1h0m1 0h0m0 1h0m0 2h0m1-2h0m2-2h0m0 3h0m1-3h0m1 2h0m1-1h0m0 2h0m0 2h0m1-5h0m1 0h0m0 5h0m1 0h0m1-2h0m1-2h0m3-1h0m0 4h0m0 1h0m1-3h0m0 2h0m0 1h0m2-3h0m0 1h0m0 2h0m2-2h0m1 2h0m1-4h0m1-1h0m0 5h0m1-2h0m1 1h0m3 7h0m-5-4h0m-1 1h0m-1 1h0m0-2h0m-1 4h0m0-1h0m0-2h0m-1-1h0m-2 3h0m0-1h0m-2 2h0m0-3h0m-1 2h0m0-2h0m-1 3h0m0-3h0m-1 1h0m0-1h0m0-1h0m-1 4h0m0-1h0m-1-1h0m0-1h0m0-2h0m-1 3h0m-1 1h0m0-3h0m-1 1h0m-3 3h0m-1-2h0m-2-1h0m-2 2h0m5 3h0m6-1h0m0 3h0m1-1h0m1-2h0m0 2h0m1-2h0m0 2h0m1-1h0m0 4h0m1-3h0m1 0h0m1 3h0m1-2h0m12 1h0m3-4h0m0 3h0m2 6h0m-4-1h0m-17-2h0m21 9h0m3-1h0m5 2h0m2 4h0m-7 2h0m-1-3h0m6 9h0m2 0h0m0 1h0m4-2h0m7 4h0m-1 0h0m-1 1h0m-5-1h0m-6-1h0m16 7h0m2 0h0m6 4h0m-3 6h0m-1 0h0m-3-2h0m-2 2h0m4 1h0m0 3h0m10-1h0m-6 9h0m6 3h0m3 0h0m-65 15h0m-3-4h0m-2 0h0m-1 1h0m-2 1h0m-1-2h0m-2 4h0m-1-3h0m-1-1h0m-1 1h0m-1 2h0m0-2h0m-1-1h0m-1 4h0m3 4h0m1-3h0m0 1h0m1-1h0m1 0h0m3 2h0m1-2h0m1 1h0m0 4h0m1-4h0m1-1h0m0 2h0m1 0h0m0 1h0m1 0h0m0 1h0m1-3h0m0 1h0m3 1h0m0 1h0m1-4h0m2 5h0m1-1h0m4 1h0m2 0h0m7-2h0m0 2h0m3 6h0m-1-4h0m-1 2h0m-1 2h0m0-2h0m-1 0h0m-1 2h0m0-1h0m-1 0h0m0-4h0m-3 2h0m-4 1h0m0-3h0m-1 5h0m-1-4h0m0-1h0m-2 3h0m0-2h0m-1 1h0m-1-1h0m-2 2h0m-1-2h0m-1 3h0m0-3h0m-1 0h0m-3 0h0m0-1h0m-1 0h0m8 7h0m5-1h0m0 2h0m6 0h0m3-2h0m1 3h0m0 1h0m3-4h0m0 5h0m1-4h0m0 1h0m253 15h0m-279 3h0m6 1h0m272 1h0m-275 2h0m-27 10h0m12 0h0m1 0h0m0 1h0m-2 1h0m-6 2h0m0-2h0m-8 3h0m-7 8h0m-10 7h0m-7 0h0m-9 2h0m-8 0h0" stroke="#f8766d" stroke-width="4.3" stroke-linecap="round" fill="none"/>
<path d="M823 1312h0m13-1h0m2 1h0m6 0h0m3 7h0m-61-5h0m-10 10h0m8-3h0m2 2h0m154 7h0m-8 1h0m-8-2h0m-1 2h0m-29-5h0m-118 3h0m-2-3h0m-1 3h0m-5 2h0m-4-3h0m-13 2h0m4 5h0m2-2h0m164 0h0m4 0h0m11-1h0m5 5h0m2-3h0m54 6h0m-3 0h0m-1 2h0m-21-1h0m-19-3h0m-213 5h0m-2 0h0m-1 3h0m1 0h0m256 0h0m-273 9h0m-15 3h0m6 2h0m6 1h0m3-3h0m-20 11h0m0-1h0m-1 6h0m-19 6h0m-4 1h0m-29 3h0" stroke="#e76bf3" stroke-width="4.3" stroke-linecap="round" fill="none"/>
<path d="M758 1243h0m29 36h0" stroke="#e76bf3" stroke-width="4.3" stroke-linecap="round" fill="none"/>
<path d="M742.4 1242.4L788.1 1302.6L755.4 1326.2L733.3 1345M788.1 1302.6L840.7 1313.7" stroke="#111" stroke-width="1.3" fill="none"/>
<circle cx="755.4" cy="1326.2" r="6.3" fill="#111"/>
<text x="755.4" y="1330.4" font-size="11.5" text-anchor="middle" font-weight="bold" fill="#fff">1</text>
<circle cx="788.1" cy="1302.6" r="6.3" fill="#111"/>
<text x="788.1" y="1306.8" font-size="11.5" text-anchor="middle" font-weight="bold" fill="#fff">2</text>
<path d="M613.2 1183.7V1397.5H1028.4" stroke="#333" stroke-width="1.1" fill="none"/>
<text x="714" y="1413.5" font-size="12.8" text-anchor="middle" fill="#4d4d4d">−2.5</text>
<text x="830" y="1413.5" font-size="12.8" text-anchor="middle" fill="#4d4d4d">0.0</text>
<text x="946" y="1413.5" font-size="12.8" text-anchor="middle" fill="#4d4d4d">2.5</text>
<text x="607.2" y="1391.7" font-size="12.8" text-anchor="end" fill="#4d4d4d">−2</text>
<text x="607.2" y="1342.7" font-size="12.8" text-anchor="end" fill="#4d4d4d">0</text>
<text x="607.2" y="1293.7" font-size="12.8" text-anchor="end" fill="#4d4d4d">2</text>
<text x="607.2" y="1244.7" font-size="12.8" text-anchor="end" fill="#4d4d4d">4</text>
<text x="607.2" y="1195.7" font-size="12.8" text-anchor="end" fill="#4d4d4d">6</text>
<path d="M714 1397.5v3.5M830 1397.5v3.5M946 1397.5v3.5M613.2 1387.2h-3.5M613.2 1338.2h-3.5M613.2 1289.2h-3.5M613.2 1240.2h-3.5M613.2 1191.2h-3.5" stroke="#333" stroke-width="1.1" fill="none"/>
<path d="M1219.5 1229.3L1273.1 1300.3L1240.1 1324.3L1234.3 1334.5L1221.2 1344.1L1204.7 1355.3L1188.2 1365.2L1171.7 1373.5L1155.2 1380.1L1140.4 1384.1M1273.1 1300.3L1325.9 1311.6L1345.4 1317.5L1386.7 1326L1427.7 1332.2L1463.7 1337.4L1488 1338.4" stroke="#111" stroke-width="1.3" fill="none"/>
<path d="M1127.2 1382.6C1129.4 1382.8 1135.7 1384.5 1140.4 1384.1C1145.1 1383.6 1150 1381.8 1155.2 1380.1C1160.4 1378.3 1166.2 1376 1171.7 1373.5C1177.2 1371 1182.7 1368.3 1188.2 1365.2C1193.7 1362.2 1199.2 1358.8 1204.7 1355.3C1210.2 1351.8 1216.2 1347.6 1221.2 1344.1C1226.1 1340.6 1229.8 1337.4 1234.3 1334.5C1238.9 1331.6 1246 1328 1248.4 1326.7" stroke="#00b0f6" stroke-width="7.5" stroke-linecap="round" stroke-linejoin="round" fill="none"/>
<path d="M1345.4 1317.5C1352.3 1318.9 1372.9 1323.5 1386.7 1326C1400.4 1328.4 1414.9 1330.3 1427.7 1332.2C1440.6 1334.1 1453.7 1336.4 1463.7 1337.4C1473.7 1338.4 1483.9 1338.2 1488 1338.4" stroke="#00bf7d" stroke-width="5.5" stroke-linecap="round" stroke-linejoin="round" fill="none"/>
<path d="M1301 1306h0m-25 3h0m-14 10h0m1 0h0m1 0h0m1-3h0m4 2h0m2-2h0m1-1h0m1 3h0m3 0h0m1-2h0m45-2h0m24 1h0m0 3h0m51 7h0m-16-1h0m-104 0h0m-2-3h0m-3-1h0m-6 2h0m-4 0h0m-2 1h0m0-2h0m-4 2h0m-1 1h0m-1-1h0m-3 2h0m-7-1h0m-10 4h0m5 3h0m1-4h0m0 2h0m2-3h0m0 4h0m1-3h0m2 0h0m1-1h0m0 1h0m0 1h0m1-1h0m0 2h0m1-3h0m0 1h0m1 3h0m1-1h0m1-3h0m0 5h0m13-4h0m-3 5h0m-14 0h0m-4 1h0m-2 3h0m-1-1h0m0-2h0m-1 0h0m-1 1h0m-2 2h0m-3-2h0m0-2h0m-3 4h0m-1 0h0m-1-2h0m-10 9h0m1-1h0m0 1h0m1 0h0m3-4h0m1 0h0m0 2h0m0 1h0m1-2h0m0 2h0m0 1h0m1-3h0m1-2h0m0 1h0m0 4h0m1-2h0m2-3h0m3 2h0m227-2h0m-234 6h0m-1 2h0m0-1h0m0-1h0m-1 1h0m-1 0h0m-1-1h0m-1 5h0m0-5h0m-3 2h0m-1 3h0m0-1h0m0-1h0m0-1h0m0-1h0m-2 4h0m0-1h0m0-4h0m-1 4h0m0-1h0m-1-2h0m-1 1h0m-13 6h0m0 3h0m2-1h0m1 1h0m5-5h0m0 1h0m0 3h0m1-4h0m1 2h0m1 0h0m1-2h0m0 1h0m0 3h0m1-1h0m4-2h0m1 1h0m1-2h0m0 1h0m-9 6h0m-3 0h0m-1 1h0m0-1h0m0-1h0m-1 1h0m-1-1h0m-1 4h0m-1 1h0m0-2h0m0-2h0m-1-1h0m-1 4h0m-1-2h0m0-2h0m-1 4h0m0-2h0m-1 0h0m-1 1h0m-1 2h0m-1-1h0m-1 1h0m0-3h0m-1 3h0m-2 0h0m-11 5h0m2 0h0m2-2h0m1-1h0m3 3h0m1-4h0m0 4h0m1-4h0m0 2h0m0 3h0m1 0h0m1-3h0m0 3h0m1-3h0m0 1h0m0 2h0m1-1h0m1-4h0m0 2h0m1-2h0m1 1h0m1 2h0m2-3h0m2 0h0m-12 6h0m-1 2h0m-1-2h0m-3 2h0m-1-1h0m-1 4h0m0-1h0m0-1h0m0-3h0m-2 5h0m0-3h0m-1 3h0m0-4h0m-1-1h0m-1 4h0m-1 1h0m-1-1h0m0-1h0m-1 1h0m-1 1h0m0-1h0m-1 1h0m0-3h0m-55 4h0m4 2h0m3 3h0m1-4h0m0 1h0m0 1h0m1 2h0m3-1h0m1-2h0m0 1h0m0 1h0m1 1h0m1-4h0m2 4h0m1 0h0m2 0h0m12-1h0m1 0h0m1-1h0m1 2h0m3-3h0m0 3h0m2-2h0m1 1h0m1-4h0m1 1h0m0 2h0m0 1h0m1-3h0m0 3h0m0 1h0m1-3h0m1 0h0m0 3h0m1-2h0m0 1h0m1 1h0m1-1h0m1-1h0m0 1h0m2-3h0m0 3h0m1-4h0m0 1h0m1-1h0m0 1h0m3 0h0m0 1h0m1-1h0m1-1h0m1 1h0m2-1h0m2 1h0m-10 5h0m-5 0h0m-6 4h0m0-3h0m0-1h0m-1 0h0m-3 3h0m0-3h0m-1 2h0m-1 0h0m-2 2h0m0-2h0m0-1h0m-1-1h0m-1 0h0m-1 4h0m-1-1h0m0-2h0m0-1h0m-1 4h0m-2 0h0m0-1h0m0-3h0m-1 5h0m0-3h0m-1 1h0m0-1h0m0-1h0m-1 4h0m0-1h0m0-1h0m-1 2h0m-1-3h0m-1 3h0m0-2h0m0-1h0m-1 2h0m0-4h0m-2 5h0m0-2h0m0-1h0m-1 2h0m-1 1h0m0-4h0m-2 3h0m-1 0h0m0-2h0m-1 0h0m-1 2h0m0-1h0m0-1h0m0-1h0m0-1h0m-1 3h0m0-1h0m0-1h0m0-1h0m-1 4h0m0-2h0m-2-1h0m-1 0h0m-1 4h0m-1-4h0m-2 4h0m-4-1h0m6 2h0m3 2h0m9-1h0m1 0h0m4 2h0m1-1h0m1-2h0m3 0h0m2 0h0m6 0h0" stroke="#00b0f6" stroke-width="4.3" stroke-linecap="round" fill="none"/>
<path d="M1297 1305h0m4 2h0m3 0h0m6 0h0m31 5h0m-7 1h0m-2 0h0m0-2h0m-1 2h0m0-1h0m-1 1h0m-1-1h0m-3 0h0m-1-2h0m-1 1h0m-2 0h0m-1-1h0m0-2h0m-1 5h0m0-1h0m0-2h0m-6 1h0m-1 0h0m-6-3h0m-1 0h0m-1 1h0m-29 3h0m-2 0h0m-4 1h0m-16 6h0m3 0h0m8 0h0m3-2h0m2-2h0m0 1h0m2 2h0m1-4h0m0 3h0m1-2h0m2 0h0m1 1h0m1-2h0m1 1h0m50-1h0m2 0h0m6 2h0m0 1h0m1-3h0m0 4h0m1-1h0m2 1h0m1 0h0m1-2h0m0 2h0m1-4h0m0 1h0m0 4h0m2-2h0m1 2h0m1 0h0m1-1h0m1 1h0m1 0h0m1-1h0m2 0h0m1 1h0m12-2h0m33 8h0m-6 0h0m-4-1h0m-2 1h0m0-2h0m-1 2h0m-1 0h0m-2 0h0m-1-2h0m-1 2h0m0-2h0m0-2h0m-3 3h0m-2 0h0m-1 1h0m0-2h0m-1-3h0m-1 4h0m0-1h0m0-3h0m-1 5h0m0-4h0m-1 2h0m-1-1h0m-1-1h0m0-1h0m-3 0h0m-5 2h0m0-1h0m-1 4h0m0-5h0m-1 2h0m0-1h0m-2 0h0m-3 0h0m-8 0h0m0-1h0m-78 2h0m-2 2h0m-3-4h0m-2 4h0m0-3h0m0-1h0m-1 5h0m0-2h0m-3 2h0m0-1h0m-1 1h0m0-2h0m-1 1h0m-1-1h0m-5 0h0m-4 0h0m-5 2h0m-9 5h0m9-3h0m5 4h0m2-5h0m0 2h0m1-1h0m0 1h0m1 0h0m1 0h0m1-2h0m0 1h0m1 0h0m2-1h0m0 1h0m3 0h0m6-1h0m1 0h0m114 0h0m4 2h0m1-1h0m1 0h0m5 2h0m3-2h0m0 2h0m2-2h0m1-1h0m0 3h0m0 1h0m1-4h0m0 3h0m1 0h0m1 0h0m1-2h0m0 3h0m1-3h0m0 1h0m0 1h0m0 1h0m2-4h0m0 1h0m0 2h0m2-3h0m2 1h0m0 3h0m1-2h0m4 2h0m1-2h0m1 2h0m2-1h0m1 0h0m0 1h0m3 1h0m1-1h0m0 1h0m4 0h0m10-2h0m9 1h0m42 6h0m0-1h0m-2 1h0m0-1h0m-2 1h0m0-1h0m-1 2h0m-1 0h0m0-2h0m-1-2h0m-1 4h0m-1-1h0m-1 1h0m-2-2h0m-2-2h0m-1 4h0m0-1h0m-1 1h0m0-2h0m-1 2h0m-1-3h0m-3 2h0m-1 0h0m-1-1h0m-3-1h0m-1 3h0m-1 0h0m-1 0h0m-1-3h0m-3 2h0m-1 1h0m0-2h0m0-2h0m-1 4h0m-1-2h0m-1 1h0m-2-2h0m-3 2h0m0-2h0m0-2h0m-2 1h0m-1 1h0m-2 0h0m-3 0h0m0-2h0m-1 4h0m0-1h0m0-1h0m-2-1h0m-3 2h0m0-1h0m-4 0h0m0-2h0m-10 0h0m-4 1h0m-7-1h0m-159 1h0m0-1h0m-5 0h0m-5 2h0m-3 0h0m-1 1h0m-1 1h0m-1 1h0m0-2h0m-1 2h0m-7-1h0m-2 6h0m2 0h0m2 1h0m3-3h0m1 2h0m1-2h0m1 0h0m209-2h0m3 0h0m9 0h0m0 3h0m6-2h0m2-1h0m4 2h0m1-1h0m7 0h0m0 2h0m3-3h0m1 0h0m0 1h0m1-1h0m0 1h0m0 3h0m1-4h0m0 1h0m0 2h0m1-3h0m0 2h0m1 0h0m0 3h0m1-4h0m0 1h0m1-2h0m0 1h0m1-1h0m0 1h0m1 4h0m1-4h0m0 2h0m1 0h0m2-3h0m1 0h0m-1 8h0m0-2h0m-264 0h0m-7 1h0m-2-1h0m-3 3h0m3 3h0m0 1h0" stroke="#00bf7d" stroke-width="4.3" stroke-linecap="round" fill="none"/>
<path d="M1259 1318h0m10-3h0m9 0h0m-7 9h0m-13-3h0m-16 2h0m2 4h0m-12 8h0m-5 1h0m-13 7h0m11-4h0m3 1h0m-8 5h0m-6 4h0m-23 9h0m4 6h0m-70 9h0m9 0h0m41-2h0m-42 6h0m-2 2h0m-2 0h0m-1 0h0m-1 0h0m0-2h0m-3 2h0m0-1h0m-4 1h0m0-3h0m-2 0h0m-1 3h0m-3 1h0m0 3h0m3-2h0m0 2h0m3-3h0m1 1h0m1 2h0m1 1h0m1-4h0m0 4h0m1-4h0m0 3h0m1-2h0m0 1h0m0 3h0m1-4h0m0 1h0m1-2h0m0 2h0m0 2h0m1-3h0m0 1h0m1-2h0m0 1h0m0 1h0m0 1h0m1-1h0m7-2h0m6 2h0m15-1h0m-12 5h0m-14 1h0" stroke="#a3a500" stroke-width="4.3" stroke-linecap="round" fill="none"/>
<path d="M1144 1191h0m35 0h0m23 7h0m-3-1h0m-3 1h0m0-1h0m-2-2h0m0-1h0m-1 3h0m-1-2h0m-2 2h0m-1 2h0m0-2h0m-4 1h0m0-1h0m-1-3h0m-1 3h0m0-3h0m-1 3h0m0-3h0m-1 1h0m-1 4h0m0-2h0m-3 2h0m0-2h0m-1-3h0m-1 5h0m0-2h0m-1 2h0m0-4h0m-1 2h0m-1 2h0m-1-1h0m-2-2h0m-9 0h0m7 5h0m1 1h0m1 0h0m0 1h0m0 1h0m0 1h0m1-5h0m0 1h0m0 3h0m0 1h0m1-2h0m1-1h0m0 3h0m1-1h0m1-3h0m0 4h0m1-3h0m0 1h0m2 0h0m0 1h0m1-3h0m0 2h0m1-2h0m0 3h0m1-4h0m0 4h0m1-4h0m1 2h0m1-2h0m0 2h0m1-2h0m0 5h0m1-4h0m0 2h0m0 1h0m0 1h0m2-5h0m0 3h0m1-2h0m0 3h0m1-4h0m0 1h0m0 1h0m1 0h0m1 1h0m0 1h0m1 0h0m0 1h0m1-1h0m1 0h0m0 1h0m1-2h0m1-2h0m0 3h0m1-2h0m0 3h0m1-1h0m1-3h0m0 1h0m2 3h0m2-1h0m1-3h0m1 0h0m0 3h0m1-3h0m0 1h0m2 2h0m12 1h0m-3 6h0m-1 0h0m-1 0h0m-5-5h0m-1 2h0m-1 3h0m-1 0h0m0-1h0m0-1h0m0-1h0m-1-2h0m-1 5h0m0-5h0m-1 5h0m-2 0h0m0-1h0m0-1h0m-1-1h0m0-1h0m-1 1h0m-1 0h0m-1-1h0m-1 0h0m-1 3h0m0-1h0m0-3h0m-1 2h0m0-2h0m-1 4h0m0-4h0m-1 0h0m-1 3h0m-2 1h0m0-1h0m0-3h0m-1 4h0m-1-1h0m0-3h0m-1 3h0m-1-2h0m-2 4h0m0-3h0m-2 1h0m0-1h0m-1 2h0m0-4h0m-2 1h0m-1 1h0m-1 1h0m0-2h0m0-1h0m-1 2h0m0-2h0m-1 2h0m0-1h0m-1 4h0m0-1h0m-1-3h0m-1 4h0m0-4h0m-1 4h0m-1 0h0m0-4h0m0-1h0m-2 0h0m4 10h0m2-3h0m1-1h0m0 1h0m3-1h0m0 2h0m5 1h0m2-2h0m1-1h0m1 2h0m4-1h0m3-1h0m0 2h0m0 2h0m3-4h0m1 3h0m1-3h0m0 2h0m0 1h0m0 1h0m1-4h0m1 2h0m0 3h0m1-3h0m0 1h0m0 2h0m1-2h0m1-3h0m0 2h0m1-1h0m0 1h0m0 3h0m1-4h0m0 1h0m0 3h0m1-5h0m1 0h0m1 0h0m0 1h0m0 2h0m0 2h0m1-2h0m1 2h0m1-3h0m0 2h0m1 0h0m0 1h0m6-4h0m7 4h0m1-1h0m-3 4h0m-1 3h0m0-4h0m-1 3h0m-1-3h0m-1 2h0m-1 0h0m0-1h0m-1 2h0m0-1h0m0-2h0m-1 4h0m-1-3h0m-3 1h0m-2-1h0m0-2h0m-1 3h0m-1 0h0m0-3h0m-1 5h0m-1-5h0m-2 0h0m-1 3h0m-7-2h0m-8-1h0m16 7h0m0 3h0m2-1h0m1-2h0m3-1h0m1 3h0m0 2h0m1-5h0m2 1h0m3 0h0m0 1h0m0 3h0m1-5h0m0 1h0m1 2h0m1-3h0m1 0h0m0 1h0m1-1h0m12 5h0m1 5h0m-2-2h0m-18 1h0m-1 0h0m-10-3h0m26 10h0m5-1h0m1 2h0m7 4h0m0-1h0m-7 4h0m0 5h0m7-5h0m2 0h0m1 1h0m6 7h0m-2 6h0m1 3h0m5-4h0m0 4h0m1 3h0m6 5h0m3 3h0m4 2h0m-4 3h0m-1-3h0m8 6h0m2 3h0m-72 14h0m-4 0h0m-7 2h0m1 0h0m0 2h0m1 1h0m1-2h0m1 1h0m1 1h0m1 0h0m0 1h0m2-4h0m0 1h0m0 2h0m0 1h0m5-4h0m0 2h0m1 0h0m3 0h0m3-1h0m0 1h0m4 1h0m15 7h0m-3 0h0m-4-4h0m-2 4h0m-2-5h0m-2 4h0m-1 1h0m-2 0h0m-1 0h0m0-1h0m0-3h0m-1 4h0m0-3h0m0-1h0m-1 3h0m-1 1h0m-1-2h0m-1-2h0m-1 2h0m0-1h0m0-2h0m-3 4h0m0-4h0m-3 1h0m0-1h0m-1 0h0m-1 0h0m-2 0h0m-1 2h0m0-2h0m-1 3h0m0-3h0m-1 3h0m10 3h0m6 1h0m2 0h0m3-1h0m1 1h0m0 3h0m3-4h0m0 1h0m0 1h0m1-1h0m0 2h0m0 2h0m1-2h0m2 2h0m1-2h0m0 1h0m2-2h0m1-2h0m0 3h0m1-1h0m2 1h0m0 2h0m1-4h0m-1 7h0m-1 1h0m-4 1h0m-1-4h0m-8 0h0m-2 0h0m199 10h0m39 5h0m-249 7h0m278-1h0m-281 5h0m-7 2h0m-5 0h0m2 5h0m4-3h0m-4 7h0m-17-1h0m-8 8h0m18 0h0m-67 8h0m4 3h0m1 1h0m8-2h0m6 0h0m7 0h0" stroke="#f8766d" stroke-width="4.3" stroke-linecap="round" fill="none"/>
<path d="M1325 1311h0m1 0h0m30 8h0m-20-4h0m-58-1h0m-7 4h0m-12 6h0m3-1h0m5-2h0m90 0h0m9 4h0m3-3h0m5 0h0m9 2h0m50 5h0m-6 0h0m-15 0h0m-2 2h0m-11-4h0m-4 1h0m-136-2h0m-12 4h0m0-4h0m-4 0h0m-8 8h0m3 0h0m186 1h0m8-2h0m51 3h0m7 7h0m-10-2h0m0-1h0m-5 0h0m-1 0h0m-243-2h0m-17 9h0m263-3h0m-278 19h0m-9 3h0m-3 1h0m-22 10h0m-21 6h0m-4-1h0" stroke="#e76bf3" stroke-width="4.3" stroke-linecap="round" fill="none"/>
<path d="M1263 1261h0m3 1h0m2 2h0" stroke="#00bf7d" stroke-width="4.3" stroke-linecap="round" fill="none"/>
<path d="M1219 1222h0m53 47h0" stroke="#e76bf3" stroke-width="4.3" stroke-linecap="round" fill="none"/>
<path d="M1227 1239.2L1273.1 1300.3L1240.1 1324.3L1217.9 1343.3M1273.1 1300.3L1325.9 1311.6" stroke="#111" stroke-width="1.3" fill="none"/>
<circle cx="1240.1" cy="1324.3" r="6.3" fill="#111"/>
<text x="1240.1" y="1328.5" font-size="11.5" text-anchor="middle" font-weight="bold" fill="#fff">1</text>
<circle cx="1273.1" cy="1300.3" r="6.3" fill="#111"/>
<text x="1273.1" y="1304.5" font-size="11.5" text-anchor="middle" font-weight="bold" fill="#fff">2</text>
<path d="M1096.3 1184.5V1397.4H1511.4" stroke="#333" stroke-width="1.1" fill="none"/>
<text x="1128.4" y="1413.4" font-size="12.8" text-anchor="middle" fill="#4d4d4d">−4</text>
<text x="1221.8" y="1413.4" font-size="12.8" text-anchor="middle" fill="#4d4d4d">−2</text>
<text x="1315.2" y="1413.4" font-size="12.8" text-anchor="middle" fill="#4d4d4d">0</text>
<text x="1408.6" y="1413.4" font-size="12.8" text-anchor="middle" fill="#4d4d4d">2</text>
<text x="1502" y="1413.4" font-size="12.8" text-anchor="middle" fill="#4d4d4d">4</text>
<text x="1090.3" y="1390.6" font-size="12.8" text-anchor="end" fill="#4d4d4d">−2</text>
<text x="1090.3" y="1340.9" font-size="12.8" text-anchor="end" fill="#4d4d4d">0</text>
<text x="1090.3" y="1291.2" font-size="12.8" text-anchor="end" fill="#4d4d4d">2</text>
<text x="1090.3" y="1241.5" font-size="12.8" text-anchor="end" fill="#4d4d4d">4</text>
<text x="1090.3" y="1191.8" font-size="12.8" text-anchor="end" fill="#4d4d4d">6</text>
<path d="M1128.4 1397.4v3.5M1221.8 1397.4v3.5M1315.2 1397.4v3.5M1408.6 1397.4v3.5M1502 1397.4v3.5M1096.3 1386.1h-3.5M1096.3 1336.4h-3.5M1096.3 1286.7h-3.5M1096.3 1237h-3.5M1096.3 1187.3h-3.5" stroke="#333" stroke-width="1.1" fill="none"/>
<path d="M253.5 1548.5L307.1 1619.4L274.1 1643.3L268.3 1653.5L255.2 1663.1L238.7 1674.3L222.2 1684.2L205.7 1692.4L189.2 1699L174.4 1703M307.1 1619.4L359.9 1630.6L379.4 1636.6L420.7 1645L461.7 1651.2L497.7 1656.4L522 1657.4" stroke="#111" stroke-width="1.3" fill="none"/>
<path d="M161.2 1701.5C163.4 1701.7 169.7 1703.4 174.4 1703C179.1 1702.5 184 1700.8 189.2 1699C194.4 1697.2 200.2 1694.9 205.7 1692.4C211.2 1689.9 216.7 1687.2 222.2 1684.2C227.7 1681.1 233.2 1677.8 238.7 1674.3C244.2 1670.8 250.2 1666.5 255.2 1663.1C260.1 1659.6 263.8 1656.4 268.3 1653.5C272.9 1650.6 280 1647.1 282.4 1645.8" stroke="#f8766d" stroke-width="7.5" stroke-linecap="round" stroke-linejoin="round" fill="none"/>
<path d="M379.4 1636.6C386.3 1638 406.9 1642.5 420.7 1645C434.4 1647.4 448.9 1649.3 461.7 1651.2C474.6 1653.1 487.7 1655.4 497.7 1656.4C507.7 1657.4 517.9 1657.2 522 1657.4" stroke="#00bf7d" stroke-width="5.5" stroke-linecap="round" stroke-linejoin="round" fill="none"/>
<path d="M283.5 1646.3C288 1643.9 306.3 1634.2 310.8 1631.8" stroke="#a3a500" stroke-width="6" stroke-linecap="round" stroke-linejoin="round" fill="none"/>
<path d="M268 1649h0m4 0h0m1-1h0m0 1h0m2-4h0m1 0h0m0 1h0m0 3h0m1 0h0m1-1h0m0 1h0m2-2h0m2 1h0m2 3h0m-2 0h0m-5 2h0m-2-2h0m-1 2h0m0-3h0m-1 4h0m0-1h0m-1 1h0m0-4h0m-2 2h0m-1 1h0m0-3h0m-1 4h0m0-2h0m-1 3h0m-1 0h0m0-2h0m-1-2h0m-2 1h0m-12 8h0m5-1h0m0 1h0m0 1h0m1-3h0m0 3h0m1-1h0m0 1h0m1-1h0m1-1h0m2 0h0m1-1h0m0 3h0m1-4h0m0 2h0m1-3h0m2 0h0m0 1h0m1-1h0m2 0h0m1 3h0m1-3h0m3 0h0m-11 9h0m-3-3h0m-2 2h0m-1-1h0m0-1h0m-1 2h0m0-1h0m-1 3h0m0-1h0m0-2h0m0-1h0m-2 2h0m-1 2h0m-1 1h0m0-1h0m-1 0h0m-1-2h0m0-1h0m-1 3h0m0-1h0m0-2h0m-1 4h0m0-2h0m-1 1h0m0-1h0m-1 2h0m-1 0h0m-4-2h0m-9 1h0m-3 3h0m10 2h0m0 1h0m1 1h0m1-4h0m0 1h0m0 3h0m1-4h0m0 1h0m0 1h0m0 1h0m1-3h0m0 1h0m0 2h0m0 1h0m2-5h0m0 3h0m1-1h0m1-1h0m0 2h0m2-2h0m0 1h0m1-2h0m1 1h0m4 0h0m-13 6h0m-2 2h0m-1-1h0m0-2h0m-1 4h0m0-1h0m-1 1h0m-1-1h0m0-2h0m-1 2h0m0-1h0m-1 1h0m0-2h0m0-1h0m-1 2h0m-1 0h0m-1 3h0m-1 0h0m0-4h0m0-1h0m-4 5h0m-11-2h0m-19 8h0m8-1h0m6 0h0m5-4h0m0 4h0m1-4h0m1 1h0m0 2h0m2-2h0m0 3h0m0 1h0m1 0h0m1-2h0m1 1h0m1-1h0m1-1h0m0 2h0m1 0h0m0 1h0m2-2h0m0 2h0m1-1h0m2-4h0m0 1h0m2-1h0m0 3h0m5-3h0m0 1h0m-7 8h0m-4-1h0m0-1h0m-2 0h0m-3 3h0m-1-1h0m-1-3h0m-1 0h0m-1 0h0m-2 5h0m-1-1h0m0-2h0m0-2h0m-1 3h0m0-2h0m0-1h0m-1 4h0m0-1h0m0-2h0m-2-1h0m-1 4h0m0-1h0m-1-1h0m-1 3h0m0-4h0m-4 4h0m0-1h0m-1 0h0m-1 0h0m-1-3h0m-1 3h0m-2-1h0m-4-3h0m-5 3h0m-18 1h0m-10-1h0m-11 8h0m1 0h0m1 0h0m1 0h0m2 0h0m2 0h0m2-5h0m0 2h0m0 1h0m0 1h0m0 1h0m1-4h0m0 3h0m0 1h0m1-1h0m0 1h0m1-3h0m0 2h0m1 0h0m1-4h0m0 1h0m0 4h0m3-1h0m1-3h0m1 4h0m4-5h0m4 5h0m7-3h0m0 3h0m2 0h0m5-5h0m0 3h0m2 0h0m0 1h0m1 0h0m0 1h0m1-1h0m0 1h0m1-2h0m1 0h0m0 1h0m1-1h0m0 1h0m1-3h0m0 1h0m2-2h0m0 1h0m0 2h0m0 2h0m1-2h0m0 1h0m1-3h0m0 1h0m0 1h0m1 0h0m1-2h0m0 3h0m1-4h0m1 4h0m2-3h0m1 4h0m5-5h0m-8 6h0m-3 0h0m-4 2h0m-2 2h0m0-2h0m-1-2h0m-1 2h0m0-2h0m-1 2h0m-1 3h0m-4-3h0m0-1h0m-1 4h0m0-2h0m0-1h0m-2-1h0m-1 2h0m0-2h0m-1 3h0m0-2h0m0-2h0m-1 4h0m0-1h0m0-1h0m0-2h0m-1 5h0m0-5h0m-1 5h0m0-2h0m0-2h0m-1 4h0m0-4h0m-1 4h0m0-2h0m-1 2h0m0-2h0m-1 0h0m0-1h0m-1 3h0m0-1h0m0-1h0m-1 1h0m0-2h0m-1 0h0m0-1h0m-1 3h0m0-2h0m-1 3h0m0-2h0m-1 2h0m-1 0h0m0-4h0m-1 4h0m0-2h0m0-2h0m-1 2h0m0-2h0m-1 4h0m0-3h0m0-1h0m-1 1h0m0-2h0m-1 3h0m0-1h0m0-1h0m-1 1h0m-1 1h0m0-1h0m0-2h0m-1 4h0m0-1h0m0-2h0m0-1h0m-1 4h0m0-3h0m-1 2h0m0-1h0m0-1h0m-1 3h0m0-1h0m0-3h0m-1 4h0m0-2h0m-1 3h0m0-1h0m0-1h0m0-2h0m0-1h0m-1 2h0m0-2h0m-1 2h0m0-2h0m-2 3h0m-1-1h0m-1 2h0m0-2h0m0-2h0m-1 0h0m-2 4h0m16 3h0m2 0h0m1 1h0m1-1h0m0 1h0m1-1h0m3-1h0m0 1h0m1 0h0m2-1h0m1 1h0m1 2h0m3-3h0m0 2h0m1-2h0m1 1h0m2 4h0m15-5h0" stroke="#f8766d" stroke-width="4.3" stroke-linecap="round" fill="none"/>
<path d="M298 1631h0m6-1h0m5-1h0m4 8h0m0-1h0m-1 0h0m0-1h0m0-2h0m-1 3h0m0-2h0m-1 2h0m-1-1h0m-1 2h0m0-1h0m0-3h0m-1 3h0m-1-1h0m-1 1h0m0-1h0m0-3h0m-2 5h0m0-1h0m0-3h0m-1 3h0m-4 1h0m0-1h0m0-1h0m-12 1h0m-3 3h0m1 4h0m3 0h0m2-1h0m1-4h0m0 4h0m1-2h0m1 3h0m2-2h0m2-3h0m0 1h0m0 1h0m0 1h0m1-2h0m1-1h0m0 1h0m0 1h0m0 2h0m0 1h0m2-3h0m2-1h0m0 1h0m1 0h0m0 1h0m0 1h0m0 1h0m1-4h0m1 1h0m2-2h0m0 1h0m5 0h0m2-1h0m-16 6h0m-2 3h0m-1-2h0m-3 0h0m-1 2h0m0-3h0m-1 4h0m0-4h0m-1 2h0m-1 2h0m0-1h0m-1-1h0m-3-1h0m0-1h0m-2 2h0m-1 0h0m3 4h0m4 1h0m4-1h0" stroke="#a3a500" stroke-width="4.3" stroke-linecap="round" fill="none"/>
<path d="M333 1624h0m32 7h0m0-1h0m-3-4h0m-2 4h0m0-2h0m-2 2h0m-1 1h0m0-1h0m-1 0h0m-7 0h0m-1-1h0m-1 0h0m-2-1h0m-3-1h0m-3-1h0m-5 2h0m-3-2h0m25 7h0m1-1h0m4 1h0m2 0h0m0 1h0m1 2h0m1-4h0m0 1h0m1 0h0m2 1h0m1 0h0m0 1h0m1-2h0m2 0h0m0 1h0m0 1h0m2-3h0m0 3h0m0 2h0m1-5h0m1 4h0m3-1h0m3 1h0m3 0h0m1 1h0m6-3h0m9 2h0m23 7h0m-3-1h0m-2-1h0m-3 2h0m-2-1h0m-1 1h0m0-1h0m0-1h0m-1 0h0m-1 2h0m0-2h0m0-1h0m-1 3h0m0-1h0m-1 0h0m0-2h0m-1 2h0m0-1h0m-1 2h0m-1-1h0m-3-2h0m0-2h0m-1 3h0m0-1h0m-1-2h0m-2 2h0m-1 3h0m-1-1h0m0-3h0m-2 3h0m-3 0h0m0-4h0m-1 2h0m-1-1h0m-1 0h0m-1 2h0m0-2h0m-2-1h0m-1 0h0m-3 1h0m-3-1h0m-1 0h0m-1 1h0m-5-1h0m-10 0h0m35 6h0m1 1h0m10 0h0m2-1h0m1 0h0m0 3h0m2 0h0m1-3h0m5 2h0m1-2h0m1 3h0m1-2h0m1 1h0m0 1h0m1-2h0m1 1h0m1 2h0m1-1h0m1-3h0m0 2h0m1-1h0m0 4h0m1-2h0m1-2h0m0 1h0m0 1h0m1 2h0m1-3h0m1 1h0m3-3h0m1 3h0m0 2h0m1-5h0m1 2h0m1 3h0m1-3h0m1 1h0m1 0h0m2 2h0m1 0h0m2-2h0m0 2h0m2-3h0m0 3h0m1-1h0m2 1h0m6 0h0m2 0h0m12 0h0m45 5h0m-1 1h0m0-1h0m-1-1h0m-2 2h0m-1-1h0m0-2h0m-2 3h0m-1 0h0m-1-1h0m-1 1h0m-1-1h0m0-2h0m-1 3h0m-11-1h0m-2 1h0m-1-2h0m-5 2h0m-2 0h0m0-1h0m-1 0h0m0-2h0m-1 2h0m0-1h0m-2-1h0m-2 2h0m0-1h0m-2 2h0m-1 0h0m-1-5h0m-6 1h0m-3 4h0m0-2h0m-1-3h0m-1 1h0m-3 2h0m-1-2h0m-3 2h0m0-2h0m-1 0h0m0-1h0m-2 3h0m-4-2h0m-1-1h0m-1 0h0m-1 3h0m-2-3h0m-2 2h0m-2-1h0m-3-1h0m-1 0h0m-1 1h0m-8 0h0m47 5h0m1 0h0m6 0h0m1 0h0m0 3h0m7-2h0m0 2h0m1-3h0m0 1h0m2-1h0m0 3h0m1-1h0m3-2h0m1 0h0m0 2h0m1-1h0m0 1h0m0 1h0m2-3h0m0 2h0m0 1h0m1 1h0m1-3h0m0 2h0m0 1h0m1-3h0m0 1h0m3-2h0m1 3h0m1-3h0m0 4h0m1-4h0m0 1h0m0 2h0m1-3h0m0 2h0m0 2h0m1-3h0m0 1h0m0 1h0m0 1h0m1-3h0m0 2h0m1-2h0m0 2h0m1 1h0m1-4h0m0 1h0m0 1h0m0 1h0m0 1h0m0 1h0m1-4h0m0 3h0m1-2h0m0 1h0m0 1h0m1-1h0m1-3h0m0 1h0m2 4h0m1-4h0m1 1h0m2 2h0m1 0h0m1-3h0m0 2h0m-11 5h0m-1-2h0m-7 2h0m2 4h0" stroke="#00bf7d" stroke-width="4.3" stroke-linecap="round" fill="none"/>
<path d="M190 1510h0m5 0h0m35 7h0m-28 2h0m1 4h0m3-5h0m0 4h0m5 1h0m1-1h0m1-3h0m0 4h0m2 0h0m1-3h0m0 2h0m4 0h0m1 0h0m2-3h0m1 3h0m8-4h0m4 1h0m1 4h0m3-2h0m1 7h0m0-2h0m-2 3h0m-1-2h0m-4-2h0m-1 3h0m-2 1h0m0-2h0m0-1h0m-3 3h0m-1-1h0m-5-2h0m-1 3h0m0-1h0m0-2h0m-1-2h0m-1 1h0m-6-1h0m-2 3h0m-2 1h0m-2 0h0m-1 0h0m-1 0h0m4 6h0m13-2h0m1-1h0m4 1h0m4 3h0m3-3h0m1-1h0m3-1h0m1 2h0m5-2h0m5 1h0m1 4h0m2-1h0m1 0h0m1-1h0m5 7h0m-3-1h0m-1-1h0m-1 0h0m-2 1h0m-1-2h0m-1-1h0m-1 3h0m-2-3h0m-1 0h0m-6 1h0m0-1h0m-1 1h0m0-1h0m-1 5h0m-3 0h0m-5-5h0m6 10h0m2-4h0m5 3h0m2-1h0m3-1h0m6-1h0m-1 7h0m-2 2h0m17 9h0m23 14h0m0 18h0m3 3h0" stroke="#00b0f6" stroke-width="4.3" stroke-linecap="round" fill="none"/>
<path d="M229 1619h0m3-1h0m21 7h0m-8 0h0m-3-1h0m-3 0h0m0-2h0m0-1h0m-1 0h0m-2 2h0m0-2h0m-3 4h0m0-3h0m-1 1h0m-1-2h0m0-1h0m-1 1h0m-1 2h0m-1-3h0m0 6h0m3 0h0m0 2h0m1-2h0m1 2h0m1 0h0m0 3h0m1-4h0m1-1h0m2 0h0m1 2h0m0 2h0m2-4h0m1 2h0m1-2h0m0 3h0m0 1h0m1-4h0m1 3h0m0 1h0m1 1h0m4-1h0m2-3h0m0 4h0m17-1h0m-2 6h0m-1 0h0m-2 1h0m0-2h0m-1 2h0m-2 0h0m0-2h0m0-1h0m-1 0h0m-1-2h0m-1 5h0m0-1h0m-1-2h0m0-2h0m-3 3h0m-1-2h0m-1 3h0m-1 0h0m0-4h0m-1 1h0m0-1h0m-1 0h0m-1 4h0m-1-4h0m-1 3h0m-2-2h0m-1 0h0m8 5h0m6 1h0m5 4h0m2-3h0m1 0h0m1 2h0m-14 2h0" stroke="#e76bf3" stroke-width="4.3" stroke-linecap="round" fill="none"/>
<path d="M261 1558.4L307.1 1619.4L274.1 1643.3L251.9 1662.2M307.1 1619.4L359.9 1630.6" stroke="#111" stroke-width="1.3" fill="none"/>
<circle cx="274.1" cy="1643.3" r="6.3" fill="#111"/>
<text x="274.1" y="1647.5" font-size="11.5" text-anchor="middle" font-weight="bold" fill="#fff">1</text>
<circle cx="307.1" cy="1619.4" r="6.3" fill="#111"/>
<text x="307.1" y="1623.6" font-size="11.5" text-anchor="middle" font-weight="bold" fill="#fff">2</text>
<path d="M163.2 1673.5C164.2 1673.9 166.5 1676 169.4 1676.3C172.4 1676.5 177.1 1675.8 181 1674.9C184.8 1674.1 188.5 1673 192.5 1671.3C196.5 1669.7 200.9 1667 204.9 1665C208.9 1663.1 212.9 1661.6 216.4 1659.4C220 1657.3 223.8 1654.6 226.3 1652.4C228.9 1650.1 231 1648 231.8 1645.8C232.5 1643.6 232.1 1641 230.8 1639.2C229.4 1637.4 226.6 1636.7 223.5 1635C220.4 1633.4 214.2 1630.2 212.3 1629.3" stroke="#111" stroke-width="1.1" fill="none" stroke-dasharray="12 9"/>
<path d="M192.5 1673.9C193.6 1674.1 196.2 1675.4 199.1 1674.9C202 1674.4 206.2 1672.5 209.8 1671C213.5 1669.4 217 1667.5 220.9 1665.5C224.7 1663.5 229.3 1661.3 232.9 1658.9C236.6 1656.6 239.6 1654.4 242.8 1651.5C246 1648.6 249 1644.9 251.9 1641.6C254.7 1638.3 258 1635.6 260.1 1631.8C262.2 1627.9 263.7 1622.5 264.7 1618.6C265.8 1614.6 266.3 1611.7 266.4 1607.9C266.4 1604 265.8 1599.6 265 1595.5C264.3 1591.4 263.3 1587.1 261.8 1583.1C260.2 1579.1 258 1575 255.5 1571.6C253 1568.2 250.3 1565.3 246.9 1562.5C243.6 1559.8 238.4 1556.7 235.4 1555.1C232.4 1553.5 229.9 1553.3 228.8 1553" stroke="#111" stroke-width="1.1" fill="none" stroke-dasharray="12 9"/>
<path d="M498.6 1609.5C493.6 1609.4 479.2 1610.1 468.3 1609C457.4 1608 452.8 1607.8 433.3 1603.3C413.7 1598.9 366.4 1586.8 350.8 1582.3C335.1 1577.8 343.2 1578.7 339.2 1576.5C335.2 1574.3 330.4 1571.5 326.9 1569.1C323.3 1566.8 321 1565.3 317.8 1562.5C314.6 1559.8 310.8 1555.9 307.9 1552.6C305 1549.3 302.5 1546 300.5 1542.7C298.4 1539.4 296.6 1536 295.5 1532.9C294.5 1529.7 294.3 1525.3 294.1 1523.8" stroke="#111" stroke-width="1.1" fill="none" stroke-dasharray="12 9"/>
<path d="M207.4 1626.8L216.8 1627.3L212 1629.2L213.3 1634.2Z" fill="#111"/>
<path d="M224.2 1552L233.5 1550L229.3 1553.1L231.8 1557.6Z" fill="#111"/>
<path d="M293.4 1519L298.3 1527.1L294 1524.2L290.6 1528.1Z" fill="#111"/>
<path d="M129.6 1501.8V1715.6H545.3" stroke="#333" stroke-width="1.1" fill="none"/>
<text x="162.4" y="1731.6" font-size="12.8" text-anchor="middle" fill="#4d4d4d">−4</text>
<text x="255.8" y="1731.6" font-size="12.8" text-anchor="middle" fill="#4d4d4d">−2</text>
<text x="349.2" y="1731.6" font-size="12.8" text-anchor="middle" fill="#4d4d4d">0</text>
<text x="442.6" y="1731.6" font-size="12.8" text-anchor="middle" fill="#4d4d4d">2</text>
<text x="536" y="1731.6" font-size="12.8" text-anchor="middle" fill="#4d4d4d">4</text>
<text x="123.6" y="1709.5" font-size="12.8" text-anchor="end" fill="#4d4d4d">−2</text>
<text x="123.6" y="1659.9" font-size="12.8" text-anchor="end" fill="#4d4d4d">0</text>
<text x="123.6" y="1610.3" font-size="12.8" text-anchor="end" fill="#4d4d4d">2</text>
<text x="123.6" y="1560.7" font-size="12.8" text-anchor="end" fill="#4d4d4d">4</text>
<text x="123.6" y="1511.1" font-size="12.8" text-anchor="end" fill="#4d4d4d">6</text>
<path d="M162.4 1715.6v3.5M255.8 1715.6v3.5M349.2 1715.6v3.5M442.6 1715.6v3.5M536 1715.6v3.5M129.6 1705h-3.5M129.6 1655.4h-3.5M129.6 1605.8h-3.5M129.6 1556.2h-3.5M129.6 1506.6h-3.5" stroke="#333" stroke-width="1.1" fill="none"/>
<path d="M736.6 1548.5L790.2 1619.4L757.2 1643.3L751.4 1653.5L738.3 1663.1L721.8 1674.3L705.3 1684.2L688.8 1692.4L672.3 1699L657.5 1703M790.2 1619.4L843 1630.6L862.5 1636.6L903.8 1645L944.8 1651.2L980.8 1656.4L1005.1 1657.4" stroke="#111" stroke-width="1.3" fill="none"/>
<path d="M644.3 1701.5C646.5 1701.7 652.8 1703.4 657.5 1703C662.2 1702.5 667.1 1700.8 672.3 1699C677.5 1697.2 683.3 1694.9 688.8 1692.4C694.3 1689.9 699.8 1687.2 705.3 1684.2C710.8 1681.1 716.3 1677.8 721.8 1674.3C727.3 1670.8 733.3 1666.5 738.3 1663.1C743.2 1659.6 746.9 1656.4 751.4 1653.5C756 1650.6 763.1 1647.1 765.5 1645.8" stroke="#f8766d" stroke-width="7.5" stroke-linecap="round" stroke-linejoin="round" fill="none"/>
<path d="M862.5 1636.6C869.4 1638 890 1642.5 903.8 1645C917.5 1647.4 932 1649.3 944.8 1651.2C957.7 1653.1 970.8 1655.4 980.8 1656.4C990.8 1657.4 1001 1657.2 1005.1 1657.4" stroke="#00bf7d" stroke-width="5.5" stroke-linecap="round" stroke-linejoin="round" fill="none"/>
<path d="M766.6 1646.3C771.1 1643.9 789.4 1634.2 793.9 1631.8" stroke="#a3a500" stroke-width="6" stroke-linecap="round" stroke-linejoin="round" fill="none"/>
<path d="M752 1649h0m1-2h0m0 1h0m1 1h0m3-2h0m0 2h0m1-2h0m1 1h0m1-1h0m0 1h0m0 1h0m1-3h0m1-1h0m0 2h0m0 1h0m0 1h0m1-1h0m1-1h0m0 1h0m1-2h0m0 1h0m0 1h0m-2 2h0m-2 0h0m-2 0h0m-1 1h0m-1 1h0m0-1h0m-1 3h0m0-3h0m-1-1h0m-1 3h0m0-2h0m0-1h0m-1 2h0m0-2h0m-1 5h0m0-2h0m0-1h0m-1 2h0m0-1h0m0-1h0m-1 0h0m0-1h0m-3 3h0m0-4h0m-1 4h0m-1-1h0m-2 2h0m-2-1h0m-18 3h0m3 4h0m3-3h0m7-1h0m0 3h0m1-3h0m1 0h0m1-1h0m1 4h0m0 1h0m1-1h0m0 1h0m1-1h0m1-3h0m0 4h0m1-1h0m1-1h0m0 1h0m1-4h0m0 1h0m0 1h0m2-1h0m0 1h0m2-1h0m0 1h0m1-1h0m2-1h0m4 0h0m-13 6h0m-2 2h0m-1-1h0m-1 0h0m0-1h0m-1 4h0m0-2h0m-1 3h0m0-3h0m0-1h0m-1 3h0m0-4h0m-1 4h0m-1-3h0m-1 3h0m0-1h0m0-2h0m-1 2h0m-2-2h0m-2 4h0m-4 0h0m0-2h0m-26 6h0m10 2h0m1-1h0m1 1h0m1-2h0m4 2h0m1-1h0m2-3h0m0 4h0m2-3h0m1-1h0m0 3h0m1 1h0m1-4h0m0 3h0m2-1h0m0 1h0m1-3h0m0 1h0m0 2h0m1 1h0m2-5h0m0 1h0m1 2h0m0 2h0m2-4h0m1-1h0m0 2h0m1 1h0m-8 3h0m-1 0h0m-3 1h0m0-1h0m-1 2h0m-1 0h0m0-1h0m0-1h0m-2 4h0m-1 0h0m0-1h0m0-1h0m0-1h0m0-1h0m-1 4h0m-3 0h0m0-1h0m-3 2h0m-3-3h0m-4 3h0m-1-3h0m0-2h0m-1 5h0m-7-3h0m-7 8h0m10-1h0m1 1h0m2 0h0m1-2h0m0 1h0m0 2h0m2 0h0m1-3h0m0 1h0m2 1h0m2-4h0m0 1h0m1 0h0m0 1h0m0 1h0m1-3h0m0 2h0m2-2h0m1 1h0m0 1h0m1-2h0m0 3h0m2-3h0m0 1h0m-8 5h0m-2 0h0m-2 4h0m0-4h0m-1 2h0m0-1h0m0-1h0m-1 4h0m0-4h0m-1 5h0m0-4h0m-1 2h0m0-2h0m0-1h0m-2 0h0m-1 1h0m-1-1h0m-1 4h0m0-1h0m-1 0h0m0-1h0m-1 0h0m-1 3h0m0-4h0m-1 2h0m-2 2h0m-1 0h0m0-1h0m-1 1h0m-1-2h0m-4 2h0m-11 0h0m-24-1h0m-17 7h0m2-2h0m2 0h0m0 1h0m0 1h0m2-1h0m1 0h0m0 1h0m3-4h0m0 2h0m1 0h0m1 0h0m0 2h0m1-5h0m0 5h0m1-1h0m2-4h0m0 5h0m2-3h0m0 2h0m1-3h0m0 2h0m0 2h0m1 0h0m3-3h0m8 0h0m7-1h0m1 4h0m3-2h0m1-1h0m0 2h0m1 0h0m3-4h0m0 2h0m0 2h0m2-2h0m0 2h0m1-4h0m0 3h0m1-2h0m0 1h0m1 1h0m0 1h0m2-4h0m1 1h0m0 1h0m0 2h0m1-3h0m1-1h0m1 5h0m2-5h0m2 0h0m0 3h0m1-3h0m-11 8h0m0-2h0m-1 0h0m-2 5h0m0-5h0m-2 1h0m-1 0h0m0-1h0m-1 0h0m-3 3h0m-1 0h0m-1 2h0m0-2h0m0-1h0m-1 2h0m-1-2h0m-1-2h0m-2 4h0m0-1h0m0-1h0m-1 2h0m0-1h0m-1-1h0m0-1h0m0-1h0m-1 5h0m0-2h0m-1 2h0m0-1h0m-1-1h0m-1-1h0m0-1h0m-1 4h0m0-4h0m-1 4h0m0-1h0m-1 1h0m0-3h0m-1 2h0m-1 0h0m-1-1h0m0-2h0m-3 4h0m-1 0h0m0-1h0m0-2h0m0-2h0m-1 4h0m0-1h0m-1 1h0m0-1h0m-1 2h0m-1-1h0m0-2h0m0-2h0m-1 3h0m-1 2h0m0-2h0m0-1h0m0-1h0m0-1h0m-1 3h0m0-1h0m0-1h0m0-1h0m-1 2h0m0-1h0m-1 3h0m0-2h0m0-2h0m-2 4h0m0-4h0m-1 1h0m-1 4h0m0-1h0m0-2h0m-1 1h0m0-1h0m-1 2h0m0-2h0m0-2h0m-1 2h0m-1 2h0m10 3h0m1 1h0m1-2h0m3 0h0m1 0h0m1 1h0m1 0h0m1-1h0m0 1h0m1-1h0m1 0h0m0 1h0m1 0h0m2 0h0m2 0h0m0 3h0m1-3h0m1 0h0m3-1h0" stroke="#f8766d" stroke-width="4.3" stroke-linecap="round" fill="none"/>
<path d="M788 1631h0m9 6h0m-2-5h0m-1 4h0m0-1h0m0-1h0m-2 3h0m0-1h0m-2-1h0m0-3h0m-1 3h0m0-2h0m-1 3h0m0-1h0m-1 1h0m-1 1h0m0-2h0m0-2h0m-2 0h0m-1 3h0m-1 1h0m0-1h0m-2-2h0m-1 3h0m-3-2h0m-2 1h0m-12 5h0m2 2h0m3 0h0m1-1h0m1-4h0m1 3h0m0 2h0m1 0h0m2 0h0m2-4h0m0 1h0m0 3h0m1-5h0m0 5h0m1-3h0m0 3h0m1-4h0m0 1h0m0 1h0m1-1h0m1 0h0m1-1h0m0 1h0m2-1h0m0 1h0m0 2h0m1-1h0m1-1h0m1-2h0m0 2h0m0 3h0m2-3h0m2 0h0m2-2h0m0 2h0m0 1h0m2-3h0m-16 8h0m-2-1h0m-1 1h0m-1 1h0m0-1h0m0-1h0m-1 2h0m0-2h0m-1 3h0m-2 1h0m-1-5h0m-2 1h0m0-1h0m-1 5h0m0-4h0m0-1h0m-1 4h0m0-4h0m1 6h0m4 0h0" stroke="#a3a500" stroke-width="4.3" stroke-linecap="round" fill="none"/>
<path d="M816 1625h0m36 4h0m-1 2h0m-1 0h0m-1-1h0m-1 1h0m0-1h0m-2 0h0m0-1h0m-1 2h0m0-2h0m-2 2h0m-1 0h0m-1 0h0m-1-1h0m0-1h0m-1 0h0m0-1h0m-2 1h0m-5 0h0m0-1h0m0-1h0m-2-1h0m-1 1h0m-4 2h0m-4-3h0m-4 0h0m22 6h0m2 0h0m8 4h0m1-4h0m2 1h0m0 2h0m2-2h0m0 2h0m3 0h0m1 0h0m1 1h0m1-3h0m0 2h0m1-1h0m0 3h0m1-5h0m0 5h0m5 0h0m1-2h0m1 2h0m5-3h0m33 9h0m-1-2h0m-1 0h0m-3 2h0m-4-1h0m-1 1h0m-1 0h0m-1-1h0m-1 1h0m-3 0h0m-1-3h0m-1 3h0m0-1h0m0-3h0m-1 1h0m-2 3h0m-3 0h0m0-3h0m-2 2h0m0-2h0m-1 2h0m0-1h0m-1-2h0m-2 2h0m-1-1h0m-1-1h0m-3-1h0m-2 2h0m-3 0h0m0-2h0m-2 0h0m-2 0h0m25 6h0m1 2h0m2 3h0m1-4h0m3 0h0m2 0h0m1 1h0m2 0h0m2-1h0m2 1h0m1 1h0m1-3h0m0 4h0m2-3h0m0 1h0m2-1h0m0 1h0m0 3h0m1-5h0m3 3h0m1-3h0m0 4h0m1-2h0m0 1h0m0 2h0m1-5h0m1 2h0m2 2h0m2-2h0m1-2h0m0 4h0m2 0h0m1 0h0m1-2h0m2 2h0m3-1h0m2-1h0m1 1h0m0 1h0m1 1h0m1-3h0m3 3h0m1-1h0m1 0h0m1-1h0m0 2h0m6 0h0m1-1h0m6 1h0m53 6h0m-5-1h0m0-2h0m-2 3h0m-1 0h0m0-1h0m-1 1h0m0-5h0m-3 5h0m-2 0h0m-1 0h0m-2-1h0m-1 1h0m-4 0h0m-5 0h0m-4-1h0m-1 1h0m-4-2h0m0-1h0m-1 0h0m-2-1h0m-1 2h0m-1 2h0m-1-1h0m-3-2h0m-2 3h0m-3-5h0m-1 5h0m-2 0h0m-1 0h0m-1-4h0m-2 2h0m0-2h0m-2-1h0m-1 5h0m0-1h0m-2 0h0m0-2h0m-1 2h0m0-3h0m0-1h0m-2 5h0m0-1h0m-2 0h0m0-4h0m-1 0h0m-2 2h0m0-2h0m-2 0h0m-1 0h0m-1 1h0m-1 0h0m-1 0h0m-1 1h0m-4-2h0m-1 0h0m-3 0h0m-6 1h0m-1-1h0m-3 1h0m-3 0h0m43 5h0m3 0h0m4 0h0m3 0h0m6 0h0m2 4h0m1-4h0m0 1h0m2 1h0m1-2h0m1 0h0m0 1h0m0 1h0m4 1h0m1-1h0m0 1h0m3-2h0m0 1h0m1 0h0m1 1h0m2-2h0m1 2h0m0 1h0m1 1h0m1-5h0m0 1h0m0 1h0m1-1h0m1 0h0m0 1h0m1-2h0m0 1h0m0 1h0m1 1h0m0 1h0m1-3h0m0 1h0m1-1h0m0 1h0m0 1h0m1-3h0m0 3h0m1-1h0m1 0h0m0 1h0m0 2h0m1-2h0m0 1h0m2-3h0m0 1h0m0 2h0m2-3h0m0 1h0m0 2h0m1-3h0m1-1h0m0 1h0m-1 7h0m-2 1h0m-2-3h0m-4 0h0m-1 1h0m-2-1h0" stroke="#00bf7d" stroke-width="4.3" stroke-linecap="round" fill="none"/>
<path d="M700 1511h0m12 1h0m-1 3h0m0-3h0m-2 5h0m-1-3h0m-2 3h0m-4 0h0m0-2h0m-2 2h0m-1-1h0m-2-1h0m-4 1h0m0-2h0m-6 3h0m-8-1h0m-11-1h0m19 4h0m0 2h0m0 2h0m1-1h0m1-3h0m0 2h0m1-2h0m0 2h0m1-2h0m0 1h0m0 2h0m1 0h0m3 0h0m1 0h0m1-1h0m1-3h0m0 3h0m1 1h0m0 1h0m1-3h0m1 3h0m1-5h0m0 1h0m1 1h0m0 1h0m0 1h0m1 1h0m1-1h0m1-4h0m0 4h0m0 1h0m1-1h0m0 1h0m2-1h0m1 0h0m1-2h0m0 3h0m1-1h0m1-2h0m1 3h0m1-4h0m0 1h0m0 2h0m1-4h0m1 4h0m5 0h0m1 0h0m8-2h0m1 8h0m-3-1h0m-2 2h0m-2-2h0m-3-2h0m-1 3h0m-2-2h0m0-2h0m-1 5h0m0-3h0m0-2h0m-1 5h0m0-1h0m0-3h0m0-1h0m-1 2h0m0-1h0m-1 3h0m0-4h0m-1 4h0m-1 1h0m0-1h0m0-1h0m-1 2h0m-1-1h0m0-2h0m-2 2h0m0-2h0m0-2h0m-2 5h0m0-2h0m0-2h0m-1 3h0m0-3h0m-1 2h0m0-1h0m0-1h0m-1 4h0m0-4h0m0-1h0m-1 3h0m-1 1h0m0-2h0m0-2h0m-1 0h0m-1 3h0m0-3h0m-1 5h0m0-5h0m-1 1h0m-1 1h0m0-1h0m0-1h0m-1 0h0m-1 0h0m-1 4h0m0-1h0m0-1h0m0-2h0m-1 3h0m0-1h0m0-1h0m-1 4h0m-2 0h0m0-5h0m-1 5h0m0-1h0m0-1h0m-1 2h0m0-2h0m-1 0h0m3 3h0m0 1h0m0 3h0m1-4h0m0 1h0m1 4h0m2-4h0m1 0h0m0 3h0m1-2h0m0 2h0m1-2h0m4-2h0m1 1h0m1 0h0m2 2h0m1-1h0m0 1h0m3 1h0m2-3h0m0 1h0m1-2h0m0 2h0m0 3h0m1-4h0m0 2h0m1 2h0m1-4h0m0 1h0m0 1h0m1-3h0m0 1h0m1-1h0m0 2h0m1 0h0m0 3h0m1 0h0m1-2h0m1-1h0m0 2h0m1-4h0m0 3h0m0 1h0m1 0h0m1-4h0m0 1h0m0 4h0m1-4h0m1-1h0m0 1h0m0 3h0m1-1h0m1-2h0m1 0h0m0 2h0m0 1h0m2-1h0m1-3h0m1 3h0m2-2h0m5 3h0m1-4h0m0 3h0m6-1h0m-4 6h0m-1-1h0m-1 2h0m-1 2h0m-1 0h0m0-2h0m-1 2h0m0-5h0m-1 5h0m-1-2h0m0-2h0m-1-1h0m-1 3h0m0-1h0m0-2h0m-1 3h0m0-1h0m0-1h0m-1 4h0m0-3h0m-1 3h0m-2 0h0m0-4h0m-1 4h0m0-2h0m-1 0h0m-1 2h0m-1 0h0m0-4h0m-1 2h0m-1-3h0m-2 1h0m-2 0h0m-4 0h0m0-1h0m-1 0h0m-8 0h0m11 8h0m2-2h0m1 1h0m2 2h0m0 2h0m3-3h0m2-1h0m0 3h0m1-3h0m1 0h0m0 1h0m0 1h0m1-3h0m0 3h0m1-3h0m0 3h0m0 1h0m0 1h0m1-5h0m0 2h0m0 1h0m1 0h0m2-2h0m2 0h0m0 1h0m1-2h0m0 2h0m1-1h0m1-1h0m6 3h0m5 1h0m-1 3h0m-2 1h0m-12-1h0m-1 2h0m-1 0h0m0-3h0m-1 0h0m-1 4h0m0-1h0m-1-3h0m-1 0h0m-1 0h0m-1 1h0m21 5h0m4 1h0m8 7h0m-5-2h0m-4 1h0m2 5h0m2 2h0m6-2h0m12 11h0m-1 0h0m-6 0h0m-1-4h0m-3 2h0m-2 1h0m0-1h0m11 3h0m5 5h0m2 0h0m6 4h0m-9 6h0m2-1h0m2 3h0m1-2h0m1 0h0m8 4h0m-10 1h0m4 7h0m9 4h0m-3 0h0" stroke="#00b0f6" stroke-width="4.3" stroke-linecap="round" fill="none"/>
<path d="M710 1624h0m1-4h0m1 3h0m1-2h0m1-1h0m1 0h0m0 1h0m0 4h0m1-1h0m0 1h0m1-1h0m1-4h0m2 2h0m0 3h0m2-4h0m1-1h0m1 0h0m0 5h0m4-1h0m3 1h0m16 5h0m-1-2h0m-2 3h0m-5-1h0m-1 0h0m-2 1h0m-2 0h0m0-2h0m-1 1h0m-1 0h0m0-1h0m-2 0h0m-1 0h0m0-1h0m-2-1h0m-1 1h0m0-2h0m-1 3h0m0-2h0m-1 0h0m-1-1h0m-1 5h0m0-1h0m0-4h0m-3 1h0m-5-1h0m-1 2h0m9 4h0m4 0h0m1 0h0m0 3h0m1-3h0m1 2h0m1 3h0m1-5h0m1 1h0m0 1h0m1-2h0m1 5h0m1-5h0m1 4h0m1-2h0m4-1h0m3 2h0m0 2h0m1-2h0m0 1h0m1-2h0m1 2h0m1-4h0m0 2h0m0 3h0m1-1h0m0 3h0m0-1h0m-1 4h0m-3-1h0m0-1h0m-4-1h0m-7 0h0" stroke="#e76bf3" stroke-width="4.3" stroke-linecap="round" fill="none"/>
<path d="M744.1 1558.4L790.2 1619.4L757.2 1643.3L735 1662.2M790.2 1619.4L843 1630.6" stroke="#111" stroke-width="1.3" fill="none"/>
<circle cx="757.2" cy="1643.3" r="6.3" fill="#111"/>
<text x="757.2" y="1647.5" font-size="11.5" text-anchor="middle" font-weight="bold" fill="#fff">1</text>
<circle cx="790.2" cy="1619.4" r="6.3" fill="#111"/>
<text x="790.2" y="1623.6" font-size="11.5" text-anchor="middle" font-weight="bold" fill="#fff">2</text>
<path d="M646.3 1673.5C647.3 1673.9 649.6 1676 652.5 1676.3C655.5 1676.5 660.2 1675.8 664.1 1674.9C667.9 1674.1 671.6 1673 675.6 1671.3C679.6 1669.7 684 1667 688 1665C692 1663.1 696 1661.6 699.5 1659.4C703.1 1657.3 706.9 1654.6 709.4 1652.4C712 1650.1 714.1 1648 714.9 1645.8C715.6 1643.6 715.2 1641 713.9 1639.2C712.5 1637.4 709.7 1636.7 706.6 1635C703.5 1633.4 697.3 1630.2 695.4 1629.3" stroke="#111" stroke-width="1.1" fill="none" stroke-dasharray="12 9"/>
<path d="M675.6 1673.9C676.7 1674.1 679.3 1675.4 682.2 1674.9C685.1 1674.4 689.3 1672.5 692.9 1671C696.6 1669.4 700.1 1667.5 704 1665.5C707.8 1663.5 712.4 1661.3 716 1658.9C719.7 1656.6 722.7 1654.4 725.9 1651.5C729.1 1648.6 732.1 1644.9 735 1641.6C737.8 1638.3 741.1 1635.6 743.2 1631.8C745.3 1627.9 746.8 1622.5 747.8 1618.6C748.9 1614.6 749.4 1611.7 749.5 1607.9C749.5 1604 748.9 1599.6 748.1 1595.5C747.4 1591.4 746.4 1587.1 744.9 1583.1C743.3 1579.1 741.1 1575 738.6 1571.6C736.1 1568.2 733.4 1565.3 730 1562.5C726.7 1559.8 721.5 1556.7 718.5 1555.1C715.5 1553.5 713 1553.3 711.9 1553" stroke="#111" stroke-width="1.1" fill="none" stroke-dasharray="12 9"/>
<path d="M981.7 1609.5C976.7 1609.4 962.3 1610.1 951.4 1609C940.5 1608 935.9 1607.8 916.4 1603.3C896.8 1598.9 849.5 1586.8 833.9 1582.3C818.2 1577.8 826.3 1578.7 822.3 1576.5C818.3 1574.3 813.5 1571.5 810 1569.1C806.4 1566.8 804.1 1565.3 800.9 1562.5C797.7 1559.8 793.9 1555.9 791 1552.6C788.1 1549.3 785.6 1546 783.6 1542.7C781.5 1539.4 779.7 1536 778.6 1532.9C777.6 1529.7 777.4 1525.3 777.2 1523.8" stroke="#111" stroke-width="1.1" fill="none" stroke-dasharray="12 9"/>
<path d="M690.5 1626.8L699.9 1627.3L695.1 1629.2L696.4 1634.2Z" fill="#111"/>
<path d="M707.3 1552L716.6 1550L712.4 1553.1L714.9 1557.6Z" fill="#111"/>
<path d="M776.5 1519L781.4 1527.1L777.1 1524.2L773.7 1528.1Z" fill="#111"/>
<path d="M613.2 1501.8V1716.7H1028.4" stroke="#333" stroke-width="1.1" fill="none"/>
<text x="645.5" y="1732.7" font-size="12.8" text-anchor="middle" fill="#4d4d4d">−4</text>
<text x="738.9" y="1732.7" font-size="12.8" text-anchor="middle" fill="#4d4d4d">−2</text>
<text x="832.3" y="1732.7" font-size="12.8" text-anchor="middle" fill="#4d4d4d">0</text>
<text x="925.7" y="1732.7" font-size="12.8" text-anchor="middle" fill="#4d4d4d">2</text>
<text x="1019.1" y="1732.7" font-size="12.8" text-anchor="middle" fill="#4d4d4d">4</text>
<text x="607.2" y="1709.5" font-size="12.8" text-anchor="end" fill="#4d4d4d">−2</text>
<text x="607.2" y="1659.9" font-size="12.8" text-anchor="end" fill="#4d4d4d">0</text>
<text x="607.2" y="1610.3" font-size="12.8" text-anchor="end" fill="#4d4d4d">2</text>
<text x="607.2" y="1560.7" font-size="12.8" text-anchor="end" fill="#4d4d4d">4</text>
<text x="607.2" y="1511.1" font-size="12.8" text-anchor="end" fill="#4d4d4d">6</text>
<path d="M645.5 1716.7v3.5M738.9 1716.7v3.5M832.3 1716.7v3.5M925.7 1716.7v3.5M1019.1 1716.7v3.5M613.2 1705h-3.5M613.2 1655.4h-3.5M613.2 1605.8h-3.5M613.2 1556.2h-3.5M613.2 1506.6h-3.5" stroke="#333" stroke-width="1.1" fill="none"/>
<path d="M1219.2 1551.3L1272.3 1621.2L1239.7 1644.8L1233.9 1654.8L1220.9 1664.3L1204.5 1675.3L1188.2 1685.1L1171.8 1693.2L1155.5 1699.7L1140.8 1703.6M1272.3 1621.2L1324.7 1632.2L1344.1 1638.1L1384.9 1646.4L1425.7 1652.5L1461.3 1657.7L1485.4 1658.7" stroke="#111" stroke-width="1.3" fill="none"/>
<path d="M1127.7 1702.1C1129.9 1702.4 1136.2 1704 1140.8 1703.6C1145.4 1703.2 1150.3 1701.4 1155.5 1699.7C1160.7 1698 1166.4 1695.6 1171.8 1693.2C1177.3 1690.7 1182.7 1688 1188.2 1685.1C1193.6 1682.1 1199.1 1678.8 1204.5 1675.3C1210 1671.8 1216 1667.7 1220.9 1664.3C1225.8 1660.8 1229.4 1657.7 1233.9 1654.8C1238.4 1652 1245.5 1648.5 1247.8 1647.2" stroke="#f8766d" stroke-width="7.5" stroke-linecap="round" stroke-linejoin="round" fill="none"/>
<path d="M1344.1 1638.1C1350.9 1639.5 1371.3 1644 1384.9 1646.4C1398.5 1648.8 1413 1650.7 1425.7 1652.5C1438.4 1654.4 1451.4 1656.7 1461.3 1657.7C1471.3 1658.7 1481.4 1658.5 1485.4 1658.7" stroke="#00bf7d" stroke-width="5.5" stroke-linecap="round" stroke-linejoin="round" fill="none"/>
<path d="M1248.9 1647.7C1253.4 1645.3 1271.5 1635.8 1276 1633.4" stroke="#a3a500" stroke-width="6" stroke-linecap="round" stroke-linejoin="round" fill="none"/>
<path d="M1234 1648h0m5 0h0m1 1h0m1-5h0m0 2h0m0 1h0m2-1h0m0 1h0m1-3h0m0 4h0m1-1h0m0 1h0m1-1h0m2 1h0m0 2h0m-1 3h0m0-3h0m-1 2h0m0-1h0m0-1h0m-1 3h0m-3 1h0m-1-2h0m0-2h0m-1 3h0m0-3h0m-1 3h0m0-2h0m-1 3h0m-1 1h0m-2-1h0m-2 1h0m0-3h0m-1 3h0m0-4h0m-2 4h0m-2-1h0m-6 3h0m1 2h0m0 2h0m1-2h0m1 1h0m1-4h0m0 2h0m0 1h0m1 1h0m0 1h0m1-4h0m0 3h0m1-4h0m0 3h0m0 1h0m1-4h0m0 1h0m0 1h0m0 2h0m2-4h0m1 4h0m3-4h0m4 0h0m0 1h0m-13 7h0m0-2h0m-1 2h0m-1 3h0m0-2h0m0-1h0m0-1h0m0-1h0m-2 3h0m0-1h0m0-2h0m-1 3h0m0-1h0m0-2h0m-1 2h0m-1 1h0m0-2h0m-1 0h0m0-1h0m-1 4h0m0-3h0m-1 4h0m0-2h0m0-2h0m-2 2h0m-1 2h0m0-3h0m-1 3h0m0-2h0m0-2h0m-1 3h0m-1 1h0m-6-5h0m-3 5h0m-12 1h0m2 5h0m3-5h0m1 3h0m3 1h0m8-2h0m0 1h0m2 1h0m2-2h0m0 1h0m1 2h0m2-5h0m0 1h0m0 1h0m0 1h0m1-3h0m0 1h0m1 2h0m1-3h0m0 1h0m0 3h0m1-2h0m0 1h0m2-2h0m-10 5h0m-1 3h0m-2-3h0m-1 3h0m-1-1h0m-1 2h0m0-1h0m-1-1h0m-1-1h0m-1 4h0m0-2h0m0-3h0m-1 2h0m-1-1h0m-1 3h0m0-2h0m-1 2h0m-1 0h0m-1 1h0m-3-1h0m0-1h0m-1 1h0m-16-2h0m-8 8h0m13 1h0m2-2h0m1 0h0m2 0h0m1 2h0m1-3h0m1 0h0m0 2h0m1-3h0m1 3h0m1-3h0m0 3h0m0 1h0m1-4h0m1-1h0m0 2h0m0 1h0m1-3h0m0 2h0m0 2h0m1-1h0m1-3h0m0 4h0m2-2h0m1-2h0m0 3h0m1-1h0m1-1h0m1-1h0m-10 6h0m-1 1h0m-1 0h0m0-1h0m-1 0h0m-1 2h0m0-1h0m-1 3h0m0-3h0m0-1h0m-1 2h0m0-2h0m-3 4h0m-1-1h0m-1 2h0m0-3h0m-2 2h0m-1-1h0m0-3h0m-1 1h0m-2 3h0m-1 1h0m-3-1h0m-55 4h0m2-2h0m1 4h0m1-1h0m1 0h0m2 0h0m1 1h0m1-3h0m0 1h0m0 2h0m0 1h0m3-1h0m1 1h0m1-1h0m0 1h0m1-3h0m1-1h0m1 4h0m2-4h0m2 1h0m7-1h0m4 4h0m2-1h0m1 1h0m3-1h0m3 0h0m1-2h0m1 1h0m1-1h0m0 3h0m1-2h0m1 1h0m1 1h0m1 0h0m2 0h0m1 0h0m1-2h0m1-1h0m0 1h0m1-2h0m0 1h0m0 1h0m1-2h0m1-1h0m0 1h0m1-1h0m0 4h0m1-4h0m0 2h0m1-1h0m0 1h0m1-2h0m0 3h0m2-3h0m0 1h0m1-1h0m1 3h0m1-3h0m-10 7h0m-2-1h0m-3 0h0m-1 1h0m0-1h0m-3 1h0m-1-1h0m-1 1h0m-1 4h0m0-2h0m0-1h0m-1 0h0m-1-2h0m-1 1h0m-1 3h0m-1 0h0m0-3h0m-1 3h0m-1-1h0m-1 2h0m0-1h0m0-4h0m-1 2h0m0-2h0m-1 2h0m-2 2h0m0-1h0m0-1h0m-1 3h0m-2 0h0m0-1h0m0-2h0m-1 1h0m-1 2h0m0-1h0m-1 1h0m-1-2h0m-1 2h0m0-1h0m0-3h0m-1 4h0m0-1h0m0-2h0m-1 0h0m-1 2h0m0-3h0m-1 4h0m-1-5h0m-1 3h0m0-3h0m-1 0h0m-1 5h0m0-1h0m0-2h0m0-1h0m-1 3h0m0-1h0m0-2h0m-1 4h0m0-1h0m0-1h0m0-1h0m-1 3h0m0-1h0m0-2h0m0-1h0m0-1h0m-1 5h0m0-1h0m0-1h0m0-1h0m-1 2h0m0-2h0m0-2h0m-1 4h0m0-1h0m-1 2h0m0-2h0m0-2h0m-1 0h0m-1 3h0m-1-2h0m-1 0h0m0-1h0m-2 2h0m0-3h0m-1 5h0m-1 0h0m-1-3h0m-1 2h0m5 3h0m2 1h0m1-2h0m2 0h0m0 3h0m3-3h0m1 0h0m5 0h0m0 3h0m1 0h0m1-3h0m0 1h0m4-1h0m0 5h0m1-4h0m0 3h0m1-4h0m0 1h0m2 0h0m1-1h0m1 1h0m2 0h0m1-1h0m4 1h0" stroke="#f8766d" stroke-width="4.3" stroke-linecap="round" fill="none"/>
<path d="M1275 1630h0m3 6h0m0-1h0m-1 1h0m0-1h0m-1 2h0m0-1h0m-1-1h0m0-2h0m-2 3h0m0-4h0m-1 5h0m0-3h0m-1 1h0m-1 2h0m-1 0h0m0-1h0m0-1h0m0-1h0m-1 3h0m-3 0h0m-15 6h0m3 0h0m1-4h0m1 4h0m1 0h0m1-3h0m1 2h0m1-3h0m0 3h0m0 1h0m2-3h0m0 2h0m0 1h0m1-4h0m0 1h0m1 0h0m0 1h0m1-2h0m2 4h0m1-1h0m1-3h0m0 3h0m3-4h0m0 2h0m1-1h0m1 0h0m1 2h0m1-3h0m2 7h0m-7 0h0m-3 0h0m-3 2h0m0-1h0m-1 2h0m-1-4h0m-2 1h0m-1-1h0m-1 2h0m0-1h0m-1 3h0m-1-2h0m-1 2h0m0-1h0m0-3h0m-1 2h0m0-1h0m-2 3h0m-1-1h0m0-1h0m-1 3h0m0-2h0m0-1h0m-1 2h0m0-1h0m-1 1h0m0-1h0m-1 2h0m0-3h0m-1 0h0m0-2h0m3 6h0m1 1h0m10 1h0" stroke="#a3a500" stroke-width="4.3" stroke-linecap="round" fill="none"/>
<path d="M1296 1625h0m28 6h0m-3 0h0m-1 0h0m-1 0h0m0-3h0m-6 3h0m-4-4h0m-4 2h0m0-1h0m-1 2h0m-1-3h0m-3 1h0m0-1h0m12 5h0m6 0h0m0 1h0m0 1h0m2 0h0m2-2h0m2 0h0m1 0h0m0 1h0m3-1h0m0 2h0m1 0h0m0 1h0m1-2h0m0 1h0m1-2h0m0 1h0m1 0h0m3 3h0m0 1h0m2-2h0m2-2h0m3 1h0m0 2h0m0 1h0m1-3h0m2 2h0m41 7h0m-5 0h0m-1-1h0m-6-1h0m-2 2h0m0-2h0m0-1h0m-1 3h0m-2-1h0m-1 0h0m0-2h0m-1 3h0m-1-2h0m0-3h0m-5 4h0m-1 0h0m-1 0h0m0-1h0m-1 1h0m-2 0h0m-1 0h0m0-3h0m-1 3h0m0-1h0m-1-2h0m-1 0h0m-2 1h0m0-1h0m-1 1h0m0-1h0m-1 0h0m-2 3h0m0-1h0m0-2h0m-1 1h0m0-2h0m-1 0h0m-2 1h0m-1 0h0m0-1h0m-1 1h0m-2-1h0m-1 0h0m-1 0h0m24 7h0m5 0h0m7 0h0m1 0h0m1 1h0m1-2h0m1 1h0m1 2h0m1-2h0m1 0h0m1-1h0m0 1h0m1 0h0m1 1h0m0 2h0m1-1h0m0 1h0m2-2h0m1-1h0m0 1h0m2-1h0m1 4h0m2-1h0m2-3h0m0 2h0m0 1h0m1-1h0m1-2h0m0 2h0m0 2h0m1 0h0m2-4h0m0 1h0m0 1h0m0 1h0m1 0h0m0 1h0m2-1h0m0 1h0m1-3h0m0 1h0m1 0h0m2 0h0m1 1h0m4 1h0m1 0h0m3 0h0m1 0h0m10 0h0m7 0h0m50 6h0m-3 0h0m-1 0h0m-2-2h0m-4 2h0m-3-2h0m-3 1h0m-5 1h0m-3-1h0m-4 0h0m-2 1h0m-3-2h0m-1 2h0m-3-1h0m-3 0h0m0-2h0m-1-1h0m-1 2h0m-2 2h0m-1 0h0m-3-1h0m-1 0h0m0-1h0m-1 2h0m-1-2h0m0-3h0m-1 3h0m-2 2h0m0-1h0m-4 0h0m0-2h0m-1 0h0m-1 3h0m-3-4h0m0-1h0m-1 1h0m-3 0h0m-1 1h0m-1-2h0m-1 1h0m-2 2h0m0-2h0m0-1h0m-2 1h0m-3-1h0m-2 2h0m-3-2h0m-1 0h0m-1 1h0m0-1h0m-3 0h0m-1 0h0m-3 0h0m42 6h0m4 2h0m3 0h0m2-2h0m5 0h0m2 1h0m0 1h0m0 3h0m1-5h0m0 2h0m1-2h0m3 4h0m1-3h0m0 1h0m1-1h0m1 1h0m1 1h0m3-2h0m0 3h0m1-1h0m1-3h0m4 1h0m1-1h0m0 1h0m0 4h0m1-2h0m3-1h0m0 1h0m0 1h0m1-3h0m0 1h0m0 1h0m0 1h0m1-3h0m0 2h0m0 2h0m1-4h0m0 1h0m0 1h0m1-1h0m0 1h0m0 1h0m0 1h0m1-3h0m1-1h0m0 2h0m0 1h0m0 1h0m1-5h0m0 2h0m0 1h0m1-1h0m1-2h0m0 5h0m1-4h0m0 2h0m0 2h0m1-5h0m0 5h0m1-4h0m0 1h0m1 0h0m3 6h0m-3 3h0m-1-3h0m-3-1h0m-4 0h0m-3 1h0m0-2h0m-1 0h0" stroke="#00bf7d" stroke-width="4.3" stroke-linecap="round" fill="none"/>
<path d="M1144 1513h0m32 3h0m3-2h0m3 2h0m1 0h0m1 0h0m10 0h0m11 7h0m-3-2h0m-3 2h0m0-3h0m-3 0h0m0-1h0m-2-1h0m-1 2h0m-1-2h0m-2 1h0m-1 4h0m0-1h0m0-2h0m-1 3h0m-1 0h0m-2-2h0m0-2h0m-1 4h0m0-1h0m-1 0h0m0-3h0m-1 1h0m-1 3h0m0-5h0m-1 4h0m0-2h0m0-1h0m-2 4h0m-1-2h0m0-1h0m0-1h0m-1 2h0m-1-2h0m0-1h0m-1 3h0m-1-2h0m-1 3h0m-1-1h0m-1 2h0m0-5h0m-9 1h0m6 5h0m2 0h0m0 2h0m0 1h0m0 1h0m1-4h0m0 2h0m0 1h0m0 1h0m1-2h0m1-2h0m0 3h0m1-1h0m0 3h0m1-5h0m0 3h0m1-2h0m0 1h0m0 3h0m1-1h0m1-1h0m0 1h0m0 1h0m1-4h0m0 1h0m1-2h0m0 2h0m0 3h0m1-3h0m1 2h0m1-4h0m1 0h0m1 3h0m0 1h0m1-4h0m0 3h0m1-1h0m0 3h0m1-4h0m1 1h0m0 2h0m1-4h0m1 0h0m0 4h0m1-3h0m0 2h0m1-1h0m0 1h0m1 0h0m0 2h0m1-3h0m0 1h0m0 1h0m1-2h0m1-2h0m0 3h0m0 1h0m1-3h0m0 2h0m1-1h0m1-2h0m1 3h0m1 2h0m1-2h0m2-3h0m0 4h0m1-4h0m0 2h0m1-1h0m0 3h0m2-2h0m2 2h0m0 1h0m9-1h0m-2 5h0m-1 0h0m-2 1h0m-5 1h0m0-5h0m-1 4h0m-1 0h0m0-1h0m0-1h0m0-1h0m-1 4h0m0-1h0m-1 1h0m0-2h0m-1 1h0m0-1h0m-2 1h0m0-2h0m0-1h0m-1 0h0m-1 4h0m0-5h0m-1 4h0m0-3h0m-1-1h0m-1 0h0m-1 4h0m0-1h0m0-1h0m-1-1h0m-1 3h0m-1-2h0m-1-1h0m-1 4h0m-1-3h0m0-1h0m-1 1h0m-1 0h0m-1-1h0m-1 4h0m0-1h0m-1 1h0m-1-1h0m0-4h0m-2 1h0m-1 1h0m-3 2h0m0-4h0m-1 1h0m-1 3h0m0-4h0m-1 5h0m0-5h0m-1 4h0m0-2h0m-2 2h0m0-4h0m-1 3h0m-1 0h0m0-3h0m2 8h0m2-2h0m5 1h0m4 1h0m4-1h0m2 3h0m5-4h0m0 3h0m3 2h0m1-5h0m0 1h0m1 0h0m0 1h0m2-2h0m0 1h0m0 2h0m1-3h0m0 3h0m1-2h0m1-1h0m0 4h0m1-3h0m0 2h0m0 1h0m1-4h0m1 4h0m2-4h0m0 1h0m0 2h0m0 1h0m1-2h0m0 1h0m1 1h0m1-4h0m0 3h0m1-1h0m0 1h0m4 2h0m1-5h0m3 5h0m2 0h0m3-2h0m1-1h0m-3 4h0m-1 3h0m-1 1h0m0-2h0m-1 3h0m0-1h0m-1 0h0m0-2h0m-1 3h0m0-4h0m-1 4h0m0-3h0m0-1h0m0-1h0m-1 3h0m-1-3h0m-1 5h0m-2 0h0m0-4h0m-2 3h0m0-4h0m-1 1h0m-1 0h0m-1 4h0m0-2h0m-3 2h0m-1-4h0m1 7h0m0 2h0m2-2h0m4-1h0m0 2h0m7-3h0m0 3h0m2-2h0m15 2h0m0 5h0m-2-2h0m-18 1h0m15 7h0m6-1h0m1 2h0m10 7h0m-2 0h0m-2 0h0m0-3h0m0-1h0m-7 4h0m1 4h0m15 3h0m4 5h0m-6 2h0m2 2h0m5 1h0m7 7h0m-7-4h0m9 10h0m1-3h0m3 2h0m3 7h0m-7-4h0m9 6h0" stroke="#00b0f6" stroke-width="4.3" stroke-linecap="round" fill="none"/>
<path d="M1193 1624h0m1 0h0m2 1h0m4-3h0m1 2h0m0 1h0m3-3h0m2 1h0m6 2h0m13 5h0m-4-1h0m-4-2h0m-3 4h0m0-1h0m-1-4h0m-3 3h0m0-3h0m-1 5h0m0-2h0m-2-3h0m-1 3h0m0-3h0m-3 4h0m0-1h0m-1 0h0m-1 0h0m0-1h0m0-1h0m-2 2h0m0-1h0m0-1h0m-1 4h0m0-3h0m0-2h0m-1 5h0m0-2h0m0-3h0m-1 5h0m-1-5h0m-1 0h0m11 7h0m1 1h0m3-2h0m2 0h0m1 0h0m0 2h0m0 2h0m2-2h0m0 1h0m1-2h0m0 1h0m1-1h0m0 2h0m1 0h0m1-1h0m1-1h0m1 2h0m0 1h0m1 1h0m1-1h0m1-2h0m0 3h0m5 0h0m1-3h0m1 3h0m2-4h0m1 2h0m-1 8h0m-1 0h0m0-4h0m0-1h0m-2 0h0m-3 1h0m-1 2h0m0-3h0m-1 1h0m-2 1h0m0-2h0m-4 3h0m0-2h0m-2 2h0m10 4h0" stroke="#e76bf3" stroke-width="4.3" stroke-linecap="round" fill="none"/>
<path d="M1226.7 1561.1L1272.3 1621.2L1239.7 1644.8L1217.6 1663.4M1272.3 1621.2L1324.7 1632.2" stroke="#111" stroke-width="1.3" fill="none"/>
<circle cx="1239.7" cy="1644.8" r="6.3" fill="#111"/>
<text x="1239.7" y="1649" font-size="11.5" text-anchor="middle" font-weight="bold" fill="#fff">1</text>
<circle cx="1272.3" cy="1621.2" r="6.3" fill="#111"/>
<text x="1272.3" y="1625.4" font-size="11.5" text-anchor="middle" font-weight="bold" fill="#fff">2</text>
<path d="M1129.7 1674.5C1130.7 1675 1132.9 1677 1135.9 1677.3C1138.8 1677.5 1143.5 1676.8 1147.3 1676C1151.1 1675.1 1154.8 1674 1158.8 1672.4C1162.7 1670.8 1167.1 1668.2 1171 1666.2C1175 1664.3 1178.9 1662.8 1182.5 1660.7C1186 1658.6 1189.7 1655.9 1192.3 1653.7C1194.8 1651.4 1196.9 1649.4 1197.7 1647.2C1198.4 1645 1198 1642.5 1196.7 1640.7C1195.3 1638.9 1192.5 1638.3 1189.5 1636.6C1186.4 1635 1180.2 1631.9 1178.4 1630.9" stroke="#111" stroke-width="1.1" fill="none" stroke-dasharray="12 9"/>
<path d="M1158.8 1675C1159.9 1675.1 1162.4 1676.4 1165.3 1676C1168.2 1675.5 1172.3 1673.6 1175.9 1672.1C1179.5 1670.5 1183.1 1668.7 1186.9 1666.7C1190.7 1664.7 1195.2 1662.5 1198.8 1660.2C1202.4 1657.9 1205.5 1655.7 1208.6 1652.9C1211.7 1650 1214.7 1646.4 1217.6 1643.1C1220.5 1639.9 1223.6 1637.2 1225.8 1633.4C1227.9 1629.6 1229.3 1624.3 1230.3 1620.4C1231.4 1616.5 1231.9 1613.6 1232 1609.8C1232 1606 1231.4 1601.7 1230.7 1597.6C1229.9 1593.6 1229 1589.4 1227.4 1585.4C1225.8 1581.5 1223.6 1577.5 1221.2 1574.1C1218.7 1570.7 1216 1567.8 1212.7 1565.1C1209.4 1562.4 1204.2 1559.4 1201.3 1557.8C1198.3 1556.3 1195.8 1556.1 1194.7 1555.7" stroke="#111" stroke-width="1.1" fill="none" stroke-dasharray="12 9"/>
<path d="M1462.3 1611.5C1457.2 1611.4 1443 1612 1432.2 1611C1421.4 1610 1416.9 1609.7 1397.4 1605.4C1378 1601 1331.2 1589 1315.6 1584.6C1300.1 1580.2 1308.2 1581.1 1304.2 1578.9C1300.3 1576.8 1295.5 1573.9 1291.9 1571.6C1288.4 1569.3 1286.1 1567.8 1283 1565.1C1279.8 1562.4 1276 1558.6 1273.2 1555.4C1270.3 1552.1 1267.8 1548.9 1265.8 1545.6C1263.8 1542.4 1262 1539 1260.9 1535.9C1259.8 1532.8 1259.7 1528.4 1259.4 1526.9" stroke="#111" stroke-width="1.1" fill="none" stroke-dasharray="12 9"/>
<path d="M1173.5 1628.5L1183 1629L1178.1 1630.9L1179.4 1635.9Z" fill="#111"/>
<path d="M1190.1 1554.7L1199.4 1552.7L1195.3 1555.8L1197.8 1560.3Z" fill="#111"/>
<path d="M1258.8 1522.2L1263.7 1530.4L1259.4 1527.4L1256 1531.3Z" fill="#111"/>
<path d="M1096.3 1501.4V1716.2H1511.4" stroke="#333" stroke-width="1.1" fill="none"/>
<text x="1198.3" y="1732.2" font-size="12.8" text-anchor="middle" fill="#4d4d4d">−2.5</text>
<text x="1314.1" y="1732.2" font-size="12.8" text-anchor="middle" fill="#4d4d4d">0.0</text>
<text x="1429.8" y="1732.2" font-size="12.8" text-anchor="middle" fill="#4d4d4d">2.5</text>
<text x="1090.3" y="1710.1" font-size="12.8" text-anchor="end" fill="#4d4d4d">−2</text>
<text x="1090.3" y="1661.2" font-size="12.8" text-anchor="end" fill="#4d4d4d">0</text>
<text x="1090.3" y="1612.3" font-size="12.8" text-anchor="end" fill="#4d4d4d">2</text>
<text x="1090.3" y="1563.4" font-size="12.8" text-anchor="end" fill="#4d4d4d">4</text>
<text x="1090.3" y="1514.5" font-size="12.8" text-anchor="end" fill="#4d4d4d">6</text>
<path d="M1198.3 1716.2v3.5M1314.1 1716.2v3.5M1429.8 1716.2v3.5M1096.3 1705.6h-3.5M1096.3 1656.7h-3.5M1096.3 1607.8h-3.5M1096.3 1558.9h-3.5M1096.3 1510h-3.5" stroke="#333" stroke-width="1.1" fill="none"/>
<text x="280" y="1146" font-size="19.5" text-anchor="middle" font-weight="bold" fill="#111">Active TAO</text>
<text x="833.7" y="1146" font-size="19.5" text-anchor="middle" font-weight="bold" fill="#111">Inactive TAO</text>
<text x="1281.7" y="1146" font-size="19.5" text-anchor="middle" font-weight="bold" fill="#111">Normal control</text>
<text x="344.9" y="1429.4" font-size="14.2" text-anchor="middle" fill="#111">Component 1</text>
<text x="827" y="1429.4" font-size="14.2" text-anchor="middle" fill="#111">Component 1</text>
<text x="1310.4" y="1430.2" font-size="14.2" text-anchor="middle" fill="#111">Component 1</text>
<text x="344.9" y="1745" font-size="14.2" text-anchor="middle" fill="#111">Component 1</text>
<text x="827" y="1745" font-size="14.2" text-anchor="middle" fill="#111">Component 1</text>
<text x="1310.4" y="1745.3" font-size="14.2" text-anchor="middle" fill="#111">Component 1</text>
<text x="102" y="1280" font-size="14.2" text-anchor="middle" fill="#111" transform="rotate(-90 102 1280)">Component 2</text>
<text x="586.2" y="1282.6" font-size="14.2" text-anchor="middle" fill="#111" transform="rotate(-90 586.2 1282.6)">Component 2</text>
<text x="1071.5" y="1286.8" font-size="14.2" text-anchor="middle" fill="#111" transform="rotate(-90 1071.5 1286.8)">Component 2</text>
<text x="102" y="1599.7" font-size="14.2" text-anchor="middle" fill="#111" transform="rotate(-90 102 1599.7)">Component 2</text>
<text x="586.2" y="1601" font-size="14.2" text-anchor="middle" fill="#111" transform="rotate(-90 586.2 1601)">Component 2</text>
<text x="1071.5" y="1616.8" font-size="14.2" text-anchor="middle" fill="#111" transform="rotate(-90 1071.5 1616.8)">Component 2</text>
<circle cx="432" cy="1167.2" r="2.1" fill="#f8766d"/>
<text x="438.7" y="1171" font-size="13.3" fill="#111">Breg</text>
<circle cx="597.7" cy="1167.2" r="2.1" fill="#a3a500"/>
<text x="606" y="1171" font-size="13.3" fill="#111">FCRL3<tspan font-size="8" dy="-5">+</tspan><tspan dy="5"> GC B</tspan></text>
<circle cx="762.6" cy="1167.2" r="2.1" fill="#00bf7d"/>
<text x="769.8" y="1171" font-size="13.3" fill="#111">Follicular B</text>
<circle cx="927.4" cy="1167.2" r="2.1" fill="#00b0f6"/>
<text x="935.2" y="1171" font-size="13.3" fill="#111">Marginal zone B</text>
<circle cx="1093.3" cy="1167.2" r="2.1" fill="#e76bf3"/>
<text x="1101.2" y="1171" font-size="13.3" fill="#111">Multilymphoid progenitor cell</text>
<text x="236.7" y="1472.5" font-size="13.3" fill="#111">State</text>
<circle cx="279" cy="1469.9" r="2.1" fill="#f8766d"/>
<text x="293.5" y="1472" font-size="13.3" text-anchor="middle" fill="#111">1</text>
<circle cx="313.5" cy="1469.9" r="2.1" fill="#a3a500"/>
<text x="328" y="1472" font-size="13.3" text-anchor="middle" fill="#111">2</text>
<circle cx="348.5" cy="1469.9" r="2.1" fill="#00bf7d"/>
<text x="363" y="1472" font-size="13.3" text-anchor="middle" fill="#111">3</text>
<circle cx="383.5" cy="1469.9" r="2.1" fill="#00b0f6"/>
<text x="398" y="1472" font-size="13.3" text-anchor="middle" fill="#111">4</text>
<circle cx="419" cy="1469.9" r="2.1" fill="#e76bf3"/>
<text x="433.5" y="1472" font-size="13.3" text-anchor="middle" fill="#111">5</text>
<text x="719.3" y="1472.5" font-size="13.3" fill="#111">State</text>
<circle cx="762" cy="1469.9" r="2.1" fill="#f8766d"/>
<text x="776.5" y="1472" font-size="13.3" text-anchor="middle" fill="#111">1</text>
<circle cx="796.5" cy="1469.9" r="2.1" fill="#a3a500"/>
<text x="811" y="1472" font-size="13.3" text-anchor="middle" fill="#111">2</text>
<circle cx="831.5" cy="1469.9" r="2.1" fill="#00bf7d"/>
<text x="846" y="1472" font-size="13.3" text-anchor="middle" fill="#111">3</text>
<circle cx="866.5" cy="1469.9" r="2.1" fill="#00b0f6"/>
<text x="881" y="1472" font-size="13.3" text-anchor="middle" fill="#111">4</text>
<circle cx="902" cy="1469.9" r="2.1" fill="#e76bf3"/>
<text x="916.5" y="1472" font-size="13.3" text-anchor="middle" fill="#111">5</text>
<text x="1202.4" y="1473.5" font-size="13.3" fill="#111">State</text>
<circle cx="1244.5" cy="1470.9" r="2.1" fill="#f8766d"/>
<text x="1259" y="1473" font-size="13.3" text-anchor="middle" fill="#111">1</text>
<circle cx="1279.5" cy="1470.9" r="2.1" fill="#a3a500"/>
<text x="1294" y="1473" font-size="13.3" text-anchor="middle" fill="#111">2</text>
<circle cx="1314.9" cy="1470.9" r="2.1" fill="#00bf7d"/>
<text x="1329.4" y="1473" font-size="13.3" text-anchor="middle" fill="#111">3</text>
<circle cx="1350.2" cy="1470.9" r="2.1" fill="#00b0f6"/>
<text x="1364.7" y="1473" font-size="13.3" text-anchor="middle" fill="#111">4</text>
<circle cx="1386" cy="1470.9" r="2.1" fill="#e76bf3"/>
<text x="1400.5" y="1473" font-size="13.3" text-anchor="middle" fill="#111">5</text>
</g>
<g id="panelG">
<g transform="translate(92.8 1856) scale(1.5000 21.4167)" stroke-width="1.04" fill="none"><path d="M-.5 0h16v1h-16z" fill="#faebe3"/><path d="M-.5 1h16v1h-16z" fill="#f8c8b3"/><path d="M-.5 2h16v1h-16z" fill="#faebe3"/><path d="M-.5 3h16v1h-16z" fill="#ef9376"/><path d="M-.5 4h16v1h-16z" fill="#f8c8b3"/><path d="M-.5 5h16v1h-16z" fill="#faebe3"/><path d="M-.5 6h16v1h-16z" fill="#e0523a"/><path d="M-.5 7h16v1h-16z" fill="#f8c8b3"/><path d="M-.5 8h16v1h-16z" fill="#faebe3"/><path d="M-.5 9h16v1h-16z" fill="#d7301f"/><path d="M-.5 10h16v1h-16z" fill="#eff4f8"/><path d="M-.5 11h16v1h-16z" fill="#faf8f6"/><path d="M-.5 12h16v1h-16z" fill="#e4f0f9"/><path d="M-.5 13h16v1h-16z" fill="#eff4f8"/><path d="M-.5 14h16v1h-16z" fill="#e4f0f9"/><path d="M-.5 15h16v2h-16z" fill="#eff4f8"/><path d="M-.5 17h16v2h-16z" fill="#faf8f6"/><path d="M-.5 19h16v4h-16z" fill="#eff4f8"/><path d="M-.5 23h16v1h-16z" fill="#faf8f6"/><path d="M15 14v1" stroke="#afd5f2"/><path d="M4 5v1M13 11v1M14 11v1M14 14v1M7 16v1M8 16v1" stroke="#c8e2f5"/><path d="M4 10v1M1 12v1M2 12v1M4 12v1M15 13v1M13 14v1M6 15v1M1 19v1M2 19v1" stroke="#d6e9f7"/><path d="M1 2v1M8 3v1M6 5v1M9 5v1M3 10v1M5 10v1M7 11v1M12 11v1M15 11v1M12 13v1M13 13v1M3 15v1M5 15v1M7 15v1M14 15v1M5 16v1M6 16v1M10 16v1M15 16v1M13 17v1M15 17v1M2 18v1M3 18v1M6 18v1M3 19v1M4 19v1M6 19v1M8 19v1M1 20v1M2 20v1M7 20v1M12 20v1M13 20v1M15 20v1M7 21v1M0 22v1M3 22v1M5 22v1M6 22v1M14 22v1" stroke="#e4f0f9"/><path d="M2 0v1M6 1v1M10 3v1M1 4v1M8 5v1M0 11v1M10 11v1M11 11v1M5 12v1M9 12v1M15 12v1M3 14v1M4 14v1M5 14v1M9 14v1M12 14v1M2 17v1M3 17v1M7 17v1M9 17v1M14 17v1M4 18v1M5 18v1M14 18v1M15 18v1M1 23v1M2 23v1M3 23v1M9 23v1M10 23v1M14 23v1M15 23v1" stroke="#eff4f8"/><path d="M3 1v1M7 1v1M9 3v1M11 3v1M13 3v1M14 7v1M6 10v1M12 10v1M13 10v1M10 12v1M13 12v1M14 12v1M5 13v1M7 13v1M10 14v1M11 14v1M0 15v1M1 15v1M8 15v1M13 15v1M0 16v1M11 16v1M12 16v1M9 19v1M12 19v1M13 19v1M15 19v1M4 20v1M5 20v1M10 21v1M12 21v1M14 21v1M2 22v1M10 22v1" stroke="#faf8f6"/><path d="M4 3v1M0 4v1M3 4v1M11 4v1M15 4v1M9 6v1M3 7v1M2 10v1M7 10v1M8 10v1M1 11v1M1 13v1M12 15v1M15 15v1M1 16v1M2 16v1M0 17v1M5 17v1M1 18v1M9 18v1M10 18v1M13 18v1M11 21v1" stroke="#faebe3"/><path d="M1 0v1M8 0v1M0 1v1M10 1v1M2 2v1M7 2v1M0 3v1M5 4v1M6 4v1M8 4v1M15 5v1M4 7v1M7 7v1M9 7v1M15 7v1M6 8v1M11 8v1M10 10v1M11 10v1M6 11v1M11 12v1M11 13v1M13 16v1M7 18v1" stroke="#fbded0"/><path d="M4 0v1M5 0v1M7 0v1M15 0v1M5 2v1M11 2v1M14 3v1M2 5v1M3 6v1M14 6v1M10 8v1M4 13v1" stroke="#f8c8b3"/><path d="M6 0v1M12 0v1M13 0v1M2 1v1M4 1v1M8 1v1M14 1v1M10 2v1M7 3v1M13 4v1M12 5v1M6 6v1M2 8v1M5 8v1M12 8v1M4 9v1M9 10v1M3 13v1M11 20v1" stroke="#f6b296"/><path d="M0 0v1M9 1v1M13 1v1M15 1v1M3 2v1M6 2v1M8 2v1M14 2v1M13 5v1M14 5v1M0 6v1M2 6v1M7 6v1M2 7v1M11 7v1M12 7v1M4 8v1M3 9v1M2 13v1" stroke="#ef9376"/><path d="M2 3v1M15 3v1M10 4v1M0 5v1M1 6v1M11 6v1M1 7v1M3 8v1M8 8v1M1 9v1M11 9v1M12 9v1" stroke="#e87456"/><path d="M9 2v1M2 4v1M3 5v1M5 5v1M5 7v1M9 9v1M10 9v1M13 9v1M14 9v1M15 9v1" stroke="#e0523a"/><path d="M13 2v1M1 5v1M12 6v1M10 7v1" stroke="#d7301f"/></g>
<rect x="92" y="1836" width="24" height="16.5" fill="#c9b47c"/>
<g transform="translate(116.8 1856) scale(1.5046 21.4167)" stroke-width="1.04" fill="none"><path d="M-.5 0h109v1h-109z" fill="#fbded0"/><path d="M-.5 1h109v2h-109z" fill="#f6b296"/><path d="M-.5 3h109v2h-109z" fill="#faebe3"/><path d="M-.5 5h109v2h-109z" fill="#faf8f6"/><path d="M-.5 7h109v1h-109z" fill="#faebe3"/><path d="M-.5 8h109v2h-109z" fill="#faf8f6"/><path d="M-.5 10h109v1h-109z" fill="#e4f0f9"/><path d="M-.5 11h109v4h-109z" fill="#d6e9f7"/><path d="M-.5 15h109v2h-109z" fill="#e4f0f9"/><path d="M-.5 17h109v1h-109z" fill="#faf8f6"/><path d="M-.5 18h109v1h-109z" fill="#eff4f8"/><path d="M-.5 19h109v1h-109z" fill="#e4f0f9"/><path d="M-.5 20h109v1h-109z" fill="#eff4f8"/><path d="M-.5 21h109v1h-109z" fill="#e4f0f9"/><path d="M-.5 22h109v2h-109z" fill="#eff4f8"/><path d="M20 14v1" stroke="#a2cef0"/><path d="M54 0v1M39 10v1M93 10v1M108 11v1M23 13v1M24 13v1M30 13v1M21 14v1M46 14v1M78 15v1" stroke="#afd5f2"/><path d="M83 0v1M75 2v1M79 2v1M66 3v1M62 4v1M18 10v1M19 10v1M41 10v1M94 10v1M19 11v1M76 11v1M79 11v1M80 11v1M87 11v1M106 12v1M20 13v1M75 13v1M77 13v1M98 13v1M100 13v1M107 13v1M11 14v1M18 14v1M19 14v1M24 14v1M25 14v1M44 14v1M45 14v1M5 15v1M6 15v1M22 15v1M47 15v1M5 16v1M43 16v1M46 16v1M108 16v1" stroke="#bcdcf3"/><path d="M42 0v1M55 0v1M56 0v1M75 0v1M76 0v1M107 0v1M77 1v1M74 2v1M60 3v1M67 3v1M68 3v1M107 3v1M30 4v1M53 4v1M82 4v1M107 5v1M10 10v1M11 10v1M13 10v1M15 10v1M17 10v1M20 10v1M33 10v1M51 10v1M58 10v1M89 10v1M95 10v1M96 10v1M20 11v1M23 11v1M24 11v1M34 11v1M35 11v1M40 11v1M41 11v1M43 11v1M44 11v1M57 11v1M78 11v1M83 11v1M86 11v1M98 11v1M99 11v1M101 11v1M104 11v1M107 11v1M0 12v1M1 12v1M3 12v1M4 12v1M5 12v1M13 12v1M15 12v1M16 12v1M17 12v1M19 12v1M35 12v1M44 12v1M82 12v1M85 12v1M86 12v1M3 13v1M15 13v1M16 13v1M17 13v1M21 13v1M25 13v1M27 13v1M31 13v1M33 13v1M34 13v1M38 13v1M42 13v1M58 13v1M96 13v1M97 13v1M99 13v1M108 13v1M1 14v1M10 14v1M23 14v1M26 14v1M27 14v1M29 14v1M30 14v1M36 14v1M37 14v1M57 14v1M58 14v1M59 14v1M80 14v1M83 14v1M84 14v1M90 14v1M93 14v1M94 14v1M10 15v1M11 15v1M12 15v1M13 15v1M23 15v1M24 15v1M26 15v1M31 15v1M32 15v1M42 15v1M44 15v1M45 15v1M46 15v1M75 15v1M76 15v1M79 15v1M85 15v1M90 15v1M91 15v1M92 15v1M105 15v1M1 16v1M2 16v1M10 16v1M11 16v1M24 16v1M25 16v1M26 16v1M27 16v1M28 16v1M29 16v1M33 16v1M55 16v1M89 16v1M91 16v1M92 16v1M100 16v1M83 18v1M37 19v1M89 23v1" stroke="#c8e2f5"/><path d="M86 0v1M108 0v1M76 1v1M3 2v1M22 2v1M73 2v1M99 2v1M59 3v1M64 3v1M108 3v1M27 4v1M56 4v1M58 4v1M59 4v1M92 4v1M95 4v1M96 4v1M97 4v1M106 4v1M9 5v1M70 5v1M17 6v1M47 6v1M48 6v1M52 6v1M78 6v1M92 8v1M16 9v1M37 9v1M12 10v1M14 10v1M16 10v1M21 10v1M32 10v1M34 10v1M38 10v1M40 10v1M44 10v1M46 10v1M49 10v1M50 10v1M57 10v1M59 10v1M82 10v1M85 10v1M88 10v1M92 10v1M97 10v1M98 10v1M99 10v1M1 15v1M4 15v1M9 15v1M14 15v1M25 15v1M27 15v1M30 15v1M38 15v1M41 15v1M48 15v1M49 15v1M50 15v1M56 15v1M57 15v1M58 15v1M59 15v1M77 15v1M80 15v1M81 15v1M82 15v1M107 15v1M3 16v1M9 16v1M12 16v1M15 16v1M17 16v1M18 16v1M19 16v1M21 16v1M22 16v1M32 16v1M36 16v1M42 16v1M44 16v1M51 16v1M52 16v1M53 16v1M54 16v1M71 16v1M75 16v1M77 16v1M87 16v1M88 16v1M90 16v1M101 16v1M104 16v1M105 16v1M106 16v1M66 17v1M83 17v1M84 17v1M4 18v1M5 18v1M45 18v1M46 18v1M54 18v1M85 18v1M92 18v1M10 19v1M11 19v1M28 19v1M30 19v1M32 19v1M38 19v1M40 19v1M41 19v1M65 19v1M76 19v1M103 19v1M26 20v1M27 20v1M28 20v1M49 20v1M51 20v1M52 20v1M53 20v1M60 20v1M70 20v1M71 20v1M3 21v1M4 21v1M10 21v1M30 21v1M39 21v1M40 21v1M67 21v1M78 21v1M97 21v1M14 22v1M28 22v1M54 22v1M89 22v1M94 22v1M22 23v1M66 23v1M67 23v1M68 23v1M69 23v1M70 23v1M75 23v1M95 23v1M102 23v1M103 23v1M105 23v1" stroke="#d6e9f7"/><path d="M18 0v1M27 0v1M53 0v1M66 0v1M67 0v1M81 0v1M84 0v1M99 0v1M106 0v1M3 1v1M4 1v1M78 1v1M80 1v1M82 1v1M83 1v1M94 1v1M104 1v1M20 2v1M58 2v1M59 2v1M72 2v1M80 2v1M57 3v1M61 3v1M90 3v1M91 3v1M101 3v1M7 4v1M26 4v1M28 4v1M29 4v1M31 4v1M61 4v1M63 4v1M91 4v1M93 4v1M8 5v1M10 5v1M25 5v1M49 5v1M51 5v1M52 5v1M106 5v1M15 6v1M16 6v1M21 6v1M36 6v1M55 6v1M56 6v1M57 6v1M62 6v1M79 6v1M80 6v1M83 6v1M84 6v1M89 6v1M39 7v1M40 7v1M57 7v1M76 7v1M16 8v1M17 8v1M19 8v1M20 8v1M72 8v1M75 8v1M76 8v1M77 8v1M81 8v1M82 8v1M104 8v1M0 9v1M17 9v1M18 9v1M25 9v1M26 9v1M38 9v1M46 9v1M70 9v1M90 9v1M94 9v1M0 11v1M4 11v1M5 11v1M6 11v1M12 11v1M13 11v1M16 11v1M26 11v1M27 11v1M30 11v1M46 11v1M48 11v1M50 11v1M54 11v1M58 11v1M84 11v1M89 11v1M94 11v1M97 11v1M100 11v1M106 11v1M8 12v1M10 12v1M11 12v1M21 12v1M23 12v1M26 12v1M27 12v1M39 12v1M42 12v1M47 12v1M54 12v1M57 12v1M58 12v1M79 12v1M80 12v1M83 12v1M96 12v1M102 12v1M108 12v1M6 13v1M10 13v1M12 13v1M13 13v1M18 13v1M26 13v1M32 13v1M40 13v1M43 13v1M45 13v1M52 13v1M55 13v1M57 13v1M59 13v1M78 13v1M80 13v1M81 13v1M83 13v1M84 13v1M87 13v1M89 13v1M90 13v1M92 13v1M104 13v1M7 14v1M28 14v1M31 14v1M39 14v1M41 14v1M42 14v1M50 14v1M52 14v1M62 14v1M78 14v1M79 14v1M82 14v1M87 14v1M88 14v1M89 14v1M92 14v1M97 14v1M100 14v1M106 14v1M107 14v1M3 17v1M10 17v1M17 17v1M21 17v1M22 17v1M26 17v1M27 17v1M41 17v1M49 17v1M69 17v1M82 17v1M85 17v1M87 17v1M88 17v1M89 17v1M100 17v1M1 18v1M2 18v1M24 18v1M28 18v1M30 18v1M31 18v1M43 18v1M47 18v1M48 18v1M49 18v1M51 18v1M52 18v1M53 18v1M56 18v1M61 18v1M64 18v1M74 18v1M79 18v1M90 18v1M91 18v1M101 18v1M104 18v1M105 18v1M0 20v1M1 20v1M2 20v1M3 20v1M4 20v1M5 20v1M8 20v1M11 20v1M12 20v1M25 20v1M29 20v1M34 20v1M35 20v1M40 20v1M41 20v1M42 20v1M44 20v1M48 20v1M50 20v1M54 20v1M55 20v1M57 20v1M58 20v1M61 20v1M64 20v1M68 20v1M69 20v1M82 20v1M86 20v1M87 20v1M88 20v1M90 20v1M91 20v1M103 20v1M104 20v1M105 20v1M106 20v1M1 22v1M2 22v1M13 22v1M15 22v1M18 22v1M19 22v1M25 22v1M29 22v1M30 22v1M31 22v1M33 22v1M36 22v1M37 22v1M39 22v1M40 22v1M41 22v1M42 22v1M47 22v1M48 22v1M51 22v1M52 22v1M53 22v1M55 22v1M63 22v1M78 22v1M79 22v1M81 22v1M82 22v1M85 22v1M88 22v1M90 22v1M92 22v1M93 22v1M95 22v1M7 23v1M21 23v1M23 23v1M24 23v1M25 23v1M27 23v1M46 23v1M47 23v1M49 23v1M50 23v1M55 23v1M56 23v1M57 23v1M58 23v1M59 23v1M63 23v1M64 23v1M65 23v1M71 23v1M72 23v1M74 23v1M76 23v1M77 23v1M78 23v1M79 23v1M82 23v1M83 23v1M84 23v1M85 23v1M90 23v1M91 23v1M96 23v1M97 23v1M98 23v1M99 23v1M100 23v1M101 23v1M104 23v1M106 23v1" stroke="#e4f0f9"/><path d="M26 0v1M46 0v1M61 0v1M62 0v1M65 0v1M68 0v1M77 0v1M78 0v1M82 0v1M85 0v1M87 0v1M94 0v1M100 0v1M102 0v1M15 1v1M16 1v1M40 1v1M103 1v1M6 2v1M21 2v1M24 2v1M25 2v1M39 2v1M43 2v1M67 2v1M68 2v1M69 2v1M71 2v1M77 2v1M78 2v1M84 2v1M96 2v1M100 2v1M2 3v1M40 3v1M63 3v1M65 3v1M89 3v1M35 4v1M51 4v1M52 4v1M54 4v1M57 4v1M64 4v1M74 4v1M79 4v1M80 4v1M84 4v1M88 4v1M94 4v1M98 4v1M1 5v1M11 5v1M15 5v1M16 5v1M17 5v1M19 5v1M24 5v1M28 5v1M29 5v1M31 5v1M40 5v1M41 5v1M42 5v1M50 5v1M53 5v1M55 5v1M63 5v1M69 5v1M71 5v1M72 5v1M73 5v1M82 5v1M83 5v1M93 5v1M100 5v1M104 5v1M108 5v1M4 6v1M13 6v1M14 6v1M18 6v1M26 6v1M37 6v1M43 6v1M44 6v1M51 6v1M60 6v1M61 6v1M63 6v1M64 6v1M72 6v1M76 6v1M81 6v1M99 6v1M105 6v1M27 7v1M29 7v1M31 7v1M33 7v1M41 7v1M51 7v1M52 7v1M56 7v1M63 7v1M64 7v1M77 7v1M86 7v1M87 7v1M101 7v1M105 7v1M14 8v1M18 8v1M21 8v1M23 8v1M27 8v1M56 8v1M58 8v1M65 8v1M66 8v1M71 8v1M73 8v1M74 8v1M78 8v1M79 8v1M80 8v1M91 8v1M99 8v1M4 9v1M5 9v1M6 9v1M11 9v1M15 9v1M24 9v1M27 9v1M32 9v1M36 9v1M47 9v1M48 9v1M61 9v1M62 9v1M63 9v1M69 9v1M71 9v1M73 9v1M75 9v1M89 9v1M92 9v1M95 9v1M96 9v1M98 9v1M99 9v1M100 9v1M3 10v1M6 10v1M7 10v1M8 10v1M9 10v1M24 10v1M25 10v1M26 10v1M27 10v1M30 10v1M37 10v1M47 10v1M54 10v1M71 10v1M73 10v1M80 10v1M81 10v1M87 10v1M91 10v1M105 10v1M108 10v1M3 11v1M7 11v1M8 11v1M10 11v1M14 11v1M17 11v1M28 11v1M36 11v1M55 11v1M61 11v1M70 11v1M71 11v1M90 11v1M91 11v1M95 11v1M96 11v1M6 12v1M7 12v1M12 12v1M28 12v1M33 12v1M37 12v1M46 12v1M50 12v1M53 12v1M56 12v1M75 12v1M78 12v1M94 12v1M95 12v1M97 12v1M101 12v1M41 13v1M46 13v1M47 13v1M53 13v1M88 13v1M33 14v1M34 14v1M48 14v1M49 14v1M51 14v1M63 14v1M65 14v1M75 14v1M77 14v1M86 14v1M98 14v1M99 14v1M101 14v1M102 14v1M103 14v1M0 15v1M3 15v1M17 15v1M20 15v1M34 15v1M35 15v1M36 15v1M39 15v1M54 15v1M67 15v1M69 15v1M70 15v1M83 15v1M87 15v1M88 15v1M95 15v1M97 15v1M98 15v1M101 15v1M103 15v1M0 16v1M31 16v1M56 16v1M63 16v1M67 16v1M79 16v1M81 16v1M83 16v1M84 16v1M85 16v1M86 16v1M93 16v1M94 16v1M96 16v1M107 16v1M1 17v1M5 17v1M6 17v1M11 17v1M13 17v1M14 17v1M15 17v1M24 17v1M25 17v1M28 17v1M29 17v1M39 17v1M40 17v1M42 17v1M43 17v1M44 17v1M45 17v1M48 17v1M51 17v1M56 17v1M61 17v1M65 17v1M67 17v1M72 17v1M73 17v1M75 17v1M92 17v1M98 17v1M101 17v1M102 17v1M103 17v1M104 17v1M0 19v1M1 19v1M3 19v1M18 19v1M19 19v1M20 19v1M24 19v1M25 19v1M26 19v1M27 19v1M33 19v1M46 19v1M48 19v1M49 19v1M50 19v1M51 19v1M53 19v1M54 19v1M57 19v1M61 19v1M62 19v1M63 19v1M67 19v1M68 19v1M71 19v1M79 19v1M80 19v1M81 19v1M85 19v1M86 19v1M88 19v1M89 19v1M91 19v1M93 19v1M94 19v1M95 19v1M96 19v1M101 19v1M104 19v1M105 19v1M8 21v1M12 21v1M18 21v1M24 21v1M26 21v1M27 21v1M32 21v1M33 21v1M37 21v1M38 21v1M42 21v1M43 21v1M44 21v1M46 21v1M50 21v1M52 21v1M57 21v1M58 21v1M59 21v1M65 21v1M70 21v1M72 21v1M73 21v1M74 21v1M79 21v1M81 21v1M84 21v1M86 21v1M87 21v1M89 21v1M91 21v1M93 21v1M94 21v1M100 21v1M101 21v1M102 21v1M103 21v1M107 21v1" stroke="#eff4f8"/><path d="M5 0v1M19 0v1M24 0v1M25 0v1M43 0v1M45 0v1M74 0v1M88 0v1M91 0v1M92 0v1M93 0v1M105 0v1M9 1v1M41 1v1M79 1v1M89 1v1M92 1v1M98 1v1M100 1v1M101 1v1M102 1v1M4 2v1M26 2v1M81 2v1M83 2v1M0 3v1M1 3v1M3 3v1M12 3v1M28 3v1M58 3v1M71 3v1M92 3v1M97 3v1M98 3v1M105 3v1M106 3v1M12 4v1M17 4v1M19 4v1M55 4v1M69 4v1M70 4v1M83 4v1M85 4v1M86 4v1M100 4v1M105 4v1M107 4v1M9 7v1M11 7v1M14 7v1M28 7v1M32 7v1M36 7v1M44 7v1M48 7v1M49 7v1M53 7v1M58 7v1M70 7v1M75 7v1M79 7v1M81 7v1M82 7v1M88 7v1M91 7v1M92 7v1M97 7v1M103 7v1M107 7v1M36 10v1M60 10v1M63 10v1M78 10v1M84 10v1M103 10v1M15 11v1M49 11v1M64 11v1M65 11v1M69 11v1M88 11v1M32 12v1M40 12v1M41 12v1M48 12v1M49 12v1M51 12v1M67 12v1M77 12v1M92 12v1M93 12v1M9 13v1M48 13v1M54 13v1M65 13v1M66 13v1M67 13v1M69 13v1M73 13v1M56 14v1M60 14v1M66 14v1M68 14v1M69 14v1M108 14v1M19 15v1M40 15v1M66 15v1M71 15v1M99 15v1M108 15v1M4 16v1M7 16v1M30 16v1M62 16v1M72 16v1M82 16v1M0 18v1M13 18v1M16 18v1M20 18v1M22 18v1M25 18v1M26 18v1M27 18v1M32 18v1M35 18v1M37 18v1M39 18v1M50 18v1M57 18v1M63 18v1M65 18v1M66 18v1M73 18v1M75 18v1M76 18v1M96 18v1M98 18v1M99 18v1M100 18v1M107 18v1M108 18v1M2 19v1M4 19v1M6 19v1M47 19v1M82 19v1M83 19v1M84 19v1M87 19v1M97 19v1M106 19v1M15 20v1M19 20v1M20 20v1M32 20v1M37 20v1M38 20v1M77 20v1M79 20v1M84 20v1M85 20v1M93 20v1M95 20v1M99 20v1M100 20v1M107 20v1M47 21v1M48 21v1M76 21v1M92 21v1M95 21v1M4 22v1M8 22v1M38 22v1M44 22v1M58 22v1M60 22v1M61 22v1M65 22v1M66 22v1M70 22v1M71 22v1M74 22v1M98 22v1M99 22v1M107 22v1M1 23v1M2 23v1M3 23v1M10 23v1M11 23v1M16 23v1M17 23v1M18 23v1M87 23v1M93 23v1" stroke="#faf8f6"/><path d="M6 0v1M22 0v1M28 0v1M29 0v1M32 0v1M33 0v1M34 0v1M36 0v1M44 0v1M50 0v1M51 0v1M63 0v1M90 0v1M97 0v1M103 0v1M14 1v1M17 1v1M33 1v1M34 1v1M45 1v1M62 1v1M68 1v1M71 1v1M75 1v1M90 1v1M91 1v1M96 1v1M99 1v1M105 1v1M1 2v1M7 2v1M15 2v1M16 2v1M23 2v1M27 2v1M38 2v1M60 2v1M61 2v1M76 2v1M97 2v1M106 2v1M107 2v1M0 5v1M6 5v1M22 5v1M23 5v1M33 5v1M46 5v1M58 5v1M61 5v1M66 5v1M74 5v1M75 5v1M81 5v1M91 5v1M95 5v1M96 5v1M97 5v1M98 5v1M101 5v1M1 6v1M2 6v1M3 6v1M6 6v1M9 6v1M19 6v1M23 6v1M25 6v1M27 6v1M35 6v1M40 6v1M42 6v1M54 6v1M59 6v1M65 6v1M66 6v1M67 6v1M70 6v1M86 6v1M87 6v1M95 6v1M100 6v1M102 6v1M103 6v1M107 6v1M0 8v1M3 8v1M4 8v1M5 8v1M6 8v1M8 8v1M9 8v1M31 8v1M33 8v1M36 8v1M39 8v1M40 8v1M43 8v1M45 8v1M51 8v1M59 8v1M62 8v1M84 8v1M87 8v1M88 8v1M94 8v1M97 8v1M100 8v1M103 8v1M105 8v1M1 9v1M3 9v1M8 9v1M9 9v1M13 9v1M23 9v1M28 9v1M31 9v1M41 9v1M44 9v1M50 9v1M55 9v1M56 9v1M57 9v1M58 9v1M64 9v1M65 9v1M74 9v1M78 9v1M79 9v1M80 9v1M81 9v1M85 9v1M103 9v1M106 9v1M107 9v1M61 10v1M62 10v1M64 10v1M66 10v1M67 10v1M68 10v1M70 10v1M18 11v1M60 11v1M62 11v1M68 11v1M72 11v1M75 11v1M52 12v1M61 12v1M68 12v1M69 12v1M70 12v1M76 12v1M61 13v1M64 13v1M70 13v1M72 13v1M74 13v1M85 13v1M86 13v1M22 14v1M64 14v1M67 14v1M70 14v1M73 14v1M16 15v1M52 15v1M53 15v1M62 15v1M74 15v1M96 15v1M49 16v1M60 16v1M61 16v1M64 16v1M65 16v1M68 16v1M8 17v1M30 17v1M31 17v1M33 17v1M36 17v1M58 17v1M59 17v1M60 17v1M74 17v1M76 17v1M86 17v1M96 17v1M3 18v1M9 18v1M11 18v1M12 18v1M36 18v1M40 18v1M41 18v1M42 18v1M69 18v1M71 18v1M87 18v1M89 18v1M95 18v1M97 18v1M107 19v1M39 20v1M35 21v1M105 21v1M11 22v1M0 23v1M13 23v1M32 23v1M36 23v1M61 23v1" stroke="#faebe3"/><path d="M2 1v1M13 1v1M31 1v1M32 1v1M36 1v1M44 1v1M53 1v1M69 1v1M70 1v1M74 1v1M97 1v1M5 2v1M8 2v1M28 2v1M36 2v1M37 2v1M40 2v1M42 2v1M44 2v1M48 2v1M53 2v1M54 2v1M57 2v1M62 2v1M82 2v1M89 2v1M5 3v1M10 3v1M13 3v1M18 3v1M29 3v1M30 3v1M33 3v1M41 3v1M50 3v1M75 3v1M86 3v1M1 4v1M3 4v1M4 4v1M5 4v1M11 4v1M15 4v1M33 4v1M34 4v1M36 4v1M37 4v1M39 4v1M45 4v1M60 4v1M73 4v1M99 4v1M103 4v1M4 5v1M5 5v1M7 5v1M18 5v1M21 5v1M32 5v1M35 5v1M36 5v1M37 5v1M38 5v1M47 5v1M65 5v1M89 5v1M102 5v1M0 6v1M29 6v1M31 6v1M39 6v1M41 6v1M45 6v1M69 6v1M106 6v1M108 6v1M0 7v1M6 7v1M15 7v1M19 7v1M20 7v1M22 7v1M23 7v1M24 7v1M46 7v1M50 7v1M55 7v1M62 7v1M65 7v1M66 7v1M71 7v1M73 7v1M80 7v1M84 7v1M99 7v1M1 8v1M7 8v1M15 8v1M47 8v1M53 8v1M54 8v1M61 8v1M85 8v1M96 8v1M2 9v1M42 9v1M43 9v1M82 9v1M84 9v1M87 9v1M104 9v1M48 10v1M74 10v1M104 10v1M39 11v1M63 11v1M66 11v1M67 11v1M73 11v1M74 11v1M20 12v1M60 12v1M62 12v1M64 12v1M65 12v1M71 12v1M8 13v1M62 13v1M63 13v1M68 13v1M29 15v1M60 15v1M61 15v1M50 16v1M73 16v1M74 16v1M103 16v1M4 17v1M19 17v1M77 17v1M90 17v1M10 18v1M70 18v1M72 18v1M88 18v1M94 18v1M5 19v1M108 19v1M9 20v1M72 20v1M45 21v1M85 21v1M24 22v1M49 22v1M108 23v1" stroke="#fbded0"/><path d="M0 0v1M1 0v1M3 0v1M7 0v1M21 0v1M41 0v1M49 0v1M59 0v1M104 0v1M1 1v1M6 1v1M21 1v1M28 1v1M35 1v1M37 1v1M46 1v1M48 1v1M49 1v1M56 1v1M65 1v1M85 1v1M87 1v1M95 1v1M106 1v1M0 2v1M19 2v1M32 2v1M33 2v1M46 2v1M55 2v1M66 2v1M86 2v1M87 2v1M88 2v1M101 2v1M103 2v1M108 2v1M4 3v1M6 3v1M9 3v1M31 3v1M34 3v1M37 3v1M38 3v1M39 3v1M43 3v1M54 3v1M56 3v1M72 3v1M80 3v1M87 3v1M93 3v1M103 3v1M0 4v1M6 4v1M18 4v1M20 4v1M22 4v1M23 4v1M25 4v1M38 4v1M43 4v1M71 4v1M77 4v1M34 5v1M62 5v1M88 5v1M105 5v1M30 6v1M34 6v1M94 6v1M101 6v1M1 7v1M3 7v1M16 7v1M17 7v1M21 7v1M25 7v1M30 7v1M47 7v1M67 7v1M98 7v1M41 8v1M46 8v1M68 8v1M39 9v1M108 9v1M69 10v1M72 10v1M2 11v1M9 11v1M11 11v1M25 11v1M37 11v1M47 11v1M38 12v1M66 12v1M72 12v1M91 12v1M22 13v1M71 13v1M71 14v1M18 15v1M72 15v1M73 15v1M100 15v1M66 16v1M78 16v1M95 16v1M7 17v1M50 17v1M67 18v1M56 19v1M47 20v1M41 21v1M63 21v1M56 22v1" stroke="#f8c8b3"/><path d="M2 0v1M10 0v1M11 0v1M14 0v1M37 0v1M70 0v1M71 0v1M96 0v1M98 0v1M19 3v1M22 3v1M24 3v1M25 3v1M44 3v1M53 3v1M55 3v1M74 3v1M76 3v1M84 3v1M85 3v1M99 3v1M100 3v1M21 4v1M40 4v1M46 4v1M65 4v1M67 4v1M102 4v1M92 5v1M28 6v1M49 6v1M53 6v1M74 6v1M4 7v1M5 7v1M42 7v1M43 7v1M94 7v1M106 7v1M55 8v1M93 8v1M19 9v1M52 10v1M65 10v1M102 10v1M59 11v1M63 12v1M73 12v1M74 12v1M51 13v1M60 13v1M6 14v1M43 14v1M72 14v1M74 14v1M96 14v1M33 15v1M94 17v1M78 18v1M108 21v1" stroke="#f6b296"/><path d="M17 0v1M23 0v1M47 0v1M52 0v1M64 0v1M72 0v1M80 0v1M10 1v1M19 1v1M20 1v1M25 1v1M50 1v1M52 1v1M55 1v1M60 1v1M61 1v1M73 1v1M18 2v1M41 2v1M49 2v1M52 2v1M56 2v1M85 2v1M90 2v1M93 2v1M94 2v1M95 2v1M104 2v1M16 3v1M17 3v1M46 3v1M47 3v1M49 3v1M51 3v1M78 3v1M66 4v1M76 4v1M46 6v1M2 7v1M68 7v1M108 7v1M44 8v1M60 8v1M97 9v1M84 12v1" stroke="#ef9376"/><path d="M12 0v1M13 0v1M48 0v1M57 0v1M58 0v1M79 0v1M101 0v1M7 1v1M23 1v1M24 1v1M39 1v1M42 1v1M47 1v1M57 1v1M59 1v1M64 1v1M2 2v1M13 2v1M31 2v1M35 2v1M14 3v1M20 3v1M23 3v1M45 3v1M48 3v1M81 3v1M82 3v1M83 3v1M94 3v1M104 3v1M24 4v1M104 4v1M22 8v1M62 18v1" stroke="#e87456"/><path d="M0 1v1M22 1v1M43 1v1M67 1v1M72 1v1M10 2v1M12 2v1M70 2v1M98 2v1M15 3v1M21 3v1M62 3v1M13 4v1M47 4v1M81 4v1M90 4v1M77 18v1" stroke="#e0523a"/><path d="M15 0v1M5 1v1M66 1v1M84 1v1M93 1v1M11 2v1M34 2v1M26 3v1M10 4v1M87 4v1M89 4v1" stroke="#d7301f"/></g>
<rect x="116" y="1836" width="164" height="16.5" fill="#fbd93f"/>
<g transform="translate(280.8 1856) scale(1.5185 21.4167)" stroke-width="1.04" fill="none"><path d="M-.5 0h27v1h-27z" fill="#d6e9f7"/><path d="M-.5 1h27v2h-27z" fill="#faf8f6"/><path d="M-.5 3h27v2h-27z" fill="#e4f0f9"/><path d="M-.5 5h27v3h-27z" fill="#eff4f8"/><path d="M-.5 8h27v3h-27z" fill="#faf8f6"/><path d="M-.5 11h27v1h-27z" fill="#faebe3"/><path d="M-.5 12h27v1h-27z" fill="#fbded0"/><path d="M-.5 13h27v1h-27z" fill="#faf8f6"/><path d="M-.5 14h27v1h-27z" fill="#fbded0"/><path d="M-.5 15h27v1h-27z" fill="#faf8f6"/><path d="M-.5 16h27v1h-27z" fill="#fbded0"/><path d="M-.5 17h27v1h-27z" fill="#faebe3"/><path d="M-.5 18h27v1h-27z" fill="#eff4f8"/><path d="M-.5 19h27v1h-27z" fill="#ef9376"/><path d="M-.5 20h27v4h-27z" fill="#d7301f"/><path d="M0 1v1M18 2v1M23 2v1M13 4v1" stroke="#a2cef0"/><path d="M1 1v1M16 1v1M19 2v1M20 2v1M19 3v1" stroke="#afd5f2"/><path d="M14 1v1M4 3v1M24 3v1M25 3v1M12 4v1M14 4v1M16 4v1M23 12v1M5 17v1M15 18v1" stroke="#bcdcf3"/><path d="M6 0v1M10 0v1M2 1v1M15 1v1M5 2v1M0 3v1M6 3v1M4 4v1M15 4v1M19 6v1M20 6v1M21 6v1M24 11v1M16 13v1M23 13v1M22 18v1M26 18v1" stroke="#c8e2f5"/><path d="M17 1v1M18 1v1M4 2v1M24 2v1M5 3v1M23 3v1M26 3v1M8 4v1M11 6v1M12 6v1M18 6v1M16 7v1M25 7v1M9 8v1M21 8v1M6 9v1M11 11v1M9 12v1M14 13v1M18 13v1M22 13v1M25 13v1M13 15v1M17 15v1M23 15v1M26 15v1M26 16v1M4 17v1M23 17v1M24 17v1M13 18v1M16 18v1M18 18v1M21 18v1" stroke="#d6e9f7"/><path d="M5 0v1M11 0v1M18 0v1M19 0v1M22 0v1M23 0v1M3 1v1M4 1v1M13 1v1M23 1v1M1 2v1M9 2v1M17 2v1M7 5v1M13 5v1M14 5v1M7 6v1M13 6v1M14 6v1M17 6v1M22 6v1M15 7v1M15 8v1M23 8v1M1 9v1M2 9v1M13 9v1M25 9v1M17 10v1M19 10v1M8 11v1M15 11v1M10 12v1M11 12v1M15 12v1M25 12v1M26 12v1M15 13v1M17 13v1M19 13v1M20 13v1M24 13v1M24 14v1M26 14v1M5 15v1M14 15v1M15 15v1M21 15v1M22 15v1M25 15v1M3 17v1M26 17v1M12 18v1M20 18v1M23 18v1" stroke="#e4f0f9"/><path d="M0 0v1M12 0v1M16 0v1M17 0v1M21 0v1M7 1v1M10 1v1M11 1v1M2 2v1M3 2v1M6 2v1M25 2v1M7 3v1M12 3v1M13 3v1M16 3v1M18 3v1M1 4v1M9 4v1M7 8v1M8 8v1M10 8v1M0 9v1M4 9v1M7 9v1M15 9v1M20 9v1M23 9v1M24 9v1M5 10v1M12 10v1M13 10v1M16 10v1M18 10v1M22 10v1M12 11v1M16 11v1M23 11v1M26 11v1M14 12v1M16 12v1M26 13v1M2 14v1M3 14v1M18 14v1M7 15v1M18 15v1M22 16v1M6 17v1M8 17v1M22 17v1M25 17v1" stroke="#eff4f8"/><path d="M9 0v1M13 0v1M14 0v1M20 0v1M9 3v1M10 3v1M19 4v1M22 4v1M3 5v1M8 5v1M10 5v1M12 5v1M15 5v1M26 5v1M15 6v1M16 6v1M26 6v1M5 7v1M6 7v1M10 7v1M13 11v1M18 11v1M25 11v1M3 12v1M12 12v1M22 12v1M24 12v1M1 14v1M21 14v1M23 14v1M25 14v1M20 16v1M24 16v1M25 16v1M9 17v1M17 17v1M18 17v1M9 18v1M17 18v1M24 18v1" stroke="#faf8f6"/><path d="M20 1v1M22 1v1M8 2v1M14 3v1M18 4v1M20 4v1M23 4v1M24 4v1M2 5v1M6 5v1M19 5v1M22 5v1M0 6v1M5 6v1M2 7v1M4 7v1M7 7v1M8 7v1M12 7v1M20 7v1M21 7v1M22 7v1M14 8v1M16 8v1M17 8v1M18 8v1M24 8v1M26 8v1M14 9v1M16 9v1M21 9v1M24 10v1M26 10v1M0 12v1M13 12v1M17 12v1M10 13v1M12 13v1M4 14v1M10 14v1M13 14v1M22 14v1M1 15v1M16 15v1M18 16v1M19 16v1M6 18v1M7 18v1M8 18v1" stroke="#faebe3"/><path d="M24 0v1M6 1v1M16 2v1M26 2v1M1 5v1M21 5v1M23 5v1M1 6v1M9 7v1M1 8v1M3 8v1M19 8v1M17 9v1M9 10v1M10 10v1M11 10v1M7 11v1M19 11v1M8 13v1M4 15v1M11 15v1M7 17v1M14 17v1M15 17v1M16 17v1M19 17v1M10 18v1M19 19v1M2 20v1M4 20v1" stroke="#fbded0"/><path d="M3 0v1M25 0v1M7 2v1M13 2v1M22 2v1M8 3v1M2 6v1M3 6v1M4 6v1M1 7v1M11 7v1M2 8v1M4 8v1M13 8v1M20 8v1M4 10v1M6 12v1M1 13v1M16 14v1M0 15v1M10 15v1M2 16v1M8 16v1M9 16v1M2 17v1M10 17v1M13 17v1M3 18v1M4 18v1M3 20v1M5 20v1M7 20v1M11 20v1M5 22v1M9 22v1" stroke="#f8c8b3"/><path d="M19 1v1M12 2v1M14 2v1M21 2v1M0 4v1M2 4v1M4 5v1M10 6v1M23 6v1M3 7v1M5 9v1M18 9v1M20 10v1M17 11v1M21 11v1M2 12v1M0 13v1M3 13v1M7 13v1M7 14v1M12 14v1M14 14v1M15 14v1M3 15v1M0 16v1M7 16v1M17 16v1M25 19v1M8 20v1M12 20v1M14 20v1M21 20v1M23 20v1M8 21v1M9 21v1M17 21v1M25 21v1M26 21v1M4 22v1M6 22v1M8 22v1M10 22v1M11 22v1M18 22v1M20 22v1M2 23v1" stroke="#f6b296"/><path d="M3 4v1M25 4v1M0 8v1M22 9v1M2 11v1M3 11v1M6 11v1M20 11v1M4 12v1M19 12v1M20 12v1M9 13v1M8 14v1M9 14v1M1 16v1M3 16v1M4 16v1M11 16v1M16 16v1M1 18v1M2 18v1M5 18v1M1 20v1M6 20v1M18 21v1M3 22v1M7 22v1M19 22v1M17 23v1" stroke="#ef9376"/><path d="M0 10v1M2 13v1M0 14v1M17 14v1M19 15v1M13 16v1M3 19v1M9 19v1M14 19v1M15 19v1M18 19v1M24 19v1M9 20v1M13 20v1M1 21v1M10 21v1M12 22v1M14 22v1M15 22v1M16 22v1M17 22v1M26 22v1M1 23v1M7 23v1M18 23v1" stroke="#e87456"/><path d="M19 7v1M2 10v1M3 10v1M0 11v1M1 11v1M14 11v1M5 13v1M5 16v1M0 19v1M5 19v1M17 19v1M21 19v1M22 19v1M23 19v1M0 20v1M15 20v1M16 20v1M22 20v1M0 21v1M3 21v1M4 21v1M7 21v1M13 21v1M14 21v1M15 21v1M0 23v1M4 23v1M5 23v1M8 23v1M13 23v1M14 23v1M15 23v1M25 23v1" stroke="#e0523a"/><path d="M1 10v1M6 16v1M0 18v1M1 19v1M4 19v1M7 19v1M11 19v1M12 19v1M13 19v1" stroke="#d7301f"/></g>
<rect x="280" y="1836" width="41" height="16.5" fill="#c0c0b8"/>
<g transform="translate(321.8 1856) scale(1.5000 21.4167)" stroke-width="1.04" fill="none"><path d="M-.5 0h16v1h-16z" fill="#e4f0f9"/><path d="M-.5 1h16v1h-16z" fill="#eff4f8"/><path d="M-.5 2h16v1h-16z" fill="#faebe3"/><path d="M-.5 3h16v1h-16z" fill="#faf8f6"/><path d="M-.5 4h16v1h-16z" fill="#eff4f8"/><path d="M-.5 5h16v4h-16z" fill="#faf8f6"/><path d="M-.5 9h16v1h-16z" fill="#eff4f8"/><path d="M-.5 10h16v1h-16z" fill="#f8c8b3"/><path d="M-.5 11h16v2h-16z" fill="#d7301f"/><path d="M-.5 13h16v1h-16z" fill="#e87456"/><path d="M-.5 14h16v1h-16z" fill="#d7301f"/><path d="M-.5 15h16v1h-16z" fill="#e0523a"/><path d="M-.5 16h16v1h-16z" fill="#ef9376"/><path d="M-.5 17h16v1h-16z" fill="#f8c8b3"/><path d="M-.5 18h16v1h-16z" fill="#f6b296"/><path d="M-.5 19h16v2h-16z" fill="#fbded0"/><path d="M-.5 21h16v1h-16z" fill="#eff4f8"/><path d="M-.5 22h16v1h-16z" fill="#faf8f6"/><path d="M-.5 23h16v1h-16z" fill="#eff4f8"/><path d="M5 4v1" stroke="#bcdcf3"/><path d="M13 17v1" stroke="#c8e2f5"/><path d="M4 1v1M5 1v1M6 1v1M7 1v1M13 2v1M12 17v1M4 18v1M4 19v1M1 22v1" stroke="#d6e9f7"/><path d="M8 1v1M0 2v1M14 3v1M15 3v1M0 4v1M11 6v1M15 6v1M4 7v1M5 7v1M10 7v1M11 7v1M12 7v1M9 8v1M13 8v1M2 9v1M3 9v1M6 9v1M7 9v1M12 9v1M14 17v1M15 17v1M5 19v1M6 19v1M0 21v1M0 22v1M2 22v1M2 23v1" stroke="#e4f0f9"/><path d="M2 2v1M12 2v1M14 2v1M15 2v1M1 3v1M7 6v1M12 6v1M14 6v1M2 7v1M13 7v1M2 8v1M4 8v1M7 8v1M10 8v1M14 18v1M1 19v1M7 19v1M9 20v1M4 22v1M8 22v1M9 22v1" stroke="#eff4f8"/><path d="M2 0v1M5 0v1M6 0v1M8 0v1M9 0v1M1 2v1M4 2v1M2 4v1M15 4v1M5 9v1M9 9v1M10 9v1M11 9v1M15 14v1M6 18v1M13 18v1M15 18v1M8 19v1M12 19v1M10 20v1M11 20v1M15 20v1M1 21v1M7 21v1M8 21v1M9 21v1M12 21v1M7 23v1M14 23v1M15 23v1" stroke="#faf8f6"/><path d="M3 0v1M4 0v1M0 1v1M1 1v1M15 1v1M2 3v1M4 3v1M10 3v1M4 5v1M8 5v1M10 5v1M14 5v1M2 6v1M8 6v1M9 6v1M15 7v1M3 8v1M6 8v1M10 11v1M10 17v1M7 18v1M13 19v1M0 20v1M12 20v1M14 20v1M6 21v1M13 21v1M15 21v1M11 22v1M0 23v1M8 23v1M11 23v1M13 23v1" stroke="#faebe3"/><path d="M7 0v1M3 1v1M9 1v1M5 2v1M6 2v1M7 2v1M5 3v1M8 3v1M11 3v1M12 3v1M3 4v1M7 4v1M3 5v1M5 5v1M7 5v1M12 5v1M13 5v1M5 6v1M0 8v1M3 10v1M14 10v1M11 11v1M12 11v1M13 16v1M14 16v1M6 17v1M0 18v1M7 22v1M14 22v1M15 22v1M10 23v1M12 23v1" stroke="#fbded0"/><path d="M12 0v1M11 4v1M9 7v1M13 11v1M9 12v1M7 13v1M8 13v1M9 13v1M10 13v1M13 14v1M6 15v1M11 15v1M3 18v1M11 18v1M14 19v1M15 19v1M3 20v1M7 20v1M14 21v1M3 22v1M5 22v1" stroke="#f8c8b3"/><path d="M0 3v1M8 4v1M9 4v1M10 4v1M13 4v1M11 5v1M3 7v1M9 10v1M7 11v1M9 11v1M2 13v1M13 13v1M15 13v1M12 14v1M7 15v1M14 15v1M4 16v1M7 16v1M9 16v1M11 16v1M2 17v1M3 17v1M0 19v1M10 19v1M1 20v1M6 20v1" stroke="#f6b296"/><path d="M10 0v1M4 4v1M7 10v1M8 12v1M12 12v1M14 12v1M15 12v1M12 13v1M5 14v1M8 14v1M1 15v1M2 15v1M5 15v1M12 15v1M15 15v1M4 17v1M5 17v1M11 17v1M2 18v1M5 18v1M3 19v1M8 20v1M9 23v1" stroke="#ef9376"/><path d="M6 10v1M8 10v1M13 10v1M6 11v1M14 11v1M15 11v1M11 12v1M4 14v1M7 14v1M9 14v1M11 14v1M8 15v1M2 16v1M15 16v1M0 17v1M8 17v1M12 18v1" stroke="#e87456"/><path d="M2 10v1M10 10v1M2 11v1M5 11v1M8 11v1M3 12v1M6 12v1M10 12v1M0 13v1M14 13v1M3 14v1M10 14v1M1 16v1M5 16v1" stroke="#e0523a"/><path d="M0 10v1M1 10v1M11 10v1M3 13v1M4 13v1M10 15v1M0 16v1" stroke="#d7301f"/></g>
<rect x="321" y="1836" width="24" height="16.5" fill="#b3a2bb"/>
<g transform="translate(345.7 1856) scale(1.4921 21.4167)" stroke-width="1.04" fill="none"><path d="M-.5 0h63v1h-63z" fill="#eff4f8"/><path d="M-.5 1h63v1h-63z" fill="#faf8f6"/><path d="M-.5 2h63v2h-63z" fill="#eff4f8"/><path d="M-.5 4h63v1h-63z" fill="#e4f0f9"/><path d="M-.5 5h63v1h-63z" fill="#eff4f8"/><path d="M-.5 6h63v1h-63z" fill="#faf8f6"/><path d="M-.5 7h63v1h-63z" fill="#eff4f8"/><path d="M-.5 8h63v4h-63z" fill="#faf8f6"/><path d="M-.5 12h63v1h-63z" fill="#f8c8b3"/><path d="M-.5 13h63v4h-63z" fill="#faebe3"/><path d="M-.5 17h63v1h-63z" fill="#f6b296"/><path d="M-.5 18h63v1h-63z" fill="#faebe3"/><path d="M-.5 19h63v1h-63z" fill="#fbded0"/><path d="M-.5 20h63v1h-63z" fill="#faebe3"/><path d="M-.5 21h63v1h-63z" fill="#faf8f6"/><path d="M-.5 22h63v2h-63z" fill="#eff4f8"/><path d="M7 8v1" stroke="#afd5f2"/><path d="M47 0v1M41 2v1M53 3v1M10 5v1M55 6v1M54 15v1M61 18v1" stroke="#bcdcf3"/><path d="M27 0v1M58 1v1M20 2v1M6 3v1M15 3v1M39 3v1M12 4v1M13 4v1M14 4v1M54 4v1M7 5v1M8 5v1M11 5v1M12 5v1M36 5v1M37 5v1M17 6v1M6 8v1M17 9v1M41 10v1M48 10v1M49 10v1M51 10v1M52 10v1M60 13v1M60 14v1M61 14v1M55 15v1M57 15v1M53 17v1M61 17v1M59 18v1M60 18v1" stroke="#c8e2f5"/><path d="M44 0v1M17 1v1M27 1v1M57 1v1M59 1v1M5 2v1M15 2v1M16 2v1M23 2v1M30 2v1M40 2v1M8 3v1M9 3v1M10 3v1M16 3v1M26 3v1M36 3v1M38 3v1M16 4v1M17 4v1M30 4v1M51 4v1M53 4v1M55 4v1M9 5v1M13 5v1M28 5v1M34 5v1M39 5v1M44 5v1M45 5v1M49 5v1M61 5v1M14 6v1M15 6v1M18 6v1M26 6v1M27 6v1M54 6v1M22 8v1M23 8v1M7 9v1M44 10v1M53 10v1M21 11v1M29 11v1M37 11v1M40 11v1M56 12v1M61 12v1M18 13v1M61 13v1M62 13v1M50 14v1M56 15v1M51 16v1M58 17v1M62 17v1M62 18v1M58 20v1M46 21v1M47 21v1M29 22v1M36 22v1M50 22v1M6 23v1M12 23v1M18 23v1M57 23v1" stroke="#d6e9f7"/><path d="M1 0v1M3 0v1M4 0v1M28 0v1M34 0v1M40 0v1M48 0v1M0 1v1M1 1v1M6 1v1M18 1v1M20 1v1M22 1v1M26 1v1M32 1v1M35 1v1M48 1v1M1 2v1M28 2v1M31 2v1M34 2v1M38 2v1M39 2v1M42 2v1M43 2v1M57 2v1M59 2v1M4 3v1M5 3v1M7 3v1M17 3v1M19 3v1M20 3v1M25 3v1M27 3v1M32 3v1M35 3v1M40 3v1M41 3v1M47 3v1M2 5v1M38 5v1M40 5v1M52 5v1M54 5v1M0 6v1M13 6v1M16 6v1M28 6v1M31 6v1M33 6v1M51 6v1M56 6v1M18 7v1M19 7v1M23 7v1M42 7v1M5 8v1M15 8v1M18 8v1M24 8v1M56 8v1M2 9v1M5 9v1M14 9v1M24 9v1M25 9v1M26 9v1M35 9v1M38 9v1M43 9v1M58 9v1M59 9v1M60 9v1M61 9v1M28 10v1M29 10v1M33 10v1M37 10v1M42 10v1M45 10v1M20 11v1M23 11v1M24 11v1M36 11v1M54 11v1M55 11v1M26 12v1M49 12v1M59 12v1M30 13v1M42 13v1M47 13v1M51 13v1M46 14v1M48 14v1M49 14v1M52 14v1M54 14v1M59 14v1M35 15v1M48 15v1M62 15v1M29 16v1M44 16v1M50 16v1M57 16v1M62 16v1M20 17v1M34 17v1M54 17v1M55 17v1M51 18v1M58 18v1M55 20v1M1 21v1M28 21v1M29 21v1M45 21v1M5 22v1M24 22v1M51 22v1M2 23v1M5 23v1M7 23v1M17 23v1M19 23v1M22 23v1M27 23v1M29 23v1M41 23v1M42 23v1M45 23v1M48 23v1M49 23v1M55 23v1M56 23v1" stroke="#e4f0f9"/><path d="M14 1v1M21 1v1M23 1v1M29 1v1M30 1v1M31 1v1M34 1v1M44 1v1M46 1v1M49 1v1M51 1v1M7 4v1M8 4v1M26 4v1M40 4v1M44 4v1M46 4v1M47 4v1M48 4v1M50 4v1M56 4v1M59 4v1M1 6v1M10 6v1M12 6v1M19 6v1M29 6v1M30 6v1M34 6v1M35 6v1M57 6v1M58 6v1M59 6v1M60 6v1M10 8v1M19 8v1M33 8v1M41 8v1M42 8v1M43 8v1M44 8v1M46 8v1M49 8v1M52 8v1M54 8v1M55 8v1M58 8v1M59 8v1M60 8v1M3 9v1M4 9v1M9 9v1M11 9v1M13 9v1M15 9v1M18 9v1M21 9v1M27 9v1M40 9v1M41 9v1M44 9v1M62 9v1M7 10v1M10 10v1M39 10v1M40 10v1M50 10v1M56 10v1M26 11v1M27 11v1M30 11v1M31 11v1M51 11v1M52 11v1M59 11v1M61 11v1M35 12v1M37 12v1M55 12v1M60 12v1M62 12v1M20 13v1M34 13v1M36 13v1M40 13v1M48 13v1M53 13v1M55 13v1M13 14v1M18 14v1M33 14v1M45 14v1M62 14v1M21 15v1M22 15v1M23 15v1M44 15v1M46 15v1M47 15v1M49 15v1M10 16v1M11 16v1M16 16v1M28 16v1M33 16v1M38 16v1M45 16v1M46 16v1M49 16v1M60 16v1M16 17v1M19 17v1M50 17v1M52 17v1M57 17v1M60 17v1M28 18v1M32 18v1M57 18v1M26 19v1M30 19v1M8 20v1M24 20v1M38 20v1M42 20v1M50 20v1M56 20v1M57 20v1M0 21v1M8 21v1M20 21v1M22 21v1M25 21v1M26 21v1M27 21v1M31 21v1M36 21v1M37 21v1M38 21v1M39 21v1M49 21v1M53 21v1M54 21v1M59 21v1M60 21v1" stroke="#eff4f8"/><path d="M10 0v1M11 0v1M19 0v1M22 0v1M23 0v1M24 0v1M25 0v1M29 0v1M52 0v1M57 0v1M58 0v1M62 0v1M0 2v1M2 2v1M12 2v1M13 2v1M24 2v1M35 2v1M37 2v1M44 2v1M49 2v1M60 2v1M61 2v1M0 3v1M1 3v1M13 3v1M18 3v1M21 3v1M30 3v1M31 3v1M33 3v1M34 3v1M43 3v1M50 3v1M51 3v1M2 4v1M20 4v1M22 4v1M24 4v1M28 4v1M31 4v1M41 4v1M43 4v1M60 4v1M62 4v1M15 5v1M17 5v1M18 5v1M23 5v1M26 5v1M55 5v1M2 7v1M3 7v1M6 7v1M15 7v1M25 7v1M29 7v1M40 7v1M44 7v1M49 7v1M50 7v1M25 12v1M27 12v1M36 12v1M45 12v1M46 12v1M47 12v1M48 12v1M50 12v1M51 12v1M52 12v1M54 12v1M57 12v1M29 13v1M35 13v1M37 13v1M39 13v1M43 13v1M45 13v1M52 13v1M56 13v1M57 13v1M59 13v1M14 14v1M16 14v1M28 14v1M34 14v1M39 14v1M40 14v1M41 14v1M43 14v1M47 14v1M56 14v1M11 15v1M20 15v1M25 15v1M37 15v1M39 15v1M40 15v1M43 15v1M45 15v1M61 15v1M7 16v1M14 16v1M32 16v1M36 16v1M41 16v1M43 16v1M17 17v1M18 17v1M24 17v1M26 17v1M27 17v1M56 17v1M59 17v1M53 18v1M56 18v1M14 19v1M56 19v1M16 20v1M25 20v1M26 20v1M35 20v1M37 20v1M49 20v1M51 20v1M52 20v1M54 20v1M62 20v1M0 22v1M1 22v1M4 22v1M6 22v1M21 22v1M22 22v1M27 22v1M31 22v1M40 22v1M41 22v1M42 22v1M43 22v1M44 22v1M47 22v1M48 22v1M53 22v1M61 22v1M1 23v1M8 23v1M23 23v1M26 23v1M33 23v1M35 23v1M36 23v1M52 23v1M61 23v1" stroke="#faf8f6"/><path d="M6 0v1M12 0v1M14 0v1M26 0v1M32 0v1M36 0v1M38 0v1M51 0v1M53 0v1M55 0v1M56 0v1M11 1v1M12 1v1M13 1v1M19 1v1M33 1v1M36 1v1M38 1v1M39 1v1M47 1v1M54 1v1M55 1v1M61 1v1M4 2v1M9 2v1M29 2v1M47 2v1M51 2v1M52 2v1M53 2v1M54 2v1M55 2v1M2 3v1M3 3v1M28 3v1M29 3v1M42 3v1M59 3v1M60 3v1M23 4v1M33 4v1M49 4v1M61 4v1M1 5v1M4 5v1M20 5v1M21 5v1M29 5v1M35 5v1M41 5v1M56 5v1M3 6v1M4 6v1M7 6v1M8 6v1M20 6v1M24 6v1M39 6v1M40 6v1M41 6v1M43 6v1M44 6v1M50 6v1M53 6v1M62 6v1M4 7v1M8 7v1M10 7v1M11 7v1M12 7v1M26 7v1M47 7v1M48 7v1M55 7v1M59 7v1M60 7v1M61 7v1M0 8v1M3 8v1M12 8v1M17 8v1M27 8v1M28 8v1M30 8v1M32 8v1M36 8v1M50 8v1M53 8v1M61 8v1M10 9v1M19 9v1M28 9v1M32 9v1M37 9v1M55 9v1M56 9v1M9 10v1M20 10v1M22 10v1M23 10v1M24 10v1M26 10v1M27 10v1M36 10v1M38 10v1M4 11v1M10 11v1M32 11v1M39 11v1M43 11v1M44 11v1M46 11v1M47 11v1M56 11v1M57 11v1M60 11v1M4 12v1M23 12v1M28 12v1M33 12v1M43 12v1M44 12v1M58 12v1M21 17v1M28 17v1M29 17v1M35 17v1M36 17v1M42 17v1M13 19v1M19 19v1M20 19v1M28 19v1M37 19v1M42 19v1M43 19v1M52 19v1M57 19v1M2 21v1M4 21v1M5 21v1M7 21v1M9 21v1M10 21v1M11 21v1M13 21v1M16 21v1M19 21v1M44 21v1M57 21v1M61 21v1M2 22v1M7 22v1M14 22v1M17 22v1M18 22v1M39 22v1M45 22v1M46 22v1M52 22v1M55 22v1M59 22v1M60 22v1M0 23v1M15 23v1M24 23v1M50 23v1M60 23v1" stroke="#faebe3"/><path d="M9 0v1M13 0v1M17 0v1M30 0v1M31 0v1M37 0v1M54 0v1M59 0v1M60 0v1M61 0v1M4 1v1M10 1v1M25 1v1M40 1v1M50 1v1M53 1v1M3 2v1M6 2v1M7 2v1M8 2v1M10 2v1M50 2v1M1 4v1M36 4v1M39 4v1M5 5v1M19 5v1M32 5v1M9 6v1M32 6v1M38 6v1M1 7v1M5 7v1M7 7v1M9 7v1M27 7v1M30 7v1M39 7v1M53 7v1M56 7v1M57 7v1M62 7v1M8 8v1M9 8v1M37 8v1M39 8v1M48 8v1M42 9v1M6 10v1M30 10v1M43 10v1M58 10v1M61 10v1M6 11v1M38 11v1M5 12v1M18 12v1M20 12v1M21 12v1M29 12v1M39 12v1M40 12v1M41 12v1M12 13v1M21 13v1M31 13v1M46 13v1M9 14v1M17 14v1M19 14v1M20 14v1M26 14v1M35 14v1M38 14v1M8 15v1M9 15v1M12 15v1M13 15v1M14 15v1M41 15v1M59 15v1M5 16v1M6 16v1M8 16v1M12 16v1M21 16v1M26 16v1M40 16v1M42 16v1M54 16v1M55 16v1M56 16v1M15 17v1M45 17v1M47 17v1M48 17v1M18 18v1M23 18v1M35 18v1M37 18v1M40 18v1M48 18v1M52 18v1M54 18v1M3 20v1M6 20v1M14 20v1M15 20v1M20 20v1M27 20v1M30 20v1M31 20v1M32 20v1M33 20v1M34 20v1M44 20v1M45 20v1M46 20v1M60 20v1M6 21v1M18 21v1M51 21v1M62 21v1M3 22v1M15 22v1M19 22v1M20 22v1M56 22v1M57 22v1M58 23v1" stroke="#fbded0"/><path d="M5 0v1M39 0v1M24 1v1M62 2v1M54 3v1M55 3v1M0 4v1M3 4v1M5 4v1M25 4v1M35 4v1M38 4v1M42 4v1M45 6v1M28 7v1M32 7v1M35 7v1M36 7v1M37 7v1M38 7v1M45 7v1M46 7v1M58 7v1M26 8v1M38 8v1M62 8v1M6 9v1M3 10v1M13 10v1M21 10v1M25 10v1M62 10v1M7 11v1M9 11v1M11 11v1M15 11v1M17 11v1M62 11v1M15 13v1M50 13v1M2 14v1M4 14v1M7 14v1M8 14v1M11 14v1M12 14v1M21 14v1M23 14v1M24 14v1M1 15v1M7 15v1M10 15v1M15 15v1M16 15v1M18 15v1M26 15v1M31 15v1M33 15v1M60 15v1M13 16v1M17 16v1M19 16v1M30 16v1M22 17v1M23 17v1M30 17v1M31 17v1M33 17v1M41 17v1M44 17v1M6 18v1M11 18v1M14 18v1M21 18v1M26 18v1M31 18v1M38 18v1M44 18v1M45 18v1M49 18v1M4 19v1M16 19v1M21 19v1M22 19v1M24 19v1M27 19v1M34 19v1M35 19v1M47 19v1M49 19v1M51 19v1M58 19v1M60 19v1M62 19v1M1 20v1M9 20v1M19 20v1M48 20v1M61 20v1M55 21v1M31 23v1" stroke="#f8c8b3"/><path d="M8 0v1M5 1v1M15 1v1M17 2v1M36 2v1M37 4v1M31 5v1M6 6v1M31 7v1M34 7v1M1 9v1M4 10v1M11 10v1M12 10v1M18 10v1M35 10v1M3 11v1M3 12v1M8 12v1M15 12v1M17 12v1M32 12v1M2 13v1M11 13v1M14 13v1M24 13v1M25 13v1M32 13v1M33 13v1M54 13v1M22 14v1M25 14v1M51 14v1M19 15v1M29 15v1M50 15v1M18 16v1M22 16v1M25 16v1M35 16v1M1 18v1M2 18v1M7 18v1M15 18v1M16 18v1M19 18v1M39 18v1M46 18v1M5 19v1M9 19v1M11 19v1M18 19v1M36 19v1M39 19v1M40 19v1M45 19v1M46 19v1M50 19v1M61 19v1M5 20v1M13 20v1M29 20v1M36 20v1M47 20v1M58 22v1" stroke="#f6b296"/><path d="M20 0v1M49 0v1M42 1v1M22 5v1M61 6v1M33 7v1M29 8v1M52 9v1M2 10v1M17 10v1M57 10v1M59 10v1M60 10v1M1 11v1M2 11v1M5 11v1M14 11v1M49 11v1M2 12v1M9 12v1M16 12v1M24 12v1M31 12v1M1 13v1M7 13v1M10 13v1M16 13v1M22 13v1M23 13v1M41 13v1M0 14v1M1 14v1M3 14v1M5 14v1M15 14v1M55 14v1M2 15v1M6 15v1M2 16v1M3 16v1M20 16v1M31 16v1M9 17v1M12 17v1M13 17v1M14 17v1M32 17v1M40 17v1M46 17v1M3 18v1M4 18v1M17 18v1M24 18v1M41 18v1M42 18v1M43 18v1M47 18v1M0 19v1M3 19v1M10 19v1M17 19v1M23 19v1M48 19v1M0 20v1M10 20v1M12 20v1" stroke="#ef9376"/><path d="M37 1v1M24 7v1M14 10v1M0 11v1M8 11v1M13 11v1M16 11v1M28 11v1M10 12v1M11 12v1M0 13v1M10 14v1M57 14v1M0 15v1M3 15v1M17 15v1M32 15v1M4 16v1M24 16v1M0 18v1M5 18v1M9 18v1M10 18v1M20 18v1M2 19v1M6 19v1" stroke="#e87456"/><path d="M15 10v1M16 10v1M12 11v1M6 13v1M8 13v1M9 13v1M5 15v1M1 16v1M4 17v1M6 17v1M25 17v1M8 18v1M22 18v1" stroke="#e0523a"/><path d="M0 10v1M1 10v1M0 12v1M1 12v1M3 13v1M4 13v1M5 13v1M4 15v1M0 16v1M0 17v1M1 17v1M2 17v1M3 17v1M5 17v1M7 17v1M8 17v1M11 20v1" stroke="#d7301f"/></g>
<rect x="345" y="1836" width="94" height="16.5" fill="#6fc3a4"/>
<rect x="92" y="1819.5" width="347" height="16.5" fill="#b9a38f"/>
<path d="M92.8 1819.5v16.5M103.3 1819.5v16.5M119.8 1819.5v16.5M176.9 1819.5v16.5M185.9 1819.5v16.5M199.4 1819.5v16.5M300 1819.5v16.5M303.1 1819.5v16.5M310.6 1819.5v16.5M322.6 1819.5v16.5M324.1 1819.5v16.5M328.6 1819.5v16.5M333.1 1819.5v16.5M339.1 1819.5v16.5M349.6 1819.5v16.5M354.1 1819.5v16.5M366.1 1819.5v16.5M390.2 1819.5v16.5M394.7 1819.5v16.5M435.2 1819.5v16.5" stroke="#9fbf9f" stroke-width="1.5" stroke-opacity="0.42" fill="none"/>
<path d="M94.3 1819.5v16.5M95.8 1819.5v16.5M100.3 1819.5v16.5M106.3 1819.5v16.5M133.3 1819.5v16.5M187.4 1819.5v16.5M190.4 1819.5v16.5M194.9 1819.5v16.5M217.4 1819.5v16.5M218.9 1819.5v16.5M238.5 1819.5v16.5M256.5 1819.5v16.5M261 1819.5v16.5M265.5 1819.5v16.5M291 1819.5v16.5M294 1819.5v16.5M312.1 1819.5v16.5M319.6 1819.5v16.5M336.1 1819.5v16.5M348.1 1819.5v16.5M355.6 1819.5v16.5M367.6 1819.5v16.5M370.7 1819.5v16.5M382.7 1819.5v16.5M385.7 1819.5v16.5M397.7 1819.5v16.5M420.2 1819.5v16.5M421.7 1819.5v16.5M423.2 1819.5v16.5M426.2 1819.5v16.5M430.7 1819.5v16.5M433.7 1819.5v16.5M436.7 1819.5v16.5" stroke="#7fc97f" stroke-width="1.5" stroke-opacity="0.42" fill="none"/>
<path d="M97.3 1819.5v16.5M112.3 1819.5v16.5M116.8 1819.5v16.5M118.3 1819.5v16.5M134.8 1819.5v16.5M143.8 1819.5v16.5M157.3 1819.5v16.5M164.9 1819.5v16.5M182.9 1819.5v16.5M191.9 1819.5v16.5M193.4 1819.5v16.5M221.9 1819.5v16.5M223.4 1819.5v16.5M253.5 1819.5v16.5M288 1819.5v16.5M295.5 1819.5v16.5M304.6 1819.5v16.5M313.6 1819.5v16.5M330.1 1819.5v16.5M340.6 1819.5v16.5M342.1 1819.5v16.5M352.6 1819.5v16.5M369.1 1819.5v16.5M387.2 1819.5v16.5M438.2 1819.5v16.5" stroke="#beaed4" stroke-width="1.5" stroke-opacity="0.42" fill="none"/>
<path d="M98.8 1819.5v16.5M101.8 1819.5v16.5M122.8 1819.5v16.5M125.8 1819.5v16.5M137.8 1819.5v16.5M142.3 1819.5v16.5M146.8 1819.5v16.5M148.3 1819.5v16.5M152.8 1819.5v16.5M163.4 1819.5v16.5M170.9 1819.5v16.5M172.4 1819.5v16.5M173.9 1819.5v16.5M175.4 1819.5v16.5M206.9 1819.5v16.5M209.9 1819.5v16.5M227.9 1819.5v16.5M241.5 1819.5v16.5M243 1819.5v16.5M252 1819.5v16.5M255 1819.5v16.5M267 1819.5v16.5M271.5 1819.5v16.5M280.5 1819.5v16.5M285 1819.5v16.5M286.5 1819.5v16.5M289.5 1819.5v16.5M325.6 1819.5v16.5M331.6 1819.5v16.5M343.6 1819.5v16.5M376.7 1819.5v16.5M378.2 1819.5v16.5M381.2 1819.5v16.5M384.2 1819.5v16.5M399.2 1819.5v16.5M400.7 1819.5v16.5M403.7 1819.5v16.5M405.2 1819.5v16.5M412.7 1819.5v16.5M415.7 1819.5v16.5M418.7 1819.5v16.5M427.7 1819.5v16.5M429.2 1819.5v16.5" stroke="#f6c094" stroke-width="1.5" stroke-opacity="0.42" fill="none"/>
<path d="M104.8 1819.5v16.5M115.3 1819.5v16.5M124.3 1819.5v16.5M131.8 1819.5v16.5M136.3 1819.5v16.5M149.8 1819.5v16.5M151.3 1819.5v16.5M154.3 1819.5v16.5M184.4 1819.5v16.5M202.4 1819.5v16.5M224.9 1819.5v16.5M226.4 1819.5v16.5M234 1819.5v16.5M246 1819.5v16.5M258 1819.5v16.5M318.1 1819.5v16.5M327.1 1819.5v16.5M334.6 1819.5v16.5M346.6 1819.5v16.5M360.1 1819.5v16.5M361.6 1819.5v16.5M364.6 1819.5v16.5M375.2 1819.5v16.5M379.7 1819.5v16.5" stroke="#e0006c" stroke-width="1.5" stroke-opacity="0.42" fill="none"/>
<path d="M107.8 1819.5v16.5M110.8 1819.5v16.5M130.3 1819.5v16.5M158.8 1819.5v16.5M181.4 1819.5v16.5M188.9 1819.5v16.5M205.4 1819.5v16.5M208.4 1819.5v16.5M214.4 1819.5v16.5M220.4 1819.5v16.5M231 1819.5v16.5M232.5 1819.5v16.5M235.5 1819.5v16.5M249 1819.5v16.5M264 1819.5v16.5M270 1819.5v16.5M315.1 1819.5v16.5M316.6 1819.5v16.5M432.2 1819.5v16.5" stroke="#7b2e9a" stroke-width="1.5" stroke-opacity="0.42" fill="none"/>
<path d="M109.3 1819.5v16.5M113.8 1819.5v16.5M128.8 1819.5v16.5M140.8 1819.5v16.5M155.8 1819.5v16.5M166.4 1819.5v16.5M169.4 1819.5v16.5M178.4 1819.5v16.5M179.9 1819.5v16.5M229.4 1819.5v16.5M240 1819.5v16.5M244.5 1819.5v16.5M250.5 1819.5v16.5M259.5 1819.5v16.5M262.5 1819.5v16.5M276 1819.5v16.5M283.5 1819.5v16.5M292.5 1819.5v16.5M301.6 1819.5v16.5M306.1 1819.5v16.5M309.1 1819.5v16.5M321.1 1819.5v16.5M337.6 1819.5v16.5M351.1 1819.5v16.5M357.1 1819.5v16.5M363.1 1819.5v16.5M372.2 1819.5v16.5M388.7 1819.5v16.5M391.7 1819.5v16.5M393.2 1819.5v16.5M408.2 1819.5v16.5M411.2 1819.5v16.5M414.2 1819.5v16.5M417.2 1819.5v16.5" stroke="#ffe98f" stroke-width="1.5" stroke-opacity="0.42" fill="none"/>
<path d="M121.3 1819.5v16.5M127.3 1819.5v16.5M139.3 1819.5v16.5M167.9 1819.5v16.5M196.4 1819.5v16.5M203.9 1819.5v16.5M237 1819.5v16.5M268.5 1819.5v16.5M274.5 1819.5v16.5M279 1819.5v16.5M298.5 1819.5v16.5M396.2 1819.5v16.5M402.2 1819.5v16.5M406.7 1819.5v16.5M424.7 1819.5v16.5" stroke="#bf5b17" stroke-width="1.5" stroke-opacity="0.42" fill="none"/>
<path d="M145.3 1819.5v16.5M160.3 1819.5v16.5M161.9 1819.5v16.5M197.9 1819.5v16.5M200.9 1819.5v16.5M211.4 1819.5v16.5M212.9 1819.5v16.5M215.9 1819.5v16.5M247.5 1819.5v16.5M273 1819.5v16.5M277.5 1819.5v16.5M282 1819.5v16.5M297 1819.5v16.5M307.6 1819.5v16.5M345.1 1819.5v16.5M358.6 1819.5v16.5M373.7 1819.5v16.5M409.7 1819.5v16.5" stroke="#666666" stroke-width="1.5" stroke-opacity="0.42" fill="none"/>
<path d="M92 1856H439V2370H92Z" stroke="#999" stroke-width="0.9" fill="none"/><path d="M92 1856V2370M116 1856V2370M280 1856V2370M321 1856V2370M345 1856V2370" stroke="#222" stroke-width="1.1" fill="none"/>
<text x="442.4" y="1832" font-size="12.4" fill="#222">Samples</text>
<text x="442.4" y="1850.3" font-size="12.4" fill="#222">Celltype</text>
<path d="M441.5 1866.7h5" stroke="#222" stroke-width="1"/>
<text x="451" y="1869.9" font-size="8.8" fill="#111">REL(+)</text>
<path d="M441.5 1888.1h5" stroke="#222" stroke-width="1"/>
<text x="451" y="1891.3" font-size="8.8" fill="#111">FOXO1(+)</text>
<path d="M441.5 1909.5h5" stroke="#222" stroke-width="1"/>
<text x="451" y="1912.7" font-size="8.8" fill="#111">FOXP1(+)</text>
<path d="M441.5 1931h5" stroke="#222" stroke-width="1"/>
<text x="451" y="1934.2" font-size="8.8" fill="#111">POU2F1(+)</text>
<path d="M441.5 1952.4h5" stroke="#222" stroke-width="1"/>
<text x="451" y="1955.6" font-size="8.8" fill="#111">TFCP2(+)</text>
<path d="M441.5 1973.8h5" stroke="#222" stroke-width="1"/>
<text x="451" y="1977" font-size="8.8" fill="#111">PBX1(+)</text>
<path d="M441.5 1995.2h5" stroke="#222" stroke-width="1"/>
<text x="451" y="1998.4" font-size="8.8" fill="#111">TAL1(+)</text>
<path d="M441.5 2016.6h5" stroke="#222" stroke-width="1"/>
<text x="451" y="2019.8" font-size="8.8" fill="#111">NFE2(+)</text>
<path d="M441.5 2038h5" stroke="#222" stroke-width="1"/>
<text x="451" y="2041.2" font-size="8.8" fill="#111">MYC(+)</text>
<path d="M441.5 2059.5h5" stroke="#222" stroke-width="1"/>
<text x="451" y="2062.7" font-size="8.8" fill="#111">GATA1(+)</text>
<path d="M441.5 2080.9h5" stroke="#222" stroke-width="1"/>
<text x="451" y="2084.1" font-size="8.8" fill="#111">SPIB(+)</text>
<path d="M441.5 2102.3h5" stroke="#222" stroke-width="1"/>
<text x="451" y="2105.5" font-size="8.8" fill="#111">SPI1(+)</text>
<path d="M441.5 2123.7h5" stroke="#222" stroke-width="1"/>
<text x="451" y="2126.9" font-size="8.8" fill="#111">IRF5(+)</text>
<path d="M441.5 2145.1h5" stroke="#222" stroke-width="1"/>
<text x="451" y="2148.3" font-size="8.8" fill="#111">JUNB(+)</text>
<path d="M441.5 2166.5h5" stroke="#222" stroke-width="1"/>
<text x="451" y="2169.7" font-size="8.8" fill="#111">EGR1(+)</text>
<path d="M441.5 2188h5" stroke="#222" stroke-width="1"/>
<text x="451" y="2191.2" font-size="8.8" fill="#111">ARID3A(+)</text>
<path d="M441.5 2209.4h5" stroke="#222" stroke-width="1"/>
<text x="451" y="2212.6" font-size="8.8" fill="#111">KLF10(+)</text>
<path d="M441.5 2230.8h5" stroke="#222" stroke-width="1"/>
<text x="451" y="2234" font-size="8.8" fill="#111">ETV7(+)</text>
<path d="M441.5 2252.2h5" stroke="#222" stroke-width="1"/>
<text x="451" y="2255.4" font-size="8.8" fill="#111">TCF7L1(+)</text>
<path d="M441.5 2273.6h5" stroke="#222" stroke-width="1"/>
<text x="451" y="2276.8" font-size="8.8" fill="#111">RORA(+)</text>
<path d="M441.5 2295h5" stroke="#222" stroke-width="1"/>
<text x="451" y="2298.2" font-size="8.8" fill="#111">PRDM1(+)</text>
<path d="M441.5 2316.5h5" stroke="#222" stroke-width="1"/>
<text x="451" y="2319.7" font-size="8.8" fill="#111">FOSL2(+)</text>
<path d="M441.5 2337.9h5" stroke="#222" stroke-width="1"/>
<text x="451" y="2341.1" font-size="8.8" fill="#111">CEBPD(+)</text>
<path d="M441.5 2359.3h5" stroke="#222" stroke-width="1"/>
<text x="451" y="2362.5" font-size="8.8" fill="#111">EOMES(+)</text>
<text x="76.7" y="1810" font-size="34" font-weight="bold">G</text>
<text x="500.9" y="1984.4" font-size="10.5" font-weight="bold" fill="#111">Cell Type</text>
<rect x="501.8" y="1992.1" width="11" height="11" fill="#6fc3a4"/>
<text x="517.1" y="2001.2" font-size="10.2" fill="#222">Marginal zone B cell</text>
<rect x="501.8" y="2005.3" width="11" height="11" fill="#b3a2bb"/>
<text x="517.1" y="2014.4" font-size="10.2" fill="#222">FCRL3+ GC B cell</text>
<rect x="501.8" y="2018.5" width="11" height="11" fill="#c9b47c"/>
<text x="517.1" y="2027.6" font-size="10.2" fill="#222">Multilymphoid progenitor cell</text>
<rect x="501.8" y="2031.6" width="11" height="11" fill="#fbd93f"/>
<text x="517.1" y="2040.7" font-size="10.2" fill="#222">Follicular B cell</text>
<rect x="501.8" y="2044.8" width="11" height="11" fill="#c0c0b8"/>
<text x="517.1" y="2053.9" font-size="10.2" fill="#222">Breg cell</text>
<defs><linearGradient id="lgG"><stop offset="0%" stop-color="#96c8ee"/><stop offset="25%" stop-color="#c8e2f5"/><stop offset="37.5%" stop-color="#e4f0f9"/><stop offset="50%" stop-color="#faf8f6"/><stop offset="62.5%" stop-color="#fbded0"/><stop offset="75%" stop-color="#f6b296"/><stop offset="87.5%" stop-color="#e87456"/><stop offset="100%" stop-color="#d7301f"/></linearGradient></defs>
<rect x="501.8" y="2074.5" width="82.6" height="13.2" fill="url(#lgG)"/>
<path d="M507 2074.5v3M526 2074.5v3M543.5 2074.5v3M562.4 2074.5v3M580.9 2074.5v3M507 2087.7v-3M526 2087.7v-3M543.5 2087.7v-3M562.4 2087.7v-3M580.9 2087.7v-3" stroke="#fff" stroke-width="0.8"/>
<text x="507" y="2098.7" font-size="10.2" text-anchor="middle" fill="#222">-2</text>
<text x="526" y="2098.7" font-size="10.2" text-anchor="middle" fill="#222">-1</text>
<text x="543.5" y="2098.7" font-size="10.2" text-anchor="middle" fill="#222">0</text>
<text x="562.4" y="2098.7" font-size="10.2" text-anchor="middle" fill="#222">1</text>
<text x="580.9" y="2098.7" font-size="10.2" text-anchor="middle" fill="#222">2</text>
<text x="500.9" y="2125.3" font-size="10.5" font-weight="bold" fill="#111">Samples</text>
<rect x="501.8" y="2133" width="11" height="11" fill="#7fc97f"/>
<text x="517.1" y="2142.1" font-size="10.2" fill="#222">P3</text>
<rect x="501.8" y="2145.7" width="11" height="11" fill="#beaed4"/>
<text x="517.1" y="2154.8" font-size="10.2" fill="#222">P6</text>
<rect x="501.8" y="2159.3" width="11" height="11" fill="#f6c094"/>
<text x="517.1" y="2168.4" font-size="10.2" fill="#222">NC3</text>
<rect x="501.8" y="2173.4" width="11" height="11" fill="#ffe98f"/>
<text x="517.1" y="2182.5" font-size="10.2" fill="#222">P4</text>
<rect x="501.8" y="2185.7" width="11" height="11" fill="#9fbf9f"/>
<text x="517.1" y="2194.8" font-size="10.2" fill="#222">P1</text>
<rect x="501.8" y="2198.9" width="11" height="11" fill="#7b2e9a"/>
<text x="517.1" y="2208" font-size="10.2" fill="#222">P2</text>
<rect x="501.8" y="2212.1" width="11" height="11" fill="#e0006c"/>
<text x="517.1" y="2221.2" font-size="10.2" fill="#222">NC2</text>
<rect x="501.8" y="2225.3" width="11" height="11" fill="#bf5b17"/>
<text x="517.1" y="2234.4" font-size="10.2" fill="#222">P5</text>
<rect x="501.8" y="2238.5" width="11" height="11" fill="#666666"/>
<text x="517.1" y="2247.6" font-size="10.2" fill="#222">NC1</text>
<rect x="78.5" y="2261" width="428.1" height="116.6" fill="none" stroke="#e8202a" stroke-width="1.3" stroke-dasharray="6.5 4.5"/>
</g>
<g id="panelH">
<text x="654" y="1810.5" font-size="34" font-weight="bold">H</text>
<path d="M676.5 1819.5H700.2" stroke="#ddd" stroke-width="0.8"/><path d="M700.2 1819.5V2168.7" stroke="#555" stroke-width="0.8"/>
<circle cx="688.5" cy="1831.5" r="4.0" fill="#1b2b6d"/>
<text x="707.4" y="1834.4" font-size="9" fill="#222">positive regulation of T cell proliferation</text>
<circle cx="688.5" cy="1848.8" r="4.3" fill="#494e9b"/>
<text x="707.4" y="1851.7" font-size="9" fill="#222">T cell receptor signaling pathway</text>
<circle cx="688.5" cy="1866.1" r="5.0" fill="#747abd"/>
<text x="707.4" y="1869" font-size="9" fill="#222">negative regulation of apoptotic process</text>
<circle cx="688.5" cy="1883.4" r="2.8" fill="#7f86c6"/>
<text x="707.4" y="1886.3" font-size="9" fill="#222">antigen processing and presentation of exogenous peptide antigen via MHC class I, TAP−dependent</text>
<circle cx="688.5" cy="1900.7" r="2.8" fill="#8b93cc"/>
<text x="707.4" y="1903.6" font-size="9" fill="#222">interferon−gamma−mediated signaling pathway</text>
<circle cx="688.5" cy="1918" r="2.6" fill="#9199d0"/>
<text x="707.4" y="1921" font-size="9" fill="#222">T cell costimulation</text>
<circle cx="688.5" cy="1935.4" r="2.8" fill="#979fd4"/>
<text x="707.4" y="1938.3" font-size="9" fill="#222">positive regulation of cell growth</text>
<circle cx="688.5" cy="1952.7" r="2.6" fill="#9fa9d8"/>
<text x="707.4" y="1955.6" font-size="9" fill="#222">Fc−gamma receptor signaling pathway involved in phagocytosis</text>
<circle cx="688.5" cy="1970" r="0.8" fill="#c5d3ee"/>
<text x="707.4" y="1972.9" font-size="9" fill="#222">MHC class I protein complex</text>
<circle cx="688.5" cy="1987.3" r="0.8" fill="#c5d3ee"/>
<text x="707.4" y="1990.2" font-size="9" fill="#222">MHC class II protein complex</text>
<circle cx="688.5" cy="2004.6" r="0.8" fill="#c5d3ee"/>
<text x="707.4" y="2007.5" font-size="9" fill="#222">immunological synapse</text>
<circle cx="688.5" cy="2021.9" r="2.6" fill="#b9c9ea"/>
<text x="707.4" y="2024.8" font-size="9" fill="#222">regulation of cell cycle</text>
<circle cx="688.5" cy="2039.2" r="0.8" fill="#cddaf2"/>
<text x="707.4" y="2042.1" font-size="9" fill="#222">cellular response to interleukin−4</text>
<circle cx="688.5" cy="2056.5" r="0.8" fill="#cddaf2"/>
<text x="707.4" y="2059.4" font-size="9" fill="#222">B cell receptor signaling pathway</text>
<circle cx="688.5" cy="2073.8" r="0.8" fill="#cddaf2"/>
<text x="707.4" y="2076.7" font-size="9" fill="#222">positive regulation of cysteine−type endopeptidase activity involved in apoptotic process</text>
<circle cx="688.5" cy="2091.2" r="2.8" fill="#c5d5ef"/>
<text x="707.4" y="2094.1" font-size="9" fill="#222">positive regulation of I−kappaB kinase/NF−kappaB signaling</text>
<circle cx="688.5" cy="2108.5" r="0.8" fill="#cddaf2"/>
<text x="707.4" y="2111.4" font-size="9" fill="#222">T cell homeostasis</text>
<circle cx="688.5" cy="2125.8" r="0.8" fill="#cddaf2"/>
<text x="707.4" y="2128.7" font-size="9" fill="#222">positive regulation of NF−kappaB import into nucleus</text>
<circle cx="688.5" cy="2143.1" r="0.8" fill="#cddaf2"/>
<text x="707.4" y="2146" font-size="9" fill="#222">epidermal growth factor receptor signaling pathway</text>
<circle cx="688.5" cy="2160.4" r="3.0" fill="#c9d9f2"/>
<text x="707.4" y="2163.3" font-size="9" fill="#222">immune response</text>
<circle cx="688.5" cy="2171" r="0.7" fill="#99a"/>
<path d="M700.2 1831.5h2.6M700.2 1848.8h2.6M700.2 1866.1h2.6M700.2 1883.4h2.6M700.2 1900.7h2.6M700.2 1918h2.6M700.2 1935.4h2.6M700.2 1952.7h2.6M700.2 1970h2.6M700.2 1987.3h2.6M700.2 2004.6h2.6M700.2 2021.9h2.6M700.2 2039.2h2.6M700.2 2056.5h2.6M700.2 2073.8h2.6M700.2 2091.2h2.6M700.2 2108.5h2.6M700.2 2125.8h2.6M700.2 2143.1h2.6M700.2 2160.4h2.6" stroke="#555" stroke-width="0.7"/>
<defs><linearGradient id="lgH" x1="0" y1="0" x2="0" y2="1"><stop offset="0" stop-color="#132b6b"/><stop offset="0.5" stop-color="#6a73b8"/><stop offset="1" stop-color="#c9d6f1"/></linearGradient></defs>
<text x="998.3" y="1922.5" font-size="5.6" fill="#222">−log10(pvalue)</text>
<rect x="998.3" y="1927.7" width="11.3" height="55" fill="url(#lgH)"/>
<text x="1012" y="1934.6" font-size="5.4" fill="#222">2.00</text>
<text x="1012" y="1948.4" font-size="5.4" fill="#222">1.75</text>
<text x="1012" y="1962.1" font-size="5.4" fill="#222">1.50</text>
<text x="1012" y="1976.5" font-size="5.4" fill="#222">1.25</text>
<text x="998.3" y="2002.5" font-size="6.6" fill="#222">Count</text>
<circle cx="1003.4" cy="2011.8" r="0.8" fill="#111"/>
<text x="1013" y="2013.8" font-size="5.6" fill="#222">1</text>
<circle cx="1003.4" cy="2023.1" r="2.6" fill="#111"/>
<text x="1013" y="2025.1" font-size="5.6" fill="#222">2</text>
<circle cx="1003.4" cy="2034.1" r="3.4" fill="#111"/>
<text x="1013" y="2036.1" font-size="5.6" fill="#222">3</text>
<circle cx="1003.4" cy="2045.5" r="4.3" fill="#111"/>
<text x="1013" y="2047.5" font-size="5.6" fill="#222">4</text>
<text x="678.9" y="2205.8" font-size="14.4" fill="#111">Active TAO</text>
<text x="798.4" y="2205.8" font-size="14.4" fill="#111">Inactive TAO</text>
<text x="966.3" y="2205.8" font-size="14.4" fill="#111">Normal control</text>
<g transform="translate(679 2227.1) scale(1.5136 9.0611)" stroke-width="1.04" fill="none"><path d="M-.5 0h22v1h-22z" fill="#f4ac94"/><path d="M-.5 1h22v3h-22z" fill="#fbe4da"/><path d="M-.5 4h22v1h-22z" fill="#f18e70"/><path d="M-.5 5h22v1h-22z" fill="#fbe4da"/><path d="M-.5 6h22v1h-22z" fill="#e4e0f2"/><path d="M-.5 7h22v1h-22z" fill="#fbf7f8"/><path d="M-.5 8h22v1h-22z" fill="#e4e0f2"/><path d="M-.5 9h22v1h-22z" fill="#fbf7f8"/><path d="M-.5 10h22v1h-22z" fill="#f8cab8"/><path d="M-.5 11h22v1h-22z" fill="#e4e0f2"/><path d="M-.5 12h22v1h-22z" fill="#f8cab8"/><path d="M-.5 13h22v2h-22z" fill="#fbf7f8"/><path d="M-.5 15h22v2h-22z" fill="#e4e0f2"/><path d="M-.5 17h22v1h-22z" fill="#fbe4da"/><path d="M16 0v1M2 6v1M19 7v1" stroke="#7d80d2"/><path d="M8 0v1M3 8v1M20 11v1M11 15v1" stroke="#9696d8"/><path d="M0 6v1M15 8v1M8 10v1M15 11v1M12 12v1M1 13v1M11 13v1M17 13v1M2 14v1M18 17v1" stroke="#b0aee0"/><path d="M19 0v1M18 1v1M17 2v1M13 3v1M14 3v1M6 5v1M3 6v1M6 6v1M14 6v1M20 7v1M19 8v1M21 8v1M6 9v1M13 9v1M7 11v1M9 11v1M3 12v1M19 12v1M0 13v1M10 13v1M12 13v1M1 14v1M11 14v1M16 14v1M17 14v1M0 15v1M2 16v1M16 16v1M20 16v1M9 17v1M16 17v1" stroke="#cbc6e8"/><path d="M0 0v1M3 0v1M6 1v1M4 2v1M18 2v1M17 3v1M4 5v1M13 5v1M16 5v1M17 5v1M8 7v1M9 7v1M21 7v1M4 9v1M7 9v1M9 9v1M14 9v1M18 9v1M0 10v1M2 10v1M7 10v1M9 10v1M17 10v1M14 12v1M3 13v1M4 13v1M5 13v1M5 14v1M12 14v1M20 14v1M1 17v1M7 17v1" stroke="#e4e0f2"/><path d="M11 1v1M16 1v1M1 2v1M3 2v1M9 2v1M11 2v1M13 2v1M19 2v1M21 2v1M2 3v1M8 3v1M9 3v1M21 3v1M1 5v1M7 5v1M8 5v1M10 5v1M14 5v1M19 5v1M12 6v1M20 6v1M1 8v1M7 8v1M12 8v1M13 8v1M14 8v1M17 8v1M4 10v1M10 10v1M11 10v1M18 10v1M20 10v1M13 11v1M16 11v1M18 11v1M1 12v1M7 12v1M20 12v1M1 15v1M5 15v1M12 15v1M15 15v1M8 16v1M11 16v1M15 16v1M2 17v1M4 17v1M8 17v1M10 17v1M20 17v1" stroke="#fbf7f8"/><path d="M6 0v1M21 0v1M7 6v1M10 6v1M16 6v1M19 6v1M0 7v1M4 7v1M5 7v1M7 7v1M10 7v1M0 8v1M6 8v1M8 8v1M9 8v1M2 9v1M5 9v1M8 9v1M20 9v1M13 10v1M14 10v1M19 10v1M3 11v1M4 11v1M11 11v1M12 11v1M14 11v1M13 12v1M15 12v1M17 12v1M18 12v1M7 13v1M21 13v1M4 14v1M18 14v1M19 14v1M6 15v1M7 15v1M19 15v1M5 16v1M6 16v1M12 16v1" stroke="#fbe4da"/><path d="M11 0v1M14 0v1M15 0v1M3 1v1M4 1v1M5 1v1M9 1v1M15 1v1M6 2v1M14 2v1M16 2v1M7 3v1M6 4v1M7 4v1M16 4v1M12 5v1M15 5v1M21 5v1M8 6v1M17 6v1M21 6v1M15 7v1M18 7v1M11 9v1M12 9v1M15 9v1M17 9v1M19 9v1M2 11v1M8 11v1M14 13v1M19 13v1M20 13v1M3 14v1M6 14v1M7 14v1M9 14v1M8 15v1M16 15v1M17 15v1M4 16v1M14 16v1M17 16v1M18 16v1M6 17v1M12 17v1M17 17v1" stroke="#f8cab8"/><path d="M12 1v1M20 1v1M10 3v1M16 3v1M20 3v1M0 4v1M3 4v1M5 4v1M10 4v1M12 4v1M13 4v1M15 4v1M19 4v1M21 4v1M18 5v1M1 6v1M9 6v1M11 6v1M13 7v1M18 8v1M0 9v1M1 10v1M0 11v1M17 11v1M4 12v1M10 12v1M8 13v1M9 13v1M8 14v1M15 14v1M14 15v1M20 15v1M0 17v1" stroke="#f4ac94"/><path d="M2 0v1M5 0v1M10 0v1M4 3v1M3 7v1M12 10v1M2 12v1M9 15v1M9 16v1M21 16v1M13 17v1" stroke="#f18e70"/><path d="M12 0v1M17 0v1M21 1v1M2 7v1M6 11v1M6 12v1M21 14v1M0 16v1" stroke="#ea664f"/><path d="M4 0v1M20 0v1" stroke="#e23e2e"/><path d="M9 0v1M18 0v1" stroke="#d7191c"/></g>
<rect x="678.2" y="2210.9" width="33.3" height="13.8" fill="#2e9b3a" stroke="#444" stroke-width="0.8"/>
<text x="694.9" y="2219.7" font-size="5" text-anchor="middle" font-weight="bold" fill="#222">P1</text>
<g transform="translate(713.1 2227.1) scale(1.2000 9.0611)" stroke-width="1.04" fill="none"><path d="M-.5 0h2v1h-2z" fill="#f18e70"/><path d="M-.5 1h2v2h-2z" fill="#f8cab8"/><path d="M-.5 3h2v1h-2z" fill="#fbe4da"/><path d="M-.5 4h2v1h-2z" fill="#f8cab8"/><path d="M-.5 5h2v1h-2z" fill="#e4e0f2"/><path d="M-.5 6h2v1h-2z" fill="#f8cab8"/><path d="M-.5 7h2v1h-2z" fill="#fbf7f8"/><path d="M-.5 8h2v1h-2z" fill="#e4e0f2"/><path d="M-.5 9h2v2h-2z" fill="#fbe4da"/><path d="M-.5 11h2v3h-2z" fill="#fbf7f8"/><path d="M-.5 14h2v2h-2z" fill="#e4e0f2"/><path d="M-.5 16h2v1h-2z" fill="#fbe4da"/><path d="M-.5 17h2v1h-2z" fill="#b0aee0"/><path d="M1 1v1M1 11v1" stroke="#b0aee0"/><path d="M1 7v1M1 10v1" stroke="#cbc6e8"/><path d="M1 0v1M1 9v1" stroke="#e4e0f2"/><path d="M1 5v1M1 15v1M1 16v1" stroke="#fbf7f8"/><path d="M1 2v1M1 12v1" stroke="#fbe4da"/><path d="M1 3v1M1 4v1M1 17v1" stroke="#f4ac94"/><path d="M1 14v1" stroke="#f18e70"/></g>
<rect x="712.5" y="2210.9" width="2.4" height="13.8" fill="#2e9b3a" stroke="#444" stroke-width="0.8"/>
<text x="716.9" y="2219.7" font-size="4.2" text-anchor="middle" font-weight="bold" fill="#222">P2</text>
<g transform="translate(719.9 2227.1) scale(1.5190 9.0611)" stroke-width="1.04" fill="none"><path d="M-.5 0h21v1h-21z" fill="#f18e70"/><path d="M-.5 1h21v2h-21z" fill="#fbf7f8"/><path d="M-.5 3h21v1h-21z" fill="#e4e0f2"/><path d="M-.5 4h21v1h-21z" fill="#f8cab8"/><path d="M-.5 5h21v1h-21z" fill="#fbe4da"/><path d="M-.5 6h21v1h-21z" fill="#fbf7f8"/><path d="M-.5 7h21v1h-21z" fill="#f8cab8"/><path d="M-.5 8h21v1h-21z" fill="#e4e0f2"/><path d="M-.5 9h21v2h-21z" fill="#fbf7f8"/><path d="M-.5 11h21v4h-21z" fill="#f8cab8"/><path d="M-.5 15h21v2h-21z" fill="#fbf7f8"/><path d="M-.5 17h21v1h-21z" fill="#fbe4da"/><path d="M12 7v1M2 12v1M3 14v1" stroke="#7d80d2"/><path d="M11 11v1" stroke="#9696d8"/><path d="M7 2v1M12 4v1M17 6v1M6 9v1M14 9v1M1 13v1M13 13v1M0 14v1M17 14v1M11 17v1" stroke="#b0aee0"/><path d="M18 0v1M18 1v1M6 2v1M9 2v1M11 2v1M1 5v1M3 5v1M6 5v1M6 6v1M7 7v1M11 7v1M5 8v1M7 8v1M13 8v1M14 8v1M19 9v1M20 9v1M0 10v1M1 10v1M17 10v1M20 10v1M9 12v1M11 12v1M16 12v1M4 13v1M10 13v1M20 13v1M2 14v1M4 15v1M14 15v1M16 15v1M18 15v1M20 16v1M8 17v1M13 17v1M14 17v1M18 17v1M19 17v1" stroke="#cbc6e8"/><path d="M2 0v1M12 1v1M20 1v1M16 2v1M9 5v1M11 5v1M0 6v1M1 6v1M3 6v1M4 6v1M11 6v1M19 6v1M4 7v1M5 7v1M10 7v1M16 7v1M18 7v1M5 9v1M12 9v1M13 9v1M6 10v1M16 10v1M7 11v1M12 11v1M6 12v1M8 12v1M15 12v1M2 13v1M17 13v1M19 13v1M8 14v1M16 14v1M19 14v1M2 15v1M9 15v1M20 15v1M6 16v1M7 16v1M15 16v1M16 16v1" stroke="#e4e0f2"/><path d="M1 0v1M20 0v1M4 3v1M9 3v1M10 3v1M11 3v1M13 3v1M17 3v1M20 3v1M11 4v1M0 5v1M5 5v1M10 5v1M13 5v1M16 5v1M0 7v1M1 7v1M1 8v1M3 8v1M11 8v1M20 8v1M1 11v1M2 11v1M3 11v1M8 11v1M20 11v1M4 12v1M5 12v1M10 12v1M7 13v1M1 14v1M10 14v1M12 14v1M14 14v1M15 14v1M0 17v1M2 17v1M15 17v1M20 17v1" stroke="#fbf7f8"/><path d="M7 0v1M10 0v1M13 0v1M14 0v1M1 1v1M3 1v1M9 1v1M11 1v1M13 1v1M16 1v1M0 2v1M5 2v1M8 2v1M17 2v1M20 2v1M12 3v1M1 4v1M2 4v1M3 4v1M8 4v1M2 6v1M5 6v1M8 6v1M14 6v1M8 7v1M15 7v1M17 7v1M6 8v1M8 8v1M9 8v1M19 8v1M4 9v1M7 9v1M8 9v1M11 9v1M7 10v1M8 10v1M10 10v1M13 10v1M15 10v1M10 11v1M13 11v1M16 11v1M1 12v1M3 12v1M7 12v1M19 12v1M5 13v1M9 13v1M16 13v1M18 13v1M5 14v1M11 14v1M13 14v1M5 15v1M15 15v1M0 16v1M9 16v1M12 16v1M13 16v1M19 16v1" stroke="#fbe4da"/><path d="M5 0v1M8 0v1M16 0v1M2 1v1M10 1v1M14 1v1M3 2v1M10 2v1M12 2v1M14 2v1M15 2v1M2 3v1M14 3v1M18 3v1M4 5v1M18 5v1M15 6v1M20 6v1M0 8v1M4 8v1M2 9v1M3 9v1M9 9v1M15 9v1M9 10v1M11 10v1M12 15v1M17 15v1M19 15v1M11 16v1M17 16v1M4 17v1M5 17v1M16 17v1" stroke="#f8cab8"/><path d="M4 0v1M11 0v1M12 0v1M17 1v1M7 3v1M9 4v1M14 4v1M6 7v1M9 7v1M10 8v1M16 8v1M1 9v1M3 10v1M12 10v1M0 11v1M6 11v1M13 12v1M14 12v1M18 12v1M0 13v1M12 13v1M3 15v1M4 16v1M18 16v1M3 17v1M6 17v1" stroke="#f4ac94"/><path d="M8 1v1M16 4v1M17 4v1M18 4v1M19 7v1M4 11v1M6 13v1M10 16v1M10 17v1" stroke="#f18e70"/><path d="M6 3v1" stroke="#ea664f"/><path d="M9 0v1" stroke="#e23e2e"/></g>
<rect x="719.1" y="2210.9" width="31.9" height="13.8" fill="#2e9b3a" stroke="#444" stroke-width="0.8"/>
<text x="735" y="2219.7" font-size="5" text-anchor="middle" font-weight="bold" fill="#222">P3</text>
<g transform="translate(753.5 2227.1) scale(1.5250 9.0611)" stroke-width="1.04" fill="none"><path d="M-.5 0h32v1h-32z" fill="#fbe4da"/><path d="M-.5 1h32v1h-32z" fill="#cbc6e8"/><path d="M-.5 2h32v1h-32z" fill="#fbf7f8"/><path d="M-.5 3h32v1h-32z" fill="#f8cab8"/><path d="M-.5 4h32v1h-32z" fill="#cbc6e8"/><path d="M-.5 5h32v3h-32z" fill="#fbf7f8"/><path d="M-.5 8h32v1h-32z" fill="#fbe4da"/><path d="M-.5 9h32v1h-32z" fill="#f8cab8"/><path d="M-.5 10h32v1h-32z" fill="#cbc6e8"/><path d="M-.5 11h32v2h-32z" fill="#fbf7f8"/><path d="M-.5 13h32v1h-32z" fill="#e4e0f2"/><path d="M-.5 14h32v1h-32z" fill="#fbe4da"/><path d="M-.5 15h32v1h-32z" fill="#fbf7f8"/><path d="M-.5 16h32v1h-32z" fill="#fbe4da"/><path d="M-.5 17h32v1h-32z" fill="#cbc6e8"/><path d="M9 5v1" stroke="#3b4cc0"/><path d="M2 4v1M7 4v1M17 10v1M19 13v1M14 15v1M27 15v1" stroke="#7d80d2"/><path d="M15 1v1M26 1v1M28 1v1M3 3v1M5 4v1M11 4v1M12 6v1M24 6v1M1 10v1M7 10v1M15 11v1M31 11v1M11 12v1M31 12v1M7 14v1M10 14v1M12 14v1M15 14v1M5 17v1" stroke="#9696d8"/><path d="M3 1v1M7 1v1M11 1v1M12 1v1M16 1v1M27 1v1M5 3v1M7 3v1M26 3v1M27 3v1M1 4v1M6 4v1M15 4v1M16 4v1M22 4v1M25 4v1M26 4v1M30 4v1M22 5v1M27 5v1M3 6v1M8 6v1M14 7v1M16 7v1M18 7v1M20 7v1M25 7v1M28 7v1M23 8v1M12 9v1M4 10v1M20 10v1M28 10v1M0 12v1M19 12v1M21 12v1M22 12v1M8 13v1M1 15v1M31 15v1M13 16v1M17 16v1" stroke="#b0aee0"/><path d="M6 0v1M4 2v1M8 2v1M10 2v1M11 2v1M20 2v1M21 2v1M28 2v1M0 3v1M6 3v1M13 3v1M24 3v1M5 5v1M12 5v1M16 5v1M20 5v1M26 5v1M10 6v1M15 6v1M23 6v1M26 6v1M31 6v1M4 7v1M24 7v1M0 8v1M3 8v1M22 8v1M26 8v1M28 8v1M31 8v1M5 11v1M10 11v1M20 11v1M22 11v1M7 12v1M17 12v1M28 12v1M29 12v1M2 13v1M6 13v1M14 13v1M24 13v1M31 13v1M23 14v1M26 14v1M31 14v1M2 15v1M10 15v1M18 15v1M19 15v1M20 15v1M22 15v1M6 16v1M27 16v1" stroke="#cbc6e8"/><path d="M0 0v1M2 0v1M10 0v1M11 0v1M24 0v1M27 0v1M30 0v1M4 1v1M9 1v1M17 1v1M25 1v1M1 2v1M7 2v1M15 2v1M16 2v1M17 2v1M25 2v1M30 2v1M1 3v1M2 3v1M8 3v1M12 3v1M15 3v1M17 3v1M28 3v1M21 4v1M24 4v1M29 4v1M0 5v1M4 5v1M7 5v1M18 5v1M28 5v1M0 6v1M9 6v1M11 6v1M13 6v1M28 6v1M3 7v1M6 7v1M27 7v1M31 7v1M2 8v1M9 8v1M12 8v1M4 9v1M3 10v1M18 10v1M19 10v1M24 10v1M26 10v1M4 11v1M6 11v1M7 11v1M8 11v1M11 11v1M16 11v1M17 11v1M18 11v1M1 12v1M10 12v1M12 12v1M16 12v1M30 12v1M4 14v1M16 14v1M17 14v1M20 14v1M6 15v1M11 15v1M12 15v1M13 15v1M28 15v1M7 16v1M8 16v1M10 16v1M14 16v1M15 16v1M20 16v1M22 16v1M26 16v1M28 16v1M1 17v1M3 17v1M6 17v1M11 17v1M16 17v1M24 17v1" stroke="#e4e0f2"/><path d="M1 0v1M5 0v1M7 0v1M16 0v1M22 0v1M25 0v1M26 0v1M28 0v1M0 1v1M6 1v1M22 1v1M9 3v1M10 3v1M11 3v1M18 3v1M20 3v1M23 3v1M1 8v1M4 8v1M6 8v1M7 8v1M18 8v1M19 8v1M21 8v1M27 8v1M9 9v1M15 9v1M20 9v1M23 9v1M27 9v1M28 9v1M31 9v1M8 10v1M23 10v1M27 10v1M29 10v1M4 13v1M10 13v1M20 13v1M26 13v1M5 14v1M6 14v1M13 14v1M19 14v1M21 14v1M22 14v1M25 14v1M1 16v1M2 16v1M3 16v1M11 16v1M18 16v1M19 16v1M21 16v1M30 16v1M9 17v1M10 17v1M15 17v1M17 17v1M19 17v1M31 17v1" stroke="#fbf7f8"/><path d="M1 1v1M2 1v1M30 1v1M2 2v1M6 2v1M12 2v1M23 2v1M26 2v1M27 2v1M4 3v1M19 3v1M10 5v1M14 5v1M17 5v1M23 5v1M30 5v1M14 6v1M17 6v1M19 6v1M22 6v1M25 6v1M1 7v1M5 7v1M11 7v1M13 7v1M17 7v1M19 7v1M0 9v1M1 9v1M6 9v1M7 9v1M8 9v1M11 9v1M14 9v1M24 9v1M25 9v1M0 10v1M6 10v1M13 10v1M14 10v1M16 10v1M25 10v1M23 11v1M24 11v1M30 11v1M4 12v1M20 12v1M13 13v1M22 13v1M23 13v1M28 13v1M30 13v1M5 15v1M8 15v1M15 15v1M23 15v1M29 15v1M4 17v1M13 17v1M20 17v1M21 17v1M27 17v1M29 17v1M30 17v1" stroke="#fbe4da"/><path d="M4 0v1M8 0v1M19 0v1M31 0v1M13 1v1M29 1v1M31 1v1M3 2v1M14 2v1M18 2v1M22 2v1M31 2v1M2 5v1M6 5v1M11 5v1M21 5v1M25 5v1M4 6v1M6 6v1M20 6v1M30 6v1M0 7v1M9 7v1M12 7v1M22 7v1M15 8v1M20 8v1M30 8v1M2 10v1M10 10v1M30 10v1M2 11v1M29 11v1M2 12v1M3 12v1M6 12v1M18 12v1M24 12v1M27 12v1M0 13v1M16 13v1M27 13v1M3 14v1M18 14v1M3 15v1M4 15v1M16 15v1M17 15v1M25 15v1M0 16v1M23 16v1M23 17v1" stroke="#f8cab8"/><path d="M3 0v1M31 5v1M7 7v1M2 9v1M13 9v1M22 9v1M30 9v1M22 10v1M21 11v1M3 13v1M7 13v1M17 13v1M29 13v1M24 14v1M2 17v1M25 17v1M28 17v1" stroke="#f4ac94"/><path d="M29 0v1M21 6v1M27 6v1M0 14v1" stroke="#f18e70"/><path d="M5 1v1M9 13v1M9 15v1" stroke="#ea664f"/></g>
<rect x="752.7" y="2210.9" width="48.8" height="13.8" fill="#f9c56c" stroke="#444" stroke-width="0.8"/>
<text x="777.1" y="2219.7" font-size="5" text-anchor="middle" font-weight="bold" fill="#222">P4</text>
<g transform="translate(804.3 2227.1) scale(1.5161 9.0611)" stroke-width="1.04" fill="none"><path d="M-.5 0h56v1h-56z" fill="#f8cab8"/><path d="M-.5 1h56v2h-56z" fill="#fbe4da"/><path d="M-.5 3h56v1h-56z" fill="#e4e0f2"/><path d="M-.5 4h56v1h-56z" fill="#fbf7f8"/><path d="M-.5 5h56v1h-56z" fill="#fbe4da"/><path d="M-.5 6h56v2h-56z" fill="#fbf7f8"/><path d="M-.5 8h56v1h-56z" fill="#fbe4da"/><path d="M-.5 9h56v1h-56z" fill="#fbf7f8"/><path d="M-.5 10h56v1h-56z" fill="#e4e0f2"/><path d="M-.5 11h56v1h-56z" fill="#fbf7f8"/><path d="M-.5 12h56v2h-56z" fill="#e4e0f2"/><path d="M-.5 14h56v1h-56z" fill="#fbe4da"/><path d="M-.5 15h56v3h-56z" fill="#fbf7f8"/><path d="M28 8v1M11 10v1M16 11v1M1 13v1M17 14v1M8 16v1M45 16v1" stroke="#7d80d2"/><path d="M11 2v1M33 2v1M1 5v1M37 6v1M47 8v1M49 8v1M27 11v1M34 11v1M38 12v1M23 13v1M28 13v1M36 15v1M25 17v1" stroke="#9696d8"/><path d="M14 0v1M20 0v1M27 0v1M7 1v1M4 2v1M6 2v1M22 2v1M49 2v1M33 3v1M34 3v1M48 3v1M52 3v1M55 3v1M14 4v1M31 4v1M22 5v1M35 5v1M39 5v1M40 5v1M32 6v1M47 6v1M1 7v1M14 7v1M23 7v1M4 8v1M12 8v1M19 8v1M51 8v1M28 10v1M42 11v1M52 11v1M1 12v1M4 12v1M5 12v1M37 12v1M43 12v1M50 12v1M8 13v1M14 13v1M16 13v1M25 13v1M36 13v1M11 14v1M27 14v1M51 14v1M2 15v1M47 15v1M53 15v1M1 16v1M6 16v1M32 16v1M42 16v1M43 16v1M11 17v1M19 17v1M28 17v1M36 17v1M55 17v1" stroke="#b0aee0"/><path d="M1 0v1M3 0v1M34 0v1M41 0v1M49 0v1M53 0v1M2 1v1M10 1v1M19 1v1M37 1v1M48 1v1M53 1v1M15 2v1M18 2v1M43 2v1M44 2v1M45 2v1M50 2v1M51 2v1M7 3v1M14 3v1M20 3v1M29 3v1M41 3v1M45 3v1M46 5v1M51 5v1M2 6v1M12 6v1M31 6v1M35 6v1M49 6v1M18 7v1M22 7v1M24 7v1M30 7v1M33 7v1M37 7v1M44 7v1M53 7v1M2 8v1M5 8v1M18 8v1M21 8v1M23 8v1M26 8v1M29 8v1M35 8v1M54 8v1M4 10v1M23 10v1M30 10v1M37 10v1M50 10v1M51 10v1M53 10v1M55 10v1M6 11v1M8 11v1M23 11v1M35 11v1M37 11v1M49 11v1M51 11v1M8 12v1M9 12v1M11 12v1M13 12v1M16 12v1M18 12v1M29 12v1M31 12v1M49 12v1M6 13v1M10 13v1M22 13v1M31 13v1M34 13v1M40 13v1M42 13v1M46 13v1M55 13v1M29 14v1M0 15v1M3 15v1M4 15v1M12 15v1M37 15v1M50 15v1M54 15v1M5 16v1M12 16v1M13 16v1M14 16v1M15 16v1M51 16v1M55 16v1M9 17v1M14 17v1M21 17v1M24 17v1M27 17v1M35 17v1M41 17v1M46 17v1M47 17v1" stroke="#cbc6e8"/><path d="M6 0v1M11 0v1M13 0v1M18 0v1M26 0v1M33 0v1M45 0v1M46 0v1M47 0v1M54 0v1M55 0v1M6 1v1M11 1v1M17 1v1M28 1v1M29 1v1M32 1v1M36 1v1M38 1v1M39 1v1M41 1v1M51 1v1M52 1v1M2 2v1M5 2v1M10 2v1M14 2v1M27 2v1M29 2v1M35 2v1M42 2v1M55 2v1M19 4v1M27 4v1M51 4v1M52 4v1M7 5v1M10 5v1M11 5v1M13 5v1M15 5v1M29 5v1M31 5v1M33 5v1M37 5v1M43 5v1M45 5v1M1 6v1M18 6v1M20 6v1M22 6v1M27 6v1M30 6v1M34 6v1M42 6v1M44 6v1M46 6v1M50 6v1M7 7v1M31 7v1M40 7v1M46 7v1M51 7v1M55 7v1M1 8v1M6 8v1M10 8v1M17 8v1M22 8v1M32 8v1M36 8v1M43 8v1M48 8v1M53 8v1M14 9v1M18 9v1M23 9v1M29 9v1M48 9v1M1 11v1M2 11v1M3 11v1M5 11v1M10 11v1M13 11v1M28 11v1M29 11v1M31 11v1M40 11v1M44 11v1M53 11v1M54 11v1M5 14v1M14 14v1M15 14v1M19 14v1M22 14v1M23 14v1M39 14v1M43 14v1M47 14v1M48 14v1M53 14v1M8 15v1M19 15v1M23 15v1M30 15v1M38 15v1M40 15v1M46 15v1M48 15v1M51 15v1M55 15v1M3 16v1M19 16v1M23 16v1M24 16v1M25 16v1M27 16v1M28 16v1M29 16v1M40 16v1M41 16v1M46 16v1M48 16v1M3 17v1M26 17v1M31 17v1M38 17v1M40 17v1" stroke="#e4e0f2"/><path d="M2 0v1M5 0v1M10 0v1M15 0v1M16 0v1M22 0v1M25 0v1M32 0v1M35 0v1M39 0v1M0 1v1M3 1v1M31 1v1M35 1v1M50 1v1M7 2v1M8 2v1M21 2v1M23 2v1M25 2v1M37 2v1M40 2v1M46 2v1M48 2v1M2 3v1M8 3v1M11 3v1M13 3v1M19 3v1M26 3v1M28 3v1M35 3v1M44 3v1M54 3v1M2 5v1M6 5v1M14 5v1M16 5v1M19 5v1M21 5v1M27 5v1M34 5v1M38 5v1M48 5v1M49 5v1M50 5v1M53 5v1M14 8v1M15 8v1M37 8v1M39 8v1M45 8v1M46 8v1M50 8v1M52 8v1M55 8v1M13 10v1M17 10v1M19 10v1M21 10v1M25 10v1M31 10v1M32 10v1M35 10v1M40 10v1M44 10v1M45 10v1M54 10v1M0 12v1M3 12v1M20 12v1M22 12v1M32 12v1M35 12v1M36 12v1M41 12v1M44 12v1M51 12v1M53 12v1M7 13v1M20 13v1M21 13v1M24 13v1M26 13v1M33 13v1M43 13v1M44 13v1M45 13v1M51 13v1M6 14v1M10 14v1M16 14v1M18 14v1M24 14v1M25 14v1M28 14v1M32 14v1M38 14v1M40 14v1M45 14v1M54 14v1M55 14v1" stroke="#fbf7f8"/><path d="M4 0v1M29 0v1M30 0v1M42 0v1M48 0v1M50 0v1M51 0v1M52 0v1M3 3v1M4 3v1M6 3v1M12 3v1M15 3v1M30 3v1M36 3v1M38 3v1M39 3v1M49 3v1M0 4v1M1 4v1M7 4v1M9 4v1M16 4v1M17 4v1M18 4v1M21 4v1M25 4v1M29 4v1M33 4v1M38 4v1M39 4v1M40 4v1M42 4v1M43 4v1M49 4v1M50 4v1M55 4v1M3 6v1M5 6v1M6 6v1M7 6v1M8 6v1M10 6v1M13 6v1M19 6v1M23 6v1M25 6v1M29 6v1M39 6v1M40 6v1M55 6v1M5 7v1M8 7v1M16 7v1M26 7v1M32 7v1M36 7v1M47 7v1M50 7v1M0 9v1M1 9v1M2 9v1M4 9v1M6 9v1M10 9v1M11 9v1M13 9v1M20 9v1M27 9v1M31 9v1M32 9v1M34 9v1M35 9v1M41 9v1M43 9v1M45 9v1M51 9v1M2 10v1M8 10v1M9 10v1M10 10v1M22 10v1M34 10v1M41 10v1M42 10v1M49 10v1M52 10v1M25 11v1M26 11v1M33 11v1M41 11v1M47 11v1M50 11v1M55 11v1M12 12v1M21 12v1M23 12v1M46 12v1M47 12v1M48 12v1M55 12v1M3 13v1M11 13v1M27 13v1M29 13v1M30 13v1M41 13v1M6 15v1M7 15v1M11 15v1M27 15v1M33 15v1M7 16v1M16 16v1M17 16v1M22 16v1M30 16v1M34 16v1M52 16v1M54 16v1M1 17v1M5 17v1M15 17v1M32 17v1M33 17v1M34 17v1M42 17v1M44 17v1M49 17v1M52 17v1M54 17v1" stroke="#fbe4da"/><path d="M14 1v1M21 1v1M30 1v1M33 1v1M34 1v1M40 1v1M43 1v1M55 1v1M9 2v1M12 2v1M19 2v1M20 2v1M26 2v1M32 2v1M38 2v1M39 2v1M41 2v1M54 2v1M9 3v1M10 3v1M17 3v1M21 3v1M27 3v1M31 3v1M37 3v1M46 3v1M6 4v1M22 4v1M24 4v1M34 4v1M36 4v1M41 4v1M46 4v1M54 4v1M4 5v1M5 5v1M24 5v1M26 5v1M36 5v1M41 5v1M44 5v1M9 6v1M16 6v1M24 6v1M33 6v1M43 6v1M53 6v1M4 7v1M11 7v1M29 7v1M38 7v1M43 7v1M49 7v1M0 8v1M3 8v1M24 8v1M27 8v1M34 8v1M41 8v1M8 9v1M9 9v1M22 9v1M46 9v1M49 9v1M50 9v1M55 9v1M0 10v1M3 10v1M5 10v1M12 10v1M14 10v1M27 10v1M33 10v1M36 10v1M43 10v1M47 10v1M7 11v1M20 11v1M21 11v1M32 11v1M36 11v1M43 11v1M48 11v1M6 12v1M30 12v1M45 12v1M4 13v1M18 13v1M39 13v1M4 14v1M8 14v1M33 14v1M37 14v1M41 14v1M9 15v1M10 15v1M13 15v1M28 15v1M31 15v1M43 15v1M44 15v1M0 16v1M4 16v1M21 16v1M7 17v1M12 17v1M29 17v1M37 17v1M43 17v1" stroke="#f8cab8"/><path d="M9 0v1M28 0v1M37 0v1M5 1v1M8 1v1M15 1v1M22 1v1M17 2v1M52 2v1M5 3v1M47 3v1M50 3v1M20 5v1M48 6v1M3 7v1M12 7v1M20 7v1M21 7v1M27 7v1M35 7v1M45 7v1M52 7v1M5 9v1M24 9v1M40 9v1M44 9v1M26 10v1M17 11v1M14 12v1M52 12v1M12 13v1M17 13v1M0 14v1M35 14v1M5 15v1M29 15v1M39 15v1M41 15v1M18 16v1M35 16v1M37 16v1M38 16v1M16 17v1M39 17v1M51 17v1" stroke="#f4ac94"/><path d="M17 0v1M23 0v1M46 1v1M47 1v1M16 3v1M22 3v1M32 3v1M8 4v1M38 6v1M28 7v1M16 8v1M15 10v1M46 11v1M15 12v1M24 12v1M25 12v1M34 12v1M2 14v1M3 14v1M36 14v1M52 14v1M21 15v1M45 15v1M31 16v1M53 16v1M13 17v1M30 17v1M53 17v1" stroke="#f18e70"/><path d="M47 2v1M52 6v1M16 9v1M20 16v1M8 17v1" stroke="#ea664f"/></g>
<rect x="803.5" y="2210.9" width="84.9" height="13.8" fill="#f9c56c" stroke="#444" stroke-width="0.8"/>
<text x="846" y="2219.7" font-size="5" text-anchor="middle" font-weight="bold" fill="#222">P5</text>
<g transform="translate(890.8 2227.1) scale(1.4923 9.0611)" stroke-width="1.04" fill="none"><path d="M-.5 0h26v1h-26z" fill="#e4e0f2"/><path d="M-.5 1h26v2h-26z" fill="#fbf7f8"/><path d="M-.5 3h26v1h-26z" fill="#e4e0f2"/><path d="M-.5 4h26v2h-26z" fill="#fbe4da"/><path d="M-.5 6h26v2h-26z" fill="#e4e0f2"/><path d="M-.5 8h26v1h-26z" fill="#f8cab8"/><path d="M-.5 9h26v1h-26z" fill="#fbf7f8"/><path d="M-.5 10h26v3h-26z" fill="#e4e0f2"/><path d="M-.5 13h26v1h-26z" fill="#fbe4da"/><path d="M-.5 14h26v2h-26z" fill="#fbf7f8"/><path d="M-.5 16h26v2h-26z" fill="#e4e0f2"/><path d="M4 1v1M1 9v1M19 9v1M24 16v1" stroke="#7d80d2"/><path d="M19 0v1M12 1v1M16 2v1M12 8v1M8 10v1M12 14v1M15 16v1M4 17v1M16 17v1M19 17v1" stroke="#9696d8"/><path d="M22 0v1M23 0v1M25 0v1M13 2v1M10 5v1M6 6v1M15 9v1M4 10v1M5 10v1M23 10v1M2 11v1M3 11v1M7 12v1M17 12v1M23 13v1M25 13v1M14 14v1M20 14v1M3 15v1M7 15v1M8 15v1M9 16v1M19 16v1" stroke="#b0aee0"/><path d="M4 0v1M16 0v1M20 0v1M3 1v1M6 2v1M8 2v1M19 2v1M20 2v1M11 3v1M16 3v1M25 3v1M3 5v1M14 5v1M17 5v1M21 5v1M7 6v1M0 7v1M2 7v1M9 7v1M14 7v1M22 7v1M5 8v1M8 8v1M20 8v1M8 9v1M21 9v1M24 9v1M1 10v1M6 10v1M11 10v1M18 10v1M4 11v1M18 11v1M5 12v1M8 12v1M21 12v1M6 13v1M0 14v1M2 14v1M22 14v1M24 14v1M10 15v1M14 15v1M16 15v1M17 15v1M12 16v1M17 16v1M25 16v1M5 17v1M7 17v1M18 17v1" stroke="#cbc6e8"/><path d="M0 1v1M10 1v1M13 1v1M18 1v1M21 1v1M23 1v1M0 2v1M17 2v1M18 2v1M5 4v1M8 4v1M13 4v1M18 5v1M19 5v1M7 8v1M22 8v1M5 9v1M9 9v1M14 9v1M18 9v1M20 9v1M1 13v1M7 13v1M8 13v1M14 13v1M16 13v1M22 13v1M5 14v1M10 14v1M16 14v1M25 14v1M12 15v1M15 15v1" stroke="#e4e0f2"/><path d="M0 0v1M7 0v1M8 0v1M13 0v1M0 3v1M5 3v1M8 3v1M14 3v1M17 3v1M0 4v1M2 4v1M7 4v1M11 4v1M16 4v1M19 4v1M20 4v1M23 4v1M25 4v1M2 5v1M8 5v1M22 5v1M4 6v1M5 6v1M8 6v1M13 6v1M21 6v1M22 6v1M25 6v1M3 7v1M4 7v1M8 7v1M15 7v1M17 7v1M6 8v1M14 8v1M16 8v1M19 8v1M23 8v1M3 10v1M19 10v1M24 10v1M25 10v1M13 11v1M14 11v1M25 11v1M1 12v1M13 12v1M15 12v1M20 12v1M22 12v1M0 13v1M11 13v1M15 13v1M2 16v1M5 16v1M6 16v1M7 16v1M16 16v1M3 17v1M8 17v1M11 17v1M12 17v1M23 17v1M24 17v1" stroke="#fbf7f8"/><path d="M5 0v1M6 0v1M10 0v1M11 0v1M14 0v1M24 0v1M1 1v1M6 1v1M14 1v1M7 2v1M9 2v1M21 2v1M22 2v1M23 2v1M25 2v1M3 3v1M7 3v1M15 3v1M18 3v1M22 3v1M24 3v1M0 6v1M1 6v1M9 6v1M11 6v1M16 6v1M17 6v1M11 7v1M16 7v1M18 7v1M23 7v1M25 7v1M1 8v1M4 8v1M11 8v1M17 8v1M21 8v1M24 8v1M0 9v1M7 9v1M0 10v1M2 10v1M9 10v1M12 10v1M1 11v1M7 11v1M11 11v1M22 11v1M24 11v1M2 12v1M18 12v1M24 12v1M4 14v1M7 14v1M19 14v1M23 14v1M2 15v1M0 16v1M13 16v1M14 16v1M22 16v1M6 17v1M22 17v1" stroke="#fbe4da"/><path d="M15 0v1M4 3v1M23 3v1M1 4v1M10 4v1M22 4v1M4 5v1M5 5v1M12 5v1M15 5v1M25 5v1M18 6v1M1 7v1M6 7v1M13 7v1M20 7v1M2 9v1M4 9v1M13 10v1M22 10v1M8 11v1M19 11v1M21 11v1M0 12v1M9 12v1M11 12v1M4 13v1M18 13v1M3 14v1M8 14v1M13 14v1M18 14v1M18 16v1M20 16v1M21 16v1M0 17v1M1 17v1M13 17v1M21 17v1M25 17v1" stroke="#f8cab8"/><path d="M15 1v1M11 2v1M15 2v1M13 3v1M19 3v1M6 5v1M20 5v1M2 6v1M20 6v1M9 8v1M13 8v1M18 8v1M16 9v1M14 10v1M5 11v1M9 11v1M12 11v1M16 11v1M16 12v1M25 12v1M9 13v1M10 13v1M21 14v1M0 15v1M4 15v1M11 15v1M20 15v1M22 15v1M11 16v1M14 17v1" stroke="#f4ac94"/><path d="M21 0v1M9 1v1M11 1v1M20 1v1M7 5v1M9 5v1M6 11v1M4 12v1M21 13v1M15 14v1" stroke="#f18e70"/><path d="M7 10v1" stroke="#ea664f"/></g>
<rect x="890.1" y="2210.9" width="38.8" height="13.8" fill="#f9c56c" stroke="#444" stroke-width="0.8"/>
<text x="909.5" y="2219.7" font-size="5" text-anchor="middle" font-weight="bold" fill="#222">P6</text>
<g transform="translate(932.1 2227.1) scale(1.5229 9.0611)" stroke-width="1.04" fill="none"><path d="M-.5 0h48v1h-48z" fill="#fbe4da"/><path d="M-.5 1h48v2h-48z" fill="#fbf7f8"/><path d="M-.5 3h48v1h-48z" fill="#e4e0f2"/><path d="M-.5 4h48v1h-48z" fill="#cbc6e8"/><path d="M-.5 5h48v1h-48z" fill="#fbe4da"/><path d="M-.5 6h48v2h-48z" fill="#fbf7f8"/><path d="M-.5 8h48v1h-48z" fill="#fbe4da"/><path d="M-.5 9h48v1h-48z" fill="#cbc6e8"/><path d="M-.5 10h48v4h-48z" fill="#e4e0f2"/><path d="M-.5 14h48v1h-48z" fill="#fbe4da"/><path d="M-.5 15h48v1h-48z" fill="#e4e0f2"/><path d="M-.5 16h48v1h-48z" fill="#fbe4da"/><path d="M-.5 17h48v1h-48z" fill="#e4e0f2"/><path d="M7 11v1M5 12v1" stroke="#6469cd"/><path d="M19 0v1M19 1v1M41 2v1M6 3v1M43 5v1M37 6v1M38 9v1M14 11v1M34 12v1M4 13v1M40 17v1" stroke="#7d80d2"/><path d="M17 0v1M36 0v1M0 2v1M8 2v1M5 3v1M10 3v1M2 4v1M6 4v1M25 5v1M45 5v1M0 7v1M10 7v1M35 7v1M11 8v1M15 8v1M13 9v1M17 9v1M28 10v1M13 12v1M0 13v1M8 13v1M14 13v1M26 13v1M39 13v1M4 14v1M36 14v1M13 15v1M43 15v1M0 16v1M17 16v1M32 17v1" stroke="#9696d8"/><path d="M4 0v1M11 0v1M16 0v1M13 1v1M14 1v1M25 1v1M28 1v1M35 1v1M4 2v1M11 2v1M30 2v1M42 2v1M0 3v1M25 3v1M3 4v1M4 4v1M7 4v1M13 4v1M14 4v1M15 4v1M19 4v1M23 4v1M24 4v1M26 4v1M31 4v1M33 4v1M34 4v1M36 4v1M37 4v1M38 4v1M44 4v1M18 5v1M32 5v1M35 5v1M6 6v1M29 6v1M35 6v1M42 6v1M47 6v1M7 7v1M7 8v1M27 8v1M31 8v1M45 8v1M6 9v1M19 9v1M29 9v1M36 9v1M42 9v1M47 9v1M2 10v1M3 10v1M6 10v1M24 10v1M22 11v1M32 11v1M42 11v1M12 12v1M15 12v1M20 12v1M24 12v1M25 12v1M32 12v1M46 12v1M9 13v1M41 13v1M24 14v1M40 14v1M8 15v1M11 15v1M30 15v1M33 15v1M2 17v1M45 17v1" stroke="#b0aee0"/><path d="M10 1v1M11 1v1M24 1v1M38 1v1M44 1v1M46 1v1M47 1v1M5 2v1M7 2v1M26 2v1M32 2v1M35 2v1M37 2v1M44 2v1M4 3v1M8 3v1M14 3v1M16 3v1M0 5v1M7 5v1M11 5v1M31 5v1M41 5v1M5 6v1M7 6v1M14 6v1M18 6v1M3 7v1M9 7v1M12 7v1M22 7v1M25 7v1M27 7v1M45 7v1M1 8v1M5 8v1M10 8v1M23 8v1M29 8v1M40 8v1M20 10v1M22 10v1M31 10v1M32 10v1M44 10v1M45 10v1M3 11v1M28 11v1M30 11v1M35 11v1M40 11v1M19 12v1M22 12v1M36 12v1M37 12v1M44 12v1M45 12v1M2 13v1M19 13v1M33 13v1M34 13v1M2 14v1M3 14v1M8 14v1M21 14v1M28 14v1M38 14v1M44 14v1M46 14v1M47 14v1M3 15v1M6 15v1M7 15v1M9 15v1M15 15v1M20 15v1M26 15v1M38 15v1M39 15v1M47 15v1M4 16v1M6 16v1M15 16v1M20 16v1M34 16v1M42 16v1M45 16v1M21 17v1M22 17v1M28 17v1M33 17v1M38 17v1M39 17v1M41 17v1M43 17v1M46 17v1" stroke="#cbc6e8"/><path d="M3 0v1M6 0v1M20 0v1M30 0v1M35 0v1M40 0v1M0 1v1M4 1v1M6 1v1M7 1v1M15 1v1M16 1v1M26 1v1M39 1v1M40 1v1M41 1v1M3 2v1M9 2v1M12 2v1M19 2v1M21 2v1M23 2v1M34 2v1M36 2v1M38 2v1M45 2v1M1 5v1M3 5v1M6 5v1M8 5v1M24 5v1M28 5v1M40 5v1M0 6v1M8 6v1M10 6v1M16 6v1M27 6v1M32 6v1M40 6v1M45 6v1M46 6v1M6 7v1M11 7v1M13 7v1M16 7v1M18 7v1M20 7v1M28 7v1M37 7v1M40 7v1M9 8v1M17 8v1M21 8v1M34 8v1M38 8v1M41 8v1M43 8v1M47 8v1M2 9v1M9 9v1M27 9v1M31 9v1M34 9v1M40 9v1M45 9v1M46 9v1M1 14v1M7 14v1M9 14v1M10 14v1M16 14v1M17 14v1M23 14v1M25 14v1M26 14v1M33 14v1M2 16v1M7 16v1M13 16v1M14 16v1M29 16v1M30 16v1M32 16v1M35 16v1M36 16v1M39 16v1" stroke="#e4e0f2"/><path d="M2 0v1M9 0v1M15 0v1M25 0v1M26 0v1M27 0v1M28 0v1M33 0v1M37 0v1M47 0v1M2 3v1M19 3v1M20 3v1M21 3v1M26 3v1M29 3v1M32 3v1M42 3v1M44 3v1M45 3v1M47 3v1M2 5v1M9 5v1M10 5v1M12 5v1M13 5v1M19 5v1M21 5v1M23 5v1M34 5v1M37 5v1M0 8v1M6 8v1M8 8v1M28 8v1M32 8v1M36 8v1M42 8v1M12 9v1M16 9v1M21 9v1M23 9v1M24 9v1M26 9v1M39 9v1M44 9v1M1 10v1M8 10v1M10 10v1M11 10v1M21 10v1M26 10v1M37 10v1M38 10v1M40 10v1M42 10v1M0 11v1M9 11v1M10 11v1M11 11v1M25 11v1M29 11v1M41 11v1M44 11v1M3 12v1M7 12v1M11 12v1M16 12v1M27 12v1M29 12v1M31 12v1M33 12v1M38 12v1M39 12v1M11 13v1M15 13v1M17 13v1M37 13v1M45 13v1M6 14v1M12 14v1M15 14v1M18 14v1M19 14v1M35 14v1M41 14v1M5 15v1M14 15v1M32 15v1M12 16v1M16 16v1M18 16v1M23 16v1M24 16v1M26 16v1M28 16v1M38 16v1M43 16v1M44 16v1M47 16v1M14 17v1M15 17v1M17 17v1M24 17v1M26 17v1M29 17v1M31 17v1M34 17v1M36 17v1M37 17v1M47 17v1" stroke="#fbf7f8"/><path d="M1 1v1M5 1v1M9 1v1M20 1v1M27 1v1M42 1v1M45 1v1M6 2v1M10 2v1M13 2v1M17 2v1M24 2v1M25 2v1M31 2v1M11 3v1M22 3v1M23 3v1M27 3v1M28 3v1M30 3v1M40 3v1M16 4v1M40 4v1M4 6v1M11 6v1M15 6v1M22 6v1M28 6v1M33 6v1M34 6v1M38 6v1M41 6v1M1 7v1M5 7v1M14 7v1M23 7v1M29 7v1M32 7v1M34 7v1M42 7v1M43 7v1M3 9v1M15 9v1M33 9v1M35 9v1M12 10v1M13 10v1M14 10v1M17 10v1M35 10v1M36 10v1M41 10v1M43 10v1M4 11v1M5 11v1M12 11v1M15 11v1M37 11v1M47 11v1M1 12v1M6 12v1M8 12v1M18 12v1M23 12v1M26 12v1M42 12v1M1 13v1M5 13v1M7 13v1M20 13v1M22 13v1M29 13v1M31 13v1M35 13v1M47 13v1M1 15v1M4 15v1M10 15v1M18 15v1M21 15v1M22 15v1M27 15v1M31 15v1M37 15v1M41 15v1M46 15v1M0 17v1M1 17v1M16 17v1M18 17v1M25 17v1M30 17v1M35 17v1" stroke="#fbe4da"/><path d="M7 0v1M8 0v1M21 0v1M24 0v1M42 0v1M45 0v1M46 0v1M17 1v1M21 1v1M34 1v1M14 2v1M43 2v1M33 3v1M39 3v1M16 5v1M17 5v1M29 5v1M30 5v1M2 6v1M21 6v1M23 6v1M25 6v1M44 6v1M4 7v1M15 7v1M17 7v1M21 7v1M24 7v1M26 7v1M44 7v1M47 7v1M2 8v1M12 8v1M14 8v1M22 8v1M37 8v1M44 8v1M1 9v1M4 9v1M7 9v1M14 9v1M18 9v1M20 9v1M25 9v1M37 9v1M9 10v1M18 10v1M25 10v1M46 10v1M2 11v1M6 11v1M8 11v1M16 11v1M20 11v1M31 11v1M2 12v1M14 12v1M47 12v1M3 13v1M36 13v1M44 13v1M20 14v1M22 14v1M27 14v1M31 14v1M17 15v1M36 15v1M44 15v1M10 16v1M19 16v1M46 16v1M9 17v1M27 17v1" stroke="#f8cab8"/><path d="M31 0v1M8 1v1M20 2v1M39 2v1M15 3v1M39 5v1M44 5v1M31 6v1M39 7v1M4 8v1M35 8v1M5 9v1M27 13v1M32 14v1M11 17v1M12 17v1M23 17v1" stroke="#f4ac94"/><path d="M34 0v1M33 2v1M31 3v1M43 3v1M3 6v1M33 8v1M1 11v1M12 13v1M11 14v1M45 14v1M35 15v1M8 16v1M21 16v1" stroke="#f18e70"/><path d="M47 5v1" stroke="#ea664f"/><path d="M27 16v1" stroke="#e23e2e"/></g>
<rect x="931.3" y="2210.9" width="73.1" height="13.8" fill="#a9d9ec" stroke="#444" stroke-width="0.8"/>
<text x="967.8" y="2219.7" font-size="5" text-anchor="middle" font-weight="bold" fill="#222">NC1</text>
<g transform="translate(1007 2227.1) scale(1.5455 9.0611)" stroke-width="1.04" fill="none"><path d="M-.5 0h22v2h-22z" fill="#fbf7f8"/><path d="M-.5 2h22v1h-22z" fill="#f4ac94"/><path d="M-.5 3h22v1h-22z" fill="#fbf7f8"/><path d="M-.5 4h22v1h-22z" fill="#cbc6e8"/><path d="M-.5 5h22v2h-22z" fill="#fbf7f8"/><path d="M-.5 7h22v1h-22z" fill="#fbe4da"/><path d="M-.5 8h22v2h-22z" fill="#e4e0f2"/><path d="M-.5 10h22v1h-22z" fill="#fbf7f8"/><path d="M-.5 11h22v1h-22z" fill="#cbc6e8"/><path d="M-.5 12h22v2h-22z" fill="#fbf7f8"/><path d="M-.5 14h22v1h-22z" fill="#e4e0f2"/><path d="M-.5 15h22v1h-22z" fill="#fbf7f8"/><path d="M-.5 16h22v1h-22z" fill="#fbe4da"/><path d="M-.5 17h22v1h-22z" fill="#e4e0f2"/><path d="M5 15v1" stroke="#505ac6"/><path d="M17 0v1M19 6v1" stroke="#6469cd"/><path d="M6 9v1" stroke="#7d80d2"/><path d="M15 0v1M4 2v1M16 5v1" stroke="#9696d8"/><path d="M6 0v1M5 1v1M0 2v1M5 2v1M12 2v1M20 2v1M15 3v1M0 4v1M4 4v1M10 4v1M10 5v1M12 5v1M15 7v1M1 8v1M7 8v1M17 9v1M11 13v1M13 13v1M3 15v1M1 16v1M15 16v1M16 17v1" stroke="#b0aee0"/><path d="M19 0v1M0 1v1M14 1v1M16 1v1M18 1v1M13 2v1M19 2v1M4 3v1M19 5v1M20 5v1M9 6v1M15 6v1M21 6v1M5 7v1M17 7v1M20 7v1M0 8v1M3 8v1M6 8v1M21 8v1M1 9v1M3 9v1M15 9v1M21 9v1M2 10v1M5 10v1M5 12v1M12 12v1M15 12v1M2 13v1M12 13v1M0 14v1M20 14v1M21 14v1M7 15v1M16 15v1M0 16v1M13 17v1M15 17v1M19 17v1M21 17v1" stroke="#cbc6e8"/><path d="M21 0v1M6 1v1M9 1v1M6 2v1M14 2v1M0 3v1M1 3v1M7 3v1M2 4v1M7 4v1M8 4v1M13 4v1M14 4v1M3 5v1M13 5v1M14 5v1M15 5v1M17 5v1M0 6v1M7 6v1M12 6v1M14 6v1M2 7v1M9 7v1M10 7v1M13 7v1M14 7v1M21 7v1M1 10v1M3 10v1M10 10v1M16 10v1M10 11v1M15 11v1M17 11v1M18 11v1M20 11v1M2 12v1M3 12v1M10 12v1M16 12v1M20 12v1M1 13v1M9 15v1M21 15v1M2 16v1M16 16v1" stroke="#e4e0f2"/><path d="M10 2v1M11 2v1M11 4v1M16 4v1M1 7v1M12 7v1M19 7v1M8 8v1M9 8v1M16 8v1M19 8v1M4 9v1M8 9v1M2 11v1M6 11v1M11 11v1M1 14v1M4 14v1M7 14v1M4 16v1M11 16v1M14 16v1M20 16v1M21 16v1M7 17v1M14 17v1M17 17v1M18 17v1" stroke="#fbf7f8"/><path d="M5 0v1M7 0v1M10 0v1M14 0v1M8 1v1M10 1v1M13 1v1M15 1v1M2 2v1M3 2v1M7 2v1M17 2v1M3 3v1M5 3v1M10 3v1M11 3v1M14 3v1M17 3v1M19 3v1M12 4v1M1 5v1M5 5v1M11 5v1M1 6v1M4 6v1M2 8v1M5 8v1M10 8v1M20 8v1M5 9v1M12 9v1M19 9v1M20 9v1M12 10v1M19 10v1M21 10v1M0 11v1M3 11v1M0 12v1M4 12v1M8 12v1M5 13v1M10 13v1M5 14v1M15 14v1M16 14v1M17 14v1M18 14v1M19 14v1M1 15v1M4 17v1M8 17v1M9 17v1" stroke="#fbe4da"/><path d="M1 0v1M2 0v1M9 0v1M2 1v1M20 1v1M21 1v1M16 2v1M21 2v1M9 3v1M20 3v1M21 3v1M0 5v1M18 5v1M3 6v1M5 6v1M20 6v1M7 7v1M11 7v1M16 7v1M12 8v1M15 8v1M17 8v1M2 9v1M11 9v1M16 9v1M8 10v1M20 10v1M7 11v1M9 11v1M16 11v1M21 11v1M7 12v1M14 12v1M17 12v1M18 12v1M19 12v1M4 13v1M8 13v1M17 13v1M20 13v1M8 14v1M9 14v1M19 15v1M6 16v1M19 16v1M5 17v1M11 17v1" stroke="#f8cab8"/><path d="M0 0v1M20 0v1M18 6v1M4 10v1M9 10v1M5 11v1M3 13v1M7 13v1M21 13v1M4 15v1M15 15v1M18 15v1M7 16v1M8 16v1M17 16v1M18 16v1M2 17v1M12 17v1" stroke="#f4ac94"/><path d="M21 5v1M10 6v1M14 10v1M6 13v1M12 15v1" stroke="#f18e70"/><path d="M12 11v1M3 17v1" stroke="#ea664f"/></g>
<rect x="1006.2" y="2210.9" width="34" height="13.8" fill="#a9d9ec" stroke="#444" stroke-width="0.8"/>
<text x="1023.2" y="2219.7" font-size="5" text-anchor="middle" font-weight="bold" fill="#222">NC2</text>
<g transform="translate(1043 2227.1) scale(1.5324 9.0611)" stroke-width="1.04" fill="none"><path d="M-.5 0h37v1h-37z" fill="#fbe4da"/><path d="M-.5 1h37v1h-37z" fill="#fbf7f8"/><path d="M-.5 2h37v1h-37z" fill="#fbe4da"/><path d="M-.5 3h37v1h-37z" fill="#f8cab8"/><path d="M-.5 4h37v1h-37z" fill="#fbe4da"/><path d="M-.5 5h37v1h-37z" fill="#cbc6e8"/><path d="M-.5 6h37v3h-37z" fill="#fbf7f8"/><path d="M-.5 9h37v1h-37z" fill="#b0aee0"/><path d="M-.5 10h37v1h-37z" fill="#fbf7f8"/><path d="M-.5 11h37v1h-37z" fill="#fbe4da"/><path d="M-.5 12h37v1h-37z" fill="#cbc6e8"/><path d="M-.5 13h37v2h-37z" fill="#fbe4da"/><path d="M-.5 15h37v1h-37z" fill="#fbf7f8"/><path d="M-.5 16h37v2h-37z" fill="#fbe4da"/><path d="M14 9v1M15 9v1M16 9v1" stroke="#505ac6"/><path d="M35 1v1M12 9v1" stroke="#6469cd"/><path d="M2 2v1M30 6v1M2 8v1M22 8v1M4 9v1M9 9v1M10 9v1M11 9v1M13 9v1M19 9v1M25 9v1M28 9v1M31 9v1M33 9v1" stroke="#7d80d2"/><path d="M3 2v1M32 2v1M36 3v1M20 6v1M13 8v1M33 8v1M1 9v1M22 9v1M27 9v1M30 9v1M32 9v1M34 9v1M24 10v1M6 11v1M9 11v1M23 12v1M32 12v1M17 14v1M1 15v1M0 16v1M17 16v1" stroke="#9696d8"/><path d="M30 1v1M11 2v1M4 5v1M16 5v1M25 5v1M27 5v1M32 5v1M3 6v1M3 7v1M4 7v1M20 7v1M14 8v1M27 8v1M28 8v1M23 10v1M27 10v1M33 10v1M2 11v1M3 11v1M13 11v1M1 12v1M11 12v1M14 12v1M34 12v1M8 13v1M3 14v1M21 14v1M17 15v1M18 16v1M25 16v1M10 17v1" stroke="#b0aee0"/><path d="M2 0v1M23 0v1M31 0v1M0 1v1M2 1v1M15 1v1M16 1v1M23 1v1M28 1v1M4 2v1M25 2v1M30 2v1M34 2v1M3 3v1M11 3v1M12 3v1M15 3v1M17 3v1M18 3v1M27 3v1M17 6v1M10 7v1M16 7v1M24 7v1M27 7v1M1 8v1M6 8v1M8 8v1M20 8v1M34 8v1M36 8v1M3 9v1M7 9v1M8 9v1M20 9v1M29 9v1M1 10v1M20 10v1M26 10v1M0 11v1M5 11v1M25 11v1M30 11v1M4 13v1M18 13v1M23 13v1M29 13v1M18 14v1M19 14v1M26 14v1M28 14v1M33 14v1M2 16v1M20 16v1M30 16v1M32 16v1M36 16v1M2 17v1M3 17v1M5 17v1M11 17v1M17 17v1M18 17v1M32 17v1M33 17v1M35 17v1" stroke="#cbc6e8"/><path d="M12 0v1M5 1v1M14 1v1M17 1v1M18 1v1M29 1v1M10 2v1M23 2v1M35 2v1M7 3v1M9 3v1M20 3v1M23 3v1M29 3v1M34 3v1M6 4v1M8 4v1M13 4v1M8 5v1M33 5v1M0 6v1M24 6v1M26 6v1M1 7v1M6 7v1M33 7v1M36 7v1M5 8v1M7 8v1M24 8v1M32 8v1M36 9v1M0 10v1M5 10v1M9 10v1M14 10v1M21 10v1M30 10v1M36 10v1M10 11v1M18 11v1M22 11v1M26 11v1M27 11v1M28 11v1M32 11v1M6 12v1M12 12v1M20 12v1M21 12v1M22 12v1M25 12v1M28 13v1M30 13v1M32 13v1M33 13v1M8 14v1M16 14v1M25 14v1M34 14v1M35 14v1M36 14v1M2 15v1M9 15v1M11 15v1M21 15v1M22 15v1M24 15v1M25 15v1M26 15v1M33 15v1M7 16v1M8 16v1M15 16v1M27 16v1M34 16v1M9 17v1M13 17v1M16 17v1M21 17v1M25 17v1M36 17v1" stroke="#e4e0f2"/><path d="M8 0v1M35 0v1M7 2v1M8 2v1M16 2v1M17 2v1M22 2v1M28 2v1M31 2v1M1 3v1M13 3v1M25 3v1M28 3v1M0 4v1M1 4v1M2 4v1M4 4v1M5 4v1M11 4v1M15 4v1M16 4v1M17 4v1M18 4v1M20 4v1M21 4v1M23 4v1M29 4v1M33 4v1M1 5v1M2 5v1M6 5v1M13 5v1M17 5v1M18 5v1M24 5v1M30 5v1M8 11v1M17 11v1M19 11v1M20 11v1M23 11v1M34 11v1M2 12v1M4 12v1M5 12v1M9 12v1M17 12v1M24 12v1M29 12v1M31 12v1M3 13v1M5 13v1M12 13v1M13 13v1M15 13v1M20 13v1M35 13v1M2 14v1M5 14v1M15 14v1M27 14v1M29 14v1M3 16v1M5 16v1M12 16v1M19 16v1M24 16v1M14 17v1M19 17v1M23 17v1M26 17v1M29 17v1M30 17v1" stroke="#fbf7f8"/><path d="M3 1v1M10 1v1M22 1v1M26 1v1M32 1v1M33 1v1M34 1v1M36 1v1M16 3v1M19 3v1M22 3v1M24 3v1M31 3v1M35 3v1M3 5v1M7 5v1M10 5v1M11 5v1M14 5v1M26 5v1M31 5v1M34 5v1M7 6v1M8 6v1M9 6v1M10 6v1M11 6v1M14 6v1M23 6v1M29 6v1M33 6v1M34 6v1M0 7v1M2 7v1M17 7v1M19 7v1M23 7v1M25 7v1M29 7v1M34 7v1M10 8v1M16 8v1M17 8v1M18 8v1M19 8v1M26 8v1M30 8v1M7 10v1M10 10v1M25 10v1M3 12v1M15 12v1M19 12v1M30 12v1M33 12v1M3 15v1M4 15v1M5 15v1M6 15v1M10 15v1M12 15v1M16 15v1M29 15v1" stroke="#fbe4da"/><path d="M16 0v1M24 0v1M29 0v1M30 0v1M6 1v1M9 1v1M13 1v1M9 2v1M19 2v1M20 2v1M26 2v1M36 2v1M3 4v1M7 4v1M22 4v1M0 5v1M5 5v1M15 5v1M29 5v1M6 6v1M12 6v1M15 6v1M32 6v1M35 6v1M36 6v1M7 7v1M15 7v1M21 7v1M22 7v1M26 7v1M0 8v1M3 8v1M12 8v1M2 10v1M12 10v1M17 10v1M29 10v1M31 10v1M34 10v1M15 11v1M16 11v1M33 11v1M13 12v1M16 12v1M0 13v1M7 13v1M11 13v1M17 13v1M21 13v1M26 13v1M0 14v1M7 14v1M23 14v1M31 14v1M8 15v1M27 15v1M9 16v1M21 16v1M26 16v1M31 16v1M33 16v1M1 17v1M4 17v1M20 17v1M34 17v1" stroke="#f8cab8"/><path d="M0 0v1M3 0v1M10 0v1M19 0v1M25 0v1M12 1v1M4 3v1M6 3v1M10 3v1M26 3v1M36 5v1M13 6v1M18 7v1M29 8v1M35 8v1M16 10v1M19 10v1M12 11v1M14 11v1M36 11v1M8 12v1M9 13v1M10 13v1M10 14v1M24 14v1M7 15v1M13 15v1M18 15v1M34 15v1M13 16v1M14 16v1M15 17v1" stroke="#f4ac94"/><path d="M1 0v1M4 0v1M5 0v1M7 0v1M21 0v1M34 0v1M1 1v1M25 1v1M24 2v1M5 3v1M9 8v1M31 11v1M26 12v1M32 14v1M8 17v1" stroke="#f18e70"/><path d="M13 0v1M18 0v1M22 0v1" stroke="#ea664f"/><path d="M6 0v1M14 0v1M15 0v1M17 0v1M32 0v1M36 0v1M24 13v1" stroke="#e23e2e"/><path d="M28 6v1" stroke="#dc2c25"/></g>
<rect x="1042.2" y="2210.9" width="56.7" height="13.8" fill="#a9d9ec" stroke="#444" stroke-width="0.8"/>
<text x="1070.6" y="2219.7" font-size="5" text-anchor="middle" font-weight="bold" fill="#222">NC3</text>
<text x="1101.3" y="2233.4" font-size="4.9" fill="#111">AIF1</text>
<text x="1101.3" y="2242.5" font-size="4.9" fill="#111">CORO1A</text>
<text x="1101.3" y="2251.6" font-size="4.9" fill="#111">PTPRC</text>
<text x="1101.3" y="2260.6" font-size="4.9" fill="#111">CSK</text>
<text x="1101.3" y="2269.7" font-size="4.9" fill="#111">HLA-DRB5</text>
<text x="1101.3" y="2278.7" font-size="4.9" fill="#111">NME2</text>
<text x="1101.3" y="2287.8" font-size="4.9" fill="#111">RPS6KA</text>
<text x="1101.3" y="2296.9" font-size="4.9" fill="#111">YWHAB</text>
<text x="1101.3" y="2305.9" font-size="4.9" fill="#111">CYBA</text>
<text x="1101.3" y="2315" font-size="4.9" fill="#111">HLA-E</text>
<text x="1101.3" y="2324" font-size="4.9" fill="#111">RHOA</text>
<text x="1101.3" y="2333.1" font-size="4.9" fill="#111">ACTR1</text>
<text x="1101.3" y="2342.2" font-size="4.9" fill="#111">ARPC1B</text>
<text x="1101.3" y="2351.2" font-size="4.9" fill="#111">CLIC1</text>
<text x="1101.3" y="2360.3" font-size="4.9" fill="#111">PTK1</text>
<text x="1101.3" y="2369.3" font-size="4.9" fill="#111">LTB</text>
<text x="1101.3" y="2378.4" font-size="4.9" fill="#111">S100A4</text>
<text x="1101.3" y="2387.5" font-size="4.9" fill="#111">S100A6</text>
<defs><linearGradient id="lgH2" x1="0" y1="0" x2="0" y2="1"><stop offset="0%" stop-color="#d7191c"/><stop offset="12.5%" stop-color="#e23e2e"/><stop offset="25%" stop-color="#f18e70"/><stop offset="37.5%" stop-color="#f8cab8"/><stop offset="43.8%" stop-color="#fbe4da"/><stop offset="50%" stop-color="#fbf7f8"/><stop offset="56.2%" stop-color="#e4e0f2"/><stop offset="62.5%" stop-color="#cbc6e8"/><stop offset="75%" stop-color="#9696d8"/><stop offset="87.5%" stop-color="#6469cd"/><stop offset="100%" stop-color="#3b4cc0"/></linearGradient></defs>
<rect x="1142.5" y="2288.2" width="8.3" height="40.8" fill="url(#lgH2)"/>
<text x="1138.5" y="2308.6" font-size="4.2" text-anchor="middle" fill="#222" transform="rotate(-90 1138.5 2308.6)">Expression</text>
<text x="1155.5" y="2290.5" font-size="5.2" text-anchor="middle" fill="#222" transform="rotate(-90 1155.5 2290.5)">4</text>
<text x="1155.5" y="2300" font-size="5.2" text-anchor="middle" fill="#222" transform="rotate(-90 1155.5 2300)">2</text>
<text x="1155.5" y="2309" font-size="5.2" text-anchor="middle" fill="#222" transform="rotate(-90 1155.5 2309)">0</text>
<text x="1155.5" y="2318.5" font-size="5.2" text-anchor="middle" fill="#222" transform="rotate(-90 1155.5 2318.5)">-2</text>
<text x="1155.5" y="2327.5" font-size="5.2" text-anchor="middle" fill="#222" transform="rotate(-90 1155.5 2327.5)">-4</text>
</g>
<g id="panelI">
<text x="1143.5" y="1810.5" font-size="34" font-weight="bold">I</text>
<path d="M1179.7 1819.1V1949.6H1269.6" stroke="#aaa" stroke-width="0.8" fill="none"/>
<path d="M1179.7 1933.6h-2M1179.7 1896.8h-2M1179.7 1859.9h-2M1179.7 1823.1h-2M1195.9 1949.6v2M1224.6 1949.6v2M1253 1949.6v2" stroke="#aaa" stroke-width="0.7" fill="none"/>
<text x="1175.2" y="1936.8" font-size="9" text-anchor="end" fill="#444">0</text>
<text x="1175.2" y="1900" font-size="9" text-anchor="end" fill="#444">2</text>
<text x="1175.2" y="1863.1" font-size="9" text-anchor="end" fill="#444">4</text>
<text x="1175.2" y="1826.3" font-size="9" text-anchor="end" fill="#444">6</text>
<text x="1178.3" y="1814.2" font-size="9.6" fill="#222">AIF1</text>
<g transform="translate(1195.9 1933.6)"><path d="M0 11.4L.3 9.2L1 6.6L2.6 4.1L4.6 1.8L6.5 0L4.6 -1.8L2.6 -4.1L1 -6.6L1 -9.2L1.3 -12.5L.9 -15.9L.6 -19.2L.4 -22.6L.3 -25.9L.3 -29.2L.3 -32.6L.3 -35.9L.3 -39.3L.3 -42.6L.3 -45.9L.3 -49.3L.3 -52.6L.3 -56L.3 -59.3L0 -62.6L0 -62.6L-.3 -59.3L-.3 -56L-.3 -52.6L-.3 -49.3L-.3 -45.9L-.3 -42.6L-.3 -39.3L-.3 -35.9L-.3 -32.6L-.3 -29.2L-.3 -25.9L-.4 -22.6L-.6 -19.2L-.9 -15.9L-1.3 -12.5L-1 -9.2L-1 -6.6L-2.6 -4.1L-4.6 -1.8L-6.5 0L-4.6 1.8L-2.6 4.1L-1 6.6L-.3 9.2L0 11.4Z" fill="#17a9bf" stroke="#222" stroke-width=".45"/><circle cy="-7.4" r="1.9" fill="#111"/></g>
<g transform="translate(1224.6 1933.6)"><path d="M0 11.4L0 9.2L.3 6.6L1 4.1L6.2 1.8L14 0L6.2 -1.8L1 -4.1L.5 -6.6L.8 -9.2L.8 -12.1L.6 -15L.4 -17.8L.3 -20.7L.3 -23.6L.3 -26.5L.3 -29.4L.3 -32.2L.3 -35.1L.3 -38L.3 -40.9L.3 -43.7L.3 -46.6L.3 -49.5L.3 -52.4L0 -55.3L0 -55.3L-.3 -52.4L-.3 -49.5L-.3 -46.6L-.3 -43.7L-.3 -40.9L-.3 -38L-.3 -35.1L-.3 -32.2L-.3 -29.4L-.3 -26.5L-.3 -23.6L-.3 -20.7L-.4 -17.8L-.6 -15L-.8 -12.1L-.8 -9.2L-.5 -6.6L-1 -4.1L-6.2 -1.8L-14 0L-6.2 1.8L-1 4.1L-.3 6.6L0 9.2L0 11.4Z" fill="#e8bf1c" stroke="#222" stroke-width=".45"/><circle cy="-1.8" r="1.9" fill="#111"/></g>
<g transform="translate(1253 1933.6)"><path d="M0 11.4L0 9.2L.3 6.6L1.7 4.1L5.6 1.8L10 0L5.6 -1.8L1.7 -4.1L.5 -6.6L.9 -9.2L.8 -12.5L.5 -15.9L.3 -19.2L.3 -22.6L.3 -25.9L.3 -29.2L.3 -32.6L.3 -35.9L.3 -39.3L.3 -42.6L.3 -45.9L.3 -49.3L.3 -52.6L.3 -56L.3 -59.3L0 -62.6L0 -62.6L-.3 -59.3L-.3 -56L-.3 -52.6L-.3 -49.3L-.3 -45.9L-.3 -42.6L-.3 -39.3L-.3 -35.9L-.3 -32.6L-.3 -29.2L-.3 -25.9L-.3 -22.6L-.3 -19.2L-.5 -15.9L-.8 -12.5L-.9 -9.2L-.5 -6.6L-1.7 -4.1L-5.6 -1.8L-10 0L-5.6 1.8L-1.7 4.1L-.3 6.6L0 9.2L0 11.4Z" fill="#e8500f" stroke="#222" stroke-width=".45"/><circle cy="-2.8" r="1.9" fill="#111"/></g>
<path d="M1195.9 1827.1H1253M1224.6 1832.1H1253M1195.9 1837.6H1224.6" stroke="#999" stroke-width="0.6" fill="none"/>
<path d="M1253 1825.6v12" stroke="#bbb" stroke-width="0.6" stroke-dasharray="1.5 1.5" fill="none"/>
<text x="1229.1" y="1823.6" font-size="6" text-anchor="middle" fill="#444">****</text>
<text x="1240.8" y="1831.1" font-size="5.5" text-anchor="middle" fill="#555">ns</text>
<text x="1214.2" y="1837.1" font-size="6" text-anchor="middle" fill="#444">****</text>
<path d="M1288.7 1819.1V1949.6H1379.1" stroke="#aaa" stroke-width="0.8" fill="none"/>
<path d="M1288.7 1933.6h-2M1288.7 1896.8h-2M1288.7 1859.9h-2M1288.7 1823.1h-2M1305.2 1949.6v2M1333.6 1949.6v2M1362.3 1949.6v2" stroke="#aaa" stroke-width="0.7" fill="none"/>
<text x="1284.2" y="1936.8" font-size="9" text-anchor="end" fill="#444">0</text>
<text x="1284.2" y="1900" font-size="9" text-anchor="end" fill="#444">2</text>
<text x="1284.2" y="1863.1" font-size="9" text-anchor="end" fill="#444">4</text>
<text x="1284.2" y="1826.3" font-size="9" text-anchor="end" fill="#444">6</text>
<text x="1288.4" y="1814.2" font-size="9.6" fill="#222">CSK</text>
<g transform="translate(1305.2 1933.6)"><path d="M0 11.4L.1 9.2L.5 6.6L1.4 4.1L2.5 1.8L3.5 0L2.5 -1.8L1.4 -4.1L.8 -6.6L1.7 -9.2L2.6 -12L4 -14.7L5.6 -17.5L7.6 -20.3L9.8 -23L12 -25.8L14.2 -28.6L13.7 -31.3L11.5 -34.1L9.2 -36.8L6.1 -39.6L3.6 -42.4L1.9 -45.1L.8 -47.9L.3 -50.7L0 -53.4L0 -53.4L-.3 -50.7L-.8 -47.9L-1.9 -45.1L-3.6 -42.4L-6.1 -39.6L-9.2 -36.8L-11.5 -34.1L-13.7 -31.3L-14.2 -28.6L-12 -25.8L-9.8 -23L-7.6 -20.3L-5.6 -17.5L-4 -14.7L-2.6 -12L-1.7 -9.2L-.8 -6.6L-1.4 -4.1L-2.5 -1.8L-3.5 0L-2.5 1.8L-1.4 4.1L-.5 6.6L-.1 9.2L0 11.4Z" fill="#17a9bf" stroke="#222" stroke-width=".45"/><circle cy="-25.8" r="1.9" fill="#111"/></g>
<g transform="translate(1333.6 1933.6)"><path d="M0 11.4L.3 9.2L1.2 6.6L3.1 4.1L5.6 1.8L8 0L5.6 -1.8L3.1 -4.1L1.2 -6.6L2.2 -9.2L3.7 -13.1L5.6 -17L7.7 -21L9.9 -24.9L11.1 -28.8L8.8 -32.7L6.6 -36.6L4.6 -40.5L2.7 -44.4L1.4 -48.4L.7 -52.3L.3 -56.2L.3 -60.1L.3 -64L.3 -67.9L0 -71.8L0 -71.8L-.3 -67.9L-.3 -64L-.3 -60.1L-.3 -56.2L-.7 -52.3L-1.4 -48.4L-2.7 -44.4L-4.6 -40.5L-6.6 -36.6L-8.8 -32.7L-11.1 -28.8L-9.9 -24.9L-7.7 -21L-5.6 -17L-3.7 -13.1L-2.2 -9.2L-1.2 -6.6L-3.1 -4.1L-5.6 -1.8L-8 0L-5.6 1.8L-3.1 4.1L-1.2 6.6L-.3 9.2L0 11.4Z" fill="#e8bf1c" stroke="#222" stroke-width=".45"/><circle cy="-21.2" r="1.9" fill="#111"/></g>
<g transform="translate(1362.3 1933.6)"><path d="M0 11.4L.4 9.2L1.3 6.6L3.5 4.1L6.3 1.8L9 0L6.3 -1.8L3.5 -4.1L1.5 -6.6L2.6 -9.2L4 -13.4L5.6 -17.5L7.3 -21.6L9 -25.8L7.5 -29.9L5.8 -34.1L4.2 -38.2L2.8 -42.4L1.5 -46.5L.8 -50.7L.4 -54.8L.3 -58.9L.3 -63.1L.3 -67.2L.3 -71.4L0 -75.5L0 -75.5L-.3 -71.4L-.3 -67.2L-.3 -63.1L-.3 -58.9L-.4 -54.8L-.8 -50.7L-1.5 -46.5L-2.8 -42.4L-4.2 -38.2L-5.8 -34.1L-7.5 -29.9L-9 -25.8L-7.3 -21.6L-5.6 -17.5L-4 -13.4L-2.6 -9.2L-1.5 -6.6L-3.5 -4.1L-6.3 -1.8L-9 0L-6.3 1.8L-3.5 4.1L-1.3 6.6L-.4 9.2L0 11.4Z" fill="#e8500f" stroke="#222" stroke-width=".45"/><circle cy="-20.3" r="1.9" fill="#111"/></g>
<path d="M1305.2 1827.1H1362.3M1333.6 1832.1H1362.3M1305.2 1837.6H1333.6" stroke="#999" stroke-width="0.6" fill="none"/>
<path d="M1362.3 1825.6v12" stroke="#bbb" stroke-width="0.6" stroke-dasharray="1.5 1.5" fill="none"/>
<text x="1338.1" y="1823.6" font-size="6" text-anchor="middle" fill="#444">****</text>
<text x="1349.9" y="1831.1" font-size="5.5" text-anchor="middle" fill="#555">ns</text>
<text x="1323.4" y="1837.1" font-size="6" text-anchor="middle" fill="#444">****</text>
<path d="M1398.8 1819.1V1949.6H1489.9" stroke="#aaa" stroke-width="0.8" fill="none"/>
<path d="M1398.8 1933.6h-2M1398.8 1896.8h-2M1398.8 1859.9h-2M1398.8 1823.1h-2M1415.9 1949.6v2M1444.3 1949.6v2M1472.8 1949.6v2" stroke="#aaa" stroke-width="0.7" fill="none"/>
<text x="1394.3" y="1936.8" font-size="9" text-anchor="end" fill="#444">0</text>
<text x="1394.3" y="1900" font-size="9" text-anchor="end" fill="#444">2</text>
<text x="1394.3" y="1863.1" font-size="9" text-anchor="end" fill="#444">4</text>
<text x="1394.3" y="1826.3" font-size="9" text-anchor="end" fill="#444">6</text>
<text x="1398" y="1814.2" font-size="9.6" fill="#222">HLA-DRB5</text>
<g transform="translate(1415.9 1933.6)"><path d="M0 11.4L.2 9.2L.4 6.6L.7 4.1L1.1 1.8L1.5 0L1.1 -1.8L.7 -4.1L.4 -6.6L.3 -9.2L.3 -12.9L.3 -16.6L.7 -20.3L1.4 -23.9L2.7 -27.6L4.3 -31.3L6.1 -35L7.3 -38.7L5.4 -42.4L3.7 -46L2 -49.7L.9 -53.4L.3 -57.1L.3 -60.8L.3 -64.5L0 -68.2L0 -68.2L-.3 -64.5L-.3 -60.8L-.3 -57.1L-.9 -53.4L-2 -49.7L-3.7 -46L-5.4 -42.4L-7.3 -38.7L-6.1 -35L-4.3 -31.3L-2.7 -27.6L-1.4 -23.9L-.7 -20.3L-.3 -16.6L-.3 -12.9L-.3 -9.2L-.4 -6.6L-.7 -4.1L-1.1 -1.8L-1.5 0L-1.1 1.8L-.7 4.1L-.4 6.6L-.2 9.2L0 11.4Z" fill="#17a9bf" stroke="#222" stroke-width=".45"/><circle cy="-36.8" r="1.9" fill="#111"/></g>
<g transform="translate(1444.3 1933.6)"><path d="M0 11.4L.4 9.2L1.1 6.6L2.6 4.1L4.4 1.8L6 0L4.4 -1.8L2.6 -4.1L1.1 -6.6L.4 -9.2L.4 -12.9L.8 -16.6L1.4 -20.3L2.3 -23.9L3.4 -27.6L4.4 -31.3L4.7 -35L3.6 -38.7L2.5 -42.4L1.5 -46L.7 -49.7L.4 -53.4L.3 -57.1L.3 -60.8L.3 -64.5L0 -68.2L0 -68.2L-.3 -64.5L-.3 -60.8L-.3 -57.1L-.4 -53.4L-.7 -49.7L-1.5 -46L-2.5 -42.4L-3.6 -38.7L-4.7 -35L-4.4 -31.3L-3.4 -27.6L-2.3 -23.9L-1.4 -20.3L-.8 -16.6L-.4 -12.9L-.4 -9.2L-1.1 -6.6L-2.6 -4.1L-4.4 -1.8L-6 0L-4.4 1.8L-2.6 4.1L-1.1 6.6L-.4 9.2L0 11.4Z" fill="#e8bf1c" stroke="#222" stroke-width=".45"/><circle cy="-20.3" r="1.9" fill="#111"/></g>
<g transform="translate(1472.8 1933.6)"><path d="M0 11.4L.1 9.2L.3 6.6L2.4 4.1L7.8 1.8L14 0L7.8 -1.8L2.4 -4.1L.3 -6.6L.4 -9.2L.6 -12.4L.9 -15.7L1.3 -18.9L1.6 -22.1L1.9 -25.3L2.3 -28.6L2 -31.8L1.6 -35L1.2 -38.2L.8 -41.4L.5 -44.7L.3 -47.9L.3 -51.1L.3 -54.3L.3 -57.6L0 -60.8L0 -60.8L-.3 -57.6L-.3 -54.3L-.3 -51.1L-.3 -47.9L-.5 -44.7L-.8 -41.4L-1.2 -38.2L-1.6 -35L-2 -31.8L-2.3 -28.6L-1.9 -25.3L-1.6 -22.1L-1.3 -18.9L-.9 -15.7L-.6 -12.4L-.4 -9.2L-.3 -6.6L-2.4 -4.1L-7.8 -1.8L-14 0L-7.8 1.8L-2.4 4.1L-.3 6.6L-.1 9.2L0 11.4Z" fill="#e8500f" stroke="#222" stroke-width=".45"/><circle cy="-8.3" r="1.9" fill="#111"/></g>
<path d="M1415.9 1827.1H1472.8M1444.3 1832.1H1472.8M1415.9 1837.6H1444.3" stroke="#999" stroke-width="0.6" fill="none"/>
<path d="M1472.8 1825.6v12" stroke="#bbb" stroke-width="0.6" stroke-dasharray="1.5 1.5" fill="none"/>
<text x="1448.8" y="1823.6" font-size="6" text-anchor="middle" fill="#444">****</text>
<text x="1460.5" y="1831.1" font-size="5.5" text-anchor="middle" fill="#555">****</text>
<text x="1434.1" y="1837.1" font-size="6" text-anchor="middle" fill="#444">****</text>
<path d="M1179.7 1968.4V2098H1269.6" stroke="#aaa" stroke-width="0.8" fill="none"/>
<path d="M1179.7 2082h-2M1179.7 2045.2h-2M1179.7 2008.3h-2M1179.7 1971.5h-2M1195.9 2098v2M1224.6 2098v2M1253 2098v2" stroke="#aaa" stroke-width="0.7" fill="none"/>
<text x="1175.2" y="2085.2" font-size="9" text-anchor="end" fill="#444">0</text>
<text x="1175.2" y="2048.4" font-size="9" text-anchor="end" fill="#444">2</text>
<text x="1175.2" y="2011.5" font-size="9" text-anchor="end" fill="#444">4</text>
<text x="1175.2" y="1974.7" font-size="9" text-anchor="end" fill="#444">6</text>
<text x="1178.3" y="1965.5" font-size="9.6" fill="#222">CYBA</text>
<g transform="translate(1195.9 2082)"><path d="M0 11.4L0 9.2L.3 6.6L.4 4.1L.7 1.8L1 0L.7 -1.8L.4 -4.1L.3 -6.6L.3 -9.2L.3 -13.1L.3 -17L.5 -21L1.1 -24.9L2.4 -28.8L4.4 -32.7L7.3 -36.6L10.5 -40.5L13.9 -44.4L11.9 -48.4L8.6 -52.3L4.8 -56.2L2.1 -60.1L.7 -64L.3 -67.9L0 -71.8L0 -71.8L-.3 -67.9L-.7 -64L-2.1 -60.1L-4.8 -56.2L-8.6 -52.3L-11.9 -48.4L-13.9 -44.4L-10.5 -40.5L-7.3 -36.6L-4.4 -32.7L-2.4 -28.8L-1.1 -24.9L-.5 -21L-.3 -17L-.3 -13.1L-.3 -9.2L-.3 -6.6L-.4 -4.1L-.7 -1.8L-1 0L-.7 1.8L-.4 4.1L-.3 6.6L0 9.2L0 11.4Z" fill="#17a9bf" stroke="#222" stroke-width=".45"/><circle cy="-44.2" r="1.9" fill="#111"/></g>
<g transform="translate(1224.6 2082)"><path d="M0 11.4L.1 9.2L.5 6.6L1.4 4.1L2.5 1.8L3.5 0L2.5 -1.8L1.4 -4.1L.5 -6.6L.3 -9.2L.3 -13.5L.5 -17.7L1.2 -22L2.4 -26.2L4.3 -30.5L6.8 -34.8L9.6 -39L12.5 -43.3L9.8 -47.5L7 -51.8L4.2 -56.1L1.9 -60.3L.7 -64.6L.3 -68.8L.3 -73.1L0 -77.4L0 -77.4L-.3 -73.1L-.3 -68.8L-.7 -64.6L-1.9 -60.3L-4.2 -56.1L-7 -51.8L-9.8 -47.5L-12.5 -43.3L-9.6 -39L-6.8 -34.8L-4.3 -30.5L-2.4 -26.2L-1.2 -22L-.5 -17.7L-.3 -13.5L-.3 -9.2L-.5 -6.6L-1.4 -4.1L-2.5 -1.8L-3.5 0L-2.5 1.8L-1.4 4.1L-.5 6.6L-.1 9.2L0 11.4Z" fill="#e8bf1c" stroke="#222" stroke-width=".45"/><circle cy="-41.4" r="1.9" fill="#111"/></g>
<g transform="translate(1253 2082)"><path d="M0 11.4L.2 9.2L.7 6.6L2 4.1L3.5 1.8L5 0L3.5 -1.8L2 -4.1L.7 -6.6L.3 -9.2L.4 -13.6L.9 -18L1.8 -22.3L3.2 -26.7L5.2 -31.1L7.6 -35.5L10 -39.8L10.7 -44.2L8.2 -48.6L5.7 -53L3.2 -57.3L1.5 -61.7L.6 -66.1L.3 -70.5L.3 -74.8L0 -79.2L0 -79.2L-.3 -74.8L-.3 -70.5L-.6 -66.1L-1.5 -61.7L-3.2 -57.3L-5.7 -53L-8.2 -48.6L-10.7 -44.2L-10 -39.8L-7.6 -35.5L-5.2 -31.1L-3.2 -26.7L-1.8 -22.3L-.9 -18L-.4 -13.6L-.3 -9.2L-.7 -6.6L-2 -4.1L-3.5 -1.8L-5 0L-3.5 1.8L-2 4.1L-.7 6.6L-.2 9.2L0 11.4Z" fill="#e8500f" stroke="#222" stroke-width=".45"/><circle cy="-38.7" r="1.9" fill="#111"/></g>
<path d="M1195.9 1975.5H1253M1224.6 1980.5H1253M1195.9 1986H1224.6" stroke="#999" stroke-width="0.6" fill="none"/>
<path d="M1253 1974v12" stroke="#bbb" stroke-width="0.6" stroke-dasharray="1.5 1.5" fill="none"/>
<text x="1229.1" y="1972" font-size="6" text-anchor="middle" fill="#444">**</text>
<text x="1240.8" y="1979.5" font-size="5.5" text-anchor="middle" fill="#555">ns</text>
<text x="1214.2" y="1985.5" font-size="6" text-anchor="middle" fill="#444">**</text>
<path d="M1288.7 1968.4V2098H1379.1" stroke="#aaa" stroke-width="0.8" fill="none"/>
<path d="M1288.7 2082h-2M1288.7 2045.2h-2M1288.7 2008.3h-2M1288.7 1971.5h-2M1305.2 2098v2M1333.6 2098v2M1362.3 2098v2" stroke="#aaa" stroke-width="0.7" fill="none"/>
<text x="1284.2" y="2085.2" font-size="9" text-anchor="end" fill="#444">0</text>
<text x="1284.2" y="2048.4" font-size="9" text-anchor="end" fill="#444">2</text>
<text x="1284.2" y="2011.5" font-size="9" text-anchor="end" fill="#444">4</text>
<text x="1284.2" y="1974.7" font-size="9" text-anchor="end" fill="#444">6</text>
<text x="1288.4" y="1965.5" font-size="9.6" fill="#222">ARPC1B</text>
<g transform="translate(1305.2 2082)"><path d="M0 11.4L.2 9.2L.4 6.6L.7 4.1L1.1 1.8L1.5 0L1.1 -1.8L.7 -4.1L.4 -6.6L.7 -9.2L1.3 -12.4L2.3 -15.7L3.7 -18.9L5.6 -22.1L8 -25.3L10.5 -28.6L13.1 -31.8L14.5 -35L11.8 -38.2L9.2 -41.4L6.1 -44.7L3.4 -47.9L1.6 -51.1L.7 -54.3L.3 -57.6L0 -60.8L0 -60.8L-.3 -57.6L-.7 -54.3L-1.6 -51.1L-3.4 -47.9L-6.1 -44.7L-9.2 -41.4L-11.8 -38.2L-14.5 -35L-13.1 -31.8L-10.5 -28.6L-8 -25.3L-5.6 -22.1L-3.7 -18.9L-2.3 -15.7L-1.3 -12.4L-.7 -9.2L-.4 -6.6L-.7 -4.1L-1.1 -1.8L-1.5 0L-1.1 1.8L-.7 4.1L-.4 6.6L-.2 9.2L0 11.4Z" fill="#17a9bf" stroke="#222" stroke-width=".45"/><circle cy="-31.3" r="1.9" fill="#111"/></g>
<g transform="translate(1333.6 2082)"><path d="M0 11.4L.3 9.2L1.1 6.6L2.9 4.1L5.3 1.8L7.5 0L5.3 -1.8L2.9 -4.1L1.1 -6.6L1.2 -9.2L2.3 -13.4L3.9 -17.5L6 -21.6L8.5 -25.8L11.1 -29.9L11.6 -34.1L9 -38.2L6.5 -42.4L4.3 -46.5L2.2 -50.7L1 -54.8L.5 -58.9L.3 -63.1L.3 -67.2L.3 -71.4L0 -75.5L0 -75.5L-.3 -71.4L-.3 -67.2L-.3 -63.1L-.5 -58.9L-1 -54.8L-2.2 -50.7L-4.3 -46.5L-6.5 -42.4L-9 -38.2L-11.6 -34.1L-11.1 -29.9L-8.5 -25.8L-6 -21.6L-3.9 -17.5L-2.3 -13.4L-1.2 -9.2L-1.1 -6.6L-2.9 -4.1L-5.3 -1.8L-7.5 0L-5.3 1.8L-2.9 4.1L-1.1 6.6L-.3 9.2L0 11.4Z" fill="#e8bf1c" stroke="#222" stroke-width=".45"/><circle cy="-26.7" r="1.9" fill="#111"/></g>
<g transform="translate(1362.3 2082)"><path d="M0 11.4L.3 9.2L1.1 6.6L2.9 4.1L5.3 1.8L7.5 0L5.3 -1.8L2.9 -4.1L1.1 -6.6L1.3 -9.2L2.2 -12.9L3.6 -16.6L5.3 -20.3L7.3 -23.9L9.4 -27.6L11.7 -31.3L9.6 -35L7.5 -38.7L5.5 -42.4L3.4 -46L1.8 -49.7L.9 -53.4L.4 -57.1L.3 -60.8L.3 -64.5L0 -68.2L0 -68.2L-.3 -64.5L-.3 -60.8L-.4 -57.1L-.9 -53.4L-1.8 -49.7L-3.4 -46L-5.5 -42.4L-7.5 -38.7L-9.6 -35L-11.7 -31.3L-9.4 -27.6L-7.3 -23.9L-5.3 -20.3L-3.6 -16.6L-2.2 -12.9L-1.3 -9.2L-1.1 -6.6L-2.9 -4.1L-5.3 -1.8L-7.5 0L-5.3 1.8L-2.9 4.1L-1.1 6.6L-.3 9.2L0 11.4Z" fill="#e8500f" stroke="#222" stroke-width=".45"/><circle cy="-27.6" r="1.9" fill="#111"/></g>
<path d="M1305.2 1975.5H1362.3M1333.6 1980.5H1362.3M1305.2 1986H1333.6" stroke="#999" stroke-width="0.6" fill="none"/>
<path d="M1362.3 1974v12" stroke="#bbb" stroke-width="0.6" stroke-dasharray="1.5 1.5" fill="none"/>
<text x="1338.1" y="1972" font-size="6" text-anchor="middle" fill="#444">*</text>
<text x="1349.9" y="1979.5" font-size="5.5" text-anchor="middle" fill="#555">ns</text>
<text x="1323.4" y="1985.5" font-size="6" text-anchor="middle" fill="#444">**</text>
<path d="M1398.8 1968.4V2098H1489.9" stroke="#aaa" stroke-width="0.8" fill="none"/>
<path d="M1398.8 2082h-2M1398.8 2045.2h-2M1398.8 2008.3h-2M1398.8 1971.5h-2M1415.9 2098v2M1444.3 2098v2M1472.8 2098v2" stroke="#aaa" stroke-width="0.7" fill="none"/>
<text x="1394.3" y="2085.2" font-size="9" text-anchor="end" fill="#444">0</text>
<text x="1394.3" y="2048.4" font-size="9" text-anchor="end" fill="#444">2</text>
<text x="1394.3" y="2011.5" font-size="9" text-anchor="end" fill="#444">4</text>
<text x="1394.3" y="1974.7" font-size="9" text-anchor="end" fill="#444">6</text>
<text x="1398" y="1965.5" font-size="9.6" fill="#222">CORO1A</text>
<g transform="translate(1415.9 2082)"><path d="M0 11.4L0 9.2L.3 6.6L.5 4.1L.8 1.8L1.2 0L.8 -1.8L.5 -4.1L.3 -6.6L.3 -9.2L.3 -13.1L.4 -17L.9 -21L1.9 -24.9L3.7 -28.8L6.4 -32.7L9.5 -36.6L12.9 -40.5L12.9 -44.4L9.6 -48.4L6.3 -52.3L3 -56.2L1.2 -60.1L.4 -64L.3 -67.9L0 -71.8L0 -71.8L-.3 -67.9L-.4 -64L-1.2 -60.1L-3 -56.2L-6.3 -52.3L-9.6 -48.4L-12.9 -44.4L-12.9 -40.5L-9.5 -36.6L-6.4 -32.7L-3.7 -28.8L-1.9 -24.9L-.9 -21L-.4 -17L-.3 -13.1L-.3 -9.2L-.3 -6.6L-.5 -4.1L-.8 -1.8L-1.2 0L-.8 1.8L-.5 4.1L-.3 6.6L0 9.2L0 11.4Z" fill="#17a9bf" stroke="#222" stroke-width=".45"/><circle cy="-40.5" r="1.9" fill="#111"/></g>
<g transform="translate(1444.3 2082)"><path d="M0 11.4L.1 9.2L.5 6.6L1.4 4.1L2.5 1.8L3.5 0L2.5 -1.8L1.4 -4.1L.5 -6.6L.3 -9.2L.3 -13.4L.5 -17.5L1.2 -21.6L2.6 -25.8L4.7 -29.9L7.4 -34.1L10.3 -38.2L10.9 -42.4L7.9 -46.5L5.1 -50.7L2.6 -54.8L1.1 -58.9L.4 -63.1L.3 -67.2L.3 -71.4L0 -75.5L0 -75.5L-.3 -71.4L-.3 -67.2L-.4 -63.1L-1.1 -58.9L-2.6 -54.8L-5.1 -50.7L-7.9 -46.5L-10.9 -42.4L-10.3 -38.2L-7.4 -34.1L-4.7 -29.9L-2.6 -25.8L-1.2 -21.6L-.5 -17.5L-.3 -13.4L-.3 -9.2L-.5 -6.6L-1.4 -4.1L-2.5 -1.8L-3.5 0L-2.5 1.8L-1.4 4.1L-.5 6.6L-.1 9.2L0 11.4Z" fill="#e8bf1c" stroke="#222" stroke-width=".45"/><circle cy="-37.8" r="1.9" fill="#111"/></g>
<g transform="translate(1472.8 2082)"><path d="M0 11.4L.2 9.2L.7 6.6L2 4.1L3.5 1.8L5 0L3.5 -1.8L2 -4.1L.7 -6.6L.3 -9.2L.4 -13.4L.8 -17.5L1.7 -21.6L3.1 -25.8L5.1 -29.9L7.4 -34.1L9.7 -38.2L9.2 -42.4L6.8 -46.5L4.6 -50.7L2.4 -54.8L1.1 -58.9L.4 -63.1L.3 -67.2L.3 -71.4L0 -75.5L0 -75.5L-.3 -71.4L-.3 -67.2L-.4 -63.1L-1.1 -58.9L-2.4 -54.8L-4.6 -50.7L-6.8 -46.5L-9.2 -42.4L-9.7 -38.2L-7.4 -34.1L-5.1 -29.9L-3.1 -25.8L-1.7 -21.6L-.8 -17.5L-.4 -13.4L-.3 -9.2L-.7 -6.6L-2 -4.1L-3.5 -1.8L-5 0L-3.5 1.8L-2 4.1L-.7 6.6L-.2 9.2L0 11.4Z" fill="#e8500f" stroke="#222" stroke-width=".45"/><circle cy="-35.9" r="1.9" fill="#111"/></g>
<path d="M1415.9 1975.5H1472.8M1444.3 1980.5H1472.8M1415.9 1986H1444.3" stroke="#999" stroke-width="0.6" fill="none"/>
<path d="M1472.8 1974v12" stroke="#bbb" stroke-width="0.6" stroke-dasharray="1.5 1.5" fill="none"/>
<text x="1448.8" y="1972" font-size="6" text-anchor="middle" fill="#444">*</text>
<text x="1460.5" y="1979.5" font-size="5.5" text-anchor="middle" fill="#555">ns</text>
<text x="1434.1" y="1985.5" font-size="6" text-anchor="middle" fill="#444">*</text>
<path d="M1179.7 2115.5V2246.5H1269.6" stroke="#aaa" stroke-width="0.8" fill="none"/>
<path d="M1179.7 2228.6h-2M1179.7 2191.8h-2M1179.7 2154.9h-2M1179.7 2118.1h-2M1195.9 2246.5v2M1224.6 2246.5v2M1253 2246.5v2" stroke="#aaa" stroke-width="0.7" fill="none"/>
<text x="1175.2" y="2231.8" font-size="9" text-anchor="end" fill="#444">0</text>
<text x="1175.2" y="2195" font-size="9" text-anchor="end" fill="#444">2</text>
<text x="1175.2" y="2158.1" font-size="9" text-anchor="end" fill="#444">4</text>
<text x="1175.2" y="2121.3" font-size="9" text-anchor="end" fill="#444">6</text>
<text x="1178.3" y="2114.6" font-size="9.6" fill="#222">YWHAB</text>
<g transform="translate(1195.9 2228.6)"><path d="M0 11.4L.1 9.2L.4 6.6L1 4.1L1.8 1.8L2.5 0L1.8 -1.8L1 -4.1L.4 -6.6L.3 -9.2L.5 -12L.9 -14.7L1.6 -17.5L2.8 -20.3L4.5 -23L6.7 -25.8L9.2 -28.6L11.8 -31.3L14.5 -34.1L12.1 -36.8L9.4 -39.6L5.9 -42.4L3 -45.1L1.3 -47.9L.4 -50.7L0 -53.4L0 -53.4L-.4 -50.7L-1.3 -47.9L-3 -45.1L-5.9 -42.4L-9.4 -39.6L-12.1 -36.8L-14.5 -34.1L-11.8 -31.3L-9.2 -28.6L-6.7 -25.8L-4.5 -23L-2.8 -20.3L-1.6 -17.5L-.9 -14.7L-.5 -12L-.3 -9.2L-.4 -6.6L-1 -4.1L-1.8 -1.8L-2.5 0L-1.8 1.8L-1 4.1L-.4 6.6L-.1 9.2L0 11.4Z" fill="#17a9bf" stroke="#222" stroke-width=".45"/><circle cy="-29.5" r="1.9" fill="#111"/></g>
<g transform="translate(1224.6 2228.6)"><path d="M0 11.4L.2 9.2L.8 6.6L2.2 4.1L3.9 1.8L5.5 0L3.9 -1.8L2.2 -4.1L.8 -6.6L.7 -9.2L1.4 -12.8L2.5 -16.3L4 -19.9L5.8 -23.5L7.9 -27.1L10 -30.6L10.1 -34.2L7.9 -37.8L5.8 -41.3L3.7 -44.9L2 -48.5L.9 -52L.4 -55.6L.3 -59.2L.3 -62.7L0 -66.3L0 -66.3L-.3 -62.7L-.3 -59.2L-.4 -55.6L-.9 -52L-2 -48.5L-3.7 -44.9L-5.8 -41.3L-7.9 -37.8L-10.1 -34.2L-10 -30.6L-7.9 -27.1L-5.8 -23.5L-4 -19.9L-2.5 -16.3L-1.4 -12.8L-.7 -9.2L-.8 -6.6L-2.2 -4.1L-3.9 -1.8L-5.5 0L-3.9 1.8L-2.2 4.1L-.8 6.6L-.2 9.2L0 11.4Z" fill="#e8bf1c" stroke="#222" stroke-width=".45"/><circle cy="-27.6" r="1.9" fill="#111"/></g>
<g transform="translate(1253 2228.6)"><path d="M0 11.4L.3 9.2L1.1 6.6L2.9 4.1L5.3 1.8L7.5 0L5.3 -1.8L2.9 -4.1L1.1 -6.6L1.5 -9.2L2.6 -13.1L4 -17L5.8 -21L7.7 -24.9L9.7 -28.8L8.6 -32.7L6.7 -36.6L4.8 -40.5L3.1 -44.4L1.6 -48.4L.8 -52.3L.4 -56.2L.3 -60.1L.3 -64L.3 -67.9L0 -71.8L0 -71.8L-.3 -67.9L-.3 -64L-.3 -60.1L-.4 -56.2L-.8 -52.3L-1.6 -48.4L-3.1 -44.4L-4.8 -40.5L-6.7 -36.6L-8.6 -32.7L-9.7 -28.8L-7.7 -24.9L-5.8 -21L-4 -17L-2.6 -13.1L-1.5 -9.2L-1.1 -6.6L-2.9 -4.1L-5.3 -1.8L-7.5 0L-5.3 1.8L-2.9 4.1L-1.1 6.6L-.3 9.2L0 11.4Z" fill="#e8500f" stroke="#222" stroke-width=".45"/><circle cy="-24.9" r="1.9" fill="#111"/></g>
<path d="M1195.9 2122.1H1253M1224.6 2127.1H1253M1195.9 2132.6H1224.6" stroke="#999" stroke-width="0.6" fill="none"/>
<path d="M1253 2120.6v12" stroke="#bbb" stroke-width="0.6" stroke-dasharray="1.5 1.5" fill="none"/>
<text x="1229.1" y="2118.6" font-size="6" text-anchor="middle" fill="#444">***</text>
<text x="1240.8" y="2126.1" font-size="5.5" text-anchor="middle" fill="#555">**</text>
<text x="1214.2" y="2132.1" font-size="6" text-anchor="middle" fill="#444">ns</text>
<path d="M1288.7 2115.5V2246.5H1379.1" stroke="#aaa" stroke-width="0.8" fill="none"/>
<path d="M1288.7 2228.6h-2M1288.7 2191.8h-2M1288.7 2154.9h-2M1288.7 2118.1h-2M1305.2 2246.5v2M1333.6 2246.5v2M1362.3 2246.5v2" stroke="#aaa" stroke-width="0.7" fill="none"/>
<text x="1284.2" y="2231.8" font-size="9" text-anchor="end" fill="#444">0</text>
<text x="1284.2" y="2195" font-size="9" text-anchor="end" fill="#444">2</text>
<text x="1284.2" y="2158.1" font-size="9" text-anchor="end" fill="#444">4</text>
<text x="1284.2" y="2121.3" font-size="9" text-anchor="end" fill="#444">6</text>
<text x="1288.4" y="2114.6" font-size="9.6" fill="#222">RHOA</text>
<g transform="translate(1305.2 2228.6)"><path d="M0 11.4L.1 9.2L.3 6.6L.8 4.1L1.4 1.8L2 0L1.4 -1.8L.8 -4.1L.3 -6.6L.4 -9.2L.7 -12.2L1.2 -15.2L2.2 -18.2L3.6 -21.2L5.5 -24.2L7.8 -27.2L10.3 -30.2L12.9 -33.2L13.7 -36.1L11.1 -39.1L8.6 -42.1L5 -45.1L2.5 -48.1L1.1 -51.1L.3 -54.1L0 -57.1L0 -57.1L-.3 -54.1L-1.1 -51.1L-2.5 -48.1L-5 -45.1L-8.6 -42.1L-11.1 -39.1L-13.7 -36.1L-12.9 -33.2L-10.3 -30.2L-7.8 -27.2L-5.5 -24.2L-3.6 -21.2L-2.2 -18.2L-1.2 -15.2L-.7 -12.2L-.4 -9.2L-.3 -6.6L-.8 -4.1L-1.4 -1.8L-2 0L-1.4 1.8L-.8 4.1L-.3 6.6L-.1 9.2L0 11.4Z" fill="#17a9bf" stroke="#222" stroke-width=".45"/><circle cy="-32.2" r="1.9" fill="#111"/></g>
<g transform="translate(1333.6 2228.6)"><path d="M0 11.4L.3 9.2L1 6.6L2.6 4.1L4.6 1.8L6.5 0L4.6 -1.8L2.6 -4.1L1 -6.6L.8 -9.2L1.6 -13.1L2.9 -17L4.9 -21L7.5 -24.9L10.3 -28.8L13.2 -32.7L11.2 -36.6L8.3 -40.5L5.7 -44.4L3.2 -48.4L1.5 -52.3L.7 -56.2L.3 -60.1L.3 -64L.3 -67.9L0 -71.8L0 -71.8L-.3 -67.9L-.3 -64L-.3 -60.1L-.7 -56.2L-1.5 -52.3L-3.2 -48.4L-5.7 -44.4L-8.3 -40.5L-11.2 -36.6L-13.2 -32.7L-10.3 -28.8L-7.5 -24.9L-4.9 -21L-2.9 -17L-1.6 -13.1L-.8 -9.2L-1 -6.6L-2.6 -4.1L-4.6 -1.8L-6.5 0L-4.6 1.8L-2.6 4.1L-1 6.6L-.3 9.2L0 11.4Z" fill="#e8bf1c" stroke="#222" stroke-width=".45"/><circle cy="-29.5" r="1.9" fill="#111"/></g>
<g transform="translate(1362.3 2228.6)"><path d="M0 11.4L.3 9.2L1.1 6.6L2.9 4.1L5.3 1.8L7.5 0L5.3 -1.8L2.9 -4.1L1.1 -6.6L1.2 -9.2L2.3 -13.6L4.1 -18L6.4 -22.3L9.1 -26.7L11.8 -31.1L10.7 -35.5L8 -39.8L5.5 -44.2L3.3 -48.6L1.6 -53L.7 -57.3L.3 -61.7L.3 -66.1L.3 -70.5L.3 -74.8L0 -79.2L0 -79.2L-.3 -74.8L-.3 -70.5L-.3 -66.1L-.3 -61.7L-.7 -57.3L-1.6 -53L-3.3 -48.6L-5.5 -44.2L-8 -39.8L-10.7 -35.5L-11.8 -31.1L-9.1 -26.7L-6.4 -22.3L-4.1 -18L-2.3 -13.6L-1.2 -9.2L-1.1 -6.6L-2.9 -4.1L-5.3 -1.8L-7.5 0L-5.3 1.8L-2.9 4.1L-1.1 6.6L-.3 9.2L0 11.4Z" fill="#e8500f" stroke="#222" stroke-width=".45"/><circle cy="-28.6" r="1.9" fill="#111"/></g>
<path d="M1305.2 2122.1H1362.3M1333.6 2127.1H1362.3M1305.2 2132.6H1333.6" stroke="#999" stroke-width="0.6" fill="none"/>
<path d="M1362.3 2120.6v12" stroke="#bbb" stroke-width="0.6" stroke-dasharray="1.5 1.5" fill="none"/>
<text x="1338.1" y="2118.6" font-size="6" text-anchor="middle" fill="#444">*</text>
<text x="1349.9" y="2126.1" font-size="5.5" text-anchor="middle" fill="#555">ns</text>
<text x="1323.4" y="2132.1" font-size="6" text-anchor="middle" fill="#444">*</text>
<path d="M1398.8 2115.5V2246.5H1489.9" stroke="#aaa" stroke-width="0.8" fill="none"/>
<path d="M1398.8 2228.6h-2M1398.8 2191.8h-2M1398.8 2154.9h-2M1398.8 2118.1h-2M1415.9 2246.5v2M1444.3 2246.5v2M1472.8 2246.5v2" stroke="#aaa" stroke-width="0.7" fill="none"/>
<text x="1394.3" y="2231.8" font-size="9" text-anchor="end" fill="#444">0</text>
<text x="1394.3" y="2195" font-size="9" text-anchor="end" fill="#444">2</text>
<text x="1394.3" y="2158.1" font-size="9" text-anchor="end" fill="#444">4</text>
<text x="1394.3" y="2121.3" font-size="9" text-anchor="end" fill="#444">6</text>
<text x="1398" y="2114.6" font-size="9.6" fill="#222">CLIC1</text>
<g transform="translate(1415.9 2228.6)"><path d="M0 11.4L.2 9.2L.6 6.6L1.3 4.1L2.2 1.8L3 0L2.2 -1.8L1.3 -4.1L.6 -6.6L.4 -9.2L.8 -13L1.6 -16.8L3 -20.6L5 -24.4L7.5 -28.2L10.3 -32L13.2 -35.8L12.1 -39.6L9.2 -43.4L6.5 -47.2L3.6 -51L1.7 -54.8L.7 -58.6L.3 -62.4L.3 -66.2L0 -70L0 -70L-.3 -66.2L-.3 -62.4L-.7 -58.6L-1.7 -54.8L-3.6 -51L-6.5 -47.2L-9.2 -43.4L-12.1 -39.6L-13.2 -35.8L-10.3 -32L-7.5 -28.2L-5 -24.4L-3 -20.6L-1.6 -16.8L-.8 -13L-.4 -9.2L-.6 -6.6L-1.3 -4.1L-2.2 -1.8L-3 0L-2.2 1.8L-1.3 4.1L-.6 6.6L-.2 9.2L0 11.4Z" fill="#17a9bf" stroke="#222" stroke-width=".45"/><circle cy="-31.3" r="1.9" fill="#111"/></g>
<g transform="translate(1444.3 2228.6)"><path d="M0 11.4L.3 9.2L1.1 6.6L2.9 4.1L5.3 1.8L7.5 0L5.3 -1.8L2.9 -4.1L1.1 -6.6L.9 -9.2L1.7 -13L2.9 -16.8L4.7 -20.6L6.8 -24.4L9.2 -28.2L11.7 -32L12.1 -35.8L9.7 -39.6L7.2 -43.4L4.8 -47.2L2.6 -51L1.2 -54.8L.5 -58.6L.3 -62.4L.3 -66.2L0 -70L0 -70L-.3 -66.2L-.3 -62.4L-.5 -58.6L-1.2 -54.8L-2.6 -51L-4.8 -47.2L-7.2 -43.4L-9.7 -39.6L-12.1 -35.8L-11.7 -32L-9.2 -28.2L-6.8 -24.4L-4.7 -20.6L-2.9 -16.8L-1.7 -13L-.9 -9.2L-1.1 -6.6L-2.9 -4.1L-5.3 -1.8L-7.5 0L-5.3 1.8L-2.9 4.1L-1.1 6.6L-.3 9.2L0 11.4Z" fill="#e8bf1c" stroke="#222" stroke-width=".45"/><circle cy="-27.6" r="1.9" fill="#111"/></g>
<g transform="translate(1472.8 2228.6)"><path d="M0 11.4L.4 9.2L1.3 6.6L3.3 4.1L6 1.8L8.5 0L6 -1.8L3.3 -4.1L1.3 -6.6L1.4 -9.2L2.5 -13.5L4.1 -17.7L6.2 -22L8.6 -26.2L11 -30.5L11.8 -34.8L9.4 -39L7 -43.3L4.8 -47.5L2.6 -51.8L1.3 -56.1L.6 -60.3L.3 -64.6L.3 -68.8L.3 -73.1L0 -77.4L0 -77.4L-.3 -73.1L-.3 -68.8L-.3 -64.6L-.6 -60.3L-1.3 -56.1L-2.6 -51.8L-4.8 -47.5L-7 -43.3L-9.4 -39L-11.8 -34.8L-11 -30.5L-8.6 -26.2L-6.2 -22L-4.1 -17.7L-2.5 -13.5L-1.4 -9.2L-1.3 -6.6L-3.3 -4.1L-6 -1.8L-8.5 0L-6 1.8L-3.3 4.1L-1.3 6.6L-.4 9.2L0 11.4Z" fill="#e8500f" stroke="#222" stroke-width=".45"/><circle cy="-26.7" r="1.9" fill="#111"/></g>
<path d="M1415.9 2122.1H1472.8M1444.3 2127.1H1472.8M1415.9 2132.6H1444.3" stroke="#999" stroke-width="0.6" fill="none"/>
<path d="M1472.8 2120.6v12" stroke="#bbb" stroke-width="0.6" stroke-dasharray="1.5 1.5" fill="none"/>
<text x="1448.8" y="2118.6" font-size="6" text-anchor="middle" fill="#444">**</text>
<text x="1460.5" y="2126.1" font-size="5.5" text-anchor="middle" fill="#555">ns</text>
<text x="1434.1" y="2132.1" font-size="6" text-anchor="middle" fill="#444">**</text>
<path d="M1179.7 2263.9V2394.9H1269.6" stroke="#aaa" stroke-width="0.8" fill="none"/>
<path d="M1179.7 2377h-2M1179.7 2340.2h-2M1179.7 2303.3h-2M1179.7 2266.5h-2M1195.9 2394.9v2M1224.6 2394.9v2M1253 2394.9v2" stroke="#aaa" stroke-width="0.7" fill="none"/>
<text x="1175.2" y="2380.2" font-size="9" text-anchor="end" fill="#444">0</text>
<text x="1175.2" y="2343.4" font-size="9" text-anchor="end" fill="#444">2</text>
<text x="1175.2" y="2306.5" font-size="9" text-anchor="end" fill="#444">4</text>
<text x="1175.2" y="2269.7" font-size="9" text-anchor="end" fill="#444">6</text>
<text x="1178.3" y="2262.5" font-size="9.6" fill="#222">S100A6</text>
<g transform="translate(1195.9 2377)"><path d="M0 11.4L.2 9.2L.6 6.6L1.3 4.1L2.2 1.8L3 0L2.2 -1.8L1.3 -4.1L.6 -6.6L.4 -9.2L.9 -13.9L1.9 -18.7L3.8 -23.4L6.4 -28.1L9.6 -32.8L13 -37.5L12.8 -42.3L9.4 -47L6.2 -51.7L3.4 -56.4L1.5 -61.1L.6 -65.9L.3 -70.6L.3 -75.3L.3 -80L0 -84.7L0 -84.7L-.3 -80L-.3 -75.3L-.3 -70.6L-.6 -65.9L-1.5 -61.1L-3.4 -56.4L-6.2 -51.7L-9.4 -47L-12.8 -42.3L-13 -37.5L-9.6 -32.8L-6.4 -28.1L-3.8 -23.4L-1.9 -18.7L-.9 -13.9L-.4 -9.2L-.6 -6.6L-1.3 -4.1L-2.2 -1.8L-3 0L-2.2 1.8L-1.3 4.1L-.6 6.6L-.2 9.2L0 11.4Z" fill="#17a9bf" stroke="#222" stroke-width=".45"/><circle cy="-35.9" r="1.9" fill="#111"/></g>
<g transform="translate(1224.6 2377)"><path d="M0 11.4L.3 9.2L1.1 6.6L2.9 4.1L5.3 1.8L7.5 0L5.3 -1.8L2.9 -4.1L1.1 -6.6L1 -9.2L2 -13.6L3.5 -18L5.6 -22.3L8.1 -26.7L10.9 -31.1L13.7 -35.5L11.7 -39.8L8.9 -44.2L6.3 -48.6L3.7 -53L1.8 -57.3L.8 -61.7L.3 -66.1L.3 -70.5L.3 -74.8L0 -79.2L0 -79.2L-.3 -74.8L-.3 -70.5L-.3 -66.1L-.8 -61.7L-1.8 -57.3L-3.7 -53L-6.3 -48.6L-8.9 -44.2L-11.7 -39.8L-13.7 -35.5L-10.9 -31.1L-8.1 -26.7L-5.6 -22.3L-3.5 -18L-2 -13.6L-1 -9.2L-1.1 -6.6L-2.9 -4.1L-5.3 -1.8L-7.5 0L-5.3 1.8L-2.9 4.1L-1.1 6.6L-.3 9.2L0 11.4Z" fill="#e8bf1c" stroke="#222" stroke-width=".45"/><circle cy="-31.3" r="1.9" fill="#111"/></g>
<g transform="translate(1253 2377)"><path d="M0 11.4L.4 9.2L1.3 6.6L3.5 4.1L6.3 1.8L9 0L6.3 -1.8L3.5 -4.1L1.3 -6.6L1.2 -9.2L2.2 -13.5L3.8 -17.7L5.9 -22L8.4 -26.2L11.1 -30.5L13.8 -34.8L11.6 -39L8.9 -43.3L6.3 -47.5L3.7 -51.8L1.9 -56.1L.9 -60.3L.4 -64.6L.3 -68.8L.3 -73.1L0 -77.4L0 -77.4L-.3 -73.1L-.3 -68.8L-.4 -64.6L-.9 -60.3L-1.9 -56.1L-3.7 -51.8L-6.3 -47.5L-8.9 -43.3L-11.6 -39L-13.8 -34.8L-11.1 -30.5L-8.4 -26.2L-5.9 -22L-3.8 -17.7L-2.2 -13.5L-1.2 -9.2L-1.3 -6.6L-3.5 -4.1L-6.3 -1.8L-9 0L-6.3 1.8L-3.5 4.1L-1.3 6.6L-.4 9.2L0 11.4Z" fill="#e8500f" stroke="#222" stroke-width=".45"/><circle cy="-30.4" r="1.9" fill="#111"/></g>
<path d="M1195.9 2270.5H1253M1224.6 2275.5H1253M1195.9 2281H1224.6" stroke="#999" stroke-width="0.6" fill="none"/>
<path d="M1253 2269v12" stroke="#bbb" stroke-width="0.6" stroke-dasharray="1.5 1.5" fill="none"/>
<text x="1229.1" y="2267" font-size="6" text-anchor="middle" fill="#444">***</text>
<text x="1240.8" y="2274.5" font-size="5.5" text-anchor="middle" fill="#555">ns</text>
<text x="1214.2" y="2280.5" font-size="6" text-anchor="middle" fill="#444">**</text>
<path d="M1288.7 2263.9V2394.9H1379.1" stroke="#aaa" stroke-width="0.8" fill="none"/>
<path d="M1288.7 2377h-2M1288.7 2340.2h-2M1288.7 2303.3h-2M1288.7 2266.5h-2M1305.2 2394.9v2M1333.6 2394.9v2M1362.3 2394.9v2" stroke="#aaa" stroke-width="0.7" fill="none"/>
<text x="1284.2" y="2380.2" font-size="9" text-anchor="end" fill="#444">0</text>
<text x="1284.2" y="2343.4" font-size="9" text-anchor="end" fill="#444">2</text>
<text x="1284.2" y="2306.5" font-size="9" text-anchor="end" fill="#444">4</text>
<text x="1284.2" y="2269.7" font-size="9" text-anchor="end" fill="#444">6</text>
<text x="1288.4" y="2262.5" font-size="9.6" fill="#222">NME2</text>
<g transform="translate(1305.2 2377)"><path d="M0 11.4L.1 9.2L.5 6.6L1.4 4.1L2.5 1.8L3.5 0L2.5 -1.8L1.4 -4.1L.5 -6.6L1.1 -9.2L2.1 -12.5L3.7 -15.9L5.9 -19.2L8.6 -22.6L11.4 -25.9L14.3 -29.2L12 -32.6L9.2 -35.9L6.4 -39.3L3.8 -42.6L1.9 -45.9L.8 -49.3L.4 -52.6L.3 -56L.3 -59.3L0 -62.6L0 -62.6L-.3 -59.3L-.3 -56L-.4 -52.6L-.8 -49.3L-1.9 -45.9L-3.8 -42.6L-6.4 -39.3L-9.2 -35.9L-12 -32.6L-14.3 -29.2L-11.4 -25.9L-8.6 -22.6L-5.9 -19.2L-3.7 -15.9L-2.1 -12.5L-1.1 -9.2L-.5 -6.6L-1.4 -4.1L-2.5 -1.8L-3.5 0L-2.5 1.8L-1.4 4.1L-.5 6.6L-.1 9.2L0 11.4Z" fill="#17a9bf" stroke="#222" stroke-width=".45"/><circle cy="-25.8" r="1.9" fill="#111"/></g>
<g transform="translate(1333.6 2377)"><path d="M0 11.4L.4 9.2L1.3 6.6L3.3 4.1L6 1.8L8.5 0L6 -1.8L3.3 -4.1L1.3 -6.6L2.2 -9.2L3.4 -12.8L4.9 -16.3L6.6 -19.9L8.4 -23.5L10.1 -27.1L8.3 -30.6L6.5 -34.2L4.8 -37.8L3.1 -41.3L1.8 -44.9L.9 -48.5L.4 -52L.3 -55.6L.3 -59.2L.3 -62.7L0 -66.3L0 -66.3L-.3 -62.7L-.3 -59.2L-.3 -55.6L-.4 -52L-.9 -48.5L-1.8 -44.9L-3.1 -41.3L-4.8 -37.8L-6.5 -34.2L-8.3 -30.6L-10.1 -27.1L-8.4 -23.5L-6.6 -19.9L-4.9 -16.3L-3.4 -12.8L-2.2 -9.2L-1.3 -6.6L-3.3 -4.1L-6 -1.8L-8.5 0L-6 1.8L-3.3 4.1L-1.3 6.6L-.4 9.2L0 11.4Z" fill="#e8bf1c" stroke="#222" stroke-width=".45"/><circle cy="-20.3" r="1.9" fill="#111"/></g>
<g transform="translate(1362.3 2377)"><path d="M0 11.4L.4 9.2L1.4 6.6L3.7 4.1L6.7 1.8L9.5 0L6.7 -1.8L3.7 -4.1L1.5 -6.6L2.6 -9.2L3.9 -13.1L5.4 -17L7 -21L8.6 -24.9L8 -28.8L6.4 -32.7L4.8 -36.6L3.4 -40.5L2 -44.4L1.1 -48.4L.5 -52.3L.3 -56.2L.3 -60.1L.3 -64L.3 -67.9L0 -71.8L0 -71.8L-.3 -67.9L-.3 -64L-.3 -60.1L-.3 -56.2L-.5 -52.3L-1.1 -48.4L-2 -44.4L-3.4 -40.5L-4.8 -36.6L-6.4 -32.7L-8 -28.8L-8.6 -24.9L-7 -21L-5.4 -17L-3.9 -13.1L-2.6 -9.2L-1.5 -6.6L-3.7 -4.1L-6.7 -1.8L-9.5 0L-6.7 1.8L-3.7 4.1L-1.4 6.6L-.4 9.2L0 11.4Z" fill="#e8500f" stroke="#222" stroke-width=".45"/><circle cy="-19.3" r="1.9" fill="#111"/></g>
<path d="M1305.2 2270.5H1362.3M1333.6 2275.5H1362.3M1305.2 2281H1333.6" stroke="#999" stroke-width="0.6" fill="none"/>
<path d="M1362.3 2269v12" stroke="#bbb" stroke-width="0.6" stroke-dasharray="1.5 1.5" fill="none"/>
<text x="1338.1" y="2267" font-size="6" text-anchor="middle" fill="#444">****</text>
<text x="1349.9" y="2274.5" font-size="5.5" text-anchor="middle" fill="#555">ns</text>
<text x="1323.4" y="2280.5" font-size="6" text-anchor="middle" fill="#444">****</text>
<rect x="1407.2" y="2299.4" width="8.4" height="8.4" fill="#17a9bf"/>
<text x="1420.6" y="2307.6" font-size="11.6" fill="#333">active TAO</text>
<rect x="1407.2" y="2323.5" width="8.4" height="8.4" fill="#e8bf1c"/>
<text x="1420.6" y="2331.7" font-size="11.6" fill="#333">inactive TAO</text>
<rect x="1407.2" y="2347.5" width="8.4" height="8.4" fill="#e8500f"/>
<text x="1420.6" y="2355.7" font-size="11.6" fill="#333">normal control</text>
</g>
<g id="panelJ">
<text x="78.5" y="2432" font-size="34" font-weight="bold">J</text>
<rect x="159.3" y="2436.3" width="34.2" height="34.1" fill="#ada9a5"/>
<rect x="194.3" y="2436.3" width="34.2" height="34.1" fill="#9b1558"/>
<rect x="229.3" y="2436.3" width="34.2" height="34.1" fill="#f3d3b0"/>
<rect x="264.4" y="2436.3" width="34.2" height="34.1" fill="#f5d5b2"/>
<rect x="299.4" y="2436.3" width="34.2" height="34.1" fill="#eed7bf"/>
<rect x="159.3" y="2471.2" width="34.2" height="34.1" fill="#9b1558"/>
<rect x="194.3" y="2471.2" width="34.2" height="34.1" fill="#e6bda4"/>
<rect x="229.3" y="2471.2" width="34.2" height="34.1" fill="#ac3566"/>
<rect x="264.4" y="2471.2" width="34.2" height="34.1" fill="#e8c2a8"/>
<rect x="299.4" y="2471.2" width="34.2" height="34.1" fill="#f3d0b0"/>
<rect x="159.3" y="2506" width="34.2" height="34.1" fill="#f5d5b4"/>
<rect x="194.3" y="2506" width="34.2" height="34.1" fill="#a93563"/>
<rect x="229.3" y="2506" width="34.2" height="34.1" fill="#9a9ca8"/>
<rect x="264.4" y="2506" width="34.2" height="34.1" fill="#b0aba7"/>
<rect x="299.4" y="2506" width="34.2" height="34.1" fill="#ecd5bd"/>
<rect x="159.3" y="2540.9" width="34.2" height="34.1" fill="#f6d8b8"/>
<rect x="194.3" y="2540.9" width="34.2" height="34.1" fill="#ecc6ab"/>
<rect x="229.3" y="2540.9" width="34.2" height="34.1" fill="#b1adab"/>
<rect x="264.4" y="2540.9" width="34.2" height="34.1" fill="#4a6a97"/>
<rect x="299.4" y="2540.9" width="34.2" height="34.1" fill="#959aa8"/>
<rect x="159.3" y="2575.7" width="34.2" height="34.1" fill="#eed9c1"/>
<rect x="194.3" y="2575.7" width="34.2" height="34.1" fill="#f3d4b4"/>
<rect x="229.3" y="2575.7" width="34.2" height="34.1" fill="#ead5bf"/>
<rect x="264.4" y="2575.7" width="34.2" height="34.1" fill="#979ba8"/>
<rect x="299.4" y="2575.7" width="34.2" height="34.1" fill="#3d6496"/>
<text x="242.1" y="2426.8" font-size="14.6" text-anchor="middle" fill="#111">Active TAO</text>
<text x="156.8" y="2456.5" font-size="10.1" text-anchor="end" fill="#222">Myeloid cells</text>
<text x="156.8" y="2491.4" font-size="10.1" text-anchor="end" fill="#222">Bregs</text>
<text x="156.8" y="2526.2" font-size="10.1" text-anchor="end" fill="#222">NK cells</text>
<text x="156.8" y="2561.1" font-size="10.1" text-anchor="end" fill="#222">T cells, CD4<tspan font-size="6" dy="-3">+</tspan></text>
<text x="156.8" y="2596" font-size="10.1" text-anchor="end" fill="#222">T cells, CD8<tspan font-size="6" dy="-3">+</tspan></text>
<text x="173.2" y="2614.7" font-size="10.1" fill="#222" transform="rotate(90 173.2 2614.7)">Myeloid cells</text>
<text x="208.2" y="2614.7" font-size="10.1" fill="#222" transform="rotate(90 208.2 2614.7)">Bregs</text>
<text x="243.2" y="2614.7" font-size="10.1" fill="#222" transform="rotate(90 243.2 2614.7)">NK cells</text>
<text x="278.3" y="2614.7" font-size="10.1" fill="#222" transform="rotate(90 278.3 2614.7)">T cells, CD4<tspan font-size="6" dy="-3">+</tspan></text>
<text x="313.3" y="2614.7" font-size="10.1" fill="#222" transform="rotate(90 313.3 2614.7)">T cells, CD8<tspan font-size="6" dy="-3">+</tspan></text>
<defs><linearGradient id="cbActiveTAO" x1="0" y1="0" x2="0" y2="1"><stop offset="0" stop-color="#8e0c4e"/><stop offset="0.2" stop-color="#b0406a"/><stop offset="0.42" stop-color="#f0c8aa"/><stop offset="0.5" stop-color="#f7dab9"/><stop offset="0.68" stop-color="#b0aba8"/><stop offset="0.85" stop-color="#6079a0"/><stop offset="1" stop-color="#2a5a93"/></linearGradient></defs>
<rect x="338.6" y="2435.9" width="6" height="89" fill="url(#cbActiveTAO)"/>
<path d="M344.6 2437.4h1.5" stroke="#333" stroke-width="0.5"/>
<text x="347.1" y="2439" font-size="4.6" font-weight="bold" fill="#222">60</text>
<path d="M344.6 2451.7h1.5" stroke="#333" stroke-width="0.5"/>
<text x="347.1" y="2453.3" font-size="4.6" font-weight="bold" fill="#222">50</text>
<path d="M344.6 2466.1h1.5" stroke="#333" stroke-width="0.5"/>
<text x="347.1" y="2467.7" font-size="4.6" font-weight="bold" fill="#222">40</text>
<path d="M344.6 2480.4h1.5" stroke="#333" stroke-width="0.5"/>
<text x="347.1" y="2482" font-size="4.6" font-weight="bold" fill="#222">30</text>
<path d="M344.6 2494.7h1.5" stroke="#333" stroke-width="0.5"/>
<text x="347.1" y="2496.3" font-size="4.6" font-weight="bold" fill="#222">20</text>
<path d="M344.6 2509.1h1.5" stroke="#333" stroke-width="0.5"/>
<text x="347.1" y="2510.7" font-size="4.6" font-weight="bold" fill="#222">10</text>
<path d="M344.6 2523.4h1.5" stroke="#333" stroke-width="0.5"/>
<text x="347.1" y="2525" font-size="4.6" font-weight="bold" fill="#222">0</text>
<rect x="194.8" y="2435" width="35" height="209.4" fill="none" stroke="#e8202a" stroke-width="1.3" stroke-dasharray="6 4.5"/>
<rect x="441.6" y="2438.3" width="34.1" height="33.9" fill="#fbdfbe"/>
<rect x="476.5" y="2438.3" width="34.1" height="33.9" fill="#a42d61"/>
<rect x="511.3" y="2438.3" width="34.1" height="33.9" fill="#f5d8ba"/>
<rect x="546.2" y="2438.3" width="34.1" height="33.9" fill="#f3d4b6"/>
<rect x="581" y="2438.3" width="34.1" height="33.9" fill="#f2d2b2"/>
<rect x="441.6" y="2473" width="34.1" height="33.9" fill="#a42d61"/>
<rect x="476.5" y="2473" width="34.1" height="33.9" fill="#f0d6bd"/>
<rect x="511.3" y="2473" width="34.1" height="33.9" fill="#f8dcbc"/>
<rect x="546.2" y="2473" width="34.1" height="33.9" fill="#ccc0b0"/>
<rect x="581" y="2473" width="34.1" height="33.9" fill="#f6dab9"/>
<rect x="441.6" y="2507.7" width="34.1" height="33.9" fill="#f4d6b9"/>
<rect x="476.5" y="2507.7" width="34.1" height="33.9" fill="#f7dabb"/>
<rect x="511.3" y="2507.7" width="34.1" height="33.9" fill="#3e6597"/>
<rect x="546.2" y="2507.7" width="34.1" height="33.9" fill="#8a93a4"/>
<rect x="581" y="2507.7" width="34.1" height="33.9" fill="#9097a4"/>
<rect x="441.6" y="2542.4" width="34.1" height="33.9" fill="#f3d5b9"/>
<rect x="476.5" y="2542.4" width="34.1" height="33.9" fill="#cdc1b1"/>
<rect x="511.3" y="2542.4" width="34.1" height="33.9" fill="#8b94a5"/>
<rect x="546.2" y="2542.4" width="34.1" height="33.9" fill="#2a5a93"/>
<rect x="581" y="2542.4" width="34.1" height="33.9" fill="#6c7f9c"/>
<rect x="441.6" y="2577.1" width="34.1" height="33.9" fill="#f4d6b9"/>
<rect x="476.5" y="2577.1" width="34.1" height="33.9" fill="#f7dbbb"/>
<rect x="511.3" y="2577.1" width="34.1" height="33.9" fill="#9298a5"/>
<rect x="546.2" y="2577.1" width="34.1" height="33.9" fill="#6c7f9c"/>
<rect x="581" y="2577.1" width="34.1" height="33.9" fill="#2f5d94"/>
<text x="527.7" y="2426.8" font-size="14.6" text-anchor="middle" fill="#111">Inactive TAO</text>
<text x="438.3" y="2458.4" font-size="10.1" text-anchor="end" fill="#222">Myeloid cells</text>
<text x="438.3" y="2493.2" font-size="10.1" text-anchor="end" fill="#222">Bregs</text>
<text x="438.3" y="2527.8" font-size="10.1" text-anchor="end" fill="#222">NK cells</text>
<text x="438.3" y="2562.5" font-size="10.1" text-anchor="end" fill="#222">T cells, CD4<tspan font-size="6" dy="-3">+</tspan></text>
<text x="438.3" y="2597.2" font-size="10.1" text-anchor="end" fill="#222">T cells, CD8<tspan font-size="6" dy="-3">+</tspan></text>
<text x="455.4" y="2615.9" font-size="10.1" fill="#222" transform="rotate(90 455.4 2615.9)">Myeloid cells</text>
<text x="490.3" y="2615.9" font-size="10.1" fill="#222" transform="rotate(90 490.3 2615.9)">Bregs</text>
<text x="525.1" y="2615.9" font-size="10.1" fill="#222" transform="rotate(90 525.1 2615.9)">NK cells</text>
<text x="560" y="2615.9" font-size="10.1" fill="#222" transform="rotate(90 560 2615.9)">T cells, CD4<tspan font-size="6" dy="-3">+</tspan></text>
<text x="594.9" y="2615.9" font-size="10.1" fill="#222" transform="rotate(90 594.9 2615.9)">T cells, CD8<tspan font-size="6" dy="-3">+</tspan></text>
<defs><linearGradient id="cbInactiveTAO" x1="0" y1="0" x2="0" y2="1"><stop offset="0" stop-color="#8e0c4e"/><stop offset="0.2" stop-color="#b0406a"/><stop offset="0.42" stop-color="#f0c8aa"/><stop offset="0.5" stop-color="#f7dab9"/><stop offset="0.68" stop-color="#b0aba8"/><stop offset="0.85" stop-color="#6079a0"/><stop offset="1" stop-color="#2a5a93"/></linearGradient></defs>
<rect x="620.4" y="2437.9" width="6" height="89" fill="url(#cbInactiveTAO)"/>
<path d="M626.4 2439.4h1.5" stroke="#333" stroke-width="0.5"/>
<text x="628.9" y="2441" font-size="4.6" font-weight="bold" fill="#222">60</text>
<path d="M626.4 2453.7h1.5" stroke="#333" stroke-width="0.5"/>
<text x="628.9" y="2455.3" font-size="4.6" font-weight="bold" fill="#222">50</text>
<path d="M626.4 2468.1h1.5" stroke="#333" stroke-width="0.5"/>
<text x="628.9" y="2469.7" font-size="4.6" font-weight="bold" fill="#222">40</text>
<path d="M626.4 2482.4h1.5" stroke="#333" stroke-width="0.5"/>
<text x="628.9" y="2484" font-size="4.6" font-weight="bold" fill="#222">30</text>
<path d="M626.4 2496.7h1.5" stroke="#333" stroke-width="0.5"/>
<text x="628.9" y="2498.3" font-size="4.6" font-weight="bold" fill="#222">20</text>
<path d="M626.4 2511.1h1.5" stroke="#333" stroke-width="0.5"/>
<text x="628.9" y="2512.7" font-size="4.6" font-weight="bold" fill="#222">10</text>
<path d="M626.4 2525.4h1.5" stroke="#333" stroke-width="0.5"/>
<text x="628.9" y="2527" font-size="4.6" font-weight="bold" fill="#222">0</text>
<rect x="475.4" y="2437" width="34.6" height="209.4" fill="none" stroke="#e8202a" stroke-width="1.3" stroke-dasharray="6 4.5"/>
<rect x="718.1" y="2439.5" width="34.1" height="34" fill="#f9dcbb"/>
<rect x="753" y="2439.5" width="34.1" height="34" fill="#b4436b"/>
<rect x="787.8" y="2439.5" width="34.1" height="34" fill="#eac8ab"/>
<rect x="822.7" y="2439.5" width="34.1" height="34" fill="#f7d9b8"/>
<rect x="857.5" y="2439.5" width="34.1" height="34" fill="#f8dab9"/>
<rect x="718.1" y="2474.3" width="34.1" height="34" fill="#b4436b"/>
<rect x="753" y="2474.3" width="34.1" height="34" fill="#a3a4a6"/>
<rect x="787.8" y="2474.3" width="34.1" height="34" fill="#ecd5bb"/>
<rect x="822.7" y="2474.3" width="34.1" height="34" fill="#b1aca9"/>
<rect x="857.5" y="2474.3" width="34.1" height="34" fill="#d0c4b5"/>
<rect x="718.1" y="2509.1" width="34.1" height="34" fill="#eac8ac"/>
<rect x="753" y="2509.1" width="34.1" height="34" fill="#ecd4ba"/>
<rect x="787.8" y="2509.1" width="34.1" height="34" fill="#687c9b"/>
<rect x="822.7" y="2509.1" width="34.1" height="34" fill="#9a9da8"/>
<rect x="857.5" y="2509.1" width="34.1" height="34" fill="#a2a3a9"/>
<rect x="718.1" y="2543.8" width="34.1" height="34" fill="#f8dab9"/>
<rect x="753" y="2543.8" width="34.1" height="34" fill="#b2adaa"/>
<rect x="787.8" y="2543.8" width="34.1" height="34" fill="#9a9ea8"/>
<rect x="822.7" y="2543.8" width="34.1" height="34" fill="#2b5a93"/>
<rect x="857.5" y="2543.8" width="34.1" height="34" fill="#667b9b"/>
<rect x="718.1" y="2578.6" width="34.1" height="34" fill="#f8dab9"/>
<rect x="753" y="2578.6" width="34.1" height="34" fill="#d0c4b4"/>
<rect x="787.8" y="2578.6" width="34.1" height="34" fill="#a2a3a9"/>
<rect x="822.7" y="2578.6" width="34.1" height="34" fill="#667b9b"/>
<rect x="857.5" y="2578.6" width="34.1" height="34" fill="#2f5e95"/>
<text x="810.8" y="2426.8" font-size="14.6" text-anchor="middle" fill="#111">Normal control</text>
<text x="714.8" y="2459.7" font-size="10.1" text-anchor="end" fill="#222">Myeloid cells</text>
<text x="714.8" y="2494.5" font-size="10.1" text-anchor="end" fill="#222">Bregs</text>
<text x="714.8" y="2529.2" font-size="10.1" text-anchor="end" fill="#222">NK cells</text>
<text x="714.8" y="2564" font-size="10.1" text-anchor="end" fill="#222">T cells, CD4<tspan font-size="6" dy="-3">+</tspan></text>
<text x="714.8" y="2598.8" font-size="10.1" text-anchor="end" fill="#222">T cells, CD8<tspan font-size="6" dy="-3">+</tspan></text>
<text x="731.9" y="2617.5" font-size="10.1" fill="#222" transform="rotate(90 731.9 2617.5)">Myeloid cells</text>
<text x="766.8" y="2617.5" font-size="10.1" fill="#222" transform="rotate(90 766.8 2617.5)">Bregs</text>
<text x="801.6" y="2617.5" font-size="10.1" fill="#222" transform="rotate(90 801.6 2617.5)">NK cells</text>
<text x="836.5" y="2617.5" font-size="10.1" fill="#222" transform="rotate(90 836.5 2617.5)">T cells, CD4<tspan font-size="6" dy="-3">+</tspan></text>
<text x="871.4" y="2617.5" font-size="10.1" fill="#222" transform="rotate(90 871.4 2617.5)">T cells, CD8<tspan font-size="6" dy="-3">+</tspan></text>
<defs><linearGradient id="cbNormalcontrol" x1="0" y1="0" x2="0" y2="1"><stop offset="0" stop-color="#8e0c4e"/><stop offset="0.2" stop-color="#b0406a"/><stop offset="0.42" stop-color="#f0c8aa"/><stop offset="0.5" stop-color="#f7dab9"/><stop offset="0.68" stop-color="#b0aba8"/><stop offset="0.85" stop-color="#6079a0"/><stop offset="1" stop-color="#2a5a93"/></linearGradient></defs>
<rect x="897.3" y="2439.1" width="6" height="88.6" fill="url(#cbNormalcontrol)"/>
<path d="M903.3 2440.6h1.5" stroke="#333" stroke-width="0.5"/>
<text x="905.8" y="2442.2" font-size="4.6" font-weight="bold" fill="#222">60</text>
<path d="M903.3 2454.9h1.5" stroke="#333" stroke-width="0.5"/>
<text x="905.8" y="2456.5" font-size="4.6" font-weight="bold" fill="#222">50</text>
<path d="M903.3 2469.1h1.5" stroke="#333" stroke-width="0.5"/>
<text x="905.8" y="2470.7" font-size="4.6" font-weight="bold" fill="#222">40</text>
<path d="M903.3 2483.4h1.5" stroke="#333" stroke-width="0.5"/>
<text x="905.8" y="2485" font-size="4.6" font-weight="bold" fill="#222">30</text>
<path d="M903.3 2497.7h1.5" stroke="#333" stroke-width="0.5"/>
<text x="905.8" y="2499.3" font-size="4.6" font-weight="bold" fill="#222">20</text>
<path d="M903.3 2511.9h1.5" stroke="#333" stroke-width="0.5"/>
<text x="905.8" y="2513.5" font-size="4.6" font-weight="bold" fill="#222">10</text>
<path d="M903.3 2526.2h1.5" stroke="#333" stroke-width="0.5"/>
<text x="905.8" y="2527.8" font-size="4.6" font-weight="bold" fill="#222">0</text>
<rect x="751.9" y="2438" width="38.3" height="209.2" fill="none" stroke="#e8202a" stroke-width="1.3" stroke-dasharray="6 4.5"/>
</g>
</svg>
</body></html>
